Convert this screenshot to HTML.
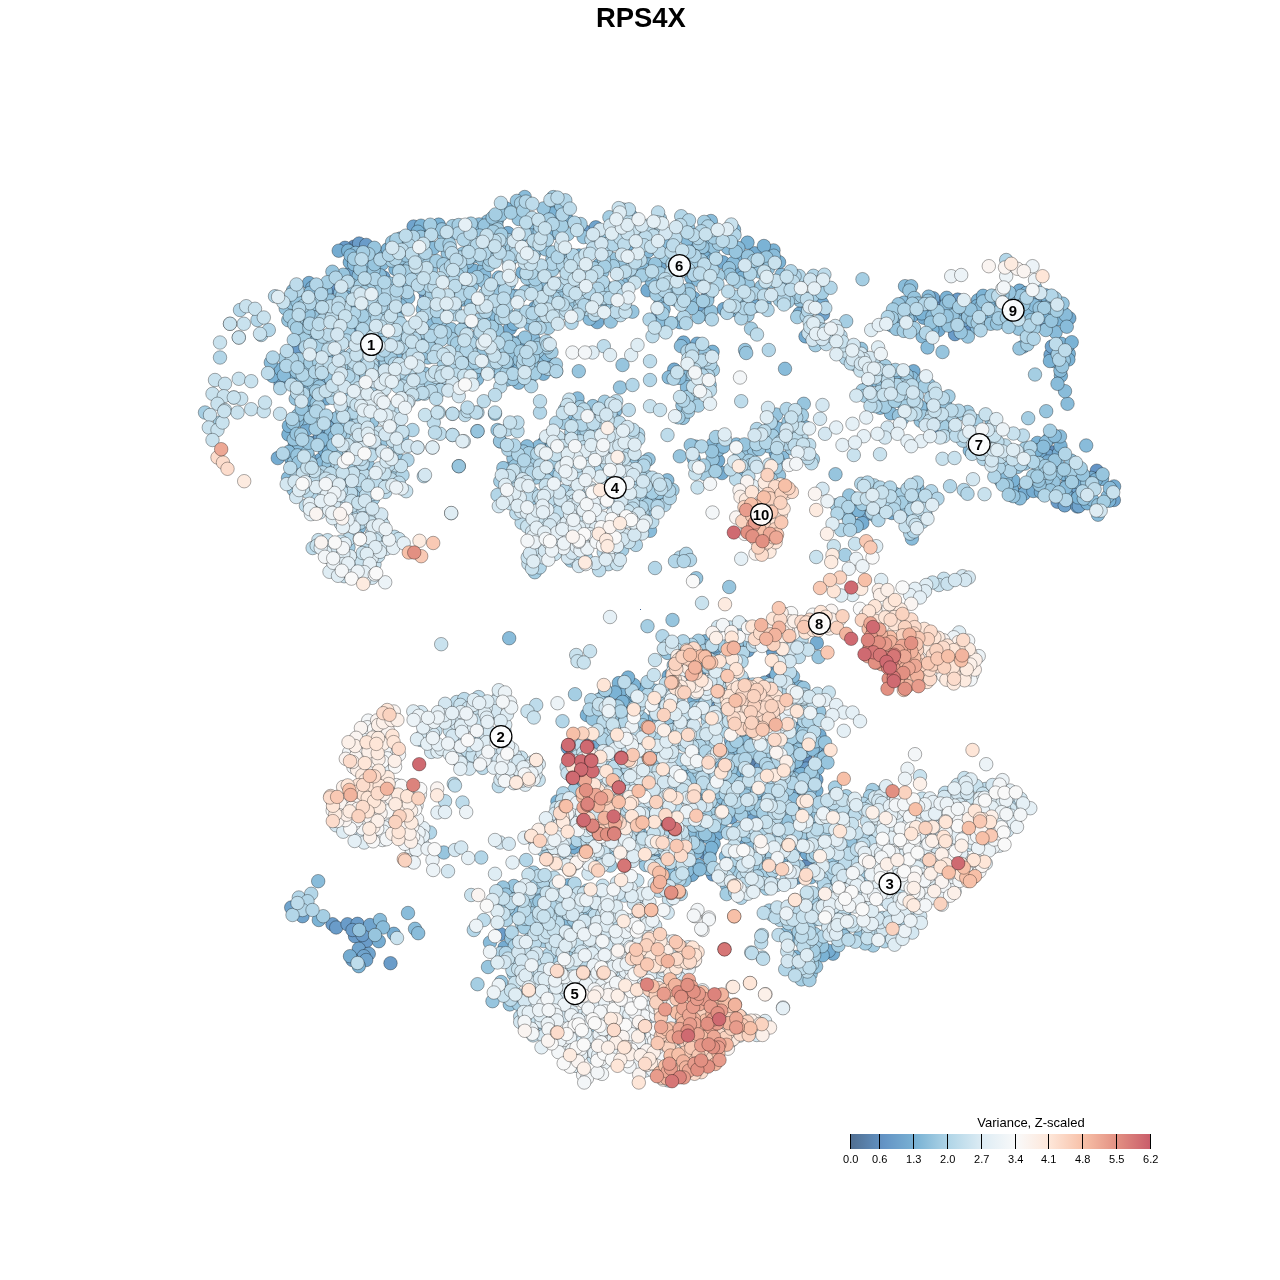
<!DOCTYPE html>
<html><head><meta charset="utf-8"><title>RPS4X</title>
<style>
html,body{margin:0;padding:0;background:#fff}
body{width:1280px;height:1280px;overflow:hidden}
svg{display:block;font-family:"Liberation Sans",sans-serif}
</style></head><body>
<svg width="1280" height="1280" viewBox="0 0 1280 1280">
<defs><linearGradient id="lg" x1="0" x2="1" y1="0" y2="0"><stop offset="0.0000" stop-color="#053061"/><stop offset="0.1111" stop-color="#2166AC"/><stop offset="0.2222" stop-color="#4393C3"/><stop offset="0.3333" stop-color="#92C5DE"/><stop offset="0.4444" stop-color="#D1E5F0"/><stop offset="0.5556" stop-color="#F7F7F7"/><stop offset="0.6667" stop-color="#FDDBC7"/><stop offset="0.7778" stop-color="#F4A582"/><stop offset="0.8889" stop-color="#D6604D"/><stop offset="1.0000" stop-color="#B2182B"/></linearGradient></defs>
<rect width="1280" height="1280" fill="#fff"/>
<text x="640.8" y="26.5" text-anchor="middle" font-size="27.4" font-weight="bold" fill="#000">RPS4X</text>
<g id="pts" stroke="#000" stroke-opacity="0.55" stroke-width="0.6">
<g fill="#5a81ab">
<circle cx="608.7" cy="698.2" r="6.75"/>
<circle cx="753.9" cy="762.7" r="6.75"/>
<circle cx="771.4" cy="680.1" r="6.75"/>
</g>
<g fill="#5f8ab8">
<circle cx="353.8" cy="246.7" r="6.75"/>
<circle cx="281.2" cy="379.8" r="6.75"/>
<circle cx="1040.8" cy="323.8" r="6.75"/>
<circle cx="935.3" cy="302.2" r="6.75"/>
<circle cx="1051.2" cy="452.2" r="6.75"/>
<circle cx="807.1" cy="865.2" r="6.75"/>
<circle cx="628.5" cy="704.1" r="6.75"/>
<circle cx="805.1" cy="756.4" r="6.75"/>
<circle cx="704.5" cy="853.0" r="6.75"/>
</g>
<g fill="#6494c5">
<circle cx="333.6" cy="287.4" r="6.75"/>
<circle cx="425.9" cy="295.4" r="6.75"/>
<circle cx="497.8" cy="348.1" r="6.75"/>
<circle cx="770.2" cy="414.7" r="6.75"/>
<circle cx="969.6" cy="327.3" r="6.75"/>
<circle cx="1027.1" cy="488.5" r="6.75"/>
<circle cx="1096.8" cy="470.7" r="6.75"/>
<circle cx="697.7" cy="778.4" r="6.75"/>
<circle cx="660.6" cy="877.7" r="6.75"/>
<circle cx="764.5" cy="730.9" r="6.75"/>
<circle cx="782.8" cy="789.8" r="6.75"/>
</g>
<g fill="#6a9cc9">
<circle cx="359.1" cy="243.5" r="6.75"/>
<circle cx="312.8" cy="442.7" r="6.75"/>
<circle cx="331.0" cy="419.2" r="6.75"/>
<circle cx="305.0" cy="362.6" r="6.75"/>
<circle cx="313.9" cy="349.2" r="6.75"/>
<circle cx="366.2" cy="244.9" r="6.75"/>
<circle cx="345.0" cy="247.8" r="6.75"/>
<circle cx="295.5" cy="349.5" r="6.75"/>
<circle cx="585.9" cy="232.0" r="6.75"/>
<circle cx="585.0" cy="290.5" r="6.75"/>
<circle cx="708.3" cy="294.7" r="6.75"/>
<circle cx="955.0" cy="334.2" r="6.75"/>
<circle cx="994.6" cy="299.2" r="6.75"/>
<circle cx="957.7" cy="299.6" r="6.75"/>
<circle cx="933.3" cy="429.0" r="6.75"/>
<circle cx="1051.5" cy="463.6" r="6.75"/>
<circle cx="1084.9" cy="487.5" r="6.75"/>
<circle cx="712.9" cy="874.5" r="6.75"/>
<circle cx="794.4" cy="788.1" r="6.75"/>
<circle cx="760.5" cy="767.7" r="6.75"/>
<circle cx="670.3" cy="682.1" r="6.75"/>
<circle cx="567.7" cy="747.7" r="6.75"/>
<circle cx="725.2" cy="651.6" r="6.75"/>
<circle cx="799.7" cy="728.2" r="6.75"/>
<circle cx="713.1" cy="707.9" r="6.75"/>
<circle cx="757.9" cy="785.0" r="6.75"/>
<circle cx="806.0" cy="768.6" r="6.75"/>
<circle cx="808.0" cy="775.2" r="6.75"/>
<circle cx="500.4" cy="934.0" r="6.75"/>
<circle cx="332.5" cy="924.2" r="6.75"/>
<circle cx="336.2" cy="927.5" r="6.75"/>
<circle cx="347.5" cy="924.2" r="6.75"/>
<circle cx="357.5" cy="923.8" r="6.75"/>
<circle cx="355.0" cy="936.2" r="6.75"/>
<circle cx="366.2" cy="941.2" r="6.75"/>
<circle cx="352.5" cy="930.0" r="6.75"/>
<circle cx="362.5" cy="935.0" r="6.75"/>
<circle cx="390.5" cy="963.2" r="6.75"/>
<circle cx="1057.5" cy="501.8" r="6.75"/>
</g>
<g fill="#70a4cd">
<circle cx="413.6" cy="226.5" r="6.75"/>
<circle cx="320.2" cy="436.2" r="6.75"/>
<circle cx="383.5" cy="277.3" r="6.75"/>
<circle cx="306.1" cy="406.9" r="6.75"/>
<circle cx="280.5" cy="383.9" r="6.75"/>
<circle cx="349.8" cy="273.4" r="6.75"/>
<circle cx="373.5" cy="252.7" r="6.75"/>
<circle cx="311.9" cy="475.3" r="6.75"/>
<circle cx="353.0" cy="332.0" r="6.75"/>
<circle cx="664.5" cy="249.9" r="6.75"/>
<circle cx="704.6" cy="310.0" r="6.75"/>
<circle cx="658.2" cy="314.0" r="6.75"/>
<circle cx="697.2" cy="247.1" r="6.75"/>
<circle cx="547.5" cy="280.5" r="6.75"/>
<circle cx="577.6" cy="268.2" r="6.75"/>
<circle cx="595.8" cy="227.3" r="6.75"/>
<circle cx="511.7" cy="366.1" r="6.75"/>
<circle cx="1041.9" cy="297.8" r="6.75"/>
<circle cx="1026.4" cy="332.2" r="6.75"/>
<circle cx="963.2" cy="320.4" r="6.75"/>
<circle cx="953.0" cy="307.9" r="6.75"/>
<circle cx="974.0" cy="314.9" r="6.75"/>
<circle cx="933.2" cy="298.2" r="6.75"/>
<circle cx="930.8" cy="309.0" r="6.75"/>
<circle cx="1038.5" cy="313.4" r="6.75"/>
<circle cx="1054.8" cy="351.1" r="6.75"/>
<circle cx="1050.5" cy="354.8" r="6.75"/>
<circle cx="1051.8" cy="346.6" r="6.75"/>
<circle cx="823.0" cy="314.1" r="6.75"/>
<circle cx="363.0" cy="492.3" r="6.75"/>
<circle cx="1113.9" cy="500.0" r="6.75"/>
<circle cx="880.1" cy="397.7" r="6.75"/>
<circle cx="1017.5" cy="494.9" r="6.75"/>
<circle cx="997.8" cy="474.2" r="6.75"/>
<circle cx="1048.2" cy="455.9" r="6.75"/>
<circle cx="1064.7" cy="505.4" r="6.75"/>
<circle cx="1077.3" cy="506.5" r="6.75"/>
<circle cx="1075.8" cy="493.3" r="6.75"/>
<circle cx="1100.0" cy="477.2" r="6.75"/>
<circle cx="1077.0" cy="486.9" r="6.75"/>
<circle cx="868.0" cy="513.7" r="6.75"/>
<circle cx="747.9" cy="650.4" r="6.75"/>
<circle cx="776.0" cy="703.0" r="6.75"/>
<circle cx="743.3" cy="847.7" r="6.75"/>
<circle cx="752.4" cy="816.5" r="6.75"/>
<circle cx="773.1" cy="651.8" r="6.75"/>
<circle cx="727.3" cy="782.5" r="6.75"/>
<circle cx="777.6" cy="667.8" r="6.75"/>
<circle cx="731.4" cy="817.3" r="6.75"/>
<circle cx="788.2" cy="864.2" r="6.75"/>
<circle cx="744.6" cy="840.3" r="6.75"/>
<circle cx="791.1" cy="795.2" r="6.75"/>
<circle cx="708.3" cy="776.5" r="6.75"/>
<circle cx="818.8" cy="750.4" r="6.75"/>
<circle cx="793.1" cy="770.6" r="6.75"/>
<circle cx="677.5" cy="674.3" r="6.75"/>
<circle cx="697.7" cy="839.0" r="6.75"/>
<circle cx="663.3" cy="746.0" r="6.75"/>
<circle cx="695.7" cy="870.5" r="6.75"/>
<circle cx="595.3" cy="714.1" r="6.75"/>
<circle cx="816.4" cy="779.7" r="6.75"/>
<circle cx="596.0" cy="864.1" r="6.75"/>
<circle cx="291.2" cy="907.5" r="6.75"/>
<circle cx="302.5" cy="916.2" r="6.75"/>
<circle cx="300.0" cy="900.0" r="6.75"/>
<circle cx="370.0" cy="925.0" r="6.75"/>
<circle cx="358.8" cy="948.8" r="6.75"/>
<circle cx="368.8" cy="953.8" r="6.75"/>
<circle cx="363.8" cy="956.2" r="6.75"/>
<circle cx="366.2" cy="960.0" r="6.75"/>
<circle cx="352.5" cy="960.0" r="6.75"/>
<circle cx="1078.8" cy="506.2" r="6.75"/>
</g>
<g fill="#75acd1">
<circle cx="320.2" cy="459.9" r="6.75"/>
<circle cx="293.4" cy="367.0" r="6.75"/>
<circle cx="319.7" cy="380.9" r="6.75"/>
<circle cx="312.6" cy="396.0" r="6.75"/>
<circle cx="406.3" cy="260.0" r="6.75"/>
<circle cx="371.4" cy="389.0" r="6.75"/>
<circle cx="277.8" cy="458.1" r="6.75"/>
<circle cx="309.0" cy="283.0" r="6.75"/>
<circle cx="404.9" cy="285.6" r="6.75"/>
<circle cx="483.7" cy="347.9" r="6.75"/>
<circle cx="372.8" cy="347.9" r="6.75"/>
<circle cx="356.7" cy="281.7" r="6.75"/>
<circle cx="465.7" cy="230.3" r="6.75"/>
<circle cx="335.6" cy="326.5" r="6.75"/>
<circle cx="349.1" cy="296.7" r="6.75"/>
<circle cx="406.4" cy="348.9" r="6.75"/>
<circle cx="478.9" cy="229.5" r="6.75"/>
<circle cx="363.3" cy="273.2" r="6.75"/>
<circle cx="313.0" cy="404.7" r="6.75"/>
<circle cx="324.8" cy="450.4" r="6.75"/>
<circle cx="465.8" cy="324.5" r="6.75"/>
<circle cx="303.0" cy="378.7" r="6.75"/>
<circle cx="421.4" cy="272.1" r="6.75"/>
<circle cx="327.7" cy="427.1" r="6.75"/>
<circle cx="306.8" cy="429.3" r="6.75"/>
<circle cx="428.6" cy="230.8" r="6.75"/>
<circle cx="426.9" cy="237.7" r="6.75"/>
<circle cx="312.2" cy="287.8" r="6.75"/>
<circle cx="303.3" cy="452.3" r="6.75"/>
<circle cx="338.7" cy="250.7" r="6.75"/>
<circle cx="326.1" cy="398.5" r="6.75"/>
<circle cx="722.9" cy="262.3" r="6.75"/>
<circle cx="693.7" cy="298.0" r="6.75"/>
<circle cx="723.8" cy="309.0" r="6.75"/>
<circle cx="754.6" cy="253.3" r="6.75"/>
<circle cx="659.7" cy="267.3" r="6.75"/>
<circle cx="535.0" cy="307.8" r="6.75"/>
<circle cx="509.9" cy="328.5" r="6.75"/>
<circle cx="529.1" cy="259.9" r="6.75"/>
<circle cx="741.2" cy="270.4" r="6.75"/>
<circle cx="597.2" cy="322.1" r="6.75"/>
<circle cx="799.5" cy="313.6" r="6.75"/>
<circle cx="805.5" cy="336.4" r="6.75"/>
<circle cx="755.7" cy="306.1" r="6.75"/>
<circle cx="665.6" cy="323.3" r="6.75"/>
<circle cx="749.9" cy="260.1" r="6.75"/>
<circle cx="647.5" cy="290.3" r="6.75"/>
<circle cx="507.9" cy="233.1" r="6.75"/>
<circle cx="531.2" cy="352.5" r="6.75"/>
<circle cx="519.4" cy="342.2" r="6.75"/>
<circle cx="546.1" cy="363.6" r="6.75"/>
<circle cx="683.5" cy="342.5" r="6.75"/>
<circle cx="697.1" cy="343.7" r="6.75"/>
<circle cx="674.2" cy="369.6" r="6.75"/>
<circle cx="542.4" cy="469.4" r="6.75"/>
<circle cx="722.0" cy="473.1" r="6.75"/>
<circle cx="718.1" cy="460.7" r="6.75"/>
<circle cx="775.8" cy="453.2" r="6.75"/>
<circle cx="985.3" cy="322.1" r="6.75"/>
<circle cx="923.7" cy="317.7" r="6.75"/>
<circle cx="1018.1" cy="301.7" r="6.75"/>
<circle cx="1019.5" cy="290.6" r="6.75"/>
<circle cx="926.4" cy="310.4" r="6.75"/>
<circle cx="911.3" cy="316.6" r="6.75"/>
<circle cx="1021.0" cy="308.5" r="6.75"/>
<circle cx="1069.3" cy="318.2" r="6.75"/>
<circle cx="938.6" cy="330.1" r="6.75"/>
<circle cx="1025.9" cy="321.7" r="6.75"/>
<circle cx="1062.1" cy="360.4" r="6.75"/>
<circle cx="821.9" cy="303.2" r="6.75"/>
<circle cx="913.5" cy="371.2" r="6.75"/>
<circle cx="354.9" cy="498.3" r="6.75"/>
<circle cx="663.9" cy="493.7" r="6.75"/>
<circle cx="1114.1" cy="486.4" r="6.75"/>
<circle cx="832.6" cy="825.6" r="6.75"/>
<circle cx="833.0" cy="953.7" r="6.75"/>
<circle cx="831.9" cy="834.9" r="6.75"/>
<circle cx="828.8" cy="950.9" r="6.75"/>
<circle cx="1076.7" cy="482.0" r="6.75"/>
<circle cx="1024.1" cy="493.8" r="6.75"/>
<circle cx="1039.5" cy="453.6" r="6.75"/>
<circle cx="1047.9" cy="461.5" r="6.75"/>
<circle cx="1043.5" cy="481.1" r="6.75"/>
<circle cx="1091.4" cy="477.9" r="6.75"/>
<circle cx="1058.9" cy="453.3" r="6.75"/>
<circle cx="1033.3" cy="491.0" r="6.75"/>
<circle cx="1040.9" cy="492.0" r="6.75"/>
<circle cx="1067.4" cy="484.0" r="6.75"/>
<circle cx="916.0" cy="507.6" r="6.75"/>
<circle cx="851.7" cy="511.7" r="6.75"/>
<circle cx="891.8" cy="513.0" r="6.75"/>
<circle cx="862.3" cy="523.0" r="6.75"/>
<circle cx="575.1" cy="847.7" r="6.75"/>
<circle cx="655.8" cy="827.4" r="6.75"/>
<circle cx="731.1" cy="740.7" r="6.75"/>
<circle cx="587.3" cy="772.3" r="6.75"/>
<circle cx="813.3" cy="801.2" r="6.75"/>
<circle cx="717.4" cy="652.2" r="6.75"/>
<circle cx="684.7" cy="773.2" r="6.75"/>
<circle cx="680.6" cy="711.6" r="6.75"/>
<circle cx="731.3" cy="651.9" r="6.75"/>
<circle cx="794.9" cy="640.5" r="6.75"/>
<circle cx="800.9" cy="872.4" r="6.75"/>
<circle cx="667.2" cy="821.3" r="6.75"/>
<circle cx="718.3" cy="731.6" r="6.75"/>
<circle cx="703.0" cy="792.9" r="6.75"/>
<circle cx="806.7" cy="853.5" r="6.75"/>
<circle cx="691.9" cy="874.9" r="6.75"/>
<circle cx="716.8" cy="645.5" r="6.75"/>
<circle cx="753.6" cy="788.8" r="6.75"/>
<circle cx="743.3" cy="681.2" r="6.75"/>
<circle cx="709.7" cy="851.9" r="6.75"/>
<circle cx="699.5" cy="671.5" r="6.75"/>
<circle cx="657.4" cy="854.7" r="6.75"/>
<circle cx="580.8" cy="740.6" r="6.75"/>
<circle cx="602.8" cy="697.3" r="6.75"/>
<circle cx="755.2" cy="797.2" r="6.75"/>
<circle cx="619.2" cy="837.1" r="6.75"/>
<circle cx="765.9" cy="644.2" r="6.75"/>
<circle cx="786.1" cy="753.4" r="6.75"/>
<circle cx="717.7" cy="833.5" r="6.75"/>
<circle cx="796.8" cy="877.7" r="6.75"/>
<circle cx="682.2" cy="659.2" r="6.75"/>
<circle cx="819.5" cy="735.3" r="6.75"/>
<circle cx="704.6" cy="829.7" r="6.75"/>
<circle cx="816.4" cy="746.3" r="6.75"/>
<circle cx="668.6" cy="676.1" r="6.75"/>
<circle cx="592.8" cy="747.2" r="6.75"/>
<circle cx="816.8" cy="642.9" r="6.75"/>
<circle cx="508.4" cy="915.8" r="6.75"/>
<circle cx="504.6" cy="947.4" r="6.75"/>
<circle cx="378.8" cy="941.2" r="6.75"/>
<circle cx="393.8" cy="933.8" r="6.75"/>
<circle cx="350.0" cy="956.2" r="6.75"/>
</g>
<g fill="#7bb3d5">
<circle cx="324.3" cy="299.5" r="6.75"/>
<circle cx="410.0" cy="258.0" r="6.75"/>
<circle cx="377.3" cy="256.2" r="6.75"/>
<circle cx="400.7" cy="238.4" r="6.75"/>
<circle cx="387.7" cy="249.3" r="6.75"/>
<circle cx="396.3" cy="310.6" r="6.75"/>
<circle cx="438.7" cy="224.6" r="6.75"/>
<circle cx="368.4" cy="296.9" r="6.75"/>
<circle cx="498.0" cy="315.8" r="6.75"/>
<circle cx="314.3" cy="419.2" r="6.75"/>
<circle cx="463.0" cy="299.6" r="6.75"/>
<circle cx="458.6" cy="282.4" r="6.75"/>
<circle cx="496.9" cy="220.4" r="6.75"/>
<circle cx="291.3" cy="459.1" r="6.75"/>
<circle cx="365.3" cy="306.3" r="6.75"/>
<circle cx="348.2" cy="250.7" r="6.75"/>
<circle cx="380.5" cy="367.1" r="6.75"/>
<circle cx="371.0" cy="326.9" r="6.75"/>
<circle cx="288.4" cy="434.4" r="6.75"/>
<circle cx="314.4" cy="298.9" r="6.75"/>
<circle cx="364.6" cy="282.5" r="6.75"/>
<circle cx="315.3" cy="465.5" r="6.75"/>
<circle cx="305.9" cy="310.3" r="6.75"/>
<circle cx="429.2" cy="330.6" r="6.75"/>
<circle cx="316.2" cy="337.3" r="6.75"/>
<circle cx="272.7" cy="376.0" r="6.75"/>
<circle cx="349.8" cy="262.2" r="6.75"/>
<circle cx="329.1" cy="451.9" r="6.75"/>
<circle cx="344.9" cy="369.4" r="6.75"/>
<circle cx="331.2" cy="353.2" r="6.75"/>
<circle cx="425.7" cy="340.2" r="6.75"/>
<circle cx="377.5" cy="298.6" r="6.75"/>
<circle cx="474.0" cy="270.6" r="6.75"/>
<circle cx="288.9" cy="425.9" r="6.75"/>
<circle cx="280.9" cy="369.5" r="6.75"/>
<circle cx="421.0" cy="225.7" r="6.75"/>
<circle cx="294.5" cy="446.2" r="6.75"/>
<circle cx="395.4" cy="268.9" r="6.75"/>
<circle cx="466.5" cy="287.2" r="6.75"/>
<circle cx="305.9" cy="323.7" r="6.75"/>
<circle cx="377.6" cy="352.5" r="6.75"/>
<circle cx="352.7" cy="307.0" r="6.75"/>
<circle cx="293.6" cy="380.0" r="6.75"/>
<circle cx="375.9" cy="330.2" r="6.75"/>
<circle cx="306.0" cy="399.8" r="6.75"/>
<circle cx="417.8" cy="231.7" r="6.75"/>
<circle cx="391.5" cy="322.6" r="6.75"/>
<circle cx="303.1" cy="445.8" r="6.75"/>
<circle cx="497.3" cy="287.9" r="6.75"/>
<circle cx="764.5" cy="303.3" r="6.75"/>
<circle cx="519.8" cy="238.9" r="6.75"/>
<circle cx="773.5" cy="250.4" r="6.75"/>
<circle cx="743.8" cy="258.1" r="6.75"/>
<circle cx="513.9" cy="323.7" r="6.75"/>
<circle cx="732.7" cy="310.0" r="6.75"/>
<circle cx="599.2" cy="265.0" r="6.75"/>
<circle cx="763.9" cy="246.0" r="6.75"/>
<circle cx="691.3" cy="277.7" r="6.75"/>
<circle cx="630.7" cy="243.4" r="6.75"/>
<circle cx="552.7" cy="203.3" r="6.75"/>
<circle cx="506.3" cy="208.6" r="6.75"/>
<circle cx="779.1" cy="262.2" r="6.75"/>
<circle cx="747.5" cy="242.6" r="6.75"/>
<circle cx="579.0" cy="255.4" r="6.75"/>
<circle cx="567.2" cy="219.8" r="6.75"/>
<circle cx="558.5" cy="218.5" r="6.75"/>
<circle cx="522.4" cy="272.4" r="6.75"/>
<circle cx="713.0" cy="254.9" r="6.75"/>
<circle cx="553.2" cy="233.0" r="6.75"/>
<circle cx="532.8" cy="282.7" r="6.75"/>
<circle cx="703.7" cy="250.9" r="6.75"/>
<circle cx="679.9" cy="322.2" r="6.75"/>
<circle cx="515.6" cy="296.1" r="6.75"/>
<circle cx="742.3" cy="277.7" r="6.75"/>
<circle cx="559.3" cy="201.7" r="6.75"/>
<circle cx="535.3" cy="264.2" r="6.75"/>
<circle cx="552.8" cy="213.5" r="6.75"/>
<circle cx="510.2" cy="341.5" r="6.75"/>
<circle cx="512.9" cy="359.5" r="6.75"/>
<circle cx="519.3" cy="369.1" r="6.75"/>
<circle cx="543.5" cy="373.8" r="6.75"/>
<circle cx="700.5" cy="393.4" r="6.75"/>
<circle cx="712.6" cy="351.8" r="6.75"/>
<circle cx="568.5" cy="447.0" r="6.75"/>
<circle cx="573.1" cy="418.9" r="6.75"/>
<circle cx="522.2" cy="464.8" r="6.75"/>
<circle cx="629.9" cy="456.8" r="6.75"/>
<circle cx="500.6" cy="441.6" r="6.75"/>
<circle cx="543.9" cy="443.1" r="6.75"/>
<circle cx="779.3" cy="438.1" r="6.75"/>
<circle cx="741.5" cy="477.8" r="6.75"/>
<circle cx="772.1" cy="441.5" r="6.75"/>
<circle cx="693.7" cy="458.6" r="6.75"/>
<circle cx="992.4" cy="306.8" r="6.75"/>
<circle cx="887.9" cy="321.5" r="6.75"/>
<circle cx="984.2" cy="314.4" r="6.75"/>
<circle cx="1047.8" cy="318.7" r="6.75"/>
<circle cx="920.9" cy="308.0" r="6.75"/>
<circle cx="978.0" cy="300.3" r="6.75"/>
<circle cx="1047.8" cy="302.8" r="6.75"/>
<circle cx="1062.1" cy="311.8" r="6.75"/>
<circle cx="932.4" cy="329.6" r="6.75"/>
<circle cx="1058.5" cy="319.3" r="6.75"/>
<circle cx="1030.2" cy="301.8" r="6.75"/>
<circle cx="976.8" cy="306.2" r="6.75"/>
<circle cx="989.4" cy="299.8" r="6.75"/>
<circle cx="1026.3" cy="293.0" r="6.75"/>
<circle cx="946.7" cy="297.8" r="6.75"/>
<circle cx="955.5" cy="311.5" r="6.75"/>
<circle cx="1045.4" cy="295.2" r="6.75"/>
<circle cx="1023.2" cy="346.6" r="6.75"/>
<circle cx="899.8" cy="311.1" r="6.75"/>
<circle cx="983.1" cy="295.8" r="6.75"/>
<circle cx="1030.9" cy="309.3" r="6.75"/>
<circle cx="1005.8" cy="321.7" r="6.75"/>
<circle cx="921.8" cy="313.4" r="6.75"/>
<circle cx="1059.9" cy="348.2" r="6.75"/>
<circle cx="1054.2" cy="361.1" r="6.75"/>
<circle cx="1068.8" cy="353.8" r="6.75"/>
<circle cx="1067.6" cy="345.9" r="6.75"/>
<circle cx="1061.3" cy="343.8" r="6.75"/>
<circle cx="1068.4" cy="359.5" r="6.75"/>
<circle cx="1049.9" cy="361.0" r="6.75"/>
<circle cx="1071.7" cy="342.2" r="6.75"/>
<circle cx="1060.9" cy="375.7" r="6.75"/>
<circle cx="903.3" cy="379.0" r="6.75"/>
<circle cx="896.9" cy="379.1" r="6.75"/>
<circle cx="1102.0" cy="478.9" r="6.75"/>
<circle cx="1109.2" cy="500.7" r="6.75"/>
<circle cx="862.8" cy="931.9" r="6.75"/>
<circle cx="827.8" cy="882.2" r="6.75"/>
<circle cx="822.7" cy="955.3" r="6.75"/>
<circle cx="929.8" cy="409.3" r="6.75"/>
<circle cx="950.0" cy="431.7" r="6.75"/>
<circle cx="902.0" cy="402.3" r="6.75"/>
<circle cx="1095.9" cy="479.7" r="6.75"/>
<circle cx="1013.2" cy="484.8" r="6.75"/>
<circle cx="1063.9" cy="473.8" r="6.75"/>
<circle cx="1065.3" cy="492.7" r="6.75"/>
<circle cx="1078.1" cy="497.4" r="6.75"/>
<circle cx="1011.9" cy="489.6" r="6.75"/>
<circle cx="1037.4" cy="442.9" r="6.75"/>
<circle cx="1037.0" cy="450.2" r="6.75"/>
<circle cx="1071.6" cy="476.0" r="6.75"/>
<circle cx="1049.4" cy="438.2" r="6.75"/>
<circle cx="1087.4" cy="503.3" r="6.75"/>
<circle cx="1013.3" cy="480.4" r="6.75"/>
<circle cx="1060.5" cy="445.9" r="6.75"/>
<circle cx="852.2" cy="524.1" r="6.75"/>
<circle cx="850.4" cy="503.4" r="6.75"/>
<circle cx="858.6" cy="510.6" r="6.75"/>
<circle cx="906.3" cy="504.6" r="6.75"/>
<circle cx="725.6" cy="701.1" r="6.75"/>
<circle cx="783.8" cy="666.9" r="6.75"/>
<circle cx="667.7" cy="761.2" r="6.75"/>
<circle cx="565.5" cy="806.6" r="6.75"/>
<circle cx="730.3" cy="751.9" r="6.75"/>
<circle cx="613.5" cy="720.1" r="6.75"/>
<circle cx="686.6" cy="666.8" r="6.75"/>
<circle cx="602.8" cy="711.5" r="6.75"/>
<circle cx="705.1" cy="641.3" r="6.75"/>
<circle cx="807.1" cy="784.7" r="6.75"/>
<circle cx="713.7" cy="843.7" r="6.75"/>
<circle cx="708.9" cy="837.6" r="6.75"/>
<circle cx="765.3" cy="696.1" r="6.75"/>
<circle cx="764.7" cy="682.6" r="6.75"/>
<circle cx="625.0" cy="712.4" r="6.75"/>
<circle cx="740.4" cy="768.5" r="6.75"/>
<circle cx="800.9" cy="774.0" r="6.75"/>
<circle cx="649.2" cy="721.5" r="6.75"/>
<circle cx="711.5" cy="847.9" r="6.75"/>
<circle cx="698.2" cy="865.6" r="6.75"/>
<circle cx="739.7" cy="772.7" r="6.75"/>
<circle cx="791.1" cy="804.7" r="6.75"/>
<circle cx="761.8" cy="828.3" r="6.75"/>
<circle cx="743.3" cy="787.1" r="6.75"/>
<circle cx="636.0" cy="740.6" r="6.75"/>
<circle cx="718.2" cy="662.2" r="6.75"/>
<circle cx="746.7" cy="808.7" r="6.75"/>
<circle cx="783.8" cy="741.6" r="6.75"/>
<circle cx="758.8" cy="752.6" r="6.75"/>
<circle cx="690.0" cy="788.8" r="6.75"/>
<circle cx="799.6" cy="687.0" r="6.75"/>
<circle cx="726.7" cy="690.4" r="6.75"/>
<circle cx="557.4" cy="801.4" r="6.75"/>
<circle cx="776.4" cy="674.3" r="6.75"/>
<circle cx="722.2" cy="669.1" r="6.75"/>
<circle cx="745.0" cy="723.6" r="6.75"/>
<circle cx="803.7" cy="841.2" r="6.75"/>
<circle cx="605.1" cy="772.3" r="6.75"/>
<circle cx="664.9" cy="873.2" r="6.75"/>
<circle cx="765.1" cy="757.3" r="6.75"/>
<circle cx="747.9" cy="699.9" r="6.75"/>
<circle cx="587.7" cy="737.4" r="6.75"/>
<circle cx="655.3" cy="701.6" r="6.75"/>
<circle cx="816.4" cy="790.6" r="6.75"/>
<circle cx="745.2" cy="778.6" r="6.75"/>
<circle cx="754.5" cy="708.5" r="6.75"/>
<circle cx="734.2" cy="772.9" r="6.75"/>
<circle cx="572.8" cy="842.7" r="6.75"/>
<circle cx="573.2" cy="831.7" r="6.75"/>
<circle cx="746.8" cy="694.7" r="6.75"/>
<circle cx="752.1" cy="692.7" r="6.75"/>
<circle cx="694.3" cy="699.8" r="6.75"/>
<circle cx="804.6" cy="794.5" r="6.75"/>
<circle cx="782.7" cy="857.2" r="6.75"/>
<circle cx="644.6" cy="688.7" r="6.75"/>
<circle cx="741.0" cy="693.7" r="6.75"/>
<circle cx="671.2" cy="842.6" r="6.75"/>
<circle cx="780.5" cy="818.4" r="6.75"/>
<circle cx="795.1" cy="849.8" r="6.75"/>
<circle cx="748.0" cy="1034.0" r="6.75"/>
<circle cx="568.3" cy="885.2" r="6.75"/>
<circle cx="796.6" cy="936.5" r="6.75"/>
<circle cx="796.0" cy="956.9" r="6.75"/>
<circle cx="318.8" cy="920.0" r="6.75"/>
<circle cx="358.8" cy="966.2" r="6.75"/>
<circle cx="898.8" cy="496.2" r="6.75"/>
<circle cx="618.8" cy="683.1" r="6.75"/>
<circle cx="626.2" cy="692.5" r="6.75"/>
<circle cx="633.8" cy="685.0" r="6.75"/>
<circle cx="630.0" cy="700.0" r="6.75"/>
<circle cx="586.9" cy="715.0" r="6.75"/>
<circle cx="663.0" cy="692.5" r="6.75"/>
<circle cx="615.0" cy="692.5" r="6.75"/>
<circle cx="635.6" cy="696.2" r="6.75"/>
<circle cx="628.1" cy="677.5" r="6.75"/>
<circle cx="622.5" cy="701.9" r="6.75"/>
</g>
<g fill="#89bcda">
<circle cx="340.2" cy="292.7" r="6.75"/>
<circle cx="454.7" cy="296.6" r="6.75"/>
<circle cx="467.2" cy="261.9" r="6.75"/>
<circle cx="333.0" cy="462.7" r="6.75"/>
<circle cx="292.4" cy="309.3" r="6.75"/>
<circle cx="416.0" cy="350.8" r="6.75"/>
<circle cx="303.6" cy="418.2" r="6.75"/>
<circle cx="307.3" cy="373.4" r="6.75"/>
<circle cx="310.1" cy="292.8" r="6.75"/>
<circle cx="358.8" cy="275.5" r="6.75"/>
<circle cx="432.3" cy="322.1" r="6.75"/>
<circle cx="318.2" cy="310.7" r="6.75"/>
<circle cx="483.9" cy="269.2" r="6.75"/>
<circle cx="487.5" cy="221.4" r="6.75"/>
<circle cx="473.7" cy="256.3" r="6.75"/>
<circle cx="490.5" cy="254.0" r="6.75"/>
<circle cx="355.7" cy="252.9" r="6.75"/>
<circle cx="332.9" cy="312.6" r="6.75"/>
<circle cx="434.6" cy="341.8" r="6.75"/>
<circle cx="479.1" cy="224.4" r="6.75"/>
<circle cx="477.0" cy="379.2" r="6.75"/>
<circle cx="489.5" cy="315.5" r="6.75"/>
<circle cx="330.9" cy="433.3" r="6.75"/>
<circle cx="447.9" cy="239.0" r="6.75"/>
<circle cx="408.2" cy="297.8" r="6.75"/>
<circle cx="309.9" cy="387.8" r="6.75"/>
<circle cx="361.0" cy="427.2" r="6.75"/>
<circle cx="371.6" cy="256.5" r="6.75"/>
<circle cx="367.7" cy="258.6" r="6.75"/>
<circle cx="308.4" cy="456.9" r="6.75"/>
<circle cx="322.7" cy="439.5" r="6.75"/>
<circle cx="288.0" cy="478.0" r="6.75"/>
<circle cx="352.8" cy="420.9" r="6.75"/>
<circle cx="383.6" cy="313.2" r="6.75"/>
<circle cx="470.8" cy="301.8" r="6.75"/>
<circle cx="382.0" cy="263.8" r="6.75"/>
<circle cx="418.7" cy="381.0" r="6.75"/>
<circle cx="422.8" cy="309.1" r="6.75"/>
<circle cx="288.9" cy="451.9" r="6.75"/>
<circle cx="408.8" cy="374.6" r="6.75"/>
<circle cx="358.7" cy="323.0" r="6.75"/>
<circle cx="350.5" cy="255.5" r="6.75"/>
<circle cx="433.4" cy="248.1" r="6.75"/>
<circle cx="270.8" cy="362.5" r="6.75"/>
<circle cx="455.0" cy="307.9" r="6.75"/>
<circle cx="404.0" cy="335.7" r="6.75"/>
<circle cx="393.8" cy="341.7" r="6.75"/>
<circle cx="342.4" cy="332.3" r="6.75"/>
<circle cx="322.2" cy="463.3" r="6.75"/>
<circle cx="293.0" cy="290.7" r="6.75"/>
<circle cx="484.4" cy="275.2" r="6.75"/>
<circle cx="325.8" cy="291.1" r="6.75"/>
<circle cx="493.3" cy="371.0" r="6.75"/>
<circle cx="470.5" cy="247.2" r="6.75"/>
<circle cx="484.0" cy="320.8" r="6.75"/>
<circle cx="334.8" cy="436.5" r="6.75"/>
<circle cx="354.1" cy="264.3" r="6.75"/>
<circle cx="379.8" cy="275.2" r="6.75"/>
<circle cx="400.4" cy="305.3" r="6.75"/>
<circle cx="298.6" cy="383.9" r="6.75"/>
<circle cx="336.1" cy="357.1" r="6.75"/>
<circle cx="392.8" cy="431.7" r="6.75"/>
<circle cx="362.7" cy="265.0" r="6.75"/>
<circle cx="485.1" cy="300.0" r="6.75"/>
<circle cx="434.6" cy="297.4" r="6.75"/>
<circle cx="283.9" cy="375.2" r="6.75"/>
<circle cx="395.5" cy="355.3" r="6.75"/>
<circle cx="300.3" cy="337.5" r="6.75"/>
<circle cx="367.3" cy="268.4" r="6.75"/>
<circle cx="343.9" cy="300.0" r="6.75"/>
<circle cx="486.3" cy="245.3" r="6.75"/>
<circle cx="317.5" cy="375.7" r="6.75"/>
<circle cx="298.3" cy="473.5" r="6.75"/>
<circle cx="324.6" cy="313.1" r="6.75"/>
<circle cx="299.1" cy="443.9" r="6.75"/>
<circle cx="450.5" cy="378.7" r="6.75"/>
<circle cx="498.7" cy="277.4" r="6.75"/>
<circle cx="314.7" cy="342.6" r="6.75"/>
<circle cx="297.2" cy="420.5" r="6.75"/>
<circle cx="311.3" cy="412.7" r="6.75"/>
<circle cx="427.9" cy="290.5" r="6.75"/>
<circle cx="473.7" cy="373.3" r="6.75"/>
<circle cx="647.3" cy="251.6" r="6.75"/>
<circle cx="630.9" cy="215.8" r="6.75"/>
<circle cx="651.7" cy="280.9" r="6.75"/>
<circle cx="742.8" cy="284.4" r="6.75"/>
<circle cx="773.7" cy="255.7" r="6.75"/>
<circle cx="530.3" cy="324.6" r="6.75"/>
<circle cx="691.3" cy="301.7" r="6.75"/>
<circle cx="781.4" cy="275.0" r="6.75"/>
<circle cx="627.9" cy="283.8" r="6.75"/>
<circle cx="710.9" cy="221.0" r="6.75"/>
<circle cx="535.6" cy="230.0" r="6.75"/>
<circle cx="532.5" cy="222.2" r="6.75"/>
<circle cx="510.4" cy="295.5" r="6.75"/>
<circle cx="542.8" cy="283.4" r="6.75"/>
<circle cx="524.7" cy="197.0" r="6.75"/>
<circle cx="675.7" cy="299.7" r="6.75"/>
<circle cx="660.1" cy="304.5" r="6.75"/>
<circle cx="728.0" cy="248.0" r="6.75"/>
<circle cx="668.1" cy="242.6" r="6.75"/>
<circle cx="662.3" cy="320.9" r="6.75"/>
<circle cx="613.7" cy="240.3" r="6.75"/>
<circle cx="647.3" cy="264.4" r="6.75"/>
<circle cx="734.0" cy="229.6" r="6.75"/>
<circle cx="556.7" cy="265.5" r="6.75"/>
<circle cx="733.2" cy="263.1" r="6.75"/>
<circle cx="687.3" cy="239.7" r="6.75"/>
<circle cx="643.2" cy="268.7" r="6.75"/>
<circle cx="800.8" cy="283.0" r="6.75"/>
<circle cx="709.0" cy="245.5" r="6.75"/>
<circle cx="663.6" cy="309.3" r="6.75"/>
<circle cx="741.1" cy="298.5" r="6.75"/>
<circle cx="762.7" cy="264.5" r="6.75"/>
<circle cx="674.6" cy="295.0" r="6.75"/>
<circle cx="507.0" cy="279.6" r="6.75"/>
<circle cx="787.1" cy="285.8" r="6.75"/>
<circle cx="589.6" cy="318.8" r="6.75"/>
<circle cx="698.1" cy="280.1" r="6.75"/>
<circle cx="606.0" cy="307.9" r="6.75"/>
<circle cx="738.4" cy="248.1" r="6.75"/>
<circle cx="665.4" cy="295.3" r="6.75"/>
<circle cx="709.1" cy="266.4" r="6.75"/>
<circle cx="531.8" cy="361.6" r="6.75"/>
<circle cx="533.8" cy="344.0" r="6.75"/>
<circle cx="542.2" cy="348.0" r="6.75"/>
<circle cx="529.7" cy="378.6" r="6.75"/>
<circle cx="533.3" cy="338.6" r="6.75"/>
<circle cx="540.5" cy="355.3" r="6.75"/>
<circle cx="546.8" cy="354.8" r="6.75"/>
<circle cx="518.6" cy="382.7" r="6.75"/>
<circle cx="680.9" cy="346.1" r="6.75"/>
<circle cx="686.6" cy="376.6" r="6.75"/>
<circle cx="687.0" cy="387.2" r="6.75"/>
<circle cx="679.5" cy="377.9" r="6.75"/>
<circle cx="668.7" cy="377.4" r="6.75"/>
<circle cx="693.6" cy="392.0" r="6.75"/>
<circle cx="538.9" cy="446.4" r="6.75"/>
<circle cx="577.5" cy="398.4" r="6.75"/>
<circle cx="527.0" cy="446.3" r="6.75"/>
<circle cx="628.9" cy="450.4" r="6.75"/>
<circle cx="615.2" cy="411.1" r="6.75"/>
<circle cx="627.6" cy="477.1" r="6.75"/>
<circle cx="569.1" cy="413.2" r="6.75"/>
<circle cx="568.1" cy="458.1" r="6.75"/>
<circle cx="639.7" cy="464.2" r="6.75"/>
<circle cx="547.8" cy="474.0" r="6.75"/>
<circle cx="555.7" cy="471.2" r="6.75"/>
<circle cx="774.3" cy="426.6" r="6.75"/>
<circle cx="718.4" cy="449.7" r="6.75"/>
<circle cx="778.5" cy="428.6" r="6.75"/>
<circle cx="695.3" cy="446.5" r="6.75"/>
<circle cx="713.1" cy="443.9" r="6.75"/>
<circle cx="736.3" cy="444.4" r="6.75"/>
<circle cx="723.3" cy="446.7" r="6.75"/>
<circle cx="898.2" cy="320.6" r="6.75"/>
<circle cx="946.3" cy="304.7" r="6.75"/>
<circle cx="904.0" cy="302.6" r="6.75"/>
<circle cx="1065.6" cy="315.0" r="6.75"/>
<circle cx="1055.6" cy="332.3" r="6.75"/>
<circle cx="1013.3" cy="318.8" r="6.75"/>
<circle cx="1021.7" cy="317.1" r="6.75"/>
<circle cx="1016.8" cy="309.3" r="6.75"/>
<circle cx="950.8" cy="320.5" r="6.75"/>
<circle cx="976.9" cy="327.6" r="6.75"/>
<circle cx="932.5" cy="316.3" r="6.75"/>
<circle cx="994.3" cy="315.3" r="6.75"/>
<circle cx="1008.6" cy="298.9" r="6.75"/>
<circle cx="1027.2" cy="311.5" r="6.75"/>
<circle cx="1066.8" cy="326.7" r="6.75"/>
<circle cx="922.6" cy="336.5" r="6.75"/>
<circle cx="928.6" cy="296.6" r="6.75"/>
<circle cx="1034.5" cy="305.4" r="6.75"/>
<circle cx="955.5" cy="319.6" r="6.75"/>
<circle cx="903.0" cy="325.9" r="6.75"/>
<circle cx="891.7" cy="325.5" r="6.75"/>
<circle cx="1048.3" cy="306.9" r="6.75"/>
<circle cx="981.4" cy="306.4" r="6.75"/>
<circle cx="1062.5" cy="353.5" r="6.75"/>
<circle cx="1060.4" cy="370.6" r="6.75"/>
<circle cx="874.5" cy="380.0" r="6.75"/>
<circle cx="912.1" cy="378.1" r="6.75"/>
<circle cx="878.7" cy="374.8" r="6.75"/>
<circle cx="881.3" cy="378.6" r="6.75"/>
<circle cx="359.0" cy="527.7" r="6.75"/>
<circle cx="650.0" cy="530.8" r="6.75"/>
<circle cx="667.3" cy="480.3" r="6.75"/>
<circle cx="647.8" cy="495.7" r="6.75"/>
<circle cx="1107.7" cy="496.4" r="6.75"/>
<circle cx="1109.8" cy="488.0" r="6.75"/>
<circle cx="832.4" cy="918.5" r="6.75"/>
<circle cx="880.0" cy="407.8" r="6.75"/>
<circle cx="940.1" cy="409.6" r="6.75"/>
<circle cx="890.8" cy="413.4" r="6.75"/>
<circle cx="920.6" cy="406.9" r="6.75"/>
<circle cx="866.4" cy="388.7" r="6.75"/>
<circle cx="782.6" cy="457.6" r="6.75"/>
<circle cx="805.2" cy="427.1" r="6.75"/>
<circle cx="1001.1" cy="481.1" r="6.75"/>
<circle cx="1045.9" cy="442.1" r="6.75"/>
<circle cx="1060.0" cy="436.4" r="6.75"/>
<circle cx="1054.7" cy="435.9" r="6.75"/>
<circle cx="1043.4" cy="446.8" r="6.75"/>
<circle cx="1098.0" cy="514.7" r="6.75"/>
<circle cx="969.8" cy="450.6" r="6.75"/>
<circle cx="1065.7" cy="487.7" r="6.75"/>
<circle cx="1005.5" cy="472.1" r="6.75"/>
<circle cx="1057.5" cy="464.0" r="6.75"/>
<circle cx="1050.2" cy="485.0" r="6.75"/>
<circle cx="1092.1" cy="499.5" r="6.75"/>
<circle cx="1019.9" cy="498.4" r="6.75"/>
<circle cx="1005.6" cy="477.8" r="6.75"/>
<circle cx="907.5" cy="499.3" r="6.75"/>
<circle cx="856.7" cy="526.2" r="6.75"/>
<circle cx="853.4" cy="498.2" r="6.75"/>
<circle cx="911.9" cy="538.6" r="6.75"/>
<circle cx="845.1" cy="513.6" r="6.75"/>
<circle cx="866.7" cy="503.5" r="6.75"/>
<circle cx="895.0" cy="493.8" r="6.75"/>
<circle cx="917.5" cy="488.4" r="6.75"/>
<circle cx="906.6" cy="514.3" r="6.75"/>
<circle cx="686.5" cy="850.2" r="6.75"/>
<circle cx="805.3" cy="751.1" r="6.75"/>
<circle cx="743.4" cy="745.4" r="6.75"/>
<circle cx="762.3" cy="855.2" r="6.75"/>
<circle cx="809.7" cy="790.0" r="6.75"/>
<circle cx="690.2" cy="813.4" r="6.75"/>
<circle cx="795.8" cy="731.2" r="6.75"/>
<circle cx="752.1" cy="777.7" r="6.75"/>
<circle cx="799.7" cy="810.5" r="6.75"/>
<circle cx="812.7" cy="749.6" r="6.75"/>
<circle cx="689.5" cy="866.7" r="6.75"/>
<circle cx="560.4" cy="813.2" r="6.75"/>
<circle cx="751.0" cy="842.2" r="6.75"/>
<circle cx="721.1" cy="797.6" r="6.75"/>
<circle cx="750.5" cy="739.3" r="6.75"/>
<circle cx="764.0" cy="787.4" r="6.75"/>
<circle cx="577.7" cy="793.1" r="6.75"/>
<circle cx="692.9" cy="770.6" r="6.75"/>
<circle cx="798.1" cy="801.3" r="6.75"/>
<circle cx="739.5" cy="754.9" r="6.75"/>
<circle cx="672.2" cy="875.2" r="6.75"/>
<circle cx="702.4" cy="801.7" r="6.75"/>
<circle cx="817.6" cy="768.4" r="6.75"/>
<circle cx="661.1" cy="709.7" r="6.75"/>
<circle cx="820.0" cy="759.6" r="6.75"/>
<circle cx="701.0" cy="833.1" r="6.75"/>
<circle cx="809.3" cy="830.8" r="6.75"/>
<circle cx="815.7" cy="811.3" r="6.75"/>
<circle cx="810.8" cy="877.3" r="6.75"/>
<circle cx="704.3" cy="646.1" r="6.75"/>
<circle cx="762.6" cy="748.3" r="6.75"/>
<circle cx="716.7" cy="763.4" r="6.75"/>
<circle cx="774.8" cy="778.4" r="6.75"/>
<circle cx="694.4" cy="789.4" r="6.75"/>
<circle cx="728.4" cy="757.0" r="6.75"/>
<circle cx="740.6" cy="705.2" r="6.75"/>
<circle cx="667.2" cy="748.6" r="6.75"/>
<circle cx="782.2" cy="751.2" r="6.75"/>
<circle cx="796.3" cy="761.6" r="6.75"/>
<circle cx="708.7" cy="868.8" r="6.75"/>
<circle cx="764.3" cy="774.0" r="6.75"/>
<circle cx="696.4" cy="852.0" r="6.75"/>
<circle cx="803.1" cy="877.2" r="6.75"/>
<circle cx="743.3" cy="737.3" r="6.75"/>
<circle cx="687.1" cy="677.8" r="6.75"/>
<circle cx="735.6" cy="645.8" r="6.75"/>
<circle cx="687.3" cy="870.5" r="6.75"/>
<circle cx="631.7" cy="834.6" r="6.75"/>
<circle cx="788.7" cy="656.4" r="6.75"/>
<circle cx="725.9" cy="856.4" r="6.75"/>
<circle cx="687.4" cy="688.1" r="6.75"/>
<circle cx="719.0" cy="709.9" r="6.75"/>
<circle cx="554.0" cy="834.1" r="6.75"/>
<circle cx="713.8" cy="660.4" r="6.75"/>
<circle cx="768.8" cy="783.0" r="6.75"/>
<circle cx="770.0" cy="757.2" r="6.75"/>
<circle cx="689.5" cy="833.9" r="6.75"/>
<circle cx="637.6" cy="754.8" r="6.75"/>
<circle cx="766.7" cy="791.0" r="6.75"/>
<circle cx="804.6" cy="745.7" r="6.75"/>
<circle cx="575.8" cy="772.6" r="6.75"/>
<circle cx="793.4" cy="799.1" r="6.75"/>
<circle cx="727.0" cy="885.3" r="6.75"/>
<circle cx="720.4" cy="825.4" r="6.75"/>
<circle cx="776.7" cy="757.0" r="6.75"/>
<circle cx="783.3" cy="695.2" r="6.75"/>
<circle cx="698.6" cy="750.0" r="6.75"/>
<circle cx="811.2" cy="826.1" r="6.75"/>
<circle cx="663.2" cy="860.8" r="6.75"/>
<circle cx="769.4" cy="844.8" r="6.75"/>
<circle cx="798.0" cy="741.4" r="6.75"/>
<circle cx="699.7" cy="869.4" r="6.75"/>
<circle cx="793.0" cy="676.4" r="6.75"/>
<circle cx="770.5" cy="743.1" r="6.75"/>
<circle cx="619.0" cy="723.1" r="6.75"/>
<circle cx="682.1" cy="717.8" r="6.75"/>
<circle cx="797.0" cy="844.2" r="6.75"/>
<circle cx="640.3" cy="833.7" r="6.75"/>
<circle cx="724.9" cy="682.9" r="6.75"/>
<circle cx="558.1" cy="913.0" r="6.75"/>
<circle cx="545.1" cy="886.1" r="6.75"/>
<circle cx="567.6" cy="923.5" r="6.75"/>
<circle cx="515.5" cy="912.1" r="6.75"/>
<circle cx="543.4" cy="890.4" r="6.75"/>
<circle cx="511.1" cy="890.5" r="6.75"/>
<circle cx="537.0" cy="894.7" r="6.75"/>
<circle cx="808.2" cy="950.8" r="6.75"/>
<circle cx="785.4" cy="934.0" r="6.75"/>
<circle cx="800.4" cy="913.5" r="6.75"/>
<circle cx="785.0" cy="368.8" r="6.75"/>
<circle cx="927.5" cy="347.5" r="6.75"/>
<circle cx="905.0" cy="286.2" r="6.75"/>
<circle cx="911.2" cy="286.2" r="6.75"/>
<circle cx="509.2" cy="638.2" r="6.75"/>
<circle cx="318.2" cy="881.2" r="6.75"/>
<circle cx="380.0" cy="920.0" r="6.75"/>
<circle cx="383.0" cy="927.5" r="6.75"/>
<circle cx="408.0" cy="913.0" r="6.75"/>
<circle cx="415.0" cy="928.8" r="6.75"/>
<circle cx="418.2" cy="933.2" r="6.75"/>
<circle cx="490.0" cy="942.5" r="6.75"/>
<circle cx="1086.2" cy="445.5" r="6.75"/>
<circle cx="1067.5" cy="403.8" r="6.75"/>
<circle cx="1065.0" cy="391.2" r="6.75"/>
<circle cx="1057.5" cy="383.8" r="6.75"/>
<circle cx="916.2" cy="497.5" r="6.75"/>
</g>
<g fill="#97c5de">
<circle cx="298.0" cy="415.3" r="6.75"/>
<circle cx="420.7" cy="259.6" r="6.75"/>
<circle cx="344.0" cy="323.0" r="6.75"/>
<circle cx="295.7" cy="398.7" r="6.75"/>
<circle cx="303.2" cy="369.5" r="6.75"/>
<circle cx="379.6" cy="337.6" r="6.75"/>
<circle cx="482.2" cy="259.0" r="6.75"/>
<circle cx="476.9" cy="341.4" r="6.75"/>
<circle cx="293.1" cy="423.1" r="6.75"/>
<circle cx="467.5" cy="358.3" r="6.75"/>
<circle cx="316.7" cy="403.0" r="6.75"/>
<circle cx="302.6" cy="297.7" r="6.75"/>
<circle cx="471.9" cy="286.1" r="6.75"/>
<circle cx="296.5" cy="371.4" r="6.75"/>
<circle cx="428.0" cy="357.5" r="6.75"/>
<circle cx="402.1" cy="436.5" r="6.75"/>
<circle cx="373.6" cy="269.8" r="6.75"/>
<circle cx="293.7" cy="462.6" r="6.75"/>
<circle cx="374.3" cy="247.8" r="6.75"/>
<circle cx="417.4" cy="394.3" r="6.75"/>
<circle cx="481.4" cy="338.9" r="6.75"/>
<circle cx="398.7" cy="341.6" r="6.75"/>
<circle cx="351.5" cy="285.0" r="6.75"/>
<circle cx="359.7" cy="311.4" r="6.75"/>
<circle cx="442.0" cy="323.4" r="6.75"/>
<circle cx="474.8" cy="337.9" r="6.75"/>
<circle cx="314.9" cy="306.9" r="6.75"/>
<circle cx="374.4" cy="264.2" r="6.75"/>
<circle cx="316.1" cy="328.1" r="6.75"/>
<circle cx="490.2" cy="241.1" r="6.75"/>
<circle cx="320.2" cy="315.0" r="6.75"/>
<circle cx="343.1" cy="421.1" r="6.75"/>
<circle cx="443.9" cy="307.5" r="6.75"/>
<circle cx="462.4" cy="371.4" r="6.75"/>
<circle cx="394.0" cy="287.3" r="6.75"/>
<circle cx="313.7" cy="384.1" r="6.75"/>
<circle cx="479.1" cy="366.9" r="6.75"/>
<circle cx="298.0" cy="438.4" r="6.75"/>
<circle cx="297.4" cy="455.3" r="6.75"/>
<circle cx="425.1" cy="373.8" r="6.75"/>
<circle cx="420.7" cy="236.9" r="6.75"/>
<circle cx="288.3" cy="320.2" r="6.75"/>
<circle cx="370.2" cy="332.4" r="6.75"/>
<circle cx="328.8" cy="464.1" r="6.75"/>
<circle cx="477.4" cy="305.1" r="6.75"/>
<circle cx="443.9" cy="235.5" r="6.75"/>
<circle cx="484.6" cy="225.6" r="6.75"/>
<circle cx="390.0" cy="363.8" r="6.75"/>
<circle cx="285.7" cy="308.5" r="6.75"/>
<circle cx="425.0" cy="352.7" r="6.75"/>
<circle cx="469.8" cy="362.5" r="6.75"/>
<circle cx="410.3" cy="285.4" r="6.75"/>
<circle cx="454.2" cy="389.5" r="6.75"/>
<circle cx="403.2" cy="266.0" r="6.75"/>
<circle cx="330.0" cy="300.6" r="6.75"/>
<circle cx="496.4" cy="225.2" r="6.75"/>
<circle cx="364.6" cy="356.1" r="6.75"/>
<circle cx="307.4" cy="452.4" r="6.75"/>
<circle cx="337.5" cy="417.8" r="6.75"/>
<circle cx="291.8" cy="302.7" r="6.75"/>
<circle cx="325.2" cy="342.5" r="6.75"/>
<circle cx="313.0" cy="317.0" r="6.75"/>
<circle cx="438.3" cy="318.6" r="6.75"/>
<circle cx="441.9" cy="229.4" r="6.75"/>
<circle cx="390.3" cy="283.6" r="6.75"/>
<circle cx="409.8" cy="262.8" r="6.75"/>
<circle cx="372.0" cy="421.9" r="6.75"/>
<circle cx="447.8" cy="253.2" r="6.75"/>
<circle cx="430.9" cy="269.8" r="6.75"/>
<circle cx="298.6" cy="462.4" r="6.75"/>
<circle cx="392.1" cy="242.2" r="6.75"/>
<circle cx="437.7" cy="381.9" r="6.75"/>
<circle cx="397.7" cy="415.3" r="6.75"/>
<circle cx="338.5" cy="450.5" r="6.75"/>
<circle cx="423.1" cy="288.7" r="6.75"/>
<circle cx="303.4" cy="314.6" r="6.75"/>
<circle cx="429.8" cy="298.3" r="6.75"/>
<circle cx="400.4" cy="258.1" r="6.75"/>
<circle cx="333.4" cy="445.1" r="6.75"/>
<circle cx="382.0" cy="441.5" r="6.75"/>
<circle cx="301.7" cy="408.7" r="6.75"/>
<circle cx="308.5" cy="314.3" r="6.75"/>
<circle cx="367.7" cy="464.9" r="6.75"/>
<circle cx="343.3" cy="274.7" r="6.75"/>
<circle cx="406.0" cy="255.4" r="6.75"/>
<circle cx="492.6" cy="217.7" r="6.75"/>
<circle cx="447.6" cy="385.4" r="6.75"/>
<circle cx="398.7" cy="460.1" r="6.75"/>
<circle cx="293.7" cy="439.3" r="6.75"/>
<circle cx="297.5" cy="301.9" r="6.75"/>
<circle cx="349.1" cy="413.2" r="6.75"/>
<circle cx="344.7" cy="397.6" r="6.75"/>
<circle cx="319.5" cy="386.7" r="6.75"/>
<circle cx="451.2" cy="329.2" r="6.75"/>
<circle cx="321.1" cy="287.9" r="6.75"/>
<circle cx="462.8" cy="253.7" r="6.75"/>
<circle cx="497.5" cy="368.7" r="6.75"/>
<circle cx="296.7" cy="433.9" r="6.75"/>
<circle cx="497.0" cy="330.2" r="6.75"/>
<circle cx="308.4" cy="442.8" r="6.75"/>
<circle cx="332.4" cy="271.7" r="6.75"/>
<circle cx="482.9" cy="352.5" r="6.75"/>
<circle cx="331.0" cy="379.0" r="6.75"/>
<circle cx="369.0" cy="286.1" r="6.75"/>
<circle cx="496.9" cy="292.6" r="6.75"/>
<circle cx="479.6" cy="235.5" r="6.75"/>
<circle cx="483.7" cy="281.2" r="6.75"/>
<circle cx="747.9" cy="284.6" r="6.75"/>
<circle cx="612.8" cy="304.5" r="6.75"/>
<circle cx="538.7" cy="305.6" r="6.75"/>
<circle cx="684.3" cy="290.9" r="6.75"/>
<circle cx="688.4" cy="228.4" r="6.75"/>
<circle cx="558.3" cy="261.0" r="6.75"/>
<circle cx="500.9" cy="214.7" r="6.75"/>
<circle cx="735.7" cy="251.8" r="6.75"/>
<circle cx="559.2" cy="233.1" r="6.75"/>
<circle cx="756.6" cy="266.1" r="6.75"/>
<circle cx="543.5" cy="208.4" r="6.75"/>
<circle cx="714.1" cy="247.5" r="6.75"/>
<circle cx="655.7" cy="231.8" r="6.75"/>
<circle cx="544.4" cy="243.1" r="6.75"/>
<circle cx="605.4" cy="239.5" r="6.75"/>
<circle cx="560.6" cy="294.2" r="6.75"/>
<circle cx="707.5" cy="314.5" r="6.75"/>
<circle cx="622.2" cy="262.2" r="6.75"/>
<circle cx="530.7" cy="249.8" r="6.75"/>
<circle cx="748.1" cy="256.3" r="6.75"/>
<circle cx="631.6" cy="274.7" r="6.75"/>
<circle cx="781.1" cy="294.9" r="6.75"/>
<circle cx="561.0" cy="205.4" r="6.75"/>
<circle cx="688.6" cy="289.7" r="6.75"/>
<circle cx="677.0" cy="258.9" r="6.75"/>
<circle cx="516.9" cy="200.9" r="6.75"/>
<circle cx="711.0" cy="311.5" r="6.75"/>
<circle cx="729.0" cy="268.2" r="6.75"/>
<circle cx="698.3" cy="317.2" r="6.75"/>
<circle cx="534.4" cy="253.3" r="6.75"/>
<circle cx="800.1" cy="300.4" r="6.75"/>
<circle cx="561.8" cy="298.4" r="6.75"/>
<circle cx="761.4" cy="286.8" r="6.75"/>
<circle cx="597.8" cy="251.4" r="6.75"/>
<circle cx="566.2" cy="252.6" r="6.75"/>
<circle cx="518.7" cy="219.0" r="6.75"/>
<circle cx="691.9" cy="308.0" r="6.75"/>
<circle cx="591.8" cy="302.2" r="6.75"/>
<circle cx="620.7" cy="220.0" r="6.75"/>
<circle cx="509.0" cy="284.0" r="6.75"/>
<circle cx="632.4" cy="311.7" r="6.75"/>
<circle cx="759.5" cy="271.6" r="6.75"/>
<circle cx="552.3" cy="258.9" r="6.75"/>
<circle cx="574.3" cy="304.2" r="6.75"/>
<circle cx="671.1" cy="291.3" r="6.75"/>
<circle cx="766.4" cy="257.5" r="6.75"/>
<circle cx="537.6" cy="269.2" r="6.75"/>
<circle cx="506.9" cy="313.5" r="6.75"/>
<circle cx="771.2" cy="281.6" r="6.75"/>
<circle cx="767.9" cy="268.7" r="6.75"/>
<circle cx="608.6" cy="288.2" r="6.75"/>
<circle cx="602.2" cy="272.3" r="6.75"/>
<circle cx="612.5" cy="258.9" r="6.75"/>
<circle cx="655.2" cy="264.0" r="6.75"/>
<circle cx="729.9" cy="274.8" r="6.75"/>
<circle cx="736.1" cy="301.6" r="6.75"/>
<circle cx="505.4" cy="252.2" r="6.75"/>
<circle cx="702.5" cy="247.1" r="6.75"/>
<circle cx="536.7" cy="248.0" r="6.75"/>
<circle cx="561.6" cy="249.7" r="6.75"/>
<circle cx="610.8" cy="321.6" r="6.75"/>
<circle cx="545.6" cy="249.3" r="6.75"/>
<circle cx="707.3" cy="300.2" r="6.75"/>
<circle cx="619.2" cy="286.1" r="6.75"/>
<circle cx="583.6" cy="237.1" r="6.75"/>
<circle cx="539.7" cy="231.8" r="6.75"/>
<circle cx="524.9" cy="337.5" r="6.75"/>
<circle cx="512.4" cy="352.7" r="6.75"/>
<circle cx="507.2" cy="379.5" r="6.75"/>
<circle cx="519.6" cy="360.0" r="6.75"/>
<circle cx="514.0" cy="343.8" r="6.75"/>
<circle cx="512.9" cy="379.1" r="6.75"/>
<circle cx="539.4" cy="344.4" r="6.75"/>
<circle cx="531.7" cy="366.1" r="6.75"/>
<circle cx="699.2" cy="368.7" r="6.75"/>
<circle cx="695.7" cy="360.9" r="6.75"/>
<circle cx="683.0" cy="417.9" r="6.75"/>
<circle cx="701.4" cy="397.8" r="6.75"/>
<circle cx="705.4" cy="353.5" r="6.75"/>
<circle cx="682.4" cy="405.4" r="6.75"/>
<circle cx="709.7" cy="385.3" r="6.75"/>
<circle cx="508.3" cy="468.7" r="6.75"/>
<circle cx="632.0" cy="464.0" r="6.75"/>
<circle cx="552.3" cy="446.1" r="6.75"/>
<circle cx="648.6" cy="459.3" r="6.75"/>
<circle cx="577.2" cy="426.1" r="6.75"/>
<circle cx="596.9" cy="438.5" r="6.75"/>
<circle cx="605.7" cy="409.6" r="6.75"/>
<circle cx="592.9" cy="406.1" r="6.75"/>
<circle cx="503.3" cy="468.1" r="6.75"/>
<circle cx="582.8" cy="458.2" r="6.75"/>
<circle cx="513.4" cy="458.1" r="6.75"/>
<circle cx="620.2" cy="463.6" r="6.75"/>
<circle cx="523.2" cy="451.5" r="6.75"/>
<circle cx="581.4" cy="433.2" r="6.75"/>
<circle cx="558.0" cy="460.0" r="6.75"/>
<circle cx="615.0" cy="420.6" r="6.75"/>
<circle cx="578.0" cy="420.4" r="6.75"/>
<circle cx="587.8" cy="463.1" r="6.75"/>
<circle cx="515.2" cy="466.0" r="6.75"/>
<circle cx="748.1" cy="449.4" r="6.75"/>
<circle cx="753.9" cy="450.1" r="6.75"/>
<circle cx="768.7" cy="446.2" r="6.75"/>
<circle cx="679.8" cy="456.3" r="6.75"/>
<circle cx="690.7" cy="445.2" r="6.75"/>
<circle cx="779.0" cy="475.5" r="6.75"/>
<circle cx="712.6" cy="459.4" r="6.75"/>
<circle cx="776.1" cy="414.5" r="6.75"/>
<circle cx="759.0" cy="449.3" r="6.75"/>
<circle cx="744.3" cy="444.4" r="6.75"/>
<circle cx="712.0" cy="451.3" r="6.75"/>
<circle cx="778.4" cy="461.7" r="6.75"/>
<circle cx="909.4" cy="290.5" r="6.75"/>
<circle cx="949.1" cy="301.4" r="6.75"/>
<circle cx="907.5" cy="318.5" r="6.75"/>
<circle cx="968.1" cy="316.7" r="6.75"/>
<circle cx="972.7" cy="321.0" r="6.75"/>
<circle cx="914.3" cy="298.0" r="6.75"/>
<circle cx="1018.6" cy="328.7" r="6.75"/>
<circle cx="896.3" cy="328.9" r="6.75"/>
<circle cx="948.3" cy="325.6" r="6.75"/>
<circle cx="1031.4" cy="320.0" r="6.75"/>
<circle cx="1039.6" cy="308.2" r="6.75"/>
<circle cx="1035.2" cy="287.7" r="6.75"/>
<circle cx="928.0" cy="300.8" r="6.75"/>
<circle cx="967.9" cy="336.6" r="6.75"/>
<circle cx="960.7" cy="332.3" r="6.75"/>
<circle cx="952.6" cy="315.6" r="6.75"/>
<circle cx="1021.1" cy="295.8" r="6.75"/>
<circle cx="946.6" cy="316.2" r="6.75"/>
<circle cx="990.7" cy="323.8" r="6.75"/>
<circle cx="1009.3" cy="292.4" r="6.75"/>
<circle cx="1062.6" cy="303.6" r="6.75"/>
<circle cx="970.4" cy="309.6" r="6.75"/>
<circle cx="1045.8" cy="330.0" r="6.75"/>
<circle cx="1053.2" cy="308.4" r="6.75"/>
<circle cx="997.1" cy="323.5" r="6.75"/>
<circle cx="1019.4" cy="348.5" r="6.75"/>
<circle cx="911.0" cy="308.3" r="6.75"/>
<circle cx="983.2" cy="301.4" r="6.75"/>
<circle cx="918.1" cy="303.5" r="6.75"/>
<circle cx="930.9" cy="322.6" r="6.75"/>
<circle cx="1051.4" cy="320.8" r="6.75"/>
<circle cx="1002.5" cy="294.8" r="6.75"/>
<circle cx="1023.4" cy="304.2" r="6.75"/>
<circle cx="898.5" cy="304.2" r="6.75"/>
<circle cx="1063.8" cy="360.4" r="6.75"/>
<circle cx="1062.2" cy="366.3" r="6.75"/>
<circle cx="824.0" cy="286.7" r="6.75"/>
<circle cx="861.1" cy="348.8" r="6.75"/>
<circle cx="906.7" cy="375.2" r="6.75"/>
<circle cx="923.2" cy="379.8" r="6.75"/>
<circle cx="1102.6" cy="474.3" r="6.75"/>
<circle cx="359.0" cy="489.6" r="6.75"/>
<circle cx="361.6" cy="568.1" r="6.75"/>
<circle cx="293.6" cy="489.8" r="6.75"/>
<circle cx="369.2" cy="500.0" r="6.75"/>
<circle cx="336.4" cy="554.8" r="6.75"/>
<circle cx="342.8" cy="481.9" r="6.75"/>
<circle cx="653.9" cy="498.7" r="6.75"/>
<circle cx="658.8" cy="492.7" r="6.75"/>
<circle cx="653.3" cy="510.9" r="6.75"/>
<circle cx="646.5" cy="510.2" r="6.75"/>
<circle cx="534.9" cy="504.6" r="6.75"/>
<circle cx="831.4" cy="924.5" r="6.75"/>
<circle cx="844.5" cy="915.3" r="6.75"/>
<circle cx="866.2" cy="835.8" r="6.75"/>
<circle cx="834.1" cy="858.1" r="6.75"/>
<circle cx="859.9" cy="936.8" r="6.75"/>
<circle cx="842.9" cy="932.3" r="6.75"/>
<circle cx="822.1" cy="946.2" r="6.75"/>
<circle cx="850.6" cy="841.7" r="6.75"/>
<circle cx="825.7" cy="873.6" r="6.75"/>
<circle cx="868.5" cy="841.1" r="6.75"/>
<circle cx="844.1" cy="936.2" r="6.75"/>
<circle cx="945.0" cy="402.5" r="6.75"/>
<circle cx="920.6" cy="420.8" r="6.75"/>
<circle cx="882.4" cy="387.3" r="6.75"/>
<circle cx="929.1" cy="385.0" r="6.75"/>
<circle cx="944.4" cy="421.6" r="6.75"/>
<circle cx="902.0" cy="419.1" r="6.75"/>
<circle cx="899.0" cy="415.8" r="6.75"/>
<circle cx="887.3" cy="391.8" r="6.75"/>
<circle cx="790.6" cy="434.0" r="6.75"/>
<circle cx="788.5" cy="422.1" r="6.75"/>
<circle cx="1055.9" cy="474.9" r="6.75"/>
<circle cx="1025.0" cy="463.6" r="6.75"/>
<circle cx="1053.7" cy="482.2" r="6.75"/>
<circle cx="1006.9" cy="485.4" r="6.75"/>
<circle cx="1083.8" cy="498.6" r="6.75"/>
<circle cx="1071.2" cy="460.6" r="6.75"/>
<circle cx="989.1" cy="456.8" r="6.75"/>
<circle cx="1008.7" cy="461.4" r="6.75"/>
<circle cx="1046.7" cy="478.3" r="6.75"/>
<circle cx="1087.3" cy="482.6" r="6.75"/>
<circle cx="1017.5" cy="466.9" r="6.75"/>
<circle cx="1050.3" cy="490.4" r="6.75"/>
<circle cx="1098.2" cy="505.2" r="6.75"/>
<circle cx="1076.9" cy="472.5" r="6.75"/>
<circle cx="1039.5" cy="484.8" r="6.75"/>
<circle cx="1054.7" cy="460.4" r="6.75"/>
<circle cx="1038.5" cy="480.8" r="6.75"/>
<circle cx="1013.3" cy="496.2" r="6.75"/>
<circle cx="991.4" cy="420.1" r="6.75"/>
<circle cx="1083.0" cy="474.6" r="6.75"/>
<circle cx="915.2" cy="484.4" r="6.75"/>
<circle cx="902.1" cy="509.1" r="6.75"/>
<circle cx="912.4" cy="501.2" r="6.75"/>
<circle cx="919.0" cy="497.0" r="6.75"/>
<circle cx="925.6" cy="514.6" r="6.75"/>
<circle cx="875.8" cy="516.2" r="6.75"/>
<circle cx="878.5" cy="512.6" r="6.75"/>
<circle cx="914.0" cy="491.0" r="6.75"/>
<circle cx="849.2" cy="495.4" r="6.75"/>
<circle cx="793.8" cy="778.4" r="6.75"/>
<circle cx="737.5" cy="642.2" r="6.75"/>
<circle cx="747.3" cy="791.1" r="6.75"/>
<circle cx="641.4" cy="732.5" r="6.75"/>
<circle cx="812.8" cy="776.3" r="6.75"/>
<circle cx="756.0" cy="809.4" r="6.75"/>
<circle cx="731.7" cy="746.0" r="6.75"/>
<circle cx="637.9" cy="847.1" r="6.75"/>
<circle cx="786.6" cy="649.1" r="6.75"/>
<circle cx="692.3" cy="778.1" r="6.75"/>
<circle cx="620.3" cy="718.7" r="6.75"/>
<circle cx="648.3" cy="857.0" r="6.75"/>
<circle cx="766.4" cy="854.2" r="6.75"/>
<circle cx="733.7" cy="763.7" r="6.75"/>
<circle cx="698.5" cy="847.1" r="6.75"/>
<circle cx="654.9" cy="690.7" r="6.75"/>
<circle cx="786.6" cy="698.2" r="6.75"/>
<circle cx="802.0" cy="814.4" r="6.75"/>
<circle cx="815.6" cy="741.3" r="6.75"/>
<circle cx="736.1" cy="710.6" r="6.75"/>
<circle cx="710.0" cy="858.7" r="6.75"/>
<circle cx="779.0" cy="834.8" r="6.75"/>
<circle cx="592.7" cy="719.0" r="6.75"/>
<circle cx="713.5" cy="807.6" r="6.75"/>
<circle cx="664.7" cy="649.8" r="6.75"/>
<circle cx="681.0" cy="868.4" r="6.75"/>
<circle cx="590.9" cy="779.3" r="6.75"/>
<circle cx="783.2" cy="823.8" r="6.75"/>
<circle cx="737.6" cy="828.7" r="6.75"/>
<circle cx="730.7" cy="769.7" r="6.75"/>
<circle cx="813.0" cy="816.0" r="6.75"/>
<circle cx="730.7" cy="861.3" r="6.75"/>
<circle cx="647.3" cy="815.9" r="6.75"/>
<circle cx="705.2" cy="834.1" r="6.75"/>
<circle cx="755.2" cy="733.0" r="6.75"/>
<circle cx="695.6" cy="669.1" r="6.75"/>
<circle cx="678.1" cy="660.2" r="6.75"/>
<circle cx="763.3" cy="848.9" r="6.75"/>
<circle cx="625.7" cy="800.3" r="6.75"/>
<circle cx="668.2" cy="724.5" r="6.75"/>
<circle cx="724.5" cy="809.7" r="6.75"/>
<circle cx="818.5" cy="657.0" r="6.75"/>
<circle cx="576.2" cy="782.7" r="6.75"/>
<circle cx="650.6" cy="698.4" r="6.75"/>
<circle cx="788.3" cy="686.3" r="6.75"/>
<circle cx="716.4" cy="792.6" r="6.75"/>
<circle cx="601.8" cy="844.0" r="6.75"/>
<circle cx="667.5" cy="652.9" r="6.75"/>
<circle cx="641.8" cy="718.2" r="6.75"/>
<circle cx="608.5" cy="852.8" r="6.75"/>
<circle cx="636.6" cy="818.0" r="6.75"/>
<circle cx="745.7" cy="795.5" r="6.75"/>
<circle cx="667.6" cy="718.1" r="6.75"/>
<circle cx="819.2" cy="711.5" r="6.75"/>
<circle cx="788.1" cy="814.5" r="6.75"/>
<circle cx="584.1" cy="777.9" r="6.75"/>
<circle cx="774.5" cy="763.5" r="6.75"/>
<circle cx="746.4" cy="836.2" r="6.75"/>
<circle cx="642.9" cy="756.6" r="6.75"/>
<circle cx="629.7" cy="756.8" r="6.75"/>
<circle cx="693.6" cy="707.7" r="6.75"/>
<circle cx="797.9" cy="749.7" r="6.75"/>
<circle cx="684.5" cy="880.1" r="6.75"/>
<circle cx="695.3" cy="800.1" r="6.75"/>
<circle cx="733.9" cy="736.7" r="6.75"/>
<circle cx="766.3" cy="708.2" r="6.75"/>
<circle cx="794.0" cy="752.4" r="6.75"/>
<circle cx="749.8" cy="643.1" r="6.75"/>
<circle cx="747.8" cy="686.9" r="6.75"/>
<circle cx="755.2" cy="872.2" r="6.75"/>
<circle cx="742.6" cy="803.5" r="6.75"/>
<circle cx="694.2" cy="661.6" r="6.75"/>
<circle cx="784.2" cy="670.9" r="6.75"/>
<circle cx="728.2" cy="804.4" r="6.75"/>
<circle cx="629.0" cy="825.6" r="6.75"/>
<circle cx="645.9" cy="865.0" r="6.75"/>
<circle cx="774.6" cy="796.0" r="6.75"/>
<circle cx="661.1" cy="776.5" r="6.75"/>
<circle cx="675.7" cy="708.5" r="6.75"/>
<circle cx="649.7" cy="795.3" r="6.75"/>
<circle cx="592.5" cy="834.9" r="6.75"/>
<circle cx="768.2" cy="692.4" r="6.75"/>
<circle cx="629.3" cy="797.4" r="6.75"/>
<circle cx="803.5" cy="687.8" r="6.75"/>
<circle cx="697.8" cy="809.8" r="6.75"/>
<circle cx="606.4" cy="738.3" r="6.75"/>
<circle cx="705.3" cy="772.4" r="6.75"/>
<circle cx="655.3" cy="758.5" r="6.75"/>
<circle cx="658.9" cy="719.3" r="6.75"/>
<circle cx="757.2" cy="790.7" r="6.75"/>
<circle cx="573.2" cy="778.4" r="6.75"/>
<circle cx="785.9" cy="728.8" r="6.75"/>
<circle cx="788.5" cy="821.0" r="6.75"/>
<circle cx="501.1" cy="982.0" r="6.75"/>
<circle cx="513.8" cy="886.0" r="6.75"/>
<circle cx="534.9" cy="906.5" r="6.75"/>
<circle cx="530.4" cy="903.7" r="6.75"/>
<circle cx="511.3" cy="938.5" r="6.75"/>
<circle cx="576.9" cy="897.9" r="6.75"/>
<circle cx="503.0" cy="887.4" r="6.75"/>
<circle cx="552.3" cy="882.3" r="6.75"/>
<circle cx="505.5" cy="894.6" r="6.75"/>
<circle cx="539.4" cy="901.5" r="6.75"/>
<circle cx="573.7" cy="919.9" r="6.75"/>
<circle cx="509.8" cy="1004.4" r="6.75"/>
<circle cx="518.3" cy="963.2" r="6.75"/>
<circle cx="810.7" cy="974.0" r="6.75"/>
<circle cx="807.5" cy="918.8" r="6.75"/>
<circle cx="794.0" cy="970.6" r="6.75"/>
<circle cx="816.1" cy="966.6" r="6.75"/>
<circle cx="814.8" cy="919.6" r="6.75"/>
<circle cx="793.1" cy="913.4" r="6.75"/>
<circle cx="797.2" cy="919.6" r="6.75"/>
<circle cx="477.5" cy="431.2" r="6.75"/>
<circle cx="458.8" cy="466.2" r="6.75"/>
<circle cx="497.5" cy="430.0" r="6.75"/>
<circle cx="622.5" cy="365.0" r="6.75"/>
<circle cx="578.8" cy="371.2" r="6.75"/>
<circle cx="620.0" cy="387.5" r="6.75"/>
<circle cx="745.0" cy="350.0" r="6.75"/>
<circle cx="746.2" cy="353.0" r="6.75"/>
<circle cx="556.2" cy="371.2" r="6.75"/>
<circle cx="942.5" cy="352.0" r="6.75"/>
<circle cx="696.2" cy="578.2" r="6.75"/>
<circle cx="729.2" cy="587.0" r="6.75"/>
<circle cx="672.5" cy="620.0" r="6.75"/>
<circle cx="825.0" cy="742.5" r="6.75"/>
<circle cx="823.8" cy="757.5" r="6.75"/>
<circle cx="827.5" cy="762.5" r="6.75"/>
<circle cx="443.8" cy="852.5" r="6.75"/>
<circle cx="359.2" cy="930.0" r="6.75"/>
<circle cx="375.0" cy="935.0" r="6.75"/>
<circle cx="488.0" cy="967.0" r="6.75"/>
<circle cx="492.5" cy="1001.2" r="6.75"/>
<circle cx="581.8" cy="916.2" r="6.75"/>
<circle cx="803.8" cy="403.8" r="6.75"/>
<circle cx="835.5" cy="474.2" r="6.75"/>
<circle cx="1046.2" cy="411.2" r="6.75"/>
<circle cx="477.5" cy="431.2" r="6.75"/>
<circle cx="458.8" cy="466.2" r="6.75"/>
<circle cx="495.0" cy="413.8" r="6.75"/>
<circle cx="500.0" cy="441.2" r="6.75"/>
<circle cx="537.5" cy="351.2" r="6.75"/>
</g>
<g fill="#a5cee3">
<circle cx="426.9" cy="388.1" r="6.75"/>
<circle cx="425.5" cy="260.5" r="6.75"/>
<circle cx="450.5" cy="278.9" r="6.75"/>
<circle cx="436.4" cy="261.1" r="6.75"/>
<circle cx="461.2" cy="268.9" r="6.75"/>
<circle cx="345.9" cy="406.8" r="6.75"/>
<circle cx="320.4" cy="421.3" r="6.75"/>
<circle cx="350.1" cy="469.7" r="6.75"/>
<circle cx="333.3" cy="393.4" r="6.75"/>
<circle cx="403.1" cy="275.0" r="6.75"/>
<circle cx="443.8" cy="363.3" r="6.75"/>
<circle cx="347.4" cy="325.6" r="6.75"/>
<circle cx="488.1" cy="369.0" r="6.75"/>
<circle cx="419.1" cy="255.2" r="6.75"/>
<circle cx="344.5" cy="438.3" r="6.75"/>
<circle cx="300.7" cy="331.0" r="6.75"/>
<circle cx="360.3" cy="269.2" r="6.75"/>
<circle cx="342.3" cy="410.4" r="6.75"/>
<circle cx="470.9" cy="223.6" r="6.75"/>
<circle cx="307.4" cy="379.6" r="6.75"/>
<circle cx="436.5" cy="391.0" r="6.75"/>
<circle cx="360.8" cy="469.1" r="6.75"/>
<circle cx="431.4" cy="309.1" r="6.75"/>
<circle cx="491.8" cy="326.8" r="6.75"/>
<circle cx="340.0" cy="433.4" r="6.75"/>
<circle cx="397.9" cy="318.9" r="6.75"/>
<circle cx="397.0" cy="432.5" r="6.75"/>
<circle cx="337.2" cy="429.7" r="6.75"/>
<circle cx="409.8" cy="383.4" r="6.75"/>
<circle cx="495.5" cy="214.4" r="6.75"/>
<circle cx="297.0" cy="319.3" r="6.75"/>
<circle cx="301.2" cy="434.6" r="6.75"/>
<circle cx="289.8" cy="316.3" r="6.75"/>
<circle cx="391.6" cy="260.5" r="6.75"/>
<circle cx="441.2" cy="244.8" r="6.75"/>
<circle cx="435.8" cy="330.1" r="6.75"/>
<circle cx="432.0" cy="294.1" r="6.75"/>
<circle cx="497.4" cy="229.4" r="6.75"/>
<circle cx="373.0" cy="320.9" r="6.75"/>
<circle cx="365.7" cy="377.3" r="6.75"/>
<circle cx="378.0" cy="477.6" r="6.75"/>
<circle cx="385.9" cy="361.4" r="6.75"/>
<circle cx="377.6" cy="290.7" r="6.75"/>
<circle cx="294.4" cy="324.5" r="6.75"/>
<circle cx="415.8" cy="274.1" r="6.75"/>
<circle cx="437.2" cy="336.7" r="6.75"/>
<circle cx="354.2" cy="258.8" r="6.75"/>
<circle cx="305.1" cy="334.1" r="6.75"/>
<circle cx="387.8" cy="348.8" r="6.75"/>
<circle cx="358.0" cy="414.8" r="6.75"/>
<circle cx="338.5" cy="352.6" r="6.75"/>
<circle cx="452.7" cy="226.1" r="6.75"/>
<circle cx="396.9" cy="475.5" r="6.75"/>
<circle cx="478.3" cy="319.9" r="6.75"/>
<circle cx="457.6" cy="275.1" r="6.75"/>
<circle cx="451.7" cy="339.0" r="6.75"/>
<circle cx="425.3" cy="282.4" r="6.75"/>
<circle cx="327.7" cy="456.6" r="6.75"/>
<circle cx="315.7" cy="428.6" r="6.75"/>
<circle cx="319.6" cy="298.2" r="6.75"/>
<circle cx="363.8" cy="371.1" r="6.75"/>
<circle cx="404.1" cy="330.4" r="6.75"/>
<circle cx="457.4" cy="381.6" r="6.75"/>
<circle cx="430.1" cy="347.7" r="6.75"/>
<circle cx="318.3" cy="346.0" r="6.75"/>
<circle cx="442.5" cy="383.6" r="6.75"/>
<circle cx="371.0" cy="314.2" r="6.75"/>
<circle cx="342.2" cy="296.3" r="6.75"/>
<circle cx="449.5" cy="244.1" r="6.75"/>
<circle cx="298.6" cy="359.3" r="6.75"/>
<circle cx="385.2" cy="308.7" r="6.75"/>
<circle cx="303.2" cy="306.1" r="6.75"/>
<circle cx="392.1" cy="292.7" r="6.75"/>
<circle cx="394.8" cy="411.1" r="6.75"/>
<circle cx="457.2" cy="343.4" r="6.75"/>
<circle cx="361.7" cy="319.9" r="6.75"/>
<circle cx="430.3" cy="384.0" r="6.75"/>
<circle cx="493.2" cy="231.7" r="6.75"/>
<circle cx="461.4" cy="329.8" r="6.75"/>
<circle cx="461.6" cy="350.7" r="6.75"/>
<circle cx="443.4" cy="264.2" r="6.75"/>
<circle cx="327.4" cy="282.2" r="6.75"/>
<circle cx="424.4" cy="332.1" r="6.75"/>
<circle cx="489.3" cy="264.9" r="6.75"/>
<circle cx="383.0" cy="343.1" r="6.75"/>
<circle cx="348.5" cy="363.9" r="6.75"/>
<circle cx="489.3" cy="363.2" r="6.75"/>
<circle cx="492.5" cy="340.4" r="6.75"/>
<circle cx="310.5" cy="417.7" r="6.75"/>
<circle cx="367.2" cy="322.9" r="6.75"/>
<circle cx="405.5" cy="271.5" r="6.75"/>
<circle cx="489.9" cy="259.6" r="6.75"/>
<circle cx="402.3" cy="378.1" r="6.75"/>
<circle cx="430.2" cy="224.7" r="6.75"/>
<circle cx="445.1" cy="332.6" r="6.75"/>
<circle cx="467.4" cy="365.9" r="6.75"/>
<circle cx="348.4" cy="332.0" r="6.75"/>
<circle cx="477.2" cy="277.1" r="6.75"/>
<circle cx="304.3" cy="339.3" r="6.75"/>
<circle cx="362.4" cy="315.7" r="6.75"/>
<circle cx="335.8" cy="469.7" r="6.75"/>
<circle cx="297.0" cy="328.3" r="6.75"/>
<circle cx="381.7" cy="354.5" r="6.75"/>
<circle cx="376.4" cy="391.5" r="6.75"/>
<circle cx="335.6" cy="343.4" r="6.75"/>
<circle cx="310.4" cy="362.5" r="6.75"/>
<circle cx="284.7" cy="358.2" r="6.75"/>
<circle cx="369.7" cy="399.6" r="6.75"/>
<circle cx="369.5" cy="290.5" r="6.75"/>
<circle cx="390.9" cy="358.5" r="6.75"/>
<circle cx="309.3" cy="327.8" r="6.75"/>
<circle cx="360.3" cy="285.8" r="6.75"/>
<circle cx="458.7" cy="225.0" r="6.75"/>
<circle cx="475.0" cy="362.6" r="6.75"/>
<circle cx="458.7" cy="299.3" r="6.75"/>
<circle cx="368.4" cy="254.1" r="6.75"/>
<circle cx="354.1" cy="368.0" r="6.75"/>
<circle cx="319.2" cy="362.5" r="6.75"/>
<circle cx="389.1" cy="326.3" r="6.75"/>
<circle cx="363.1" cy="252.3" r="6.75"/>
<circle cx="396.4" cy="239.5" r="6.75"/>
<circle cx="364.4" cy="292.1" r="6.75"/>
<circle cx="316.1" cy="391.3" r="6.75"/>
<circle cx="604.0" cy="290.1" r="6.75"/>
<circle cx="580.5" cy="303.7" r="6.75"/>
<circle cx="706.3" cy="277.1" r="6.75"/>
<circle cx="509.1" cy="262.0" r="6.75"/>
<circle cx="614.1" cy="229.9" r="6.75"/>
<circle cx="521.1" cy="203.3" r="6.75"/>
<circle cx="659.6" cy="291.6" r="6.75"/>
<circle cx="536.9" cy="323.1" r="6.75"/>
<circle cx="703.0" cy="301.1" r="6.75"/>
<circle cx="656.5" cy="294.6" r="6.75"/>
<circle cx="609.4" cy="217.2" r="6.75"/>
<circle cx="718.3" cy="275.7" r="6.75"/>
<circle cx="678.9" cy="266.8" r="6.75"/>
<circle cx="747.5" cy="315.2" r="6.75"/>
<circle cx="537.6" cy="293.1" r="6.75"/>
<circle cx="738.6" cy="282.3" r="6.75"/>
<circle cx="552.7" cy="252.5" r="6.75"/>
<circle cx="580.5" cy="224.0" r="6.75"/>
<circle cx="513.4" cy="257.0" r="6.75"/>
<circle cx="718.9" cy="243.7" r="6.75"/>
<circle cx="713.7" cy="237.4" r="6.75"/>
<circle cx="510.9" cy="212.6" r="6.75"/>
<circle cx="535.7" cy="286.7" r="6.75"/>
<circle cx="567.7" cy="234.2" r="6.75"/>
<circle cx="796.1" cy="297.0" r="6.75"/>
<circle cx="671.2" cy="323.1" r="6.75"/>
<circle cx="660.0" cy="273.4" r="6.75"/>
<circle cx="561.3" cy="308.8" r="6.75"/>
<circle cx="552.4" cy="270.1" r="6.75"/>
<circle cx="738.9" cy="308.5" r="6.75"/>
<circle cx="689.1" cy="294.3" r="6.75"/>
<circle cx="780.0" cy="300.3" r="6.75"/>
<circle cx="525.2" cy="292.1" r="6.75"/>
<circle cx="754.0" cy="260.9" r="6.75"/>
<circle cx="613.1" cy="266.2" r="6.75"/>
<circle cx="527.3" cy="278.3" r="6.75"/>
<circle cx="507.8" cy="240.0" r="6.75"/>
<circle cx="704.2" cy="221.9" r="6.75"/>
<circle cx="796.3" cy="284.4" r="6.75"/>
<circle cx="549.0" cy="219.5" r="6.75"/>
<circle cx="512.0" cy="248.7" r="6.75"/>
<circle cx="501.1" cy="317.8" r="6.75"/>
<circle cx="699.4" cy="243.5" r="6.75"/>
<circle cx="666.1" cy="257.0" r="6.75"/>
<circle cx="603.9" cy="259.5" r="6.75"/>
<circle cx="801.5" cy="296.2" r="6.75"/>
<circle cx="647.1" cy="274.3" r="6.75"/>
<circle cx="548.3" cy="327.8" r="6.75"/>
<circle cx="535.3" cy="279.3" r="6.75"/>
<circle cx="812.9" cy="295.7" r="6.75"/>
<circle cx="553.3" cy="197.1" r="6.75"/>
<circle cx="530.5" cy="317.3" r="6.75"/>
<circle cx="501.2" cy="234.6" r="6.75"/>
<circle cx="679.2" cy="293.1" r="6.75"/>
<circle cx="787.9" cy="301.4" r="6.75"/>
<circle cx="622.9" cy="209.5" r="6.75"/>
<circle cx="520.1" cy="313.1" r="6.75"/>
<circle cx="797.2" cy="317.1" r="6.75"/>
<circle cx="751.0" cy="328.6" r="6.75"/>
<circle cx="641.8" cy="275.5" r="6.75"/>
<circle cx="659.9" cy="218.4" r="6.75"/>
<circle cx="701.1" cy="260.5" r="6.75"/>
<circle cx="501.4" cy="302.0" r="6.75"/>
<circle cx="554.4" cy="298.3" r="6.75"/>
<circle cx="815.5" cy="345.2" r="6.75"/>
<circle cx="561.8" cy="225.9" r="6.75"/>
<circle cx="523.2" cy="210.7" r="6.75"/>
<circle cx="617.3" cy="307.3" r="6.75"/>
<circle cx="594.3" cy="268.3" r="6.75"/>
<circle cx="692.7" cy="261.8" r="6.75"/>
<circle cx="662.4" cy="313.6" r="6.75"/>
<circle cx="604.4" cy="266.6" r="6.75"/>
<circle cx="534.9" cy="373.4" r="6.75"/>
<circle cx="502.1" cy="346.0" r="6.75"/>
<circle cx="506.1" cy="338.6" r="6.75"/>
<circle cx="551.5" cy="352.1" r="6.75"/>
<circle cx="509.7" cy="346.9" r="6.75"/>
<circle cx="547.2" cy="347.4" r="6.75"/>
<circle cx="555.9" cy="364.4" r="6.75"/>
<circle cx="506.5" cy="372.8" r="6.75"/>
<circle cx="532.9" cy="357.2" r="6.75"/>
<circle cx="520.6" cy="351.5" r="6.75"/>
<circle cx="506.4" cy="361.9" r="6.75"/>
<circle cx="536.7" cy="348.1" r="6.75"/>
<circle cx="694.7" cy="402.1" r="6.75"/>
<circle cx="688.0" cy="411.6" r="6.75"/>
<circle cx="678.4" cy="417.4" r="6.75"/>
<circle cx="712.9" cy="369.9" r="6.75"/>
<circle cx="698.1" cy="405.6" r="6.75"/>
<circle cx="687.7" cy="397.0" r="6.75"/>
<circle cx="564.2" cy="422.9" r="6.75"/>
<circle cx="622.8" cy="448.1" r="6.75"/>
<circle cx="573.2" cy="470.5" r="6.75"/>
<circle cx="583.7" cy="469.6" r="6.75"/>
<circle cx="599.8" cy="429.1" r="6.75"/>
<circle cx="528.8" cy="453.3" r="6.75"/>
<circle cx="646.3" cy="476.2" r="6.75"/>
<circle cx="571.3" cy="431.9" r="6.75"/>
<circle cx="523.1" cy="473.9" r="6.75"/>
<circle cx="510.7" cy="479.8" r="6.75"/>
<circle cx="645.1" cy="461.8" r="6.75"/>
<circle cx="586.4" cy="430.7" r="6.75"/>
<circle cx="536.1" cy="477.5" r="6.75"/>
<circle cx="595.4" cy="415.4" r="6.75"/>
<circle cx="581.2" cy="462.1" r="6.75"/>
<circle cx="600.6" cy="465.5" r="6.75"/>
<circle cx="604.7" cy="401.7" r="6.75"/>
<circle cx="584.5" cy="417.1" r="6.75"/>
<circle cx="553.8" cy="461.6" r="6.75"/>
<circle cx="535.0" cy="464.7" r="6.75"/>
<circle cx="550.3" cy="435.0" r="6.75"/>
<circle cx="580.3" cy="407.1" r="6.75"/>
<circle cx="565.1" cy="409.2" r="6.75"/>
<circle cx="598.9" cy="442.3" r="6.75"/>
<circle cx="775.9" cy="467.4" r="6.75"/>
<circle cx="770.7" cy="478.9" r="6.75"/>
<circle cx="738.9" cy="457.4" r="6.75"/>
<circle cx="715.9" cy="437.0" r="6.75"/>
<circle cx="749.2" cy="460.8" r="6.75"/>
<circle cx="772.3" cy="435.7" r="6.75"/>
<circle cx="750.9" cy="465.0" r="6.75"/>
<circle cx="704.5" cy="473.9" r="6.75"/>
<circle cx="715.4" cy="471.2" r="6.75"/>
<circle cx="703.8" cy="465.4" r="6.75"/>
<circle cx="777.0" cy="457.8" r="6.75"/>
<circle cx="991.7" cy="295.6" r="6.75"/>
<circle cx="1033.9" cy="328.2" r="6.75"/>
<circle cx="1013.9" cy="313.9" r="6.75"/>
<circle cx="1056.7" cy="310.7" r="6.75"/>
<circle cx="903.0" cy="313.6" r="6.75"/>
<circle cx="999.7" cy="311.0" r="6.75"/>
<circle cx="998.6" cy="318.3" r="6.75"/>
<circle cx="1055.0" cy="298.2" r="6.75"/>
<circle cx="1006.8" cy="317.7" r="6.75"/>
<circle cx="937.6" cy="311.2" r="6.75"/>
<circle cx="1027.4" cy="344.5" r="6.75"/>
<circle cx="1001.8" cy="301.9" r="6.75"/>
<circle cx="912.4" cy="303.7" r="6.75"/>
<circle cx="893.0" cy="309.5" r="6.75"/>
<circle cx="1008.6" cy="327.0" r="6.75"/>
<circle cx="959.2" cy="307.1" r="6.75"/>
<circle cx="914.0" cy="328.2" r="6.75"/>
<circle cx="977.7" cy="322.8" r="6.75"/>
<circle cx="903.8" cy="330.9" r="6.75"/>
<circle cx="891.8" cy="318.0" r="6.75"/>
<circle cx="1044.2" cy="307.9" r="6.75"/>
<circle cx="1057.7" cy="354.5" r="6.75"/>
<circle cx="822.0" cy="292.8" r="6.75"/>
<circle cx="864.4" cy="369.5" r="6.75"/>
<circle cx="855.6" cy="364.7" r="6.75"/>
<circle cx="885.1" cy="366.1" r="6.75"/>
<circle cx="895.3" cy="369.9" r="6.75"/>
<circle cx="886.0" cy="374.2" r="6.75"/>
<circle cx="883.1" cy="370.9" r="6.75"/>
<circle cx="336.2" cy="501.2" r="6.75"/>
<circle cx="353.1" cy="485.3" r="6.75"/>
<circle cx="354.2" cy="564.3" r="6.75"/>
<circle cx="348.5" cy="547.4" r="6.75"/>
<circle cx="373.1" cy="498.7" r="6.75"/>
<circle cx="349.0" cy="496.7" r="6.75"/>
<circle cx="363.5" cy="487.1" r="6.75"/>
<circle cx="361.1" cy="509.3" r="6.75"/>
<circle cx="494.5" cy="755.5" r="6.75"/>
<circle cx="421.0" cy="740.1" r="6.75"/>
<circle cx="641.4" cy="502.7" r="6.75"/>
<circle cx="648.5" cy="490.5" r="6.75"/>
<circle cx="635.1" cy="487.1" r="6.75"/>
<circle cx="622.2" cy="549.8" r="6.75"/>
<circle cx="534.8" cy="572.2" r="6.75"/>
<circle cx="570.9" cy="560.6" r="6.75"/>
<circle cx="636.8" cy="528.5" r="6.75"/>
<circle cx="647.4" cy="504.8" r="6.75"/>
<circle cx="500.3" cy="481.3" r="6.75"/>
<circle cx="652.2" cy="492.6" r="6.75"/>
<circle cx="607.5" cy="482.1" r="6.75"/>
<circle cx="742.9" cy="626.0" r="6.75"/>
<circle cx="1103.8" cy="501.8" r="6.75"/>
<circle cx="1005.9" cy="798.4" r="6.75"/>
<circle cx="883.2" cy="790.7" r="6.75"/>
<circle cx="895.5" cy="893.0" r="6.75"/>
<circle cx="833.3" cy="818.4" r="6.75"/>
<circle cx="827.5" cy="846.6" r="6.75"/>
<circle cx="829.7" cy="821.4" r="6.75"/>
<circle cx="873.2" cy="945.5" r="6.75"/>
<circle cx="875.2" cy="803.4" r="6.75"/>
<circle cx="857.5" cy="861.1" r="6.75"/>
<circle cx="837.8" cy="912.4" r="6.75"/>
<circle cx="869.3" cy="882.4" r="6.75"/>
<circle cx="859.9" cy="807.6" r="6.75"/>
<circle cx="825.7" cy="832.0" r="6.75"/>
<circle cx="846.8" cy="871.1" r="6.75"/>
<circle cx="865.2" cy="943.5" r="6.75"/>
<circle cx="828.7" cy="804.3" r="6.75"/>
<circle cx="838.4" cy="945.5" r="6.75"/>
<circle cx="863.9" cy="871.2" r="6.75"/>
<circle cx="846.3" cy="802.0" r="6.75"/>
<circle cx="923.3" cy="416.5" r="6.75"/>
<circle cx="924.3" cy="386.4" r="6.75"/>
<circle cx="907.0" cy="381.0" r="6.75"/>
<circle cx="949.5" cy="425.5" r="6.75"/>
<circle cx="862.6" cy="390.4" r="6.75"/>
<circle cx="901.1" cy="385.1" r="6.75"/>
<circle cx="889.3" cy="400.9" r="6.75"/>
<circle cx="885.1" cy="406.6" r="6.75"/>
<circle cx="963.4" cy="414.3" r="6.75"/>
<circle cx="950.6" cy="421.3" r="6.75"/>
<circle cx="897.9" cy="391.3" r="6.75"/>
<circle cx="906.2" cy="404.5" r="6.75"/>
<circle cx="967.6" cy="412.0" r="6.75"/>
<circle cx="948.5" cy="396.3" r="6.75"/>
<circle cx="864.8" cy="395.8" r="6.75"/>
<circle cx="943.0" cy="426.1" r="6.75"/>
<circle cx="894.8" cy="401.1" r="6.75"/>
<circle cx="796.6" cy="422.3" r="6.75"/>
<circle cx="780.8" cy="441.2" r="6.75"/>
<circle cx="812.9" cy="459.3" r="6.75"/>
<circle cx="791.7" cy="448.3" r="6.75"/>
<circle cx="801.9" cy="415.3" r="6.75"/>
<circle cx="1071.3" cy="471.1" r="6.75"/>
<circle cx="1071.9" cy="482.0" r="6.75"/>
<circle cx="1058.8" cy="492.4" r="6.75"/>
<circle cx="990.3" cy="442.3" r="6.75"/>
<circle cx="1038.5" cy="463.0" r="6.75"/>
<circle cx="1001.8" cy="464.6" r="6.75"/>
<circle cx="1002.8" cy="484.8" r="6.75"/>
<circle cx="1038.5" cy="471.4" r="6.75"/>
<circle cx="1045.2" cy="466.1" r="6.75"/>
<circle cx="1032.9" cy="476.1" r="6.75"/>
<circle cx="1025.5" cy="448.3" r="6.75"/>
<circle cx="976.4" cy="421.1" r="6.75"/>
<circle cx="1080.7" cy="468.2" r="6.75"/>
<circle cx="1008.7" cy="494.8" r="6.75"/>
<circle cx="1046.1" cy="472.9" r="6.75"/>
<circle cx="1064.0" cy="469.5" r="6.75"/>
<circle cx="1050.1" cy="473.5" r="6.75"/>
<circle cx="1050.0" cy="430.7" r="6.75"/>
<circle cx="1037.4" cy="476.5" r="6.75"/>
<circle cx="901.2" cy="494.7" r="6.75"/>
<circle cx="877.2" cy="491.0" r="6.75"/>
<circle cx="849.0" cy="520.1" r="6.75"/>
<circle cx="875.4" cy="496.9" r="6.75"/>
<circle cx="901.4" cy="502.6" r="6.75"/>
<circle cx="890.4" cy="505.8" r="6.75"/>
<circle cx="919.3" cy="502.7" r="6.75"/>
<circle cx="836.5" cy="505.1" r="6.75"/>
<circle cx="862.6" cy="504.0" r="6.75"/>
<circle cx="885.9" cy="495.7" r="6.75"/>
<circle cx="504.4" cy="730.4" r="6.75"/>
<circle cx="694.7" cy="678.4" r="6.75"/>
<circle cx="677.9" cy="799.0" r="6.75"/>
<circle cx="707.0" cy="790.4" r="6.75"/>
<circle cx="680.0" cy="763.9" r="6.75"/>
<circle cx="605.7" cy="726.8" r="6.75"/>
<circle cx="699.4" cy="772.2" r="6.75"/>
<circle cx="782.5" cy="804.7" r="6.75"/>
<circle cx="800.5" cy="835.7" r="6.75"/>
<circle cx="607.6" cy="847.0" r="6.75"/>
<circle cx="617.6" cy="706.4" r="6.75"/>
<circle cx="685.5" cy="763.7" r="6.75"/>
<circle cx="558.4" cy="847.5" r="6.75"/>
<circle cx="591.7" cy="759.1" r="6.75"/>
<circle cx="574.2" cy="790.3" r="6.75"/>
<circle cx="771.2" cy="702.3" r="6.75"/>
<circle cx="693.9" cy="825.7" r="6.75"/>
<circle cx="789.5" cy="777.5" r="6.75"/>
<circle cx="606.7" cy="743.2" r="6.75"/>
<circle cx="737.9" cy="867.8" r="6.75"/>
<circle cx="763.1" cy="869.4" r="6.75"/>
<circle cx="598.6" cy="699.9" r="6.75"/>
<circle cx="726.6" cy="894.1" r="6.75"/>
<circle cx="786.8" cy="770.7" r="6.75"/>
<circle cx="810.9" cy="771.5" r="6.75"/>
<circle cx="816.7" cy="858.7" r="6.75"/>
<circle cx="713.9" cy="677.7" r="6.75"/>
<circle cx="600.3" cy="780.8" r="6.75"/>
<circle cx="743.6" cy="751.6" r="6.75"/>
<circle cx="615.1" cy="754.8" r="6.75"/>
<circle cx="614.8" cy="829.4" r="6.75"/>
<circle cx="787.3" cy="789.4" r="6.75"/>
<circle cx="769.7" cy="876.1" r="6.75"/>
<circle cx="741.2" cy="814.9" r="6.75"/>
<circle cx="713.9" cy="814.1" r="6.75"/>
<circle cx="573.5" cy="751.5" r="6.75"/>
<circle cx="803.9" cy="732.3" r="6.75"/>
<circle cx="760.4" cy="806.3" r="6.75"/>
<circle cx="634.4" cy="767.4" r="6.75"/>
<circle cx="711.5" cy="773.0" r="6.75"/>
<circle cx="625.3" cy="728.0" r="6.75"/>
<circle cx="655.2" cy="727.5" r="6.75"/>
<circle cx="673.7" cy="665.2" r="6.75"/>
<circle cx="601.4" cy="770.3" r="6.75"/>
<circle cx="597.1" cy="767.4" r="6.75"/>
<circle cx="711.3" cy="752.4" r="6.75"/>
<circle cx="754.5" cy="752.4" r="6.75"/>
<circle cx="730.9" cy="875.3" r="6.75"/>
<circle cx="766.7" cy="888.6" r="6.75"/>
<circle cx="616.3" cy="803.9" r="6.75"/>
<circle cx="646.0" cy="759.4" r="6.75"/>
<circle cx="584.5" cy="781.9" r="6.75"/>
<circle cx="716.1" cy="687.7" r="6.75"/>
<circle cx="724.2" cy="646.5" r="6.75"/>
<circle cx="748.4" cy="804.4" r="6.75"/>
<circle cx="812.9" cy="856.2" r="6.75"/>
<circle cx="669.9" cy="812.3" r="6.75"/>
<circle cx="735.2" cy="892.1" r="6.75"/>
<circle cx="770.6" cy="817.1" r="6.75"/>
<circle cx="694.6" cy="657.6" r="6.75"/>
<circle cx="698.5" cy="640.7" r="6.75"/>
<circle cx="711.6" cy="735.6" r="6.75"/>
<circle cx="606.8" cy="782.6" r="6.75"/>
<circle cx="791.6" cy="738.1" r="6.75"/>
<circle cx="704.5" cy="650.8" r="6.75"/>
<circle cx="738.9" cy="807.2" r="6.75"/>
<circle cx="579.0" cy="765.0" r="6.75"/>
<circle cx="642.6" cy="850.6" r="6.75"/>
<circle cx="683.6" cy="650.1" r="6.75"/>
<circle cx="657.7" cy="694.4" r="6.75"/>
<circle cx="605.2" cy="690.1" r="6.75"/>
<circle cx="735.1" cy="650.6" r="6.75"/>
<circle cx="610.2" cy="865.6" r="6.75"/>
<circle cx="648.2" cy="806.9" r="6.75"/>
<circle cx="732.8" cy="780.0" r="6.75"/>
<circle cx="772.1" cy="856.6" r="6.75"/>
<circle cx="705.4" cy="814.8" r="6.75"/>
<circle cx="753.0" cy="864.8" r="6.75"/>
<circle cx="677.5" cy="679.4" r="6.75"/>
<circle cx="798.5" cy="866.4" r="6.75"/>
<circle cx="637.6" cy="829.1" r="6.75"/>
<circle cx="815.9" cy="853.5" r="6.75"/>
<circle cx="776.7" cy="737.7" r="6.75"/>
<circle cx="799.8" cy="820.0" r="6.75"/>
<circle cx="625.1" cy="718.2" r="6.75"/>
<circle cx="733.9" cy="872.4" r="6.75"/>
<circle cx="691.2" cy="715.4" r="6.75"/>
<circle cx="728.6" cy="811.7" r="6.75"/>
<circle cx="789.1" cy="759.2" r="6.75"/>
<circle cx="636.8" cy="824.9" r="6.75"/>
<circle cx="736.6" cy="741.4" r="6.75"/>
<circle cx="730.5" cy="662.4" r="6.75"/>
<circle cx="714.5" cy="724.6" r="6.75"/>
<circle cx="805.5" cy="816.9" r="6.75"/>
<circle cx="666.8" cy="700.1" r="6.75"/>
<circle cx="767.0" cy="752.0" r="6.75"/>
<circle cx="678.4" cy="653.5" r="6.75"/>
<circle cx="769.1" cy="864.1" r="6.75"/>
<circle cx="741.9" cy="730.0" r="6.75"/>
<circle cx="738.7" cy="701.0" r="6.75"/>
<circle cx="685.0" cy="645.9" r="6.75"/>
<circle cx="761.3" cy="737.1" r="6.75"/>
<circle cx="642.7" cy="725.2" r="6.75"/>
<circle cx="778.8" cy="693.5" r="6.75"/>
<circle cx="728.7" cy="868.3" r="6.75"/>
<circle cx="763.3" cy="875.6" r="6.75"/>
<circle cx="760.9" cy="704.3" r="6.75"/>
<circle cx="624.3" cy="767.8" r="6.75"/>
<circle cx="769.8" cy="715.6" r="6.75"/>
<circle cx="601.7" cy="807.4" r="6.75"/>
<circle cx="655.3" cy="821.1" r="6.75"/>
<circle cx="712.6" cy="779.2" r="6.75"/>
<circle cx="763.3" cy="812.9" r="6.75"/>
<circle cx="754.5" cy="713.6" r="6.75"/>
<circle cx="608.4" cy="767.8" r="6.75"/>
<circle cx="735.9" cy="714.7" r="6.75"/>
<circle cx="531.1" cy="913.2" r="6.75"/>
<circle cx="559.8" cy="962.6" r="6.75"/>
<circle cx="590.4" cy="907.7" r="6.75"/>
<circle cx="544.0" cy="1025.8" r="6.75"/>
<circle cx="559.1" cy="905.8" r="6.75"/>
<circle cx="528.4" cy="952.3" r="6.75"/>
<circle cx="587.1" cy="890.6" r="6.75"/>
<circle cx="533.3" cy="872.6" r="6.75"/>
<circle cx="521.7" cy="923.4" r="6.75"/>
<circle cx="570.1" cy="958.2" r="6.75"/>
<circle cx="550.4" cy="888.8" r="6.75"/>
<circle cx="524.3" cy="927.5" r="6.75"/>
<circle cx="563.9" cy="912.6" r="6.75"/>
<circle cx="554.7" cy="957.1" r="6.75"/>
<circle cx="712.5" cy="1055.6" r="6.75"/>
<circle cx="533.0" cy="879.6" r="6.75"/>
<circle cx="513.8" cy="974.1" r="6.75"/>
<circle cx="543.8" cy="941.1" r="6.75"/>
<circle cx="536.9" cy="887.4" r="6.75"/>
<circle cx="518.5" cy="1004.0" r="6.75"/>
<circle cx="537.2" cy="881.8" r="6.75"/>
<circle cx="504.4" cy="904.9" r="6.75"/>
<circle cx="545.4" cy="907.5" r="6.75"/>
<circle cx="537.2" cy="921.7" r="6.75"/>
<circle cx="525.1" cy="918.9" r="6.75"/>
<circle cx="508.1" cy="907.7" r="6.75"/>
<circle cx="514.8" cy="945.8" r="6.75"/>
<circle cx="592.7" cy="1029.5" r="6.75"/>
<circle cx="791.7" cy="905.7" r="6.75"/>
<circle cx="798.7" cy="931.8" r="6.75"/>
<circle cx="801.4" cy="979.4" r="6.75"/>
<circle cx="809.5" cy="980.1" r="6.75"/>
<circle cx="815.9" cy="903.8" r="6.75"/>
<circle cx="812.1" cy="964.2" r="6.75"/>
<circle cx="814.2" cy="955.1" r="6.75"/>
<circle cx="815.6" cy="942.0" r="6.75"/>
<circle cx="813.9" cy="910.8" r="6.75"/>
<circle cx="798.2" cy="902.9" r="6.75"/>
<circle cx="815.0" cy="934.1" r="6.75"/>
<circle cx="769.3" cy="910.5" r="6.75"/>
<circle cx="813.5" cy="950.7" r="6.75"/>
<circle cx="205.0" cy="412.5" r="6.75"/>
<circle cx="220.0" cy="422.5" r="6.75"/>
<circle cx="233.8" cy="397.5" r="6.75"/>
<circle cx="1035.0" cy="374.5" r="6.75"/>
<circle cx="862.5" cy="279.2" r="6.75"/>
<circle cx="846.2" cy="321.2" r="6.75"/>
<circle cx="672.5" cy="490.0" r="6.75"/>
<circle cx="647.5" cy="626.2" r="6.75"/>
<circle cx="575.0" cy="694.2" r="6.75"/>
<circle cx="835.0" cy="787.5" r="6.75"/>
<circle cx="835.0" cy="795.0" r="6.75"/>
<circle cx="846.2" cy="796.2" r="6.75"/>
<circle cx="872.5" cy="790.0" r="6.75"/>
<circle cx="870.0" cy="796.2" r="6.75"/>
<circle cx="323.2" cy="916.2" r="6.75"/>
<circle cx="477.5" cy="984.2" r="6.75"/>
<circle cx="1028.2" cy="418.2" r="6.75"/>
<circle cx="845.0" cy="555.0" r="6.75"/>
</g>
<g fill="#b3d6e8">
<circle cx="465.4" cy="291.8" r="6.75"/>
<circle cx="427.9" cy="304.4" r="6.75"/>
<circle cx="358.0" cy="423.8" r="6.75"/>
<circle cx="335.7" cy="277.7" r="6.75"/>
<circle cx="454.0" cy="281.0" r="6.75"/>
<circle cx="455.0" cy="314.3" r="6.75"/>
<circle cx="429.4" cy="285.7" r="6.75"/>
<circle cx="485.5" cy="311.8" r="6.75"/>
<circle cx="471.0" cy="352.6" r="6.75"/>
<circle cx="297.4" cy="290.5" r="6.75"/>
<circle cx="302.6" cy="374.7" r="6.75"/>
<circle cx="394.9" cy="363.7" r="6.75"/>
<circle cx="372.2" cy="305.3" r="6.75"/>
<circle cx="374.9" cy="279.0" r="6.75"/>
<circle cx="467.8" cy="236.4" r="6.75"/>
<circle cx="357.8" cy="475.6" r="6.75"/>
<circle cx="385.1" cy="323.4" r="6.75"/>
<circle cx="473.9" cy="242.1" r="6.75"/>
<circle cx="425.5" cy="252.8" r="6.75"/>
<circle cx="310.6" cy="463.6" r="6.75"/>
<circle cx="364.0" cy="390.6" r="6.75"/>
<circle cx="411.6" cy="279.7" r="6.75"/>
<circle cx="395.4" cy="258.9" r="6.75"/>
<circle cx="498.9" cy="308.3" r="6.75"/>
<circle cx="380.4" cy="259.5" r="6.75"/>
<circle cx="352.9" cy="373.8" r="6.75"/>
<circle cx="353.1" cy="378.7" r="6.75"/>
<circle cx="403.9" cy="393.8" r="6.75"/>
<circle cx="292.2" cy="418.9" r="6.75"/>
<circle cx="337.7" cy="464.5" r="6.75"/>
<circle cx="362.6" cy="329.1" r="6.75"/>
<circle cx="318.5" cy="406.9" r="6.75"/>
<circle cx="400.1" cy="372.3" r="6.75"/>
<circle cx="388.2" cy="290.5" r="6.75"/>
<circle cx="282.9" cy="453.6" r="6.75"/>
<circle cx="293.8" cy="340.1" r="6.75"/>
<circle cx="413.1" cy="236.9" r="6.75"/>
<circle cx="291.8" cy="359.1" r="6.75"/>
<circle cx="375.1" cy="446.3" r="6.75"/>
<circle cx="458.4" cy="233.5" r="6.75"/>
<circle cx="316.3" cy="284.5" r="6.75"/>
<circle cx="322.4" cy="472.5" r="6.75"/>
<circle cx="395.0" cy="449.4" r="6.75"/>
<circle cx="426.7" cy="313.3" r="6.75"/>
<circle cx="340.2" cy="468.5" r="6.75"/>
<circle cx="372.6" cy="300.5" r="6.75"/>
<circle cx="358.8" cy="399.7" r="6.75"/>
<circle cx="477.2" cy="324.9" r="6.75"/>
<circle cx="446.0" cy="270.3" r="6.75"/>
<circle cx="460.3" cy="257.5" r="6.75"/>
<circle cx="384.0" cy="350.4" r="6.75"/>
<circle cx="441.1" cy="339.7" r="6.75"/>
<circle cx="354.0" cy="313.4" r="6.75"/>
<circle cx="290.9" cy="294.7" r="6.75"/>
<circle cx="354.1" cy="412.5" r="6.75"/>
<circle cx="332.3" cy="397.9" r="6.75"/>
<circle cx="330.0" cy="344.4" r="6.75"/>
<circle cx="407.2" cy="292.1" r="6.75"/>
<circle cx="480.0" cy="249.7" r="6.75"/>
<circle cx="430.7" cy="335.9" r="6.75"/>
<circle cx="318.6" cy="475.5" r="6.75"/>
<circle cx="302.2" cy="439.7" r="6.75"/>
<circle cx="413.8" cy="332.5" r="6.75"/>
<circle cx="328.7" cy="312.5" r="6.75"/>
<circle cx="372.0" cy="364.9" r="6.75"/>
<circle cx="450.9" cy="266.1" r="6.75"/>
<circle cx="400.2" cy="323.3" r="6.75"/>
<circle cx="351.6" cy="322.0" r="6.75"/>
<circle cx="377.2" cy="318.3" r="6.75"/>
<circle cx="450.2" cy="248.4" r="6.75"/>
<circle cx="351.7" cy="354.6" r="6.75"/>
<circle cx="309.9" cy="323.7" r="6.75"/>
<circle cx="380.2" cy="406.3" r="6.75"/>
<circle cx="303.1" cy="393.9" r="6.75"/>
<circle cx="461.2" cy="295.4" r="6.75"/>
<circle cx="440.7" cy="389.9" r="6.75"/>
<circle cx="394.6" cy="300.1" r="6.75"/>
<circle cx="322.5" cy="320.4" r="6.75"/>
<circle cx="348.3" cy="376.1" r="6.75"/>
<circle cx="280.2" cy="388.2" r="6.75"/>
<circle cx="389.0" cy="254.8" r="6.75"/>
<circle cx="368.9" cy="447.6" r="6.75"/>
<circle cx="470.7" cy="343.0" r="6.75"/>
<circle cx="396.6" cy="290.4" r="6.75"/>
<circle cx="463.6" cy="239.7" r="6.75"/>
<circle cx="397.6" cy="446.2" r="6.75"/>
<circle cx="316.1" cy="411.4" r="6.75"/>
<circle cx="466.5" cy="350.5" r="6.75"/>
<circle cx="416.4" cy="343.4" r="6.75"/>
<circle cx="399.2" cy="271.3" r="6.75"/>
<circle cx="454.0" cy="368.4" r="6.75"/>
<circle cx="305.4" cy="347.3" r="6.75"/>
<circle cx="390.4" cy="372.5" r="6.75"/>
<circle cx="315.2" cy="372.1" r="6.75"/>
<circle cx="446.5" cy="378.0" r="6.75"/>
<circle cx="368.1" cy="479.2" r="6.75"/>
<circle cx="401.8" cy="347.2" r="6.75"/>
<circle cx="272.8" cy="357.5" r="6.75"/>
<circle cx="309.8" cy="303.2" r="6.75"/>
<circle cx="484.4" cy="253.3" r="6.75"/>
<circle cx="380.9" cy="306.3" r="6.75"/>
<circle cx="286.3" cy="365.9" r="6.75"/>
<circle cx="414.8" cy="338.7" r="6.75"/>
<circle cx="409.2" cy="245.4" r="6.75"/>
<circle cx="346.3" cy="340.5" r="6.75"/>
<circle cx="299.1" cy="308.4" r="6.75"/>
<circle cx="477.1" cy="245.0" r="6.75"/>
<circle cx="418.2" cy="387.4" r="6.75"/>
<circle cx="323.0" cy="336.7" r="6.75"/>
<circle cx="436.9" cy="311.1" r="6.75"/>
<circle cx="424.5" cy="393.7" r="6.75"/>
<circle cx="365.0" cy="440.6" r="6.75"/>
<circle cx="321.2" cy="294.1" r="6.75"/>
<circle cx="296.6" cy="477.2" r="6.75"/>
<circle cx="384.5" cy="299.5" r="6.75"/>
<circle cx="326.1" cy="415.6" r="6.75"/>
<circle cx="297.5" cy="367.4" r="6.75"/>
<circle cx="470.3" cy="292.8" r="6.75"/>
<circle cx="485.2" cy="293.9" r="6.75"/>
<circle cx="317.5" cy="445.1" r="6.75"/>
<circle cx="372.0" cy="369.5" r="6.75"/>
<circle cx="395.0" cy="335.3" r="6.75"/>
<circle cx="384.4" cy="282.3" r="6.75"/>
<circle cx="469.0" cy="257.8" r="6.75"/>
<circle cx="330.8" cy="389.6" r="6.75"/>
<circle cx="408.7" cy="358.0" r="6.75"/>
<circle cx="421.6" cy="377.6" r="6.75"/>
<circle cx="450.1" cy="308.0" r="6.75"/>
<circle cx="546.7" cy="295.1" r="6.75"/>
<circle cx="741.2" cy="318.4" r="6.75"/>
<circle cx="558.3" cy="283.7" r="6.75"/>
<circle cx="606.0" cy="250.7" r="6.75"/>
<circle cx="526.4" cy="311.8" r="6.75"/>
<circle cx="813.4" cy="275.8" r="6.75"/>
<circle cx="683.8" cy="317.1" r="6.75"/>
<circle cx="571.6" cy="322.8" r="6.75"/>
<circle cx="524.8" cy="233.5" r="6.75"/>
<circle cx="734.5" cy="234.9" r="6.75"/>
<circle cx="736.1" cy="296.9" r="6.75"/>
<circle cx="540.3" cy="226.6" r="6.75"/>
<circle cx="516.3" cy="247.9" r="6.75"/>
<circle cx="588.0" cy="309.2" r="6.75"/>
<circle cx="767.6" cy="310.0" r="6.75"/>
<circle cx="507.9" cy="304.7" r="6.75"/>
<circle cx="656.0" cy="248.0" r="6.75"/>
<circle cx="516.2" cy="253.6" r="6.75"/>
<circle cx="505.0" cy="290.2" r="6.75"/>
<circle cx="556.5" cy="306.5" r="6.75"/>
<circle cx="698.0" cy="238.1" r="6.75"/>
<circle cx="727.1" cy="312.9" r="6.75"/>
<circle cx="547.1" cy="239.7" r="6.75"/>
<circle cx="712.8" cy="230.2" r="6.75"/>
<circle cx="569.6" cy="296.4" r="6.75"/>
<circle cx="708.0" cy="226.4" r="6.75"/>
<circle cx="607.2" cy="244.0" r="6.75"/>
<circle cx="552.2" cy="263.7" r="6.75"/>
<circle cx="688.2" cy="269.4" r="6.75"/>
<circle cx="658.2" cy="235.0" r="6.75"/>
<circle cx="744.2" cy="308.2" r="6.75"/>
<circle cx="681.2" cy="216.2" r="6.75"/>
<circle cx="532.6" cy="313.3" r="6.75"/>
<circle cx="579.1" cy="310.5" r="6.75"/>
<circle cx="639.0" cy="245.0" r="6.75"/>
<circle cx="531.3" cy="272.6" r="6.75"/>
<circle cx="630.3" cy="269.6" r="6.75"/>
<circle cx="717.4" cy="284.2" r="6.75"/>
<circle cx="649.5" cy="319.6" r="6.75"/>
<circle cx="711.9" cy="319.4" r="6.75"/>
<circle cx="546.9" cy="301.5" r="6.75"/>
<circle cx="694.5" cy="255.9" r="6.75"/>
<circle cx="750.6" cy="308.7" r="6.75"/>
<circle cx="602.8" cy="282.1" r="6.75"/>
<circle cx="525.9" cy="201.6" r="6.75"/>
<circle cx="750.2" cy="273.7" r="6.75"/>
<circle cx="799.0" cy="276.0" r="6.75"/>
<circle cx="806.7" cy="316.4" r="6.75"/>
<circle cx="597.8" cy="288.8" r="6.75"/>
<circle cx="689.0" cy="220.3" r="6.75"/>
<circle cx="730.9" cy="241.9" r="6.75"/>
<circle cx="562.5" cy="214.5" r="6.75"/>
<circle cx="689.2" cy="251.7" r="6.75"/>
<circle cx="552.7" cy="224.0" r="6.75"/>
<circle cx="783.8" cy="299.1" r="6.75"/>
<circle cx="581.9" cy="299.9" r="6.75"/>
<circle cx="712.5" cy="270.3" r="6.75"/>
<circle cx="563.1" cy="264.9" r="6.75"/>
<circle cx="508.5" cy="257.4" r="6.75"/>
<circle cx="582.9" cy="270.9" r="6.75"/>
<circle cx="570.4" cy="261.9" r="6.75"/>
<circle cx="603.9" cy="298.0" r="6.75"/>
<circle cx="573.1" cy="255.2" r="6.75"/>
<circle cx="686.0" cy="323.3" r="6.75"/>
<circle cx="672.6" cy="263.5" r="6.75"/>
<circle cx="540.2" cy="301.0" r="6.75"/>
<circle cx="753.6" cy="293.5" r="6.75"/>
<circle cx="565.3" cy="200.3" r="6.75"/>
<circle cx="794.6" cy="276.3" r="6.75"/>
<circle cx="557.7" cy="257.1" r="6.75"/>
<circle cx="701.4" cy="231.3" r="6.75"/>
<circle cx="678.7" cy="288.1" r="6.75"/>
<circle cx="539.6" cy="327.9" r="6.75"/>
<circle cx="613.3" cy="244.5" r="6.75"/>
<circle cx="664.5" cy="290.8" r="6.75"/>
<circle cx="574.4" cy="222.7" r="6.75"/>
<circle cx="584.3" cy="305.2" r="6.75"/>
<circle cx="609.8" cy="298.0" r="6.75"/>
<circle cx="694.1" cy="274.7" r="6.75"/>
<circle cx="732.8" cy="278.8" r="6.75"/>
<circle cx="790.8" cy="271.2" r="6.75"/>
<circle cx="588.9" cy="292.7" r="6.75"/>
<circle cx="808.0" cy="311.0" r="6.75"/>
<circle cx="528.2" cy="364.2" r="6.75"/>
<circle cx="546.2" cy="341.4" r="6.75"/>
<circle cx="523.0" cy="363.9" r="6.75"/>
<circle cx="523.8" cy="358.8" r="6.75"/>
<circle cx="548.3" cy="368.9" r="6.75"/>
<circle cx="512.9" cy="373.8" r="6.75"/>
<circle cx="691.1" cy="364.5" r="6.75"/>
<circle cx="688.8" cy="407.2" r="6.75"/>
<circle cx="673.6" cy="378.7" r="6.75"/>
<circle cx="710.3" cy="364.4" r="6.75"/>
<circle cx="708.0" cy="375.8" r="6.75"/>
<circle cx="687.5" cy="351.2" r="6.75"/>
<circle cx="683.3" cy="400.6" r="6.75"/>
<circle cx="693.3" cy="374.2" r="6.75"/>
<circle cx="702.2" cy="375.3" r="6.75"/>
<circle cx="691.9" cy="349.5" r="6.75"/>
<circle cx="588.0" cy="423.6" r="6.75"/>
<circle cx="642.4" cy="478.6" r="6.75"/>
<circle cx="529.3" cy="476.0" r="6.75"/>
<circle cx="615.1" cy="426.3" r="6.75"/>
<circle cx="597.1" cy="420.9" r="6.75"/>
<circle cx="623.8" cy="473.5" r="6.75"/>
<circle cx="611.5" cy="424.1" r="6.75"/>
<circle cx="610.5" cy="413.3" r="6.75"/>
<circle cx="521.1" cy="468.8" r="6.75"/>
<circle cx="643.6" cy="465.6" r="6.75"/>
<circle cx="508.3" cy="449.6" r="6.75"/>
<circle cx="585.9" cy="413.1" r="6.75"/>
<circle cx="518.2" cy="454.5" r="6.75"/>
<circle cx="573.9" cy="479.6" r="6.75"/>
<circle cx="619.6" cy="454.4" r="6.75"/>
<circle cx="596.5" cy="471.2" r="6.75"/>
<circle cx="582.0" cy="424.5" r="6.75"/>
<circle cx="559.7" cy="474.7" r="6.75"/>
<circle cx="638.1" cy="434.1" r="6.75"/>
<circle cx="601.9" cy="424.3" r="6.75"/>
<circle cx="613.0" cy="452.9" r="6.75"/>
<circle cx="527.4" cy="468.1" r="6.75"/>
<circle cx="531.8" cy="472.7" r="6.75"/>
<circle cx="583.0" cy="475.9" r="6.75"/>
<circle cx="537.3" cy="453.7" r="6.75"/>
<circle cx="556.1" cy="422.7" r="6.75"/>
<circle cx="627.3" cy="439.4" r="6.75"/>
<circle cx="514.2" cy="445.4" r="6.75"/>
<circle cx="524.1" cy="460.4" r="6.75"/>
<circle cx="762.4" cy="438.5" r="6.75"/>
<circle cx="756.9" cy="429.0" r="6.75"/>
<circle cx="701.5" cy="446.4" r="6.75"/>
<circle cx="756.4" cy="444.1" r="6.75"/>
<circle cx="766.1" cy="442.8" r="6.75"/>
<circle cx="770.8" cy="422.6" r="6.75"/>
<circle cx="1026.8" cy="297.7" r="6.75"/>
<circle cx="924.7" cy="304.1" r="6.75"/>
<circle cx="980.6" cy="330.4" r="6.75"/>
<circle cx="1051.4" cy="295.6" r="6.75"/>
<circle cx="910.0" cy="332.1" r="6.75"/>
<circle cx="1026.8" cy="336.9" r="6.75"/>
<circle cx="939.7" cy="319.8" r="6.75"/>
<circle cx="904.3" cy="309.7" r="6.75"/>
<circle cx="887.8" cy="317.1" r="6.75"/>
<circle cx="957.5" cy="325.0" r="6.75"/>
<circle cx="1033.7" cy="338.8" r="6.75"/>
<circle cx="926.1" cy="332.9" r="6.75"/>
<circle cx="1029.4" cy="325.6" r="6.75"/>
<circle cx="1059.2" cy="359.7" r="6.75"/>
<circle cx="830.6" cy="287.8" r="6.75"/>
<circle cx="845.9" cy="358.4" r="6.75"/>
<circle cx="360.2" cy="522.7" r="6.75"/>
<circle cx="329.2" cy="557.6" r="6.75"/>
<circle cx="358.2" cy="513.8" r="6.75"/>
<circle cx="381.1" cy="488.3" r="6.75"/>
<circle cx="330.7" cy="486.9" r="6.75"/>
<circle cx="356.2" cy="535.8" r="6.75"/>
<circle cx="372.0" cy="494.1" r="6.75"/>
<circle cx="313.6" cy="493.3" r="6.75"/>
<circle cx="351.1" cy="515.1" r="6.75"/>
<circle cx="460.0" cy="756.0" r="6.75"/>
<circle cx="454.8" cy="709.0" r="6.75"/>
<circle cx="478.3" cy="737.3" r="6.75"/>
<circle cx="470.7" cy="725.6" r="6.75"/>
<circle cx="564.4" cy="490.6" r="6.75"/>
<circle cx="642.5" cy="512.1" r="6.75"/>
<circle cx="584.3" cy="496.4" r="6.75"/>
<circle cx="634.2" cy="496.5" r="6.75"/>
<circle cx="552.3" cy="509.1" r="6.75"/>
<circle cx="664.4" cy="505.1" r="6.75"/>
<circle cx="635.9" cy="544.9" r="6.75"/>
<circle cx="669.8" cy="498.1" r="6.75"/>
<circle cx="629.2" cy="501.3" r="6.75"/>
<circle cx="537.2" cy="563.9" r="6.75"/>
<circle cx="669.1" cy="490.7" r="6.75"/>
<circle cx="574.9" cy="492.1" r="6.75"/>
<circle cx="657.6" cy="506.2" r="6.75"/>
<circle cx="539.7" cy="567.4" r="6.75"/>
<circle cx="665.3" cy="484.8" r="6.75"/>
<circle cx="551.6" cy="493.9" r="6.75"/>
<circle cx="641.6" cy="507.4" r="6.75"/>
<circle cx="524.8" cy="503.6" r="6.75"/>
<circle cx="532.0" cy="492.6" r="6.75"/>
<circle cx="547.0" cy="480.4" r="6.75"/>
<circle cx="585.9" cy="557.7" r="6.75"/>
<circle cx="840.0" cy="814.1" r="6.75"/>
<circle cx="830.0" cy="873.6" r="6.75"/>
<circle cx="904.7" cy="922.8" r="6.75"/>
<circle cx="892.8" cy="919.3" r="6.75"/>
<circle cx="849.5" cy="816.3" r="6.75"/>
<circle cx="833.6" cy="867.9" r="6.75"/>
<circle cx="824.9" cy="902.1" r="6.75"/>
<circle cx="882.6" cy="917.9" r="6.75"/>
<circle cx="832.2" cy="893.4" r="6.75"/>
<circle cx="863.2" cy="803.8" r="6.75"/>
<circle cx="1013.6" cy="805.0" r="6.75"/>
<circle cx="847.1" cy="884.0" r="6.75"/>
<circle cx="884.5" cy="941.3" r="6.75"/>
<circle cx="842.2" cy="849.8" r="6.75"/>
<circle cx="821.0" cy="892.6" r="6.75"/>
<circle cx="821.3" cy="878.4" r="6.75"/>
<circle cx="863.2" cy="838.6" r="6.75"/>
<circle cx="823.4" cy="936.5" r="6.75"/>
<circle cx="834.8" cy="814.3" r="6.75"/>
<circle cx="824.1" cy="884.0" r="6.75"/>
<circle cx="838.1" cy="801.9" r="6.75"/>
<circle cx="849.0" cy="820.5" r="6.75"/>
<circle cx="880.1" cy="391.8" r="6.75"/>
<circle cx="955.0" cy="429.5" r="6.75"/>
<circle cx="951.3" cy="414.8" r="6.75"/>
<circle cx="896.9" cy="385.0" r="6.75"/>
<circle cx="875.4" cy="406.2" r="6.75"/>
<circle cx="958.6" cy="410.7" r="6.75"/>
<circle cx="930.7" cy="397.8" r="6.75"/>
<circle cx="916.9" cy="395.8" r="6.75"/>
<circle cx="937.6" cy="417.1" r="6.75"/>
<circle cx="903.5" cy="393.2" r="6.75"/>
<circle cx="786.6" cy="409.0" r="6.75"/>
<circle cx="787.1" cy="443.5" r="6.75"/>
<circle cx="795.1" cy="432.4" r="6.75"/>
<circle cx="796.2" cy="417.5" r="6.75"/>
<circle cx="1092.2" cy="483.3" r="6.75"/>
<circle cx="1026.1" cy="482.6" r="6.75"/>
<circle cx="1030.4" cy="447.5" r="6.75"/>
<circle cx="983.5" cy="459.0" r="6.75"/>
<circle cx="1029.2" cy="456.1" r="6.75"/>
<circle cx="1049.5" cy="468.4" r="6.75"/>
<circle cx="1010.0" cy="470.9" r="6.75"/>
<circle cx="963.0" cy="440.7" r="6.75"/>
<circle cx="980.6" cy="441.6" r="6.75"/>
<circle cx="1065.1" cy="453.9" r="6.75"/>
<circle cx="1082.6" cy="491.4" r="6.75"/>
<circle cx="998.7" cy="467.8" r="6.75"/>
<circle cx="994.3" cy="476.6" r="6.75"/>
<circle cx="1065.9" cy="500.1" r="6.75"/>
<circle cx="1033.2" cy="462.0" r="6.75"/>
<circle cx="1044.6" cy="495.5" r="6.75"/>
<circle cx="986.2" cy="453.9" r="6.75"/>
<circle cx="1020.6" cy="464.3" r="6.75"/>
<circle cx="874.1" cy="485.4" r="6.75"/>
<circle cx="894.1" cy="502.3" r="6.75"/>
<circle cx="885.4" cy="505.5" r="6.75"/>
<circle cx="911.4" cy="509.6" r="6.75"/>
<circle cx="840.9" cy="503.2" r="6.75"/>
<circle cx="910.2" cy="533.6" r="6.75"/>
<circle cx="848.3" cy="507.0" r="6.75"/>
<circle cx="872.0" cy="512.7" r="6.75"/>
<circle cx="837.4" cy="513.6" r="6.75"/>
<circle cx="913.9" cy="531.5" r="6.75"/>
<circle cx="893.8" cy="509.3" r="6.75"/>
<circle cx="878.4" cy="520.2" r="6.75"/>
<circle cx="931.4" cy="499.4" r="6.75"/>
<circle cx="713.3" cy="868.0" r="6.75"/>
<circle cx="543.1" cy="850.0" r="6.75"/>
<circle cx="711.0" cy="744.3" r="6.75"/>
<circle cx="710.3" cy="801.5" r="6.75"/>
<circle cx="685.7" cy="728.7" r="6.75"/>
<circle cx="656.4" cy="786.0" r="6.75"/>
<circle cx="707.4" cy="666.7" r="6.75"/>
<circle cx="741.1" cy="897.8" r="6.75"/>
<circle cx="772.9" cy="870.8" r="6.75"/>
<circle cx="809.9" cy="708.4" r="6.75"/>
<circle cx="636.9" cy="733.1" r="6.75"/>
<circle cx="789.0" cy="853.6" r="6.75"/>
<circle cx="594.6" cy="824.6" r="6.75"/>
<circle cx="794.5" cy="839.5" r="6.75"/>
<circle cx="599.9" cy="802.5" r="6.75"/>
<circle cx="648.0" cy="694.6" r="6.75"/>
<circle cx="720.6" cy="692.2" r="6.75"/>
<circle cx="693.6" cy="738.0" r="6.75"/>
<circle cx="639.2" cy="854.8" r="6.75"/>
<circle cx="803.3" cy="779.2" r="6.75"/>
<circle cx="713.0" cy="691.1" r="6.75"/>
<circle cx="585.1" cy="807.1" r="6.75"/>
<circle cx="731.0" cy="760.6" r="6.75"/>
<circle cx="813.7" cy="718.8" r="6.75"/>
<circle cx="790.6" cy="700.4" r="6.75"/>
<circle cx="736.8" cy="860.1" r="6.75"/>
<circle cx="805.0" cy="799.0" r="6.75"/>
<circle cx="742.9" cy="652.9" r="6.75"/>
<circle cx="694.9" cy="651.5" r="6.75"/>
<circle cx="680.1" cy="856.6" r="6.75"/>
<circle cx="700.6" cy="824.7" r="6.75"/>
<circle cx="725.4" cy="818.6" r="6.75"/>
<circle cx="732.4" cy="725.9" r="6.75"/>
<circle cx="591.2" cy="700.1" r="6.75"/>
<circle cx="691.5" cy="644.8" r="6.75"/>
<circle cx="728.0" cy="833.1" r="6.75"/>
<circle cx="777.8" cy="760.9" r="6.75"/>
<circle cx="596.3" cy="779.6" r="6.75"/>
<circle cx="726.3" cy="709.2" r="6.75"/>
<circle cx="703.5" cy="712.0" r="6.75"/>
<circle cx="760.8" cy="834.9" r="6.75"/>
<circle cx="686.0" cy="845.6" r="6.75"/>
<circle cx="669.2" cy="829.6" r="6.75"/>
<circle cx="785.4" cy="839.1" r="6.75"/>
<circle cx="647.7" cy="786.0" r="6.75"/>
<circle cx="637.4" cy="710.2" r="6.75"/>
<circle cx="725.8" cy="793.6" r="6.75"/>
<circle cx="760.3" cy="757.4" r="6.75"/>
<circle cx="815.5" cy="805.9" r="6.75"/>
<circle cx="735.1" cy="673.5" r="6.75"/>
<circle cx="707.9" cy="698.1" r="6.75"/>
<circle cx="592.7" cy="764.1" r="6.75"/>
<circle cx="631.0" cy="811.0" r="6.75"/>
<circle cx="760.2" cy="731.4" r="6.75"/>
<circle cx="534.5" cy="840.6" r="6.75"/>
<circle cx="674.6" cy="787.8" r="6.75"/>
<circle cx="655.0" cy="862.4" r="6.75"/>
<circle cx="750.4" cy="745.7" r="6.75"/>
<circle cx="610.4" cy="795.8" r="6.75"/>
<circle cx="689.9" cy="663.2" r="6.75"/>
<circle cx="788.6" cy="834.3" r="6.75"/>
<circle cx="816.1" cy="697.0" r="6.75"/>
<circle cx="766.1" cy="764.0" r="6.75"/>
<circle cx="810.0" cy="798.1" r="6.75"/>
<circle cx="750.3" cy="831.6" r="6.75"/>
<circle cx="623.0" cy="796.8" r="6.75"/>
<circle cx="631.5" cy="752.7" r="6.75"/>
<circle cx="731.0" cy="694.1" r="6.75"/>
<circle cx="819.4" cy="802.7" r="6.75"/>
<circle cx="803.5" cy="709.4" r="6.75"/>
<circle cx="788.6" cy="673.0" r="6.75"/>
<circle cx="660.9" cy="817.0" r="6.75"/>
<circle cx="628.1" cy="769.0" r="6.75"/>
<circle cx="608.3" cy="734.2" r="6.75"/>
<circle cx="741.6" cy="661.6" r="6.75"/>
<circle cx="795.9" cy="833.7" r="6.75"/>
<circle cx="738.5" cy="760.4" r="6.75"/>
<circle cx="757.1" cy="876.4" r="6.75"/>
<circle cx="672.3" cy="730.1" r="6.75"/>
<circle cx="723.8" cy="731.1" r="6.75"/>
<circle cx="620.0" cy="751.5" r="6.75"/>
<circle cx="705.3" cy="703.0" r="6.75"/>
<circle cx="768.4" cy="768.2" r="6.75"/>
<circle cx="664.6" cy="732.7" r="6.75"/>
<circle cx="547.4" cy="856.2" r="6.75"/>
<circle cx="807.4" cy="872.6" r="6.75"/>
<circle cx="712.2" cy="666.2" r="6.75"/>
<circle cx="785.7" cy="677.1" r="6.75"/>
<circle cx="787.5" cy="749.5" r="6.75"/>
<circle cx="589.6" cy="709.5" r="6.75"/>
<circle cx="563.2" cy="793.3" r="6.75"/>
<circle cx="654.6" cy="708.7" r="6.75"/>
<circle cx="756.0" cy="720.6" r="6.75"/>
<circle cx="693.9" cy="766.5" r="6.75"/>
<circle cx="679.4" cy="879.7" r="6.75"/>
<circle cx="733.6" cy="702.5" r="6.75"/>
<circle cx="620.4" cy="841.2" r="6.75"/>
<circle cx="788.6" cy="765.8" r="6.75"/>
<circle cx="679.3" cy="759.6" r="6.75"/>
<circle cx="624.7" cy="722.4" r="6.75"/>
<circle cx="662.9" cy="737.8" r="6.75"/>
<circle cx="659.3" cy="803.0" r="6.75"/>
<circle cx="745.4" cy="759.1" r="6.75"/>
<circle cx="702.4" cy="820.1" r="6.75"/>
<circle cx="693.1" cy="842.7" r="6.75"/>
<circle cx="702.7" cy="742.0" r="6.75"/>
<circle cx="699.6" cy="745.8" r="6.75"/>
<circle cx="721.0" cy="706.2" r="6.75"/>
<circle cx="757.3" cy="774.1" r="6.75"/>
<circle cx="806.4" cy="809.3" r="6.75"/>
<circle cx="654.1" cy="733.3" r="6.75"/>
<circle cx="705.8" cy="751.5" r="6.75"/>
<circle cx="632.9" cy="841.1" r="6.75"/>
<circle cx="688.1" cy="854.9" r="6.75"/>
<circle cx="817.6" cy="868.3" r="6.75"/>
<circle cx="602.4" cy="739.1" r="6.75"/>
<circle cx="792.2" cy="782.9" r="6.75"/>
<circle cx="569.2" cy="803.0" r="6.75"/>
<circle cx="770.2" cy="788.5" r="6.75"/>
<circle cx="624.0" cy="817.3" r="6.75"/>
<circle cx="623.5" cy="807.6" r="6.75"/>
<circle cx="769.7" cy="777.1" r="6.75"/>
<circle cx="676.6" cy="876.7" r="6.75"/>
<circle cx="577.2" cy="840.2" r="6.75"/>
<circle cx="689.5" cy="726.5" r="6.75"/>
<circle cx="632.1" cy="712.7" r="6.75"/>
<circle cx="680.8" cy="894.0" r="6.75"/>
<circle cx="677.0" cy="843.3" r="6.75"/>
<circle cx="612.5" cy="740.8" r="6.75"/>
<circle cx="679.6" cy="666.3" r="6.75"/>
<circle cx="659.6" cy="734.9" r="6.75"/>
<circle cx="676.4" cy="833.6" r="6.75"/>
<circle cx="752.8" cy="684.5" r="6.75"/>
<circle cx="804.2" cy="721.0" r="6.75"/>
<circle cx="727.8" cy="766.0" r="6.75"/>
<circle cx="740.8" cy="783.4" r="6.75"/>
<circle cx="800.3" cy="754.2" r="6.75"/>
<circle cx="621.0" cy="711.5" r="6.75"/>
<circle cx="715.1" cy="821.2" r="6.75"/>
<circle cx="665.4" cy="810.8" r="6.75"/>
<circle cx="808.4" cy="721.3" r="6.75"/>
<circle cx="679.3" cy="783.7" r="6.75"/>
<circle cx="683.1" cy="641.3" r="6.75"/>
<circle cx="787.1" cy="691.2" r="6.75"/>
<circle cx="798.1" cy="815.6" r="6.75"/>
<circle cx="565.9" cy="857.6" r="6.75"/>
<circle cx="598.7" cy="709.4" r="6.75"/>
<circle cx="802.7" cy="736.5" r="6.75"/>
<circle cx="707.9" cy="721.3" r="6.75"/>
<circle cx="549.0" cy="975.2" r="6.75"/>
<circle cx="540.7" cy="927.4" r="6.75"/>
<circle cx="500.2" cy="953.4" r="6.75"/>
<circle cx="524.5" cy="904.9" r="6.75"/>
<circle cx="506.3" cy="919.9" r="6.75"/>
<circle cx="556.9" cy="890.6" r="6.75"/>
<circle cx="529.9" cy="1022.2" r="6.75"/>
<circle cx="598.8" cy="910.5" r="6.75"/>
<circle cx="621.5" cy="972.6" r="6.75"/>
<circle cx="505.8" cy="953.1" r="6.75"/>
<circle cx="574.6" cy="883.6" r="6.75"/>
<circle cx="549.2" cy="954.5" r="6.75"/>
<circle cx="514.2" cy="960.3" r="6.75"/>
<circle cx="591.9" cy="901.6" r="6.75"/>
<circle cx="550.8" cy="900.3" r="6.75"/>
<circle cx="602.7" cy="899.3" r="6.75"/>
<circle cx="529.5" cy="939.8" r="6.75"/>
<circle cx="543.4" cy="881.6" r="6.75"/>
<circle cx="511.7" cy="932.4" r="6.75"/>
<circle cx="529.9" cy="919.1" r="6.75"/>
<circle cx="537.8" cy="982.0" r="6.75"/>
<circle cx="554.1" cy="905.6" r="6.75"/>
<circle cx="519.5" cy="995.5" r="6.75"/>
<circle cx="525.2" cy="965.4" r="6.75"/>
<circle cx="514.3" cy="899.5" r="6.75"/>
<circle cx="556.1" cy="917.2" r="6.75"/>
<circle cx="650.3" cy="911.2" r="6.75"/>
<circle cx="780.5" cy="920.1" r="6.75"/>
<circle cx="800.7" cy="941.1" r="6.75"/>
<circle cx="791.6" cy="958.0" r="6.75"/>
<circle cx="808.5" cy="928.2" r="6.75"/>
<circle cx="785.2" cy="969.3" r="6.75"/>
<circle cx="772.0" cy="914.8" r="6.75"/>
<circle cx="808.9" cy="941.5" r="6.75"/>
<circle cx="788.7" cy="923.3" r="6.75"/>
<circle cx="240.0" cy="310.0" r="6.75"/>
<circle cx="257.5" cy="320.0" r="6.75"/>
<circle cx="220.0" cy="357.5" r="6.75"/>
<circle cx="238.8" cy="337.5" r="6.75"/>
<circle cx="261.2" cy="335.0" r="6.75"/>
<circle cx="268.8" cy="330.0" r="6.75"/>
<circle cx="275.0" cy="296.2" r="6.75"/>
<circle cx="632.5" cy="385.0" r="6.75"/>
<circle cx="650.0" cy="380.0" r="6.75"/>
<circle cx="540.0" cy="412.5" r="6.75"/>
<circle cx="768.8" cy="350.0" r="6.75"/>
<circle cx="1006.2" cy="260.0" r="6.75"/>
<circle cx="497.5" cy="495.0" r="6.75"/>
<circle cx="680.0" cy="557.5" r="6.75"/>
<circle cx="686.2" cy="553.8" r="6.75"/>
<circle cx="690.0" cy="560.0" r="6.75"/>
<circle cx="675.0" cy="561.2" r="6.75"/>
<circle cx="683.8" cy="561.2" r="6.75"/>
<circle cx="655.0" cy="568.0" r="6.75"/>
<circle cx="662.5" cy="636.2" r="6.75"/>
<circle cx="647.5" cy="682.0" r="6.75"/>
<circle cx="562.5" cy="721.2" r="6.75"/>
<circle cx="430.0" cy="832.5" r="6.75"/>
<circle cx="481.2" cy="857.5" r="6.75"/>
<circle cx="298.8" cy="897.5" r="6.75"/>
<circle cx="311.2" cy="893.8" r="6.75"/>
<circle cx="307.5" cy="901.2" r="6.75"/>
<circle cx="302.5" cy="910.0" r="6.75"/>
<circle cx="292.5" cy="915.0" r="6.75"/>
<circle cx="312.5" cy="910.0" r="6.75"/>
<circle cx="473.8" cy="930.0" r="6.75"/>
<circle cx="526.2" cy="860.0" r="6.75"/>
<circle cx="861.2" cy="483.8" r="6.75"/>
<circle cx="867.5" cy="482.5" r="6.75"/>
<circle cx="880.0" cy="487.5" r="6.75"/>
<circle cx="890.0" cy="487.5" r="6.75"/>
<circle cx="907.5" cy="488.8" r="6.75"/>
<circle cx="917.0" cy="482.5" r="6.75"/>
<circle cx="931.2" cy="491.2" r="6.75"/>
<circle cx="937.5" cy="498.8" r="6.75"/>
<circle cx="950.0" cy="486.2" r="6.75"/>
<circle cx="963.8" cy="490.0" r="6.75"/>
<circle cx="967.5" cy="493.8" r="6.75"/>
<circle cx="841.2" cy="530.0" r="6.75"/>
<circle cx="850.0" cy="530.0" r="6.75"/>
<circle cx="631.9" cy="690.6" r="6.75"/>
<circle cx="412.5" cy="430.0" r="6.75"/>
<circle cx="452.5" cy="435.0" r="6.75"/>
<circle cx="402.5" cy="475.0" r="6.75"/>
<circle cx="407.5" cy="460.0" r="6.75"/>
<circle cx="531.2" cy="386.2" r="6.75"/>
<circle cx="556.2" cy="371.2" r="6.75"/>
<circle cx="543.8" cy="367.5" r="6.75"/>
<circle cx="528.8" cy="360.0" r="6.75"/>
<circle cx="547.5" cy="345.0" r="6.75"/>
</g>
<g fill="#bedceb">
<circle cx="417.9" cy="285.2" r="6.75"/>
<circle cx="331.8" cy="317.5" r="6.75"/>
<circle cx="431.2" cy="234.8" r="6.75"/>
<circle cx="338.8" cy="367.2" r="6.75"/>
<circle cx="499.3" cy="240.0" r="6.75"/>
<circle cx="407.9" cy="337.8" r="6.75"/>
<circle cx="268.0" cy="373.1" r="6.75"/>
<circle cx="395.7" cy="465.3" r="6.75"/>
<circle cx="361.6" cy="259.3" r="6.75"/>
<circle cx="364.5" cy="475.5" r="6.75"/>
<circle cx="457.1" cy="374.4" r="6.75"/>
<circle cx="290.2" cy="467.9" r="6.75"/>
<circle cx="489.2" cy="301.1" r="6.75"/>
<circle cx="355.6" cy="440.3" r="6.75"/>
<circle cx="338.5" cy="476.7" r="6.75"/>
<circle cx="434.4" cy="286.8" r="6.75"/>
<circle cx="328.5" cy="334.7" r="6.75"/>
<circle cx="494.9" cy="261.7" r="6.75"/>
<circle cx="456.8" cy="358.1" r="6.75"/>
<circle cx="321.8" cy="367.7" r="6.75"/>
<circle cx="317.3" cy="332.8" r="6.75"/>
<circle cx="498.3" cy="342.8" r="6.75"/>
<circle cx="330.4" cy="473.4" r="6.75"/>
<circle cx="436.4" cy="377.1" r="6.75"/>
<circle cx="480.6" cy="331.9" r="6.75"/>
<circle cx="370.9" cy="455.2" r="6.75"/>
<circle cx="350.3" cy="427.6" r="6.75"/>
<circle cx="364.6" cy="278.4" r="6.75"/>
<circle cx="323.9" cy="423.5" r="6.75"/>
<circle cx="330.5" cy="306.3" r="6.75"/>
<circle cx="496.6" cy="362.3" r="6.75"/>
<circle cx="357.1" cy="292.1" r="6.75"/>
<circle cx="291.4" cy="384.7" r="6.75"/>
<circle cx="479.7" cy="254.8" r="6.75"/>
<circle cx="494.5" cy="300.7" r="6.75"/>
<circle cx="387.6" cy="319.9" r="6.75"/>
<circle cx="395.0" cy="427.2" r="6.75"/>
<circle cx="412.1" cy="367.6" r="6.75"/>
<circle cx="440.1" cy="278.3" r="6.75"/>
<circle cx="380.8" cy="326.6" r="6.75"/>
<circle cx="468.5" cy="252.0" r="6.75"/>
<circle cx="344.6" cy="308.1" r="6.75"/>
<circle cx="492.8" cy="352.0" r="6.75"/>
<circle cx="455.1" cy="286.0" r="6.75"/>
<circle cx="375.6" cy="377.1" r="6.75"/>
<circle cx="405.7" cy="235.7" r="6.75"/>
<circle cx="338.7" cy="303.0" r="6.75"/>
<circle cx="362.6" cy="463.8" r="6.75"/>
<circle cx="399.2" cy="409.3" r="6.75"/>
<circle cx="318.8" cy="394.4" r="6.75"/>
<circle cx="354.0" cy="362.3" r="6.75"/>
<circle cx="433.0" cy="278.1" r="6.75"/>
<circle cx="315.9" cy="479.9" r="6.75"/>
<circle cx="484.2" cy="325.2" r="6.75"/>
<circle cx="499.7" cy="252.7" r="6.75"/>
<circle cx="460.1" cy="262.0" r="6.75"/>
<circle cx="430.9" cy="391.1" r="6.75"/>
<circle cx="412.6" cy="353.8" r="6.75"/>
<circle cx="286.8" cy="351.0" r="6.75"/>
<circle cx="451.9" cy="253.1" r="6.75"/>
<circle cx="390.8" cy="479.3" r="6.75"/>
<circle cx="361.0" cy="459.1" r="6.75"/>
<circle cx="494.6" cy="240.9" r="6.75"/>
<circle cx="474.8" cy="357.8" r="6.75"/>
<circle cx="298.7" cy="315.0" r="6.75"/>
<circle cx="296.5" cy="284.4" r="6.75"/>
<circle cx="349.1" cy="453.9" r="6.75"/>
<circle cx="373.9" cy="479.5" r="6.75"/>
<circle cx="440.7" cy="331.5" r="6.75"/>
<circle cx="401.8" cy="249.8" r="6.75"/>
<circle cx="345.0" cy="358.2" r="6.75"/>
<circle cx="440.5" cy="302.1" r="6.75"/>
<circle cx="338.2" cy="308.7" r="6.75"/>
<circle cx="367.8" cy="364.2" r="6.75"/>
<circle cx="462.0" cy="362.9" r="6.75"/>
<circle cx="329.5" cy="363.5" r="6.75"/>
<circle cx="488.1" cy="289.2" r="6.75"/>
<circle cx="322.2" cy="307.4" r="6.75"/>
<circle cx="411.8" cy="254.0" r="6.75"/>
<circle cx="347.7" cy="281.7" r="6.75"/>
<circle cx="388.9" cy="464.7" r="6.75"/>
<circle cx="437.3" cy="350.6" r="6.75"/>
<circle cx="456.4" cy="259.8" r="6.75"/>
<circle cx="328.3" cy="349.6" r="6.75"/>
<circle cx="433.8" cy="357.1" r="6.75"/>
<circle cx="351.3" cy="447.2" r="6.75"/>
<circle cx="402.8" cy="386.4" r="6.75"/>
<circle cx="470.6" cy="233.5" r="6.75"/>
<circle cx="321.9" cy="372.9" r="6.75"/>
<circle cx="424.1" cy="303.1" r="6.75"/>
<circle cx="318.9" cy="324.1" r="6.75"/>
<circle cx="297.2" cy="393.1" r="6.75"/>
<circle cx="397.9" cy="386.6" r="6.75"/>
<circle cx="652.0" cy="271.3" r="6.75"/>
<circle cx="728.2" cy="291.5" r="6.75"/>
<circle cx="580.3" cy="264.6" r="6.75"/>
<circle cx="655.4" cy="287.3" r="6.75"/>
<circle cx="505.4" cy="317.9" r="6.75"/>
<circle cx="748.4" cy="296.0" r="6.75"/>
<circle cx="671.4" cy="271.9" r="6.75"/>
<circle cx="532.0" cy="218.0" r="6.75"/>
<circle cx="535.2" cy="328.2" r="6.75"/>
<circle cx="635.5" cy="236.9" r="6.75"/>
<circle cx="734.3" cy="306.3" r="6.75"/>
<circle cx="659.7" cy="251.9" r="6.75"/>
<circle cx="550.4" cy="199.9" r="6.75"/>
<circle cx="640.4" cy="260.0" r="6.75"/>
<circle cx="648.8" cy="225.4" r="6.75"/>
<circle cx="665.2" cy="279.1" r="6.75"/>
<circle cx="627.2" cy="219.8" r="6.75"/>
<circle cx="675.5" cy="238.3" r="6.75"/>
<circle cx="704.3" cy="264.4" r="6.75"/>
<circle cx="722.7" cy="240.9" r="6.75"/>
<circle cx="653.4" cy="235.7" r="6.75"/>
<circle cx="500.9" cy="278.4" r="6.75"/>
<circle cx="668.0" cy="282.6" r="6.75"/>
<circle cx="781.2" cy="289.4" r="6.75"/>
<circle cx="581.2" cy="288.7" r="6.75"/>
<circle cx="699.9" cy="273.5" r="6.75"/>
<circle cx="561.3" cy="313.6" r="6.75"/>
<circle cx="793.0" cy="281.7" r="6.75"/>
<circle cx="577.8" cy="314.6" r="6.75"/>
<circle cx="503.7" cy="298.6" r="6.75"/>
<circle cx="693.4" cy="235.2" r="6.75"/>
<circle cx="671.5" cy="251.8" r="6.75"/>
<circle cx="566.0" cy="310.2" r="6.75"/>
<circle cx="580.1" cy="259.3" r="6.75"/>
<circle cx="790.6" cy="289.8" r="6.75"/>
<circle cx="500.9" cy="202.9" r="6.75"/>
<circle cx="757.0" cy="334.5" r="6.75"/>
<circle cx="615.2" cy="287.4" r="6.75"/>
<circle cx="817.8" cy="321.6" r="6.75"/>
<circle cx="591.4" cy="239.3" r="6.75"/>
<circle cx="562.7" cy="304.4" r="6.75"/>
<circle cx="680.3" cy="225.1" r="6.75"/>
<circle cx="620.3" cy="238.2" r="6.75"/>
<circle cx="673.2" cy="245.3" r="6.75"/>
<circle cx="526.4" cy="273.1" r="6.75"/>
<circle cx="625.0" cy="271.6" r="6.75"/>
<circle cx="566.7" cy="278.7" r="6.75"/>
<circle cx="579.1" cy="280.9" r="6.75"/>
<circle cx="597.2" cy="272.0" r="6.75"/>
<circle cx="623.5" cy="294.8" r="6.75"/>
<circle cx="569.3" cy="289.9" r="6.75"/>
<circle cx="645.5" cy="237.2" r="6.75"/>
<circle cx="624.3" cy="244.4" r="6.75"/>
<circle cx="687.4" cy="232.4" r="6.75"/>
<circle cx="502.9" cy="311.0" r="6.75"/>
<circle cx="520.4" cy="296.3" r="6.75"/>
<circle cx="715.9" cy="258.7" r="6.75"/>
<circle cx="620.4" cy="315.2" r="6.75"/>
<circle cx="616.0" cy="311.8" r="6.75"/>
<circle cx="712.3" cy="290.4" r="6.75"/>
<circle cx="628.9" cy="209.3" r="6.75"/>
<circle cx="764.0" cy="295.6" r="6.75"/>
<circle cx="806.9" cy="299.1" r="6.75"/>
<circle cx="569.9" cy="208.6" r="6.75"/>
<circle cx="557.5" cy="197.6" r="6.75"/>
<circle cx="643.9" cy="245.2" r="6.75"/>
<circle cx="532.3" cy="203.8" r="6.75"/>
<circle cx="783.9" cy="304.5" r="6.75"/>
<circle cx="635.2" cy="262.4" r="6.75"/>
<circle cx="681.2" cy="304.7" r="6.75"/>
<circle cx="593.0" cy="248.3" r="6.75"/>
<circle cx="684.0" cy="300.8" r="6.75"/>
<circle cx="594.7" cy="314.6" r="6.75"/>
<circle cx="670.1" cy="299.0" r="6.75"/>
<circle cx="757.8" cy="259.6" r="6.75"/>
<circle cx="566.6" cy="273.1" r="6.75"/>
<circle cx="681.5" cy="271.2" r="6.75"/>
<circle cx="658.1" cy="212.4" r="6.75"/>
<circle cx="533.7" cy="240.6" r="6.75"/>
<circle cx="526.1" cy="222.5" r="6.75"/>
<circle cx="541.1" cy="265.5" r="6.75"/>
<circle cx="663.0" cy="284.5" r="6.75"/>
<circle cx="524.3" cy="378.1" r="6.75"/>
<circle cx="530.7" cy="347.4" r="6.75"/>
<circle cx="500.3" cy="386.6" r="6.75"/>
<circle cx="503.1" cy="358.8" r="6.75"/>
<circle cx="526.4" cy="352.1" r="6.75"/>
<circle cx="697.4" cy="390.3" r="6.75"/>
<circle cx="706.5" cy="359.4" r="6.75"/>
<circle cx="710.0" cy="390.4" r="6.75"/>
<circle cx="701.3" cy="360.7" r="6.75"/>
<circle cx="694.4" cy="369.6" r="6.75"/>
<circle cx="702.2" cy="343.8" r="6.75"/>
<circle cx="577.0" cy="472.7" r="6.75"/>
<circle cx="596.2" cy="445.5" r="6.75"/>
<circle cx="583.8" cy="409.5" r="6.75"/>
<circle cx="587.1" cy="455.5" r="6.75"/>
<circle cx="619.2" cy="422.6" r="6.75"/>
<circle cx="580.1" cy="441.3" r="6.75"/>
<circle cx="540.1" cy="465.4" r="6.75"/>
<circle cx="597.7" cy="451.6" r="6.75"/>
<circle cx="606.9" cy="463.8" r="6.75"/>
<circle cx="638.3" cy="438.9" r="6.75"/>
<circle cx="584.0" cy="447.2" r="6.75"/>
<circle cx="626.3" cy="454.8" r="6.75"/>
<circle cx="652.2" cy="477.7" r="6.75"/>
<circle cx="507.0" cy="445.0" r="6.75"/>
<circle cx="578.2" cy="465.7" r="6.75"/>
<circle cx="632.4" cy="434.0" r="6.75"/>
<circle cx="562.6" cy="440.7" r="6.75"/>
<circle cx="632.9" cy="429.8" r="6.75"/>
<circle cx="578.7" cy="413.2" r="6.75"/>
<circle cx="507.5" cy="429.5" r="6.75"/>
<circle cx="593.4" cy="423.6" r="6.75"/>
<circle cx="755.1" cy="462.8" r="6.75"/>
<circle cx="748.4" cy="476.5" r="6.75"/>
<circle cx="778.1" cy="443.7" r="6.75"/>
<circle cx="741.3" cy="465.8" r="6.75"/>
<circle cx="736.1" cy="479.3" r="6.75"/>
<circle cx="730.5" cy="469.4" r="6.75"/>
<circle cx="764.4" cy="431.2" r="6.75"/>
<circle cx="777.0" cy="448.1" r="6.75"/>
<circle cx="1037.6" cy="318.5" r="6.75"/>
<circle cx="930.8" cy="303.7" r="6.75"/>
<circle cx="916.6" cy="309.1" r="6.75"/>
<circle cx="988.2" cy="309.0" r="6.75"/>
<circle cx="979.1" cy="317.1" r="6.75"/>
<circle cx="998.2" cy="295.7" r="6.75"/>
<circle cx="1055.9" cy="344.0" r="6.75"/>
<circle cx="1065.1" cy="350.3" r="6.75"/>
<circle cx="825.3" cy="308.1" r="6.75"/>
<circle cx="824.4" cy="274.7" r="6.75"/>
<circle cx="826.2" cy="344.1" r="6.75"/>
<circle cx="840.5" cy="335.8" r="6.75"/>
<circle cx="850.8" cy="363.4" r="6.75"/>
<circle cx="873.3" cy="363.2" r="6.75"/>
<circle cx="820.7" cy="329.3" r="6.75"/>
<circle cx="825.6" cy="329.9" r="6.75"/>
<circle cx="831.3" cy="336.1" r="6.75"/>
<circle cx="887.5" cy="379.8" r="6.75"/>
<circle cx="887.9" cy="379.8" r="6.75"/>
<circle cx="873.9" cy="373.5" r="6.75"/>
<circle cx="359.6" cy="480.1" r="6.75"/>
<circle cx="376.1" cy="481.9" r="6.75"/>
<circle cx="346.3" cy="510.7" r="6.75"/>
<circle cx="344.4" cy="500.0" r="6.75"/>
<circle cx="366.8" cy="544.7" r="6.75"/>
<circle cx="385.5" cy="541.7" r="6.75"/>
<circle cx="350.9" cy="493.1" r="6.75"/>
<circle cx="398.8" cy="482.7" r="6.75"/>
<circle cx="348.5" cy="539.2" r="6.75"/>
<circle cx="312.6" cy="548.0" r="6.75"/>
<circle cx="305.9" cy="505.8" r="6.75"/>
<circle cx="352.2" cy="505.6" r="6.75"/>
<circle cx="394.4" cy="536.8" r="6.75"/>
<circle cx="341.0" cy="490.7" r="6.75"/>
<circle cx="372.0" cy="534.1" r="6.75"/>
<circle cx="380.9" cy="519.8" r="6.75"/>
<circle cx="385.3" cy="491.9" r="6.75"/>
<circle cx="366.1" cy="495.0" r="6.75"/>
<circle cx="307.4" cy="491.8" r="6.75"/>
<circle cx="472.8" cy="759.7" r="6.75"/>
<circle cx="467.0" cy="750.3" r="6.75"/>
<circle cx="461.3" cy="736.2" r="6.75"/>
<circle cx="499.4" cy="716.3" r="6.75"/>
<circle cx="425.1" cy="731.7" r="6.75"/>
<circle cx="480.5" cy="728.3" r="6.75"/>
<circle cx="456.8" cy="702.0" r="6.75"/>
<circle cx="481.9" cy="720.6" r="6.75"/>
<circle cx="464.2" cy="699.1" r="6.75"/>
<circle cx="467.3" cy="764.6" r="6.75"/>
<circle cx="478.5" cy="697.1" r="6.75"/>
<circle cx="482.2" cy="736.3" r="6.75"/>
<circle cx="482.7" cy="767.9" r="6.75"/>
<circle cx="480.6" cy="708.6" r="6.75"/>
<circle cx="589.6" cy="496.5" r="6.75"/>
<circle cx="536.8" cy="545.8" r="6.75"/>
<circle cx="547.5" cy="516.0" r="6.75"/>
<circle cx="635.5" cy="518.7" r="6.75"/>
<circle cx="661.2" cy="488.9" r="6.75"/>
<circle cx="645.7" cy="485.9" r="6.75"/>
<circle cx="633.0" cy="504.1" r="6.75"/>
<circle cx="528.9" cy="496.7" r="6.75"/>
<circle cx="613.2" cy="551.7" r="6.75"/>
<circle cx="514.7" cy="500.4" r="6.75"/>
<circle cx="515.6" cy="489.1" r="6.75"/>
<circle cx="652.3" cy="521.7" r="6.75"/>
<circle cx="597.2" cy="497.3" r="6.75"/>
<circle cx="642.5" cy="518.6" r="6.75"/>
<circle cx="521.6" cy="522.7" r="6.75"/>
<circle cx="620.8" cy="522.4" r="6.75"/>
<circle cx="634.0" cy="491.2" r="6.75"/>
<circle cx="558.3" cy="548.8" r="6.75"/>
<circle cx="611.6" cy="503.8" r="6.75"/>
<circle cx="538.9" cy="496.4" r="6.75"/>
<circle cx="603.7" cy="552.1" r="6.75"/>
<circle cx="554.6" cy="497.6" r="6.75"/>
<circle cx="608.3" cy="564.2" r="6.75"/>
<circle cx="558.4" cy="516.9" r="6.75"/>
<circle cx="576.8" cy="561.1" r="6.75"/>
<circle cx="559.2" cy="511.7" r="6.75"/>
<circle cx="549.0" cy="500.4" r="6.75"/>
<circle cx="516.3" cy="513.2" r="6.75"/>
<circle cx="599.1" cy="570.2" r="6.75"/>
<circle cx="628.8" cy="536.9" r="6.75"/>
<circle cx="632.7" cy="508.6" r="6.75"/>
<circle cx="985.4" cy="789.0" r="6.75"/>
<circle cx="945.1" cy="792.8" r="6.75"/>
<circle cx="988.6" cy="797.8" r="6.75"/>
<circle cx="364.5" cy="838.4" r="6.75"/>
<circle cx="874.4" cy="929.6" r="6.75"/>
<circle cx="840.7" cy="885.9" r="6.75"/>
<circle cx="895.2" cy="898.1" r="6.75"/>
<circle cx="827.3" cy="826.8" r="6.75"/>
<circle cx="1000.1" cy="806.3" r="6.75"/>
<circle cx="853.6" cy="868.2" r="6.75"/>
<circle cx="871.4" cy="804.9" r="6.75"/>
<circle cx="844.1" cy="909.8" r="6.75"/>
<circle cx="914.1" cy="912.6" r="6.75"/>
<circle cx="937.3" cy="853.0" r="6.75"/>
<circle cx="855.2" cy="941.7" r="6.75"/>
<circle cx="873.1" cy="841.9" r="6.75"/>
<circle cx="843.2" cy="808.2" r="6.75"/>
<circle cx="882.4" cy="898.7" r="6.75"/>
<circle cx="831.3" cy="841.9" r="6.75"/>
<circle cx="868.3" cy="931.1" r="6.75"/>
<circle cx="926.8" cy="835.9" r="6.75"/>
<circle cx="852.3" cy="860.1" r="6.75"/>
<circle cx="845.0" cy="862.4" r="6.75"/>
<circle cx="923.0" cy="817.1" r="6.75"/>
<circle cx="902.4" cy="891.7" r="6.75"/>
<circle cx="842.0" cy="827.5" r="6.75"/>
<circle cx="855.1" cy="814.5" r="6.75"/>
<circle cx="825.2" cy="920.6" r="6.75"/>
<circle cx="828.3" cy="890.3" r="6.75"/>
<circle cx="833.5" cy="803.2" r="6.75"/>
<circle cx="838.1" cy="940.0" r="6.75"/>
<circle cx="872.9" cy="856.8" r="6.75"/>
<circle cx="849.2" cy="853.7" r="6.75"/>
<circle cx="864.5" cy="809.0" r="6.75"/>
<circle cx="874.0" cy="828.2" r="6.75"/>
<circle cx="825.4" cy="909.6" r="6.75"/>
<circle cx="863.4" cy="844.2" r="6.75"/>
<circle cx="857.0" cy="849.6" r="6.75"/>
<circle cx="848.4" cy="939.7" r="6.75"/>
<circle cx="916.4" cy="403.7" r="6.75"/>
<circle cx="898.5" cy="395.5" r="6.75"/>
<circle cx="942.8" cy="398.3" r="6.75"/>
<circle cx="915.4" cy="413.6" r="6.75"/>
<circle cx="943.9" cy="436.3" r="6.75"/>
<circle cx="907.1" cy="386.6" r="6.75"/>
<circle cx="956.1" cy="435.7" r="6.75"/>
<circle cx="870.4" cy="405.9" r="6.75"/>
<circle cx="951.5" cy="410.4" r="6.75"/>
<circle cx="932.1" cy="415.2" r="6.75"/>
<circle cx="872.6" cy="395.9" r="6.75"/>
<circle cx="913.6" cy="400.4" r="6.75"/>
<circle cx="911.8" cy="385.3" r="6.75"/>
<circle cx="929.6" cy="420.8" r="6.75"/>
<circle cx="903.4" cy="388.5" r="6.75"/>
<circle cx="801.6" cy="438.2" r="6.75"/>
<circle cx="792.4" cy="440.2" r="6.75"/>
<circle cx="796.2" cy="438.8" r="6.75"/>
<circle cx="811.4" cy="463.3" r="6.75"/>
<circle cx="809.2" cy="445.0" r="6.75"/>
<circle cx="807.8" cy="458.0" r="6.75"/>
<circle cx="794.7" cy="445.4" r="6.75"/>
<circle cx="1022.9" cy="435.5" r="6.75"/>
<circle cx="970.0" cy="416.6" r="6.75"/>
<circle cx="995.0" cy="430.2" r="6.75"/>
<circle cx="1005.0" cy="445.4" r="6.75"/>
<circle cx="1094.6" cy="489.2" r="6.75"/>
<circle cx="972.1" cy="453.9" r="6.75"/>
<circle cx="1001.2" cy="456.8" r="6.75"/>
<circle cx="997.4" cy="441.9" r="6.75"/>
<circle cx="985.8" cy="439.3" r="6.75"/>
<circle cx="1055.8" cy="496.4" r="6.75"/>
<circle cx="982.2" cy="453.9" r="6.75"/>
<circle cx="910.9" cy="484.9" r="6.75"/>
<circle cx="890.4" cy="496.4" r="6.75"/>
<circle cx="926.2" cy="508.3" r="6.75"/>
<circle cx="918.8" cy="516.8" r="6.75"/>
<circle cx="922.3" cy="521.9" r="6.75"/>
<circle cx="925.3" cy="495.7" r="6.75"/>
<circle cx="911.6" cy="495.3" r="6.75"/>
<circle cx="572.0" cy="814.4" r="6.75"/>
<circle cx="574.4" cy="744.9" r="6.75"/>
<circle cx="698.8" cy="733.0" r="6.75"/>
<circle cx="778.6" cy="849.3" r="6.75"/>
<circle cx="668.6" cy="851.5" r="6.75"/>
<circle cx="800.0" cy="712.4" r="6.75"/>
<circle cx="804.0" cy="694.5" r="6.75"/>
<circle cx="680.4" cy="743.3" r="6.75"/>
<circle cx="655.5" cy="848.1" r="6.75"/>
<circle cx="679.7" cy="695.3" r="6.75"/>
<circle cx="604.5" cy="859.0" r="6.75"/>
<circle cx="788.4" cy="828.7" r="6.75"/>
<circle cx="707.9" cy="715.3" r="6.75"/>
<circle cx="786.7" cy="806.3" r="6.75"/>
<circle cx="813.3" cy="834.6" r="6.75"/>
<circle cx="649.3" cy="732.5" r="6.75"/>
<circle cx="675.2" cy="860.5" r="6.75"/>
<circle cx="684.9" cy="841.0" r="6.75"/>
<circle cx="614.4" cy="766.7" r="6.75"/>
<circle cx="743.1" cy="876.6" r="6.75"/>
<circle cx="685.0" cy="745.6" r="6.75"/>
<circle cx="702.4" cy="777.7" r="6.75"/>
<circle cx="777.2" cy="867.1" r="6.75"/>
<circle cx="709.7" cy="659.4" r="6.75"/>
<circle cx="542.8" cy="843.7" r="6.75"/>
<circle cx="698.5" cy="708.6" r="6.75"/>
<circle cx="773.8" cy="713.8" r="6.75"/>
<circle cx="712.7" cy="757.0" r="6.75"/>
<circle cx="776.2" cy="817.4" r="6.75"/>
<circle cx="682.9" cy="837.0" r="6.75"/>
<circle cx="814.1" cy="731.8" r="6.75"/>
<circle cx="793.3" cy="864.8" r="6.75"/>
<circle cx="601.0" cy="855.3" r="6.75"/>
<circle cx="652.0" cy="746.6" r="6.75"/>
<circle cx="673.9" cy="687.4" r="6.75"/>
<circle cx="699.2" cy="689.8" r="6.75"/>
<circle cx="671.2" cy="690.6" r="6.75"/>
<circle cx="678.6" cy="738.8" r="6.75"/>
<circle cx="722.5" cy="715.3" r="6.75"/>
<circle cx="603.5" cy="721.6" r="6.75"/>
<circle cx="592.1" cy="804.0" r="6.75"/>
<circle cx="776.5" cy="885.1" r="6.75"/>
<circle cx="718.4" cy="723.3" r="6.75"/>
<circle cx="665.7" cy="691.6" r="6.75"/>
<circle cx="720.4" cy="678.4" r="6.75"/>
<circle cx="774.4" cy="812.7" r="6.75"/>
<circle cx="767.5" cy="738.5" r="6.75"/>
<circle cx="725.1" cy="773.4" r="6.75"/>
<circle cx="640.2" cy="704.4" r="6.75"/>
<circle cx="712.1" cy="645.6" r="6.75"/>
<circle cx="677.5" cy="733.8" r="6.75"/>
<circle cx="590.1" cy="811.1" r="6.75"/>
<circle cx="627.1" cy="813.3" r="6.75"/>
<circle cx="600.0" cy="755.1" r="6.75"/>
<circle cx="786.6" cy="879.2" r="6.75"/>
<circle cx="819.5" cy="720.1" r="6.75"/>
<circle cx="728.6" cy="714.1" r="6.75"/>
<circle cx="651.7" cy="771.7" r="6.75"/>
<circle cx="665.9" cy="683.5" r="6.75"/>
<circle cx="587.6" cy="841.5" r="6.75"/>
<circle cx="801.6" cy="640.3" r="6.75"/>
<circle cx="562.1" cy="800.3" r="6.75"/>
<circle cx="618.7" cy="737.8" r="6.75"/>
<circle cx="580.7" cy="769.0" r="6.75"/>
<circle cx="633.0" cy="762.5" r="6.75"/>
<circle cx="752.6" cy="697.0" r="6.75"/>
<circle cx="802.9" cy="648.7" r="6.75"/>
<circle cx="766.7" cy="746.6" r="6.75"/>
<circle cx="742.8" cy="698.1" r="6.75"/>
<circle cx="781.9" cy="796.9" r="6.75"/>
<circle cx="615.8" cy="775.2" r="6.75"/>
<circle cx="664.7" cy="849.6" r="6.75"/>
<circle cx="577.3" cy="756.4" r="6.75"/>
<circle cx="787.1" cy="641.4" r="6.75"/>
<circle cx="591.9" cy="840.1" r="6.75"/>
<circle cx="615.8" cy="790.0" r="6.75"/>
<circle cx="744.1" cy="859.5" r="6.75"/>
<circle cx="739.8" cy="689.7" r="6.75"/>
<circle cx="735.7" cy="801.7" r="6.75"/>
<circle cx="817.0" cy="829.4" r="6.75"/>
<circle cx="549.9" cy="819.1" r="6.75"/>
<circle cx="683.5" cy="780.3" r="6.75"/>
<circle cx="581.1" cy="745.2" r="6.75"/>
<circle cx="592.8" cy="795.0" r="6.75"/>
<circle cx="753.0" cy="645.7" r="6.75"/>
<circle cx="741.4" cy="676.7" r="6.75"/>
<circle cx="676.0" cy="807.8" r="6.75"/>
<circle cx="763.4" cy="688.5" r="6.75"/>
<circle cx="721.0" cy="688.1" r="6.75"/>
<circle cx="676.6" cy="649.6" r="6.75"/>
<circle cx="633.8" cy="707.9" r="6.75"/>
<circle cx="613.9" cy="728.3" r="6.75"/>
<circle cx="566.6" cy="767.0" r="6.75"/>
<circle cx="792.0" cy="809.0" r="6.75"/>
<circle cx="750.9" cy="827.1" r="6.75"/>
<circle cx="667.2" cy="645.8" r="6.75"/>
<circle cx="814.9" cy="784.4" r="6.75"/>
<circle cx="783.9" cy="778.0" r="6.75"/>
<circle cx="612.3" cy="787.1" r="6.75"/>
<circle cx="714.1" cy="826.1" r="6.75"/>
<circle cx="692.1" cy="746.3" r="6.75"/>
<circle cx="670.5" cy="862.5" r="6.75"/>
<circle cx="716.4" cy="773.9" r="6.75"/>
<circle cx="633.3" cy="731.0" r="6.75"/>
<circle cx="744.4" cy="883.7" r="6.75"/>
<circle cx="629.0" cy="806.9" r="6.75"/>
<circle cx="632.0" cy="830.3" r="6.75"/>
<circle cx="628.3" cy="749.5" r="6.75"/>
<circle cx="703.1" cy="782.8" r="6.75"/>
<circle cx="583.4" cy="832.6" r="6.75"/>
<circle cx="698.8" cy="764.7" r="6.75"/>
<circle cx="626.5" cy="779.9" r="6.75"/>
<circle cx="758.6" cy="853.3" r="6.75"/>
<circle cx="600.9" cy="951.5" r="6.75"/>
<circle cx="511.0" cy="903.1" r="6.75"/>
<circle cx="588.3" cy="958.7" r="6.75"/>
<circle cx="573.6" cy="945.8" r="6.75"/>
<circle cx="577.8" cy="917.0" r="6.75"/>
<circle cx="553.9" cy="877.6" r="6.75"/>
<circle cx="581.6" cy="961.7" r="6.75"/>
<circle cx="544.6" cy="964.3" r="6.75"/>
<circle cx="576.4" cy="902.9" r="6.75"/>
<circle cx="677.6" cy="1049.8" r="6.75"/>
<circle cx="560.1" cy="939.9" r="6.75"/>
<circle cx="603.4" cy="921.4" r="6.75"/>
<circle cx="593.6" cy="1004.7" r="6.75"/>
<circle cx="534.9" cy="942.5" r="6.75"/>
<circle cx="616.7" cy="924.8" r="6.75"/>
<circle cx="524.3" cy="910.6" r="6.75"/>
<circle cx="583.7" cy="905.9" r="6.75"/>
<circle cx="633.0" cy="958.6" r="6.75"/>
<circle cx="683.0" cy="995.9" r="6.75"/>
<circle cx="538.7" cy="875.9" r="6.75"/>
<circle cx="531.5" cy="970.6" r="6.75"/>
<circle cx="557.8" cy="923.0" r="6.75"/>
<circle cx="552.6" cy="937.8" r="6.75"/>
<circle cx="560.4" cy="999.1" r="6.75"/>
<circle cx="537.7" cy="962.3" r="6.75"/>
<circle cx="571.8" cy="1054.0" r="6.75"/>
<circle cx="637.7" cy="960.0" r="6.75"/>
<circle cx="550.0" cy="917.1" r="6.75"/>
<circle cx="645.1" cy="942.0" r="6.75"/>
<circle cx="510.6" cy="999.7" r="6.75"/>
<circle cx="528.8" cy="892.9" r="6.75"/>
<circle cx="522.7" cy="900.7" r="6.75"/>
<circle cx="520.2" cy="1016.6" r="6.75"/>
<circle cx="544.6" cy="875.1" r="6.75"/>
<circle cx="588.9" cy="1047.0" r="6.75"/>
<circle cx="547.7" cy="912.6" r="6.75"/>
<circle cx="590.3" cy="975.6" r="6.75"/>
<circle cx="562.2" cy="899.6" r="6.75"/>
<circle cx="539.5" cy="916.8" r="6.75"/>
<circle cx="597.0" cy="953.2" r="6.75"/>
<circle cx="670.9" cy="959.1" r="6.75"/>
<circle cx="594.8" cy="915.5" r="6.75"/>
<circle cx="649.5" cy="1024.4" r="6.75"/>
<circle cx="512.4" cy="970.2" r="6.75"/>
<circle cx="643.5" cy="902.8" r="6.75"/>
<circle cx="659.0" cy="890.7" r="6.75"/>
<circle cx="624.5" cy="895.6" r="6.75"/>
<circle cx="797.5" cy="907.7" r="6.75"/>
<circle cx="763.7" cy="912.9" r="6.75"/>
<circle cx="807.4" cy="971.5" r="6.75"/>
<circle cx="808.0" cy="963.0" r="6.75"/>
<circle cx="803.5" cy="946.7" r="6.75"/>
<circle cx="812.1" cy="892.8" r="6.75"/>
<circle cx="812.1" cy="938.8" r="6.75"/>
<circle cx="802.1" cy="968.1" r="6.75"/>
<circle cx="809.5" cy="967.5" r="6.75"/>
<circle cx="809.3" cy="933.2" r="6.75"/>
<circle cx="795.0" cy="975.4" r="6.75"/>
<circle cx="775.4" cy="917.2" r="6.75"/>
<circle cx="801.8" cy="936.6" r="6.75"/>
<circle cx="778.5" cy="935.0" r="6.75"/>
<circle cx="438.8" cy="412.5" r="6.75"/>
<circle cx="433.8" cy="422.5" r="6.75"/>
<circle cx="452.5" cy="413.8" r="6.75"/>
<circle cx="465.0" cy="415.0" r="6.75"/>
<circle cx="477.5" cy="412.5" r="6.75"/>
<circle cx="440.0" cy="433.8" r="6.75"/>
<circle cx="452.5" cy="435.0" r="6.75"/>
<circle cx="495.0" cy="412.5" r="6.75"/>
<circle cx="603.8" cy="346.2" r="6.75"/>
<circle cx="650.0" cy="361.2" r="6.75"/>
<circle cx="652.5" cy="336.2" r="6.75"/>
<circle cx="741.2" cy="401.2" r="6.75"/>
<circle cx="540.0" cy="401.2" r="6.75"/>
<circle cx="616.2" cy="401.2" r="6.75"/>
<circle cx="628.8" cy="410.0" r="6.75"/>
<circle cx="667.5" cy="435.0" r="6.75"/>
<circle cx="453.8" cy="783.8" r="6.75"/>
<circle cx="455.0" cy="785.5" r="6.75"/>
<circle cx="498.8" cy="786.2" r="6.75"/>
<circle cx="536.2" cy="705.0" r="6.75"/>
<circle cx="462.5" cy="802.5" r="6.75"/>
<circle cx="445.0" cy="801.2" r="6.75"/>
<circle cx="297.5" cy="903.0" r="6.75"/>
<circle cx="357.5" cy="963.0" r="6.75"/>
<circle cx="483.8" cy="920.0" r="6.75"/>
<circle cx="762.0" cy="935.0" r="6.75"/>
<circle cx="761.2" cy="942.5" r="6.75"/>
<circle cx="751.2" cy="952.5" r="6.75"/>
<circle cx="762.5" cy="957.5" r="6.75"/>
<circle cx="788.8" cy="655.0" r="6.75"/>
<circle cx="798.8" cy="657.0" r="6.75"/>
<circle cx="782.5" cy="667.5" r="6.75"/>
<circle cx="790.0" cy="672.5" r="6.75"/>
<circle cx="761.2" cy="936.2" r="6.75"/>
<circle cx="751.9" cy="953.1" r="6.75"/>
<circle cx="763.1" cy="958.8" r="6.75"/>
<circle cx="624.4" cy="682.0" r="6.75"/>
<circle cx="452.5" cy="413.8" r="6.75"/>
<circle cx="467.5" cy="411.2" r="6.75"/>
<circle cx="476.2" cy="412.5" r="6.75"/>
<circle cx="435.0" cy="432.5" r="6.75"/>
<circle cx="423.8" cy="476.2" r="6.75"/>
<circle cx="517.5" cy="431.2" r="6.75"/>
<circle cx="517.5" cy="422.5" r="6.75"/>
<circle cx="422.5" cy="393.0" r="6.75"/>
<circle cx="436.2" cy="398.8" r="6.75"/>
<circle cx="467.5" cy="407.5" r="6.75"/>
<circle cx="483.8" cy="401.2" r="6.75"/>
<circle cx="495.0" cy="395.0" r="6.75"/>
</g>
<g fill="#c9e2ee">
<circle cx="449.2" cy="352.1" r="6.75"/>
<circle cx="466.6" cy="334.4" r="6.75"/>
<circle cx="453.0" cy="270.0" r="6.75"/>
<circle cx="464.3" cy="340.4" r="6.75"/>
<circle cx="353.1" cy="473.3" r="6.75"/>
<circle cx="314.2" cy="471.1" r="6.75"/>
<circle cx="491.0" cy="284.5" r="6.75"/>
<circle cx="468.8" cy="314.6" r="6.75"/>
<circle cx="342.2" cy="343.5" r="6.75"/>
<circle cx="446.7" cy="232.0" r="6.75"/>
<circle cx="426.5" cy="268.1" r="6.75"/>
<circle cx="494.7" cy="246.3" r="6.75"/>
<circle cx="390.9" cy="315.8" r="6.75"/>
<circle cx="432.2" cy="375.4" r="6.75"/>
<circle cx="310.2" cy="344.9" r="6.75"/>
<circle cx="462.1" cy="316.4" r="6.75"/>
<circle cx="325.8" cy="391.1" r="6.75"/>
<circle cx="470.7" cy="309.9" r="6.75"/>
<circle cx="338.2" cy="388.2" r="6.75"/>
<circle cx="332.5" cy="385.7" r="6.75"/>
<circle cx="423.3" cy="243.8" r="6.75"/>
<circle cx="410.2" cy="387.7" r="6.75"/>
<circle cx="486.7" cy="235.3" r="6.75"/>
<circle cx="325.9" cy="478.7" r="6.75"/>
<circle cx="330.4" cy="322.2" r="6.75"/>
<circle cx="296.8" cy="387.8" r="6.75"/>
<circle cx="464.2" cy="375.8" r="6.75"/>
<circle cx="470.5" cy="279.7" r="6.75"/>
<circle cx="375.3" cy="309.1" r="6.75"/>
<circle cx="384.5" cy="473.2" r="6.75"/>
<circle cx="352.7" cy="299.5" r="6.75"/>
<circle cx="443.5" cy="354.5" r="6.75"/>
<circle cx="363.9" cy="418.5" r="6.75"/>
<circle cx="401.0" cy="466.0" r="6.75"/>
<circle cx="372.3" cy="336.9" r="6.75"/>
<circle cx="395.9" cy="306.6" r="6.75"/>
<circle cx="489.9" cy="335.3" r="6.75"/>
<circle cx="399.1" cy="364.1" r="6.75"/>
<circle cx="447.9" cy="295.4" r="6.75"/>
<circle cx="494.5" cy="355.7" r="6.75"/>
<circle cx="351.3" cy="400.4" r="6.75"/>
<circle cx="378.9" cy="432.7" r="6.75"/>
<circle cx="334.4" cy="368.6" r="6.75"/>
<circle cx="415.8" cy="266.8" r="6.75"/>
<circle cx="308.3" cy="297.1" r="6.75"/>
<circle cx="435.2" cy="372.0" r="6.75"/>
<circle cx="302.9" cy="473.4" r="6.75"/>
<circle cx="398.9" cy="253.0" r="6.75"/>
<circle cx="362.6" cy="344.3" r="6.75"/>
<circle cx="373.1" cy="436.5" r="6.75"/>
<circle cx="283.3" cy="302.3" r="6.75"/>
<circle cx="392.8" cy="440.7" r="6.75"/>
<circle cx="307.3" cy="467.5" r="6.75"/>
<circle cx="359.6" cy="368.5" r="6.75"/>
<circle cx="304.0" cy="456.5" r="6.75"/>
<circle cx="388.5" cy="407.7" r="6.75"/>
<circle cx="335.4" cy="458.2" r="6.75"/>
<circle cx="345.2" cy="316.3" r="6.75"/>
<circle cx="347.6" cy="445.0" r="6.75"/>
<circle cx="412.3" cy="395.0" r="6.75"/>
<circle cx="399.1" cy="280.3" r="6.75"/>
<circle cx="415.1" cy="262.5" r="6.75"/>
<circle cx="356.6" cy="404.8" r="6.75"/>
<circle cx="356.4" cy="354.9" r="6.75"/>
<circle cx="358.6" cy="388.2" r="6.75"/>
<circle cx="423.6" cy="278.3" r="6.75"/>
<circle cx="442.6" cy="372.0" r="6.75"/>
<circle cx="438.5" cy="293.9" r="6.75"/>
<circle cx="421.8" cy="317.8" r="6.75"/>
<circle cx="397.6" cy="347.7" r="6.75"/>
<circle cx="412.0" cy="341.7" r="6.75"/>
<circle cx="311.7" cy="467.8" r="6.75"/>
<circle cx="343.3" cy="416.7" r="6.75"/>
<circle cx="482.3" cy="306.8" r="6.75"/>
<circle cx="422.3" cy="346.2" r="6.75"/>
<circle cx="395.8" cy="330.0" r="6.75"/>
<circle cx="409.2" cy="327.6" r="6.75"/>
<circle cx="402.5" cy="431.8" r="6.75"/>
<circle cx="342.6" cy="472.6" r="6.75"/>
<circle cx="441.2" cy="376.4" r="6.75"/>
<circle cx="357.3" cy="429.7" r="6.75"/>
<circle cx="764.2" cy="271.6" r="6.75"/>
<circle cx="539.5" cy="244.3" r="6.75"/>
<circle cx="546.3" cy="316.0" r="6.75"/>
<circle cx="524.7" cy="262.8" r="6.75"/>
<circle cx="808.5" cy="333.2" r="6.75"/>
<circle cx="547.6" cy="309.5" r="6.75"/>
<circle cx="541.9" cy="297.2" r="6.75"/>
<circle cx="520.0" cy="321.4" r="6.75"/>
<circle cx="809.6" cy="321.9" r="6.75"/>
<circle cx="570.8" cy="266.2" r="6.75"/>
<circle cx="531.3" cy="294.0" r="6.75"/>
<circle cx="585.4" cy="254.7" r="6.75"/>
<circle cx="561.0" cy="245.6" r="6.75"/>
<circle cx="625.4" cy="311.8" r="6.75"/>
<circle cx="634.4" cy="229.1" r="6.75"/>
<circle cx="651.2" cy="246.7" r="6.75"/>
<circle cx="761.7" cy="306.4" r="6.75"/>
<circle cx="624.9" cy="303.5" r="6.75"/>
<circle cx="544.5" cy="276.3" r="6.75"/>
<circle cx="577.1" cy="230.1" r="6.75"/>
<circle cx="775.8" cy="280.8" r="6.75"/>
<circle cx="540.7" cy="238.1" r="6.75"/>
<circle cx="538.4" cy="219.8" r="6.75"/>
<circle cx="530.8" cy="263.9" r="6.75"/>
<circle cx="774.8" cy="262.8" r="6.75"/>
<circle cx="816.5" cy="282.7" r="6.75"/>
<circle cx="710.3" cy="276.0" r="6.75"/>
<circle cx="665.7" cy="332.4" r="6.75"/>
<circle cx="552.8" cy="316.5" r="6.75"/>
<circle cx="575.6" cy="293.5" r="6.75"/>
<circle cx="744.1" cy="291.7" r="6.75"/>
<circle cx="627.5" cy="233.3" r="6.75"/>
<circle cx="682.2" cy="250.5" r="6.75"/>
<circle cx="705.7" cy="234.3" r="6.75"/>
<circle cx="549.8" cy="289.2" r="6.75"/>
<circle cx="654.7" cy="327.6" r="6.75"/>
<circle cx="595.7" cy="309.7" r="6.75"/>
<circle cx="765.5" cy="281.6" r="6.75"/>
<circle cx="731.3" cy="224.5" r="6.75"/>
<circle cx="558.3" cy="302.9" r="6.75"/>
<circle cx="786.7" cy="276.7" r="6.75"/>
<circle cx="591.2" cy="276.4" r="6.75"/>
<circle cx="522.9" cy="257.5" r="6.75"/>
<circle cx="657.7" cy="222.4" r="6.75"/>
<circle cx="574.6" cy="279.4" r="6.75"/>
<circle cx="634.7" cy="282.7" r="6.75"/>
<circle cx="544.9" cy="228.4" r="6.75"/>
<circle cx="618.7" cy="208.1" r="6.75"/>
<circle cx="810.3" cy="327.2" r="6.75"/>
<circle cx="541.2" cy="309.8" r="6.75"/>
<circle cx="515.5" cy="317.4" r="6.75"/>
<circle cx="590.2" cy="253.8" r="6.75"/>
<circle cx="729.6" cy="305.8" r="6.75"/>
<circle cx="501.3" cy="378.1" r="6.75"/>
<circle cx="677.2" cy="372.3" r="6.75"/>
<circle cx="688.3" cy="358.8" r="6.75"/>
<circle cx="680.0" cy="397.0" r="6.75"/>
<circle cx="692.1" cy="356.6" r="6.75"/>
<circle cx="693.2" cy="386.6" r="6.75"/>
<circle cx="602.0" cy="416.0" r="6.75"/>
<circle cx="590.1" cy="436.8" r="6.75"/>
<circle cx="607.6" cy="420.1" r="6.75"/>
<circle cx="558.3" cy="437.3" r="6.75"/>
<circle cx="562.4" cy="446.0" r="6.75"/>
<circle cx="563.3" cy="452.7" r="6.75"/>
<circle cx="615.2" cy="474.3" r="6.75"/>
<circle cx="611.3" cy="403.8" r="6.75"/>
<circle cx="598.7" cy="408.7" r="6.75"/>
<circle cx="513.3" cy="470.5" r="6.75"/>
<circle cx="614.6" cy="456.7" r="6.75"/>
<circle cx="657.7" cy="479.9" r="6.75"/>
<circle cx="539.0" cy="473.1" r="6.75"/>
<circle cx="555.8" cy="454.8" r="6.75"/>
<circle cx="509.1" cy="476.0" r="6.75"/>
<circle cx="611.2" cy="442.2" r="6.75"/>
<circle cx="626.9" cy="467.4" r="6.75"/>
<circle cx="569.2" cy="399.6" r="6.75"/>
<circle cx="623.6" cy="458.6" r="6.75"/>
<circle cx="567.3" cy="404.9" r="6.75"/>
<circle cx="618.6" cy="458.3" r="6.75"/>
<circle cx="611.9" cy="433.2" r="6.75"/>
<circle cx="574.4" cy="449.1" r="6.75"/>
<circle cx="562.9" cy="413.0" r="6.75"/>
<circle cx="571.5" cy="426.3" r="6.75"/>
<circle cx="769.1" cy="464.6" r="6.75"/>
<circle cx="695.3" cy="473.7" r="6.75"/>
<circle cx="725.1" cy="439.4" r="6.75"/>
<circle cx="694.7" cy="465.4" r="6.75"/>
<circle cx="1018.4" cy="319.6" r="6.75"/>
<circle cx="846.8" cy="351.5" r="6.75"/>
<circle cx="842.4" cy="345.5" r="6.75"/>
<circle cx="842.1" cy="341.5" r="6.75"/>
<circle cx="860.4" cy="370.6" r="6.75"/>
<circle cx="875.1" cy="377.4" r="6.75"/>
<circle cx="877.6" cy="369.0" r="6.75"/>
<circle cx="340.8" cy="523.4" r="6.75"/>
<circle cx="362.2" cy="505.4" r="6.75"/>
<circle cx="367.7" cy="485.4" r="6.75"/>
<circle cx="377.8" cy="532.1" r="6.75"/>
<circle cx="367.3" cy="576.7" r="6.75"/>
<circle cx="394.1" cy="543.0" r="6.75"/>
<circle cx="318.4" cy="540.1" r="6.75"/>
<circle cx="341.0" cy="541.6" r="6.75"/>
<circle cx="323.2" cy="490.6" r="6.75"/>
<circle cx="316.7" cy="545.7" r="6.75"/>
<circle cx="372.4" cy="518.7" r="6.75"/>
<circle cx="327.6" cy="540.2" r="6.75"/>
<circle cx="398.8" cy="539.0" r="6.75"/>
<circle cx="345.8" cy="558.5" r="6.75"/>
<circle cx="383.2" cy="524.7" r="6.75"/>
<circle cx="359.0" cy="558.5" r="6.75"/>
<circle cx="370.3" cy="522.5" r="6.75"/>
<circle cx="361.5" cy="561.9" r="6.75"/>
<circle cx="351.5" cy="500.9" r="6.75"/>
<circle cx="362.7" cy="553.0" r="6.75"/>
<circle cx="340.6" cy="509.0" r="6.75"/>
<circle cx="375.1" cy="539.8" r="6.75"/>
<circle cx="374.5" cy="564.2" r="6.75"/>
<circle cx="385.2" cy="486.9" r="6.75"/>
<circle cx="344.2" cy="576.2" r="6.75"/>
<circle cx="358.3" cy="502.9" r="6.75"/>
<circle cx="303.3" cy="487.9" r="6.75"/>
<circle cx="378.2" cy="555.9" r="6.75"/>
<circle cx="495.1" cy="751.1" r="6.75"/>
<circle cx="472.6" cy="755.5" r="6.75"/>
<circle cx="498.7" cy="697.1" r="6.75"/>
<circle cx="469.8" cy="745.2" r="6.75"/>
<circle cx="477.6" cy="711.4" r="6.75"/>
<circle cx="497.5" cy="764.8" r="6.75"/>
<circle cx="460.4" cy="704.9" r="6.75"/>
<circle cx="420.2" cy="720.0" r="6.75"/>
<circle cx="449.9" cy="730.8" r="6.75"/>
<circle cx="477.1" cy="720.8" r="6.75"/>
<circle cx="468.3" cy="708.1" r="6.75"/>
<circle cx="452.0" cy="740.5" r="6.75"/>
<circle cx="435.4" cy="730.7" r="6.75"/>
<circle cx="627.9" cy="511.2" r="6.75"/>
<circle cx="640.5" cy="491.4" r="6.75"/>
<circle cx="541.5" cy="500.3" r="6.75"/>
<circle cx="528.4" cy="563.7" r="6.75"/>
<circle cx="615.1" cy="522.9" r="6.75"/>
<circle cx="586.8" cy="513.7" r="6.75"/>
<circle cx="581.5" cy="516.2" r="6.75"/>
<circle cx="510.3" cy="503.3" r="6.75"/>
<circle cx="527.7" cy="557.5" r="6.75"/>
<circle cx="613.7" cy="539.8" r="6.75"/>
<circle cx="546.0" cy="527.4" r="6.75"/>
<circle cx="618.2" cy="492.5" r="6.75"/>
<circle cx="571.6" cy="496.6" r="6.75"/>
<circle cx="574.5" cy="500.8" r="6.75"/>
<circle cx="527.2" cy="526.5" r="6.75"/>
<circle cx="617.1" cy="564.1" r="6.75"/>
<circle cx="628.8" cy="542.0" r="6.75"/>
<circle cx="564.3" cy="501.5" r="6.75"/>
<circle cx="659.8" cy="484.7" r="6.75"/>
<circle cx="542.6" cy="519.5" r="6.75"/>
<circle cx="578.4" cy="509.0" r="6.75"/>
<circle cx="607.9" cy="486.7" r="6.75"/>
<circle cx="532.0" cy="568.5" r="6.75"/>
<circle cx="537.9" cy="554.6" r="6.75"/>
<circle cx="614.0" cy="488.2" r="6.75"/>
<circle cx="537.5" cy="518.0" r="6.75"/>
<circle cx="620.0" cy="534.9" r="6.75"/>
<circle cx="554.8" cy="554.0" r="6.75"/>
<circle cx="545.8" cy="485.3" r="6.75"/>
<circle cx="730.1" cy="627.5" r="6.75"/>
<circle cx="1113.2" cy="492.3" r="6.75"/>
<circle cx="969.4" cy="797.7" r="6.75"/>
<circle cx="957.4" cy="784.8" r="6.75"/>
<circle cx="922.1" cy="798.6" r="6.75"/>
<circle cx="991.2" cy="792.6" r="6.75"/>
<circle cx="976.3" cy="785.8" r="6.75"/>
<circle cx="982.8" cy="793.7" r="6.75"/>
<circle cx="962.3" cy="795.6" r="6.75"/>
<circle cx="833.5" cy="797.9" r="6.75"/>
<circle cx="964.4" cy="778.0" r="6.75"/>
<circle cx="842.6" cy="799.9" r="6.75"/>
<circle cx="898.1" cy="930.9" r="6.75"/>
<circle cx="964.0" cy="817.5" r="6.75"/>
<circle cx="890.1" cy="867.7" r="6.75"/>
<circle cx="856.5" cy="925.4" r="6.75"/>
<circle cx="856.8" cy="832.7" r="6.75"/>
<circle cx="867.4" cy="938.2" r="6.75"/>
<circle cx="974.3" cy="816.1" r="6.75"/>
<circle cx="896.9" cy="903.5" r="6.75"/>
<circle cx="873.0" cy="819.5" r="6.75"/>
<circle cx="961.9" cy="822.8" r="6.75"/>
<circle cx="987.3" cy="813.3" r="6.75"/>
<circle cx="874.3" cy="867.1" r="6.75"/>
<circle cx="835.4" cy="890.7" r="6.75"/>
<circle cx="834.4" cy="845.6" r="6.75"/>
<circle cx="887.7" cy="917.2" r="6.75"/>
<circle cx="967.9" cy="845.0" r="6.75"/>
<circle cx="877.8" cy="831.2" r="6.75"/>
<circle cx="834.9" cy="902.5" r="6.75"/>
<circle cx="852.0" cy="824.0" r="6.75"/>
<circle cx="948.7" cy="817.9" r="6.75"/>
<circle cx="826.4" cy="895.0" r="6.75"/>
<circle cx="924.4" cy="859.4" r="6.75"/>
<circle cx="838.3" cy="870.0" r="6.75"/>
<circle cx="849.4" cy="878.0" r="6.75"/>
<circle cx="867.1" cy="821.7" r="6.75"/>
<circle cx="936.7" cy="818.5" r="6.75"/>
<circle cx="937.8" cy="835.6" r="6.75"/>
<circle cx="838.0" cy="881.5" r="6.75"/>
<circle cx="827.3" cy="800.4" r="6.75"/>
<circle cx="907.1" cy="842.2" r="6.75"/>
<circle cx="852.4" cy="925.6" r="6.75"/>
<circle cx="887.8" cy="385.7" r="6.75"/>
<circle cx="941.9" cy="414.3" r="6.75"/>
<circle cx="934.6" cy="388.6" r="6.75"/>
<circle cx="910.4" cy="414.5" r="6.75"/>
<circle cx="935.8" cy="393.8" r="6.75"/>
<circle cx="883.7" cy="394.9" r="6.75"/>
<circle cx="934.6" cy="411.0" r="6.75"/>
<circle cx="800.9" cy="428.5" r="6.75"/>
<circle cx="791.9" cy="424.9" r="6.75"/>
<circle cx="803.0" cy="444.5" r="6.75"/>
<circle cx="795.2" cy="410.1" r="6.75"/>
<circle cx="791.3" cy="417.5" r="6.75"/>
<circle cx="985.6" cy="414.3" r="6.75"/>
<circle cx="1013.4" cy="433.5" r="6.75"/>
<circle cx="1008.5" cy="455.1" r="6.75"/>
<circle cx="1012.8" cy="459.3" r="6.75"/>
<circle cx="994.5" cy="435.7" r="6.75"/>
<circle cx="994.1" cy="424.6" r="6.75"/>
<circle cx="964.5" cy="436.1" r="6.75"/>
<circle cx="1075.9" cy="462.8" r="6.75"/>
<circle cx="905.5" cy="526.3" r="6.75"/>
<circle cx="857.7" cy="498.5" r="6.75"/>
<circle cx="886.1" cy="512.1" r="6.75"/>
<circle cx="879.8" cy="501.0" r="6.75"/>
<circle cx="912.8" cy="521.2" r="6.75"/>
<circle cx="866.9" cy="498.7" r="6.75"/>
<circle cx="915.6" cy="524.9" r="6.75"/>
<circle cx="882.0" cy="492.4" r="6.75"/>
<circle cx="863.9" cy="486.0" r="6.75"/>
<circle cx="521.2" cy="757.6" r="6.75"/>
<circle cx="538.7" cy="779.9" r="6.75"/>
<circle cx="782.7" cy="647.3" r="6.75"/>
<circle cx="721.6" cy="752.2" r="6.75"/>
<circle cx="735.0" cy="837.7" r="6.75"/>
<circle cx="769.4" cy="826.7" r="6.75"/>
<circle cx="682.6" cy="864.6" r="6.75"/>
<circle cx="808.2" cy="649.7" r="6.75"/>
<circle cx="767.8" cy="721.3" r="6.75"/>
<circle cx="592.9" cy="816.5" r="6.75"/>
<circle cx="682.3" cy="816.8" r="6.75"/>
<circle cx="778.7" cy="812.8" r="6.75"/>
<circle cx="646.8" cy="851.3" r="6.75"/>
<circle cx="641.7" cy="805.5" r="6.75"/>
<circle cx="787.8" cy="713.5" r="6.75"/>
<circle cx="803.6" cy="698.9" r="6.75"/>
<circle cx="629.4" cy="838.0" r="6.75"/>
<circle cx="727.0" cy="668.5" r="6.75"/>
<circle cx="600.0" cy="820.0" r="6.75"/>
<circle cx="731.2" cy="689.5" r="6.75"/>
<circle cx="665.8" cy="801.1" r="6.75"/>
<circle cx="658.5" cy="770.3" r="6.75"/>
<circle cx="777.1" cy="843.3" r="6.75"/>
<circle cx="756.6" cy="837.5" r="6.75"/>
<circle cx="723.2" cy="675.3" r="6.75"/>
<circle cx="620.0" cy="790.1" r="6.75"/>
<circle cx="766.0" cy="822.0" r="6.75"/>
<circle cx="679.6" cy="727.2" r="6.75"/>
<circle cx="682.4" cy="873.4" r="6.75"/>
<circle cx="789.7" cy="724.5" r="6.75"/>
<circle cx="642.4" cy="700.3" r="6.75"/>
<circle cx="609.3" cy="715.5" r="6.75"/>
<circle cx="642.2" cy="763.3" r="6.75"/>
<circle cx="779.2" cy="779.7" r="6.75"/>
<circle cx="707.7" cy="729.0" r="6.75"/>
<circle cx="582.7" cy="762.2" r="6.75"/>
<circle cx="659.7" cy="790.8" r="6.75"/>
<circle cx="587.0" cy="749.4" r="6.75"/>
<circle cx="727.0" cy="876.9" r="6.75"/>
<circle cx="779.4" cy="807.3" r="6.75"/>
<circle cx="763.3" cy="883.2" r="6.75"/>
<circle cx="599.1" cy="704.2" r="6.75"/>
<circle cx="805.7" cy="826.3" r="6.75"/>
<circle cx="572.9" cy="767.8" r="6.75"/>
<circle cx="730.1" cy="790.1" r="6.75"/>
<circle cx="658.0" cy="831.5" r="6.75"/>
<circle cx="636.0" cy="785.0" r="6.75"/>
<circle cx="746.7" cy="871.6" r="6.75"/>
<circle cx="626.4" cy="821.6" r="6.75"/>
<circle cx="625.3" cy="753.1" r="6.75"/>
<circle cx="815.0" cy="763.7" r="6.75"/>
<circle cx="685.4" cy="785.5" r="6.75"/>
<circle cx="756.0" cy="858.9" r="6.75"/>
<circle cx="761.4" cy="699.7" r="6.75"/>
<circle cx="600.2" cy="827.8" r="6.75"/>
<circle cx="794.3" cy="703.5" r="6.75"/>
<circle cx="550.1" cy="835.9" r="6.75"/>
<circle cx="729.1" cy="721.3" r="6.75"/>
<circle cx="817.6" cy="847.1" r="6.75"/>
<circle cx="725.0" cy="787.2" r="6.75"/>
<circle cx="780.7" cy="786.2" r="6.75"/>
<circle cx="597.4" cy="730.3" r="6.75"/>
<circle cx="583.3" cy="752.7" r="6.75"/>
<circle cx="742.9" cy="830.6" r="6.75"/>
<circle cx="768.0" cy="800.0" r="6.75"/>
<circle cx="620.1" cy="828.2" r="6.75"/>
<circle cx="672.3" cy="706.2" r="6.75"/>
<circle cx="657.1" cy="870.1" r="6.75"/>
<circle cx="768.7" cy="840.3" r="6.75"/>
<circle cx="813.3" cy="702.7" r="6.75"/>
<circle cx="749.0" cy="780.6" r="6.75"/>
<circle cx="734.1" cy="845.9" r="6.75"/>
<circle cx="603.3" cy="851.8" r="6.75"/>
<circle cx="751.4" cy="798.8" r="6.75"/>
<circle cx="713.5" cy="787.8" r="6.75"/>
<circle cx="574.6" cy="818.6" r="6.75"/>
<circle cx="793.0" cy="855.8" r="6.75"/>
<circle cx="775.8" cy="690.7" r="6.75"/>
<circle cx="685.3" cy="713.7" r="6.75"/>
<circle cx="682.1" cy="832.1" r="6.75"/>
<circle cx="739.0" cy="854.3" r="6.75"/>
<circle cx="758.3" cy="716.9" r="6.75"/>
<circle cx="733.2" cy="793.2" r="6.75"/>
<circle cx="558.6" cy="863.0" r="6.75"/>
<circle cx="734.1" cy="683.2" r="6.75"/>
<circle cx="687.2" cy="819.3" r="6.75"/>
<circle cx="720.6" cy="701.7" r="6.75"/>
<circle cx="639.5" cy="767.1" r="6.75"/>
<circle cx="745.0" cy="768.1" r="6.75"/>
<circle cx="556.5" cy="808.1" r="6.75"/>
<circle cx="769.5" cy="684.6" r="6.75"/>
<circle cx="653.1" cy="802.5" r="6.75"/>
<circle cx="682.4" cy="731.5" r="6.75"/>
<circle cx="725.8" cy="695.1" r="6.75"/>
<circle cx="624.0" cy="761.7" r="6.75"/>
<circle cx="666.6" cy="769.9" r="6.75"/>
<circle cx="659.0" cy="865.2" r="6.75"/>
<circle cx="587.3" cy="836.1" r="6.75"/>
<circle cx="578.7" cy="816.6" r="6.75"/>
<circle cx="665.8" cy="711.2" r="6.75"/>
<circle cx="730.8" cy="799.7" r="6.75"/>
<circle cx="641.4" cy="844.1" r="6.75"/>
<circle cx="567.5" cy="773.2" r="6.75"/>
<circle cx="717.0" cy="682.3" r="6.75"/>
<circle cx="703.5" cy="659.1" r="6.75"/>
<circle cx="643.1" cy="838.5" r="6.75"/>
<circle cx="683.0" cy="790.1" r="6.75"/>
<circle cx="778.1" cy="790.8" r="6.75"/>
<circle cx="612.7" cy="724.4" r="6.75"/>
<circle cx="653.6" cy="833.4" r="6.75"/>
<circle cx="661.7" cy="844.5" r="6.75"/>
<circle cx="565.5" cy="968.4" r="6.75"/>
<circle cx="561.3" cy="945.5" r="6.75"/>
<circle cx="534.5" cy="934.1" r="6.75"/>
<circle cx="653.4" cy="969.9" r="6.75"/>
<circle cx="556.0" cy="884.9" r="6.75"/>
<circle cx="578.3" cy="893.3" r="6.75"/>
<circle cx="615.6" cy="959.4" r="6.75"/>
<circle cx="549.5" cy="1016.5" r="6.75"/>
<circle cx="677.4" cy="982.2" r="6.75"/>
<circle cx="568.6" cy="913.8" r="6.75"/>
<circle cx="524.2" cy="948.2" r="6.75"/>
<circle cx="549.6" cy="987.9" r="6.75"/>
<circle cx="605.5" cy="1023.9" r="6.75"/>
<circle cx="546.9" cy="959.4" r="6.75"/>
<circle cx="584.0" cy="893.2" r="6.75"/>
<circle cx="681.4" cy="1042.0" r="6.75"/>
<circle cx="592.7" cy="1045.4" r="6.75"/>
<circle cx="515.1" cy="982.8" r="6.75"/>
<circle cx="532.5" cy="1010.8" r="6.75"/>
<circle cx="539.1" cy="912.8" r="6.75"/>
<circle cx="591.2" cy="932.1" r="6.75"/>
<circle cx="615.4" cy="970.7" r="6.75"/>
<circle cx="758.8" cy="1026.9" r="6.75"/>
<circle cx="573.7" cy="968.4" r="6.75"/>
<circle cx="684.4" cy="1046.1" r="6.75"/>
<circle cx="534.1" cy="1006.5" r="6.75"/>
<circle cx="657.0" cy="949.6" r="6.75"/>
<circle cx="579.9" cy="943.3" r="6.75"/>
<circle cx="668.6" cy="1015.1" r="6.75"/>
<circle cx="672.7" cy="1042.5" r="6.75"/>
<circle cx="551.9" cy="944.2" r="6.75"/>
<circle cx="593.5" cy="923.6" r="6.75"/>
<circle cx="645.5" cy="1029.9" r="6.75"/>
<circle cx="562.5" cy="1036.1" r="6.75"/>
<circle cx="560.7" cy="895.4" r="6.75"/>
<circle cx="537.0" cy="1022.3" r="6.75"/>
<circle cx="544.8" cy="936.6" r="6.75"/>
<circle cx="624.9" cy="1015.6" r="6.75"/>
<circle cx="503.5" cy="913.7" r="6.75"/>
<circle cx="673.2" cy="987.5" r="6.75"/>
<circle cx="503.1" cy="898.6" r="6.75"/>
<circle cx="547.2" cy="932.2" r="6.75"/>
<circle cx="503.5" cy="995.7" r="6.75"/>
<circle cx="553.8" cy="929.9" r="6.75"/>
<circle cx="548.8" cy="923.7" r="6.75"/>
<circle cx="646.2" cy="1037.8" r="6.75"/>
<circle cx="528.4" cy="874.7" r="6.75"/>
<circle cx="540.2" cy="971.8" r="6.75"/>
<circle cx="546.8" cy="892.9" r="6.75"/>
<circle cx="642.9" cy="950.6" r="6.75"/>
<circle cx="518.8" cy="918.5" r="6.75"/>
<circle cx="508.0" cy="958.6" r="6.75"/>
<circle cx="561.4" cy="909.3" r="6.75"/>
<circle cx="543.7" cy="916.5" r="6.75"/>
<circle cx="578.6" cy="955.7" r="6.75"/>
<circle cx="533.1" cy="1035.4" r="6.75"/>
<circle cx="511.0" cy="990.5" r="6.75"/>
<circle cx="533.6" cy="1017.7" r="6.75"/>
<circle cx="668.2" cy="1080.4" r="6.75"/>
<circle cx="557.8" cy="949.3" r="6.75"/>
<circle cx="532.6" cy="991.4" r="6.75"/>
<circle cx="589.4" cy="946.6" r="6.75"/>
<circle cx="602.7" cy="885.7" r="6.75"/>
<circle cx="680.4" cy="969.7" r="6.75"/>
<circle cx="661.1" cy="954.6" r="6.75"/>
<circle cx="593.5" cy="1057.6" r="6.75"/>
<circle cx="602.3" cy="914.7" r="6.75"/>
<circle cx="621.8" cy="942.6" r="6.75"/>
<circle cx="536.8" cy="928.9" r="6.75"/>
<circle cx="518.2" cy="969.1" r="6.75"/>
<circle cx="637.3" cy="880.5" r="6.75"/>
<circle cx="669.0" cy="899.7" r="6.75"/>
<circle cx="786.2" cy="938.2" r="6.75"/>
<circle cx="806.7" cy="897.5" r="6.75"/>
<circle cx="786.7" cy="918.6" r="6.75"/>
<circle cx="819.8" cy="919.2" r="6.75"/>
<circle cx="802.3" cy="927.8" r="6.75"/>
<circle cx="819.2" cy="907.5" r="6.75"/>
<circle cx="793.2" cy="919.7" r="6.75"/>
<circle cx="803.0" cy="916.9" r="6.75"/>
<circle cx="806.8" cy="892.5" r="6.75"/>
<circle cx="777.2" cy="907.4" r="6.75"/>
<circle cx="787.2" cy="951.4" r="6.75"/>
<circle cx="246.2" cy="306.2" r="6.75"/>
<circle cx="255.0" cy="308.8" r="6.75"/>
<circle cx="263.8" cy="317.5" r="6.75"/>
<circle cx="230.0" cy="323.8" r="6.75"/>
<circle cx="243.8" cy="323.8" r="6.75"/>
<circle cx="220.0" cy="342.5" r="6.75"/>
<circle cx="215.0" cy="380.0" r="6.75"/>
<circle cx="225.0" cy="383.8" r="6.75"/>
<circle cx="238.8" cy="378.8" r="6.75"/>
<circle cx="251.2" cy="381.2" r="6.75"/>
<circle cx="212.5" cy="393.8" r="6.75"/>
<circle cx="223.8" cy="396.2" r="6.75"/>
<circle cx="241.2" cy="398.8" r="6.75"/>
<circle cx="217.5" cy="403.8" r="6.75"/>
<circle cx="225.0" cy="410.0" r="6.75"/>
<circle cx="237.5" cy="412.5" r="6.75"/>
<circle cx="251.2" cy="409.2" r="6.75"/>
<circle cx="263.8" cy="411.2" r="6.75"/>
<circle cx="265.0" cy="402.5" r="6.75"/>
<circle cx="280.0" cy="413.8" r="6.75"/>
<circle cx="210.0" cy="415.0" r="6.75"/>
<circle cx="208.8" cy="427.5" r="6.75"/>
<circle cx="217.5" cy="430.0" r="6.75"/>
<circle cx="212.5" cy="440.0" r="6.75"/>
<circle cx="650.0" cy="406.2" r="6.75"/>
<circle cx="660.0" cy="410.0" r="6.75"/>
<circle cx="441.2" cy="644.2" r="6.75"/>
<circle cx="697.5" cy="487.5" r="6.75"/>
<circle cx="702.0" cy="603.0" r="6.75"/>
<circle cx="663.8" cy="648.8" r="6.75"/>
<circle cx="655.0" cy="660.0" r="6.75"/>
<circle cx="653.8" cy="675.0" r="6.75"/>
<circle cx="576.2" cy="655.0" r="6.75"/>
<circle cx="590.0" cy="651.2" r="6.75"/>
<circle cx="577.5" cy="661.2" r="6.75"/>
<circle cx="583.8" cy="662.5" r="6.75"/>
<circle cx="527.5" cy="711.2" r="6.75"/>
<circle cx="533.8" cy="717.5" r="6.75"/>
<circle cx="920.0" cy="776.2" r="6.75"/>
<circle cx="397.0" cy="938.0" r="6.75"/>
<circle cx="471.2" cy="895.0" r="6.75"/>
<circle cx="496.2" cy="891.2" r="6.75"/>
<circle cx="853.8" cy="455.0" r="6.75"/>
<circle cx="880.0" cy="454.2" r="6.75"/>
<circle cx="942.5" cy="458.8" r="6.75"/>
<circle cx="954.5" cy="458.0" r="6.75"/>
<circle cx="984.5" cy="494.2" r="6.75"/>
<circle cx="833.8" cy="546.2" r="6.75"/>
<circle cx="855.0" cy="543.8" r="6.75"/>
<circle cx="816.2" cy="557.0" r="6.75"/>
<circle cx="943.8" cy="578.8" r="6.75"/>
<circle cx="938.8" cy="585.0" r="6.75"/>
<circle cx="932.5" cy="582.5" r="6.75"/>
<circle cx="947.5" cy="583.8" r="6.75"/>
<circle cx="817.5" cy="693.8" r="6.75"/>
<circle cx="828.8" cy="692.5" r="6.75"/>
<circle cx="805.0" cy="697.5" r="6.75"/>
<circle cx="425.0" cy="415.0" r="6.75"/>
<circle cx="437.5" cy="412.5" r="6.75"/>
<circle cx="400.0" cy="447.5" r="6.75"/>
<circle cx="417.5" cy="447.5" r="6.75"/>
<circle cx="406.2" cy="491.2" r="6.75"/>
<circle cx="451.2" cy="513.2" r="6.75"/>
<circle cx="500.0" cy="431.2" r="6.75"/>
<circle cx="510.0" cy="422.5" r="6.75"/>
<circle cx="230.0" cy="323.8" r="6.75"/>
<circle cx="238.8" cy="337.5" r="6.75"/>
<circle cx="260.0" cy="333.8" r="6.75"/>
<circle cx="233.8" cy="397.5" r="6.75"/>
<circle cx="222.5" cy="422.5" r="6.75"/>
<circle cx="224.2" cy="411.2" r="6.75"/>
</g>
<g fill="#d4e7f1">
<circle cx="407.9" cy="309.5" r="6.75"/>
<circle cx="353.4" cy="454.2" r="6.75"/>
<circle cx="381.5" cy="393.8" r="6.75"/>
<circle cx="384.8" cy="370.4" r="6.75"/>
<circle cx="301.5" cy="401.4" r="6.75"/>
<circle cx="418.2" cy="358.7" r="6.75"/>
<circle cx="379.0" cy="468.4" r="6.75"/>
<circle cx="385.4" cy="434.4" r="6.75"/>
<circle cx="490.4" cy="347.4" r="6.75"/>
<circle cx="452.5" cy="382.8" r="6.75"/>
<circle cx="362.3" cy="447.8" r="6.75"/>
<circle cx="408.0" cy="445.9" r="6.75"/>
<circle cx="436.7" cy="304.3" r="6.75"/>
<circle cx="375.0" cy="381.4" r="6.75"/>
<circle cx="374.2" cy="441.5" r="6.75"/>
<circle cx="448.3" cy="390.5" r="6.75"/>
<circle cx="359.0" cy="435.0" r="6.75"/>
<circle cx="386.5" cy="461.4" r="6.75"/>
<circle cx="359.8" cy="393.9" r="6.75"/>
<circle cx="391.7" cy="417.4" r="6.75"/>
<circle cx="454.9" cy="303.6" r="6.75"/>
<circle cx="355.5" cy="344.8" r="6.75"/>
<circle cx="340.4" cy="326.0" r="6.75"/>
<circle cx="482.7" cy="241.8" r="6.75"/>
<circle cx="342.4" cy="445.2" r="6.75"/>
<circle cx="447.6" cy="373.0" r="6.75"/>
<circle cx="418.3" cy="366.5" r="6.75"/>
<circle cx="447.9" cy="358.9" r="6.75"/>
<circle cx="374.0" cy="406.5" r="6.75"/>
<circle cx="340.6" cy="404.9" r="6.75"/>
<circle cx="405.0" cy="368.4" r="6.75"/>
<circle cx="422.0" cy="328.0" r="6.75"/>
<circle cx="360.6" cy="294.2" r="6.75"/>
<circle cx="367.7" cy="427.7" r="6.75"/>
<circle cx="408.5" cy="401.5" r="6.75"/>
<circle cx="321.7" cy="357.5" r="6.75"/>
<circle cx="382.4" cy="451.6" r="6.75"/>
<circle cx="486.5" cy="306.4" r="6.75"/>
<circle cx="392.2" cy="247.8" r="6.75"/>
<circle cx="413.4" cy="380.3" r="6.75"/>
<circle cx="393.7" cy="377.3" r="6.75"/>
<circle cx="341.3" cy="286.6" r="6.75"/>
<circle cx="390.8" cy="345.3" r="6.75"/>
<circle cx="415.4" cy="322.6" r="6.75"/>
<circle cx="376.0" cy="326.0" r="6.75"/>
<circle cx="337.3" cy="334.4" r="6.75"/>
<circle cx="384.5" cy="389.0" r="6.75"/>
<circle cx="344.6" cy="386.9" r="6.75"/>
<circle cx="357.4" cy="337.5" r="6.75"/>
<circle cx="338.7" cy="360.4" r="6.75"/>
<circle cx="356.2" cy="458.9" r="6.75"/>
<circle cx="341.1" cy="373.7" r="6.75"/>
<circle cx="579.0" cy="275.7" r="6.75"/>
<circle cx="616.9" cy="274.0" r="6.75"/>
<circle cx="557.8" cy="323.8" r="6.75"/>
<circle cx="601.4" cy="243.4" r="6.75"/>
<circle cx="554.2" cy="283.5" r="6.75"/>
<circle cx="641.8" cy="225.4" r="6.75"/>
<circle cx="597.0" cy="299.2" r="6.75"/>
<circle cx="665.6" cy="233.3" r="6.75"/>
<circle cx="744.8" cy="265.3" r="6.75"/>
<circle cx="513.9" cy="241.1" r="6.75"/>
<circle cx="600.0" cy="229.7" r="6.75"/>
<circle cx="676.8" cy="281.3" r="6.75"/>
<circle cx="511.4" cy="279.8" r="6.75"/>
<circle cx="676.0" cy="227.1" r="6.75"/>
<circle cx="532.8" cy="257.1" r="6.75"/>
<circle cx="562.2" cy="238.6" r="6.75"/>
<circle cx="622.0" cy="254.7" r="6.75"/>
<circle cx="812.6" cy="339.8" r="6.75"/>
<circle cx="810.3" cy="279.7" r="6.75"/>
<circle cx="771.2" cy="295.0" r="6.75"/>
<circle cx="593.0" cy="234.3" r="6.75"/>
<circle cx="703.6" cy="287.0" r="6.75"/>
<circle cx="610.2" cy="225.5" r="6.75"/>
<circle cx="601.6" cy="254.4" r="6.75"/>
<circle cx="524.7" cy="372.2" r="6.75"/>
<circle cx="549.8" cy="344.2" r="6.75"/>
<circle cx="712.0" cy="356.8" r="6.75"/>
<circle cx="635.5" cy="469.0" r="6.75"/>
<circle cx="571.4" cy="438.8" r="6.75"/>
<circle cx="616.4" cy="435.6" r="6.75"/>
<circle cx="614.4" cy="447.6" r="6.75"/>
<circle cx="587.8" cy="467.1" r="6.75"/>
<circle cx="627.3" cy="427.0" r="6.75"/>
<circle cx="628.0" cy="472.3" r="6.75"/>
<circle cx="633.2" cy="475.0" r="6.75"/>
<circle cx="603.8" cy="457.2" r="6.75"/>
<circle cx="596.6" cy="458.3" r="6.75"/>
<circle cx="634.6" cy="453.8" r="6.75"/>
<circle cx="501.8" cy="475.2" r="6.75"/>
<circle cx="522.7" cy="479.2" r="6.75"/>
<circle cx="593.4" cy="452.3" r="6.75"/>
<circle cx="615.4" cy="405.7" r="6.75"/>
<circle cx="619.3" cy="445.7" r="6.75"/>
<circle cx="608.7" cy="436.3" r="6.75"/>
<circle cx="606.3" cy="414.6" r="6.75"/>
<circle cx="756.7" cy="466.9" r="6.75"/>
<circle cx="761.3" cy="434.4" r="6.75"/>
<circle cx="692.5" cy="453.9" r="6.75"/>
<circle cx="734.1" cy="461.4" r="6.75"/>
<circle cx="754.5" cy="435.3" r="6.75"/>
<circle cx="768.0" cy="407.9" r="6.75"/>
<circle cx="1057.3" cy="304.6" r="6.75"/>
<circle cx="1040.2" cy="293.1" r="6.75"/>
<circle cx="861.0" cy="353.7" r="6.75"/>
<circle cx="822.3" cy="339.1" r="6.75"/>
<circle cx="869.6" cy="357.9" r="6.75"/>
<circle cx="863.3" cy="359.0" r="6.75"/>
<circle cx="858.0" cy="356.5" r="6.75"/>
<circle cx="853.7" cy="344.9" r="6.75"/>
<circle cx="852.7" cy="359.3" r="6.75"/>
<circle cx="860.9" cy="363.7" r="6.75"/>
<circle cx="835.2" cy="326.0" r="6.75"/>
<circle cx="888.9" cy="371.3" r="6.75"/>
<circle cx="338.1" cy="561.5" r="6.75"/>
<circle cx="356.5" cy="520.0" r="6.75"/>
<circle cx="362.4" cy="518.4" r="6.75"/>
<circle cx="386.1" cy="548.8" r="6.75"/>
<circle cx="317.8" cy="507.8" r="6.75"/>
<circle cx="381.3" cy="514.4" r="6.75"/>
<circle cx="286.7" cy="484.1" r="6.75"/>
<circle cx="381.2" cy="547.9" r="6.75"/>
<circle cx="352.0" cy="480.9" r="6.75"/>
<circle cx="294.6" cy="481.6" r="6.75"/>
<circle cx="334.3" cy="505.3" r="6.75"/>
<circle cx="330.8" cy="481.0" r="6.75"/>
<circle cx="372.1" cy="577.8" r="6.75"/>
<circle cx="364.9" cy="500.8" r="6.75"/>
<circle cx="350.4" cy="574.5" r="6.75"/>
<circle cx="296.2" cy="497.0" r="6.75"/>
<circle cx="331.4" cy="547.9" r="6.75"/>
<circle cx="372.3" cy="508.6" r="6.75"/>
<circle cx="319.8" cy="512.4" r="6.75"/>
<circle cx="488.8" cy="760.4" r="6.75"/>
<circle cx="495.6" cy="701.6" r="6.75"/>
<circle cx="498.6" cy="759.5" r="6.75"/>
<circle cx="484.4" cy="732.9" r="6.75"/>
<circle cx="421.1" cy="712.2" r="6.75"/>
<circle cx="456.4" cy="723.6" r="6.75"/>
<circle cx="452.6" cy="735.9" r="6.75"/>
<circle cx="480.7" cy="758.6" r="6.75"/>
<circle cx="449.1" cy="719.5" r="6.75"/>
<circle cx="431.2" cy="751.9" r="6.75"/>
<circle cx="422.5" cy="735.5" r="6.75"/>
<circle cx="489.5" cy="731.7" r="6.75"/>
<circle cx="495.1" cy="711.1" r="6.75"/>
<circle cx="445.1" cy="703.8" r="6.75"/>
<circle cx="457.5" cy="759.4" r="6.75"/>
<circle cx="469.3" cy="768.7" r="6.75"/>
<circle cx="482.5" cy="753.4" r="6.75"/>
<circle cx="433.0" cy="734.0" r="6.75"/>
<circle cx="568.0" cy="557.6" r="6.75"/>
<circle cx="554.0" cy="519.6" r="6.75"/>
<circle cx="602.3" cy="503.3" r="6.75"/>
<circle cx="521.2" cy="511.4" r="6.75"/>
<circle cx="543.9" cy="557.5" r="6.75"/>
<circle cx="549.9" cy="525.3" r="6.75"/>
<circle cx="578.6" cy="537.1" r="6.75"/>
<circle cx="595.3" cy="563.1" r="6.75"/>
<circle cx="560.4" cy="499.6" r="6.75"/>
<circle cx="532.1" cy="531.8" r="6.75"/>
<circle cx="563.6" cy="525.2" r="6.75"/>
<circle cx="551.7" cy="545.8" r="6.75"/>
<circle cx="624.6" cy="535.1" r="6.75"/>
<circle cx="572.3" cy="552.7" r="6.75"/>
<circle cx="572.0" cy="505.1" r="6.75"/>
<circle cx="545.0" cy="550.8" r="6.75"/>
<circle cx="559.0" cy="492.4" r="6.75"/>
<circle cx="621.4" cy="500.7" r="6.75"/>
<circle cx="638.8" cy="513.7" r="6.75"/>
<circle cx="643.1" cy="481.4" r="6.75"/>
<circle cx="612.1" cy="532.6" r="6.75"/>
<circle cx="574.6" cy="512.9" r="6.75"/>
<circle cx="568.5" cy="536.8" r="6.75"/>
<circle cx="526.6" cy="481.9" r="6.75"/>
<circle cx="642.1" cy="533.5" r="6.75"/>
<circle cx="559.0" cy="539.7" r="6.75"/>
<circle cx="619.9" cy="559.8" r="6.75"/>
<circle cx="622.7" cy="539.3" r="6.75"/>
<circle cx="529.9" cy="553.4" r="6.75"/>
<circle cx="634.4" cy="534.9" r="6.75"/>
<circle cx="582.2" cy="503.0" r="6.75"/>
<circle cx="578.9" cy="566.0" r="6.75"/>
<circle cx="547.3" cy="492.7" r="6.75"/>
<circle cx="578.7" cy="500.7" r="6.75"/>
<circle cx="605.3" cy="534.4" r="6.75"/>
<circle cx="571.8" cy="510.1" r="6.75"/>
<circle cx="718.0" cy="626.8" r="6.75"/>
<circle cx="1100.7" cy="510.7" r="6.75"/>
<circle cx="875.0" cy="797.5" r="6.75"/>
<circle cx="893.6" cy="799.0" r="6.75"/>
<circle cx="952.4" cy="794.8" r="6.75"/>
<circle cx="958.1" cy="793.7" r="6.75"/>
<circle cx="944.2" cy="797.0" r="6.75"/>
<circle cx="967.1" cy="793.0" r="6.75"/>
<circle cx="1011.3" cy="794.7" r="6.75"/>
<circle cx="1020.6" cy="798.7" r="6.75"/>
<circle cx="992.5" cy="785.0" r="6.75"/>
<circle cx="880.4" cy="796.3" r="6.75"/>
<circle cx="1001.9" cy="788.4" r="6.75"/>
<circle cx="336.2" cy="825.3" r="6.75"/>
<circle cx="356.9" cy="830.2" r="6.75"/>
<circle cx="421.7" cy="841.3" r="6.75"/>
<circle cx="360.3" cy="839.1" r="6.75"/>
<circle cx="939.3" cy="865.6" r="6.75"/>
<circle cx="834.0" cy="906.6" r="6.75"/>
<circle cx="1015.4" cy="818.6" r="6.75"/>
<circle cx="944.8" cy="869.0" r="6.75"/>
<circle cx="920.2" cy="916.1" r="6.75"/>
<circle cx="954.6" cy="891.4" r="6.75"/>
<circle cx="1018.7" cy="809.9" r="6.75"/>
<circle cx="828.2" cy="927.2" r="6.75"/>
<circle cx="867.5" cy="857.3" r="6.75"/>
<circle cx="912.2" cy="932.6" r="6.75"/>
<circle cx="883.1" cy="929.6" r="6.75"/>
<circle cx="940.3" cy="870.5" r="6.75"/>
<circle cx="837.7" cy="853.8" r="6.75"/>
<circle cx="891.1" cy="896.8" r="6.75"/>
<circle cx="843.1" cy="919.8" r="6.75"/>
<circle cx="840.3" cy="843.8" r="6.75"/>
<circle cx="880.4" cy="922.2" r="6.75"/>
<circle cx="868.2" cy="926.0" r="6.75"/>
<circle cx="996.0" cy="809.6" r="6.75"/>
<circle cx="892.1" cy="939.1" r="6.75"/>
<circle cx="868.4" cy="810.7" r="6.75"/>
<circle cx="1010.1" cy="808.8" r="6.75"/>
<circle cx="932.7" cy="869.4" r="6.75"/>
<circle cx="878.3" cy="800.8" r="6.75"/>
<circle cx="900.5" cy="863.3" r="6.75"/>
<circle cx="887.6" cy="812.6" r="6.75"/>
<circle cx="865.9" cy="917.1" r="6.75"/>
<circle cx="850.8" cy="886.8" r="6.75"/>
<circle cx="905.4" cy="847.0" r="6.75"/>
<circle cx="888.7" cy="903.5" r="6.75"/>
<circle cx="1007.3" cy="830.6" r="6.75"/>
<circle cx="877.7" cy="918.7" r="6.75"/>
<circle cx="926.3" cy="828.7" r="6.75"/>
<circle cx="1004.1" cy="808.7" r="6.75"/>
<circle cx="882.0" cy="803.0" r="6.75"/>
<circle cx="843.4" cy="876.0" r="6.75"/>
<circle cx="1006.1" cy="818.8" r="6.75"/>
<circle cx="862.4" cy="890.1" r="6.75"/>
<circle cx="889.6" cy="922.5" r="6.75"/>
<circle cx="934.7" cy="846.5" r="6.75"/>
<circle cx="905.5" cy="817.2" r="6.75"/>
<circle cx="915.1" cy="900.5" r="6.75"/>
<circle cx="959.6" cy="804.7" r="6.75"/>
<circle cx="829.5" cy="934.7" r="6.75"/>
<circle cx="922.3" cy="884.0" r="6.75"/>
<circle cx="864.4" cy="903.0" r="6.75"/>
<circle cx="861.7" cy="886.1" r="6.75"/>
<circle cx="851.2" cy="921.3" r="6.75"/>
<circle cx="937.6" cy="807.3" r="6.75"/>
<circle cx="969.2" cy="820.6" r="6.75"/>
<circle cx="848.3" cy="899.5" r="6.75"/>
<circle cx="853.6" cy="802.0" r="6.75"/>
<circle cx="920.4" cy="860.8" r="6.75"/>
<circle cx="925.7" cy="425.3" r="6.75"/>
<circle cx="933.5" cy="405.5" r="6.75"/>
<circle cx="955.3" cy="424.9" r="6.75"/>
<circle cx="933.6" cy="424.7" r="6.75"/>
<circle cx="869.7" cy="392.8" r="6.75"/>
<circle cx="890.9" cy="393.7" r="6.75"/>
<circle cx="912.9" cy="392.5" r="6.75"/>
<circle cx="856.3" cy="395.6" r="6.75"/>
<circle cx="804.7" cy="453.5" r="6.75"/>
<circle cx="786.5" cy="429.6" r="6.75"/>
<circle cx="809.2" cy="453.7" r="6.75"/>
<circle cx="785.8" cy="435.7" r="6.75"/>
<circle cx="968.9" cy="420.6" r="6.75"/>
<circle cx="1087.2" cy="495.0" r="6.75"/>
<circle cx="987.8" cy="430.0" r="6.75"/>
<circle cx="986.8" cy="449.5" r="6.75"/>
<circle cx="991.4" cy="465.5" r="6.75"/>
<circle cx="1002.5" cy="451.3" r="6.75"/>
<circle cx="1016.9" cy="451.3" r="6.75"/>
<circle cx="975.7" cy="432.4" r="6.75"/>
<circle cx="991.8" cy="460.3" r="6.75"/>
<circle cx="992.9" cy="449.4" r="6.75"/>
<circle cx="900.2" cy="516.8" r="6.75"/>
<circle cx="873.1" cy="508.7" r="6.75"/>
<circle cx="515.0" cy="755.8" r="6.75"/>
<circle cx="512.3" cy="761.6" r="6.75"/>
<circle cx="518.5" cy="761.1" r="6.75"/>
<circle cx="532.0" cy="762.4" r="6.75"/>
<circle cx="500.4" cy="779.8" r="6.75"/>
<circle cx="503.2" cy="749.9" r="6.75"/>
<circle cx="721.2" cy="870.3" r="6.75"/>
<circle cx="668.9" cy="886.3" r="6.75"/>
<circle cx="790.9" cy="881.9" r="6.75"/>
<circle cx="654.9" cy="778.4" r="6.75"/>
<circle cx="581.1" cy="804.4" r="6.75"/>
<circle cx="672.1" cy="648.3" r="6.75"/>
<circle cx="558.5" cy="843.4" r="6.75"/>
<circle cx="755.3" cy="641.6" r="6.75"/>
<circle cx="670.8" cy="767.1" r="6.75"/>
<circle cx="602.3" cy="865.4" r="6.75"/>
<circle cx="706.4" cy="805.2" r="6.75"/>
<circle cx="634.4" cy="814.0" r="6.75"/>
<circle cx="683.5" cy="654.9" r="6.75"/>
<circle cx="689.3" cy="860.0" r="6.75"/>
<circle cx="747.3" cy="865.7" r="6.75"/>
<circle cx="771.0" cy="883.4" r="6.75"/>
<circle cx="774.7" cy="659.9" r="6.75"/>
<circle cx="643.0" cy="813.8" r="6.75"/>
<circle cx="680.1" cy="684.6" r="6.75"/>
<circle cx="601.3" cy="798.5" r="6.75"/>
<circle cx="605.7" cy="707.5" r="6.75"/>
<circle cx="690.2" cy="803.0" r="6.75"/>
<circle cx="798.7" cy="697.3" r="6.75"/>
<circle cx="717.6" cy="696.6" r="6.75"/>
<circle cx="672.7" cy="671.9" r="6.75"/>
<circle cx="791.6" cy="649.0" r="6.75"/>
<circle cx="585.5" cy="823.3" r="6.75"/>
<circle cx="742.8" cy="865.6" r="6.75"/>
<circle cx="606.2" cy="786.6" r="6.75"/>
<circle cx="632.6" cy="860.9" r="6.75"/>
<circle cx="782.7" cy="734.8" r="6.75"/>
<circle cx="700.0" cy="806.3" r="6.75"/>
<circle cx="628.4" cy="791.6" r="6.75"/>
<circle cx="572.0" cy="827.5" r="6.75"/>
<circle cx="615.7" cy="845.4" r="6.75"/>
<circle cx="801.4" cy="787.5" r="6.75"/>
<circle cx="714.4" cy="712.1" r="6.75"/>
<circle cx="747.3" cy="800.0" r="6.75"/>
<circle cx="671.1" cy="756.1" r="6.75"/>
<circle cx="761.3" cy="779.7" r="6.75"/>
<circle cx="778.6" cy="829.8" r="6.75"/>
<circle cx="731.7" cy="641.6" r="6.75"/>
<circle cx="589.8" cy="856.7" r="6.75"/>
<circle cx="694.5" cy="683.5" r="6.75"/>
<circle cx="716.2" cy="739.2" r="6.75"/>
<circle cx="734.6" cy="720.8" r="6.75"/>
<circle cx="595.7" cy="808.1" r="6.75"/>
<circle cx="671.9" cy="742.2" r="6.75"/>
<circle cx="710.4" cy="681.6" r="6.75"/>
<circle cx="675.2" cy="837.4" r="6.75"/>
<circle cx="757.6" cy="881.9" r="6.75"/>
<circle cx="783.4" cy="773.2" r="6.75"/>
<circle cx="672.1" cy="752.0" r="6.75"/>
<circle cx="608.1" cy="806.8" r="6.75"/>
<circle cx="564.6" cy="841.6" r="6.75"/>
<circle cx="666.3" cy="705.3" r="6.75"/>
<circle cx="706.3" cy="734.3" r="6.75"/>
<circle cx="615.2" cy="782.3" r="6.75"/>
<circle cx="555.2" cy="813.6" r="6.75"/>
<circle cx="587.6" cy="766.7" r="6.75"/>
<circle cx="664.1" cy="782.2" r="6.75"/>
<circle cx="786.2" cy="682.4" r="6.75"/>
<circle cx="656.3" cy="713.7" r="6.75"/>
<circle cx="797.2" cy="647.5" r="6.75"/>
<circle cx="552.6" cy="829.2" r="6.75"/>
<circle cx="648.3" cy="778.3" r="6.75"/>
<circle cx="651.3" cy="848.0" r="6.75"/>
<circle cx="665.5" cy="797.0" r="6.75"/>
<circle cx="770.8" cy="805.8" r="6.75"/>
<circle cx="585.6" cy="793.4" r="6.75"/>
<circle cx="672.1" cy="641.7" r="6.75"/>
<circle cx="809.3" cy="696.7" r="6.75"/>
<circle cx="649.4" cy="800.4" r="6.75"/>
<circle cx="595.4" cy="813.4" r="6.75"/>
<circle cx="789.6" cy="661.2" r="6.75"/>
<circle cx="670.3" cy="847.7" r="6.75"/>
<circle cx="653.7" cy="789.7" r="6.75"/>
<circle cx="776.0" cy="749.1" r="6.75"/>
<circle cx="691.9" cy="691.3" r="6.75"/>
<circle cx="812.2" cy="844.4" r="6.75"/>
<circle cx="722.0" cy="879.7" r="6.75"/>
<circle cx="633.5" cy="849.2" r="6.75"/>
<circle cx="686.7" cy="741.8" r="6.75"/>
<circle cx="733.3" cy="833.4" r="6.75"/>
<circle cx="738.0" cy="787.2" r="6.75"/>
<circle cx="693.6" cy="725.5" r="6.75"/>
<circle cx="618.2" cy="820.0" r="6.75"/>
<circle cx="780.1" cy="680.3" r="6.75"/>
<circle cx="637.3" cy="762.8" r="6.75"/>
<circle cx="755.6" cy="700.0" r="6.75"/>
<circle cx="588.5" cy="873.6" r="6.75"/>
<circle cx="591.2" cy="893.8" r="6.75"/>
<circle cx="596.7" cy="948.3" r="6.75"/>
<circle cx="638.0" cy="1032.2" r="6.75"/>
<circle cx="665.3" cy="986.0" r="6.75"/>
<circle cx="533.5" cy="982.8" r="6.75"/>
<circle cx="607.3" cy="936.0" r="6.75"/>
<circle cx="609.5" cy="950.4" r="6.75"/>
<circle cx="528.4" cy="993.2" r="6.75"/>
<circle cx="520.2" cy="1022.0" r="6.75"/>
<circle cx="563.9" cy="1016.5" r="6.75"/>
<circle cx="731.4" cy="1040.5" r="6.75"/>
<circle cx="536.3" cy="953.4" r="6.75"/>
<circle cx="740.8" cy="1016.8" r="6.75"/>
<circle cx="595.3" cy="941.7" r="6.75"/>
<circle cx="581.7" cy="1015.8" r="6.75"/>
<circle cx="612.0" cy="940.2" r="6.75"/>
<circle cx="518.4" cy="952.2" r="6.75"/>
<circle cx="591.5" cy="985.0" r="6.75"/>
<circle cx="570.2" cy="898.2" r="6.75"/>
<circle cx="683.5" cy="988.3" r="6.75"/>
<circle cx="601.6" cy="945.6" r="6.75"/>
<circle cx="735.0" cy="1023.9" r="6.75"/>
<circle cx="606.3" cy="944.9" r="6.75"/>
<circle cx="528.9" cy="981.4" r="6.75"/>
<circle cx="684.1" cy="971.4" r="6.75"/>
<circle cx="565.3" cy="997.8" r="6.75"/>
<circle cx="552.5" cy="1023.7" r="6.75"/>
<circle cx="579.1" cy="1040.0" r="6.75"/>
<circle cx="584.3" cy="920.9" r="6.75"/>
<circle cx="697.4" cy="1012.1" r="6.75"/>
<circle cx="543.6" cy="1036.0" r="6.75"/>
<circle cx="544.3" cy="970.2" r="6.75"/>
<circle cx="658.3" cy="977.0" r="6.75"/>
<circle cx="622.6" cy="947.6" r="6.75"/>
<circle cx="618.6" cy="1007.4" r="6.75"/>
<circle cx="684.9" cy="1000.5" r="6.75"/>
<circle cx="563.5" cy="982.5" r="6.75"/>
<circle cx="562.6" cy="952.7" r="6.75"/>
<circle cx="621.9" cy="994.0" r="6.75"/>
<circle cx="532.2" cy="957.1" r="6.75"/>
<circle cx="585.6" cy="976.4" r="6.75"/>
<circle cx="521.7" cy="960.5" r="6.75"/>
<circle cx="539.9" cy="978.2" r="6.75"/>
<circle cx="639.6" cy="952.8" r="6.75"/>
<circle cx="584.1" cy="1020.1" r="6.75"/>
<circle cx="581.5" cy="951.7" r="6.75"/>
<circle cx="660.7" cy="938.6" r="6.75"/>
<circle cx="571.3" cy="976.6" r="6.75"/>
<circle cx="609.1" cy="1029.0" r="6.75"/>
<circle cx="521.4" cy="971.8" r="6.75"/>
<circle cx="524.6" cy="1000.6" r="6.75"/>
<circle cx="611.5" cy="916.8" r="6.75"/>
<circle cx="504.5" cy="962.1" r="6.75"/>
<circle cx="525.3" cy="1026.5" r="6.75"/>
<circle cx="753.1" cy="1029.9" r="6.75"/>
<circle cx="573.4" cy="1031.7" r="6.75"/>
<circle cx="550.5" cy="982.1" r="6.75"/>
<circle cx="640.2" cy="921.6" r="6.75"/>
<circle cx="739.3" cy="1020.6" r="6.75"/>
<circle cx="655.1" cy="925.5" r="6.75"/>
<circle cx="519.2" cy="941.9" r="6.75"/>
<circle cx="647.4" cy="954.2" r="6.75"/>
<circle cx="646.8" cy="971.8" r="6.75"/>
<circle cx="682.3" cy="979.3" r="6.75"/>
<circle cx="607.6" cy="931.4" r="6.75"/>
<circle cx="649.2" cy="950.5" r="6.75"/>
<circle cx="756.8" cy="1035.0" r="6.75"/>
<circle cx="577.3" cy="907.0" r="6.75"/>
<circle cx="633.9" cy="919.6" r="6.75"/>
<circle cx="555.8" cy="940.9" r="6.75"/>
<circle cx="572.7" cy="914.7" r="6.75"/>
<circle cx="638.0" cy="896.7" r="6.75"/>
<circle cx="633.9" cy="903.4" r="6.75"/>
<circle cx="618.7" cy="893.5" r="6.75"/>
<circle cx="611.2" cy="895.7" r="6.75"/>
<circle cx="667.7" cy="912.7" r="6.75"/>
<circle cx="665.5" cy="890.1" r="6.75"/>
<circle cx="617.0" cy="882.7" r="6.75"/>
<circle cx="787.7" cy="961.2" r="6.75"/>
<circle cx="798.8" cy="961.5" r="6.75"/>
<circle cx="811.6" cy="916.8" r="6.75"/>
<circle cx="787.6" cy="906.6" r="6.75"/>
<circle cx="463.8" cy="441.2" r="6.75"/>
<circle cx="432.5" cy="447.5" r="6.75"/>
<circle cx="417.5" cy="447.5" r="6.75"/>
<circle cx="425.0" cy="475.0" r="6.75"/>
<circle cx="498.8" cy="506.2" r="6.75"/>
<circle cx="455.0" cy="850.0" r="6.75"/>
<circle cx="461.2" cy="847.5" r="6.75"/>
<circle cx="448.0" cy="871.2" r="6.75"/>
<circle cx="500.0" cy="842.5" r="6.75"/>
<circle cx="508.8" cy="843.8" r="6.75"/>
<circle cx="820.0" cy="418.8" r="6.75"/>
<circle cx="825.0" cy="433.8" r="6.75"/>
<circle cx="822.5" cy="405.0" r="6.75"/>
<circle cx="887.5" cy="427.5" r="6.75"/>
<circle cx="885.0" cy="437.5" r="6.75"/>
<circle cx="940.0" cy="437.5" r="6.75"/>
<circle cx="973.0" cy="479.2" r="6.75"/>
<circle cx="822.5" cy="488.8" r="6.75"/>
<circle cx="962.5" cy="576.2" r="6.75"/>
<circle cx="968.8" cy="577.5" r="6.75"/>
<circle cx="965.0" cy="580.0" r="6.75"/>
<circle cx="955.0" cy="580.0" r="6.75"/>
<circle cx="458.8" cy="396.2" r="6.75"/>
<circle cx="407.5" cy="402.5" r="6.75"/>
<circle cx="401.2" cy="418.8" r="6.75"/>
</g>
<g fill="#dfedf4">
<circle cx="334.6" cy="348.5" r="6.75"/>
<circle cx="361.4" cy="303.4" r="6.75"/>
<circle cx="369.6" cy="404.4" r="6.75"/>
<circle cx="487.6" cy="373.8" r="6.75"/>
<circle cx="442.7" cy="282.2" r="6.75"/>
<circle cx="482.5" cy="343.7" r="6.75"/>
<circle cx="367.9" cy="433.8" r="6.75"/>
<circle cx="384.5" cy="419.5" r="6.75"/>
<circle cx="338.4" cy="378.5" r="6.75"/>
<circle cx="470.6" cy="376.2" r="6.75"/>
<circle cx="446.5" cy="303.6" r="6.75"/>
<circle cx="391.6" cy="459.0" r="6.75"/>
<circle cx="378.5" cy="345.9" r="6.75"/>
<circle cx="386.5" cy="415.3" r="6.75"/>
<circle cx="380.6" cy="383.8" r="6.75"/>
<circle cx="309.7" cy="354.5" r="6.75"/>
<circle cx="472.6" cy="384.6" r="6.75"/>
<circle cx="278.1" cy="296.9" r="6.75"/>
<circle cx="361.2" cy="406.0" r="6.75"/>
<circle cx="367.4" cy="393.6" r="6.75"/>
<circle cx="396.5" cy="438.6" r="6.75"/>
<circle cx="401.2" cy="398.2" r="6.75"/>
<circle cx="371.8" cy="375.1" r="6.75"/>
<circle cx="385.9" cy="379.5" r="6.75"/>
<circle cx="356.5" cy="448.9" r="6.75"/>
<circle cx="465.7" cy="278.9" r="6.75"/>
<circle cx="338.2" cy="440.7" r="6.75"/>
<circle cx="395.0" cy="369.2" r="6.75"/>
<circle cx="446.8" cy="317.0" r="6.75"/>
<circle cx="369.7" cy="355.2" r="6.75"/>
<circle cx="585.8" cy="264.2" r="6.75"/>
<circle cx="611.8" cy="233.6" r="6.75"/>
<circle cx="657.4" cy="308.2" r="6.75"/>
<circle cx="518.5" cy="234.1" r="6.75"/>
<circle cx="727.1" cy="229.2" r="6.75"/>
<circle cx="637.8" cy="253.2" r="6.75"/>
<circle cx="621.9" cy="227.6" r="6.75"/>
<circle cx="658.0" cy="241.1" r="6.75"/>
<circle cx="627.5" cy="224.9" r="6.75"/>
<circle cx="662.1" cy="223.4" r="6.75"/>
<circle cx="809.6" cy="306.7" r="6.75"/>
<circle cx="628.5" cy="288.7" r="6.75"/>
<circle cx="717.7" cy="229.8" r="6.75"/>
<circle cx="635.8" cy="241.3" r="6.75"/>
<circle cx="813.4" cy="323.3" r="6.75"/>
<circle cx="619.8" cy="212.5" r="6.75"/>
<circle cx="565.0" cy="247.6" r="6.75"/>
<circle cx="592.1" cy="307.4" r="6.75"/>
<circle cx="766.7" cy="276.9" r="6.75"/>
<circle cx="705.3" cy="395.4" r="6.75"/>
<circle cx="697.9" cy="378.4" r="6.75"/>
<circle cx="615.9" cy="464.6" r="6.75"/>
<circle cx="600.3" cy="476.6" r="6.75"/>
<circle cx="546.1" cy="436.5" r="6.75"/>
<circle cx="624.6" cy="442.4" r="6.75"/>
<circle cx="584.4" cy="451.4" r="6.75"/>
<circle cx="611.8" cy="460.0" r="6.75"/>
<circle cx="553.1" cy="430.7" r="6.75"/>
<circle cx="541.0" cy="450.5" r="6.75"/>
<circle cx="561.4" cy="467.2" r="6.75"/>
<circle cx="576.2" cy="457.0" r="6.75"/>
<circle cx="634.6" cy="444.6" r="6.75"/>
<circle cx="570.7" cy="408.9" r="6.75"/>
<circle cx="546.6" cy="467.3" r="6.75"/>
<circle cx="591.3" cy="445.1" r="6.75"/>
<circle cx="553.2" cy="441.8" r="6.75"/>
<circle cx="567.8" cy="453.7" r="6.75"/>
<circle cx="567.6" cy="478.8" r="6.75"/>
<circle cx="588.9" cy="473.1" r="6.75"/>
<circle cx="766.8" cy="417.3" r="6.75"/>
<circle cx="724.6" cy="434.4" r="6.75"/>
<circle cx="823.0" cy="279.7" r="6.75"/>
<circle cx="878.1" cy="347.4" r="6.75"/>
<circle cx="865.1" cy="363.0" r="6.75"/>
<circle cx="837.5" cy="331.1" r="6.75"/>
<circle cx="869.2" cy="368.8" r="6.75"/>
<circle cx="836.3" cy="341.4" r="6.75"/>
<circle cx="836.4" cy="354.3" r="6.75"/>
<circle cx="903.2" cy="370.3" r="6.75"/>
<circle cx="349.9" cy="556.2" r="6.75"/>
<circle cx="343.4" cy="553.7" r="6.75"/>
<circle cx="371.8" cy="558.0" r="6.75"/>
<circle cx="373.1" cy="526.4" r="6.75"/>
<circle cx="335.0" cy="570.9" r="6.75"/>
<circle cx="369.7" cy="538.1" r="6.75"/>
<circle cx="343.1" cy="563.9" r="6.75"/>
<circle cx="380.0" cy="551.8" r="6.75"/>
<circle cx="348.3" cy="570.0" r="6.75"/>
<circle cx="316.1" cy="487.1" r="6.75"/>
<circle cx="332.8" cy="518.2" r="6.75"/>
<circle cx="375.4" cy="547.1" r="6.75"/>
<circle cx="339.3" cy="495.1" r="6.75"/>
<circle cx="299.0" cy="490.1" r="6.75"/>
<circle cx="366.8" cy="553.9" r="6.75"/>
<circle cx="339.1" cy="484.5" r="6.75"/>
<circle cx="372.5" cy="571.2" r="6.75"/>
<circle cx="329.5" cy="571.8" r="6.75"/>
<circle cx="392.3" cy="485.2" r="6.75"/>
<circle cx="325.3" cy="552.3" r="6.75"/>
<circle cx="338.0" cy="575.8" r="6.75"/>
<circle cx="360.6" cy="743.1" r="6.75"/>
<circle cx="411.3" cy="796.1" r="6.75"/>
<circle cx="485.7" cy="708.2" r="6.75"/>
<circle cx="460.7" cy="762.6" r="6.75"/>
<circle cx="466.2" cy="725.9" r="6.75"/>
<circle cx="437.5" cy="751.6" r="6.75"/>
<circle cx="473.3" cy="705.0" r="6.75"/>
<circle cx="461.1" cy="725.7" r="6.75"/>
<circle cx="484.8" cy="713.1" r="6.75"/>
<circle cx="427.5" cy="724.0" r="6.75"/>
<circle cx="417.0" cy="739.2" r="6.75"/>
<circle cx="498.8" cy="690.2" r="6.75"/>
<circle cx="444.9" cy="722.5" r="6.75"/>
<circle cx="441.4" cy="749.0" r="6.75"/>
<circle cx="487.4" cy="701.4" r="6.75"/>
<circle cx="449.7" cy="754.1" r="6.75"/>
<circle cx="486.8" cy="742.1" r="6.75"/>
<circle cx="486.7" cy="717.7" r="6.75"/>
<circle cx="497.6" cy="737.0" r="6.75"/>
<circle cx="444.2" cy="715.1" r="6.75"/>
<circle cx="461.0" cy="712.1" r="6.75"/>
<circle cx="413.3" cy="711.4" r="6.75"/>
<circle cx="473.9" cy="699.9" r="6.75"/>
<circle cx="583.1" cy="543.4" r="6.75"/>
<circle cx="619.1" cy="526.5" r="6.75"/>
<circle cx="585.0" cy="527.0" r="6.75"/>
<circle cx="543.8" cy="496.0" r="6.75"/>
<circle cx="526.9" cy="512.3" r="6.75"/>
<circle cx="623.5" cy="489.1" r="6.75"/>
<circle cx="519.8" cy="497.5" r="6.75"/>
<circle cx="594.5" cy="515.0" r="6.75"/>
<circle cx="630.0" cy="493.3" r="6.75"/>
<circle cx="532.6" cy="518.8" r="6.75"/>
<circle cx="505.3" cy="484.9" r="6.75"/>
<circle cx="533.4" cy="561.4" r="6.75"/>
<circle cx="590.8" cy="488.2" r="6.75"/>
<circle cx="514.2" cy="493.3" r="6.75"/>
<circle cx="577.7" cy="485.2" r="6.75"/>
<circle cx="571.8" cy="531.9" r="6.75"/>
<circle cx="645.8" cy="521.5" r="6.75"/>
<circle cx="594.9" cy="491.0" r="6.75"/>
<circle cx="566.7" cy="522.6" r="6.75"/>
<circle cx="537.2" cy="510.6" r="6.75"/>
<circle cx="596.1" cy="527.9" r="6.75"/>
<circle cx="570.0" cy="513.9" r="6.75"/>
<circle cx="548.6" cy="535.5" r="6.75"/>
<circle cx="600.8" cy="491.0" r="6.75"/>
<circle cx="579.0" cy="527.4" r="6.75"/>
<circle cx="631.2" cy="518.4" r="6.75"/>
<circle cx="549.1" cy="542.6" r="6.75"/>
<circle cx="657.7" cy="512.5" r="6.75"/>
<circle cx="608.2" cy="555.8" r="6.75"/>
<circle cx="606.7" cy="491.7" r="6.75"/>
<circle cx="520.9" cy="484.4" r="6.75"/>
<circle cx="568.2" cy="507.8" r="6.75"/>
<circle cx="633.7" cy="522.5" r="6.75"/>
<circle cx="506.5" cy="499.1" r="6.75"/>
<circle cx="605.7" cy="559.5" r="6.75"/>
<circle cx="517.5" cy="505.8" r="6.75"/>
<circle cx="502.8" cy="503.1" r="6.75"/>
<circle cx="627.0" cy="521.4" r="6.75"/>
<circle cx="739.0" cy="622.3" r="6.75"/>
<circle cx="996.3" cy="797.8" r="6.75"/>
<circle cx="970.7" cy="779.4" r="6.75"/>
<circle cx="854.8" cy="798.7" r="6.75"/>
<circle cx="836.6" cy="793.9" r="6.75"/>
<circle cx="965.6" cy="782.6" r="6.75"/>
<circle cx="966.7" cy="788.3" r="6.75"/>
<circle cx="343.2" cy="831.7" r="6.75"/>
<circle cx="364.1" cy="842.5" r="6.75"/>
<circle cx="872.5" cy="900.8" r="6.75"/>
<circle cx="833.8" cy="928.6" r="6.75"/>
<circle cx="838.4" cy="919.7" r="6.75"/>
<circle cx="864.8" cy="864.3" r="6.75"/>
<circle cx="914.8" cy="856.4" r="6.75"/>
<circle cx="925.3" cy="821.5" r="6.75"/>
<circle cx="918.4" cy="811.6" r="6.75"/>
<circle cx="898.2" cy="839.9" r="6.75"/>
<circle cx="921.3" cy="838.2" r="6.75"/>
<circle cx="822.7" cy="866.2" r="6.75"/>
<circle cx="857.5" cy="869.3" r="6.75"/>
<circle cx="877.6" cy="818.4" r="6.75"/>
<circle cx="886.6" cy="840.9" r="6.75"/>
<circle cx="981.1" cy="815.1" r="6.75"/>
<circle cx="868.5" cy="828.5" r="6.75"/>
<circle cx="916.4" cy="882.3" r="6.75"/>
<circle cx="897.7" cy="869.5" r="6.75"/>
<circle cx="990.7" cy="829.3" r="6.75"/>
<circle cx="868.9" cy="907.6" r="6.75"/>
<circle cx="903.5" cy="855.5" r="6.75"/>
<circle cx="836.2" cy="933.8" r="6.75"/>
<circle cx="920.9" cy="922.8" r="6.75"/>
<circle cx="933.0" cy="879.7" r="6.75"/>
<circle cx="874.5" cy="815.4" r="6.75"/>
<circle cx="898.9" cy="909.0" r="6.75"/>
<circle cx="897.1" cy="819.2" r="6.75"/>
<circle cx="881.6" cy="848.2" r="6.75"/>
<circle cx="940.7" cy="825.8" r="6.75"/>
<circle cx="875.6" cy="872.9" r="6.75"/>
<circle cx="967.5" cy="813.5" r="6.75"/>
<circle cx="843.1" cy="823.5" r="6.75"/>
<circle cx="958.4" cy="815.3" r="6.75"/>
<circle cx="941.7" cy="815.3" r="6.75"/>
<circle cx="908.6" cy="907.9" r="6.75"/>
<circle cx="858.0" cy="881.5" r="6.75"/>
<circle cx="1010.9" cy="815.6" r="6.75"/>
<circle cx="971.8" cy="842.6" r="6.75"/>
<circle cx="852.6" cy="883.0" r="6.75"/>
<circle cx="828.1" cy="852.8" r="6.75"/>
<circle cx="872.1" cy="911.0" r="6.75"/>
<circle cx="1002.6" cy="821.8" r="6.75"/>
<circle cx="844.6" cy="889.8" r="6.75"/>
<circle cx="883.9" cy="824.4" r="6.75"/>
<circle cx="822.9" cy="906.3" r="6.75"/>
<circle cx="959.9" cy="875.8" r="6.75"/>
<circle cx="837.4" cy="925.1" r="6.75"/>
<circle cx="878.3" cy="810.1" r="6.75"/>
<circle cx="974.3" cy="810.8" r="6.75"/>
<circle cx="917.5" cy="867.2" r="6.75"/>
<circle cx="910.3" cy="855.1" r="6.75"/>
<circle cx="894.5" cy="944.7" r="6.75"/>
<circle cx="984.2" cy="842.0" r="6.75"/>
<circle cx="902.5" cy="938.9" r="6.75"/>
<circle cx="930.6" cy="825.4" r="6.75"/>
<circle cx="952.2" cy="810.1" r="6.75"/>
<circle cx="887.9" cy="827.2" r="6.75"/>
<circle cx="820.9" cy="817.9" r="6.75"/>
<circle cx="856.2" cy="805.2" r="6.75"/>
<circle cx="904.5" cy="914.2" r="6.75"/>
<circle cx="911.8" cy="806.4" r="6.75"/>
<circle cx="849.3" cy="833.4" r="6.75"/>
<circle cx="835.3" cy="829.7" r="6.75"/>
<circle cx="1002.5" cy="802.8" r="6.75"/>
<circle cx="899.8" cy="899.4" r="6.75"/>
<circle cx="919.7" cy="900.6" r="6.75"/>
<circle cx="919.7" cy="847.9" r="6.75"/>
<circle cx="904.6" cy="411.3" r="6.75"/>
<circle cx="996.3" cy="419.1" r="6.75"/>
<circle cx="1013.1" cy="449.9" r="6.75"/>
<circle cx="972.9" cy="444.4" r="6.75"/>
<circle cx="997.3" cy="450.0" r="6.75"/>
<circle cx="1096.3" cy="510.5" r="6.75"/>
<circle cx="932.2" cy="504.9" r="6.75"/>
<circle cx="959.1" cy="632.4" r="6.75"/>
<circle cx="505.2" cy="724.7" r="6.75"/>
<circle cx="525.3" cy="784.7" r="6.75"/>
<circle cx="535.5" cy="774.5" r="6.75"/>
<circle cx="507.0" cy="714.3" r="6.75"/>
<circle cx="520.0" cy="771.3" r="6.75"/>
<circle cx="538.8" cy="764.3" r="6.75"/>
<circle cx="502.6" cy="775.1" r="6.75"/>
<circle cx="500.6" cy="721.0" r="6.75"/>
<circle cx="522.5" cy="780.6" r="6.75"/>
<circle cx="513.7" cy="783.2" r="6.75"/>
<circle cx="508.6" cy="778.8" r="6.75"/>
<circle cx="747.6" cy="852.6" r="6.75"/>
<circle cx="769.9" cy="733.6" r="6.75"/>
<circle cx="673.7" cy="894.6" r="6.75"/>
<circle cx="587.1" cy="830.0" r="6.75"/>
<circle cx="751.7" cy="878.6" r="6.75"/>
<circle cx="691.3" cy="808.9" r="6.75"/>
<circle cx="609.8" cy="791.3" r="6.75"/>
<circle cx="576.6" cy="761.4" r="6.75"/>
<circle cx="807.6" cy="846.8" r="6.75"/>
<circle cx="669.3" cy="805.9" r="6.75"/>
<circle cx="663.0" cy="757.4" r="6.75"/>
<circle cx="702.4" cy="680.4" r="6.75"/>
<circle cx="706.6" cy="693.8" r="6.75"/>
<circle cx="818.1" cy="874.3" r="6.75"/>
<circle cx="609.3" cy="703.5" r="6.75"/>
<circle cx="554.2" cy="848.1" r="6.75"/>
<circle cx="766.6" cy="805.2" r="6.75"/>
<circle cx="784.1" cy="884.9" r="6.75"/>
<circle cx="674.4" cy="780.8" r="6.75"/>
<circle cx="760.0" cy="846.1" r="6.75"/>
<circle cx="666.2" cy="752.6" r="6.75"/>
<circle cx="809.8" cy="739.0" r="6.75"/>
<circle cx="656.8" cy="745.8" r="6.75"/>
<circle cx="789.4" cy="731.7" r="6.75"/>
<circle cx="777.7" cy="743.9" r="6.75"/>
<circle cx="667.6" cy="844.8" r="6.75"/>
<circle cx="568.8" cy="822.1" r="6.75"/>
<circle cx="625.7" cy="833.8" r="6.75"/>
<circle cx="608.7" cy="860.0" r="6.75"/>
<circle cx="769.9" cy="688.7" r="6.75"/>
<circle cx="636.8" cy="798.2" r="6.75"/>
<circle cx="691.4" cy="762.8" r="6.75"/>
<circle cx="762.3" cy="711.2" r="6.75"/>
<circle cx="600.2" cy="760.5" r="6.75"/>
<circle cx="569.2" cy="798.3" r="6.75"/>
<circle cx="603.4" cy="751.1" r="6.75"/>
<circle cx="639.2" cy="778.8" r="6.75"/>
<circle cx="780.0" cy="640.1" r="6.75"/>
<circle cx="748.5" cy="770.7" r="6.75"/>
<circle cx="547.9" cy="824.5" r="6.75"/>
<circle cx="561.2" cy="807.0" r="6.75"/>
<circle cx="569.8" cy="862.7" r="6.75"/>
<circle cx="606.2" cy="832.8" r="6.75"/>
<circle cx="636.9" cy="772.2" r="6.75"/>
<circle cx="779.0" cy="662.1" r="6.75"/>
<circle cx="680.5" cy="722.0" r="6.75"/>
<circle cx="611.8" cy="813.3" r="6.75"/>
<circle cx="747.0" cy="728.5" r="6.75"/>
<circle cx="550.6" cy="842.9" r="6.75"/>
<circle cx="630.2" cy="776.0" r="6.75"/>
<circle cx="687.4" cy="797.8" r="6.75"/>
<circle cx="728.2" cy="850.6" r="6.75"/>
<circle cx="689.7" cy="734.6" r="6.75"/>
<circle cx="633.4" cy="856.2" r="6.75"/>
<circle cx="622.1" cy="845.9" r="6.75"/>
<circle cx="597.7" cy="850.7" r="6.75"/>
<circle cx="775.1" cy="642.0" r="6.75"/>
<circle cx="683.1" cy="707.1" r="6.75"/>
<circle cx="593.2" cy="829.2" r="6.75"/>
<circle cx="813.4" cy="870.4" r="6.75"/>
<circle cx="659.7" cy="690.7" r="6.75"/>
<circle cx="672.4" cy="696.0" r="6.75"/>
<circle cx="794.4" cy="871.9" r="6.75"/>
<circle cx="706.8" cy="688.8" r="6.75"/>
<circle cx="750.6" cy="721.7" r="6.75"/>
<circle cx="748.0" cy="893.7" r="6.75"/>
<circle cx="675.2" cy="714.1" r="6.75"/>
<circle cx="642.2" cy="737.5" r="6.75"/>
<circle cx="779.8" cy="727.1" r="6.75"/>
<circle cx="643.1" cy="770.1" r="6.75"/>
<circle cx="715.6" cy="671.5" r="6.75"/>
<circle cx="783.8" cy="851.2" r="6.75"/>
<circle cx="614.9" cy="749.1" r="6.75"/>
<circle cx="776.8" cy="719.1" r="6.75"/>
<circle cx="715.6" cy="728.7" r="6.75"/>
<circle cx="771.0" cy="888.5" r="6.75"/>
<circle cx="583.5" cy="758.2" r="6.75"/>
<circle cx="706.5" cy="821.6" r="6.75"/>
<circle cx="666.8" cy="856.8" r="6.75"/>
<circle cx="608.6" cy="778.7" r="6.75"/>
<circle cx="562.5" cy="845.2" r="6.75"/>
<circle cx="666.5" cy="741.4" r="6.75"/>
<circle cx="656.2" cy="813.1" r="6.75"/>
<circle cx="701.4" cy="684.8" r="6.75"/>
<circle cx="650.8" cy="866.2" r="6.75"/>
<circle cx="715.5" cy="717.1" r="6.75"/>
<circle cx="644.4" cy="1022.1" r="6.75"/>
<circle cx="525.2" cy="885.2" r="6.75"/>
<circle cx="596.1" cy="903.1" r="6.75"/>
<circle cx="515.3" cy="994.5" r="6.75"/>
<circle cx="583.0" cy="972.1" r="6.75"/>
<circle cx="604.7" cy="908.7" r="6.75"/>
<circle cx="524.9" cy="1016.9" r="6.75"/>
<circle cx="586.4" cy="1026.3" r="6.75"/>
<circle cx="667.7" cy="941.7" r="6.75"/>
<circle cx="645.6" cy="1070.4" r="6.75"/>
<circle cx="577.8" cy="984.5" r="6.75"/>
<circle cx="663.1" cy="970.1" r="6.75"/>
<circle cx="530.7" cy="888.8" r="6.75"/>
<circle cx="581.3" cy="899.6" r="6.75"/>
<circle cx="670.1" cy="1065.2" r="6.75"/>
<circle cx="693.5" cy="1008.7" r="6.75"/>
<circle cx="642.9" cy="938.6" r="6.75"/>
<circle cx="565.9" cy="931.7" r="6.75"/>
<circle cx="674.8" cy="1075.1" r="6.75"/>
<circle cx="721.1" cy="1034.4" r="6.75"/>
<circle cx="586.9" cy="1050.9" r="6.75"/>
<circle cx="682.1" cy="948.6" r="6.75"/>
<circle cx="576.3" cy="959.7" r="6.75"/>
<circle cx="617.3" cy="1015.4" r="6.75"/>
<circle cx="569.7" cy="941.7" r="6.75"/>
<circle cx="544.3" cy="903.1" r="6.75"/>
<circle cx="677.4" cy="1032.4" r="6.75"/>
<circle cx="589.0" cy="1036.9" r="6.75"/>
<circle cx="589.8" cy="939.7" r="6.75"/>
<circle cx="688.3" cy="947.2" r="6.75"/>
<circle cx="634.3" cy="1030.0" r="6.75"/>
<circle cx="648.3" cy="931.6" r="6.75"/>
<circle cx="597.4" cy="922.0" r="6.75"/>
<circle cx="719.6" cy="1039.0" r="6.75"/>
<circle cx="541.7" cy="1021.6" r="6.75"/>
<circle cx="684.8" cy="1013.2" r="6.75"/>
<circle cx="544.6" cy="979.5" r="6.75"/>
<circle cx="679.9" cy="955.7" r="6.75"/>
<circle cx="656.2" cy="938.4" r="6.75"/>
<circle cx="606.6" cy="913.8" r="6.75"/>
<circle cx="588.5" cy="1013.5" r="6.75"/>
<circle cx="665.9" cy="1034.4" r="6.75"/>
<circle cx="658.3" cy="1073.1" r="6.75"/>
<circle cx="588.3" cy="998.1" r="6.75"/>
<circle cx="677.1" cy="944.7" r="6.75"/>
<circle cx="647.7" cy="994.3" r="6.75"/>
<circle cx="621.7" cy="981.4" r="6.75"/>
<circle cx="567.5" cy="961.7" r="6.75"/>
<circle cx="522.6" cy="979.5" r="6.75"/>
<circle cx="640.5" cy="977.0" r="6.75"/>
<circle cx="652.7" cy="1007.6" r="6.75"/>
<circle cx="698.3" cy="1024.7" r="6.75"/>
<circle cx="610.8" cy="958.1" r="6.75"/>
<circle cx="607.6" cy="968.6" r="6.75"/>
<circle cx="568.5" cy="903.9" r="6.75"/>
<circle cx="616.0" cy="906.6" r="6.75"/>
<circle cx="705.2" cy="1004.1" r="6.75"/>
<circle cx="719.9" cy="1002.5" r="6.75"/>
<circle cx="660.1" cy="1020.0" r="6.75"/>
<circle cx="708.0" cy="1046.0" r="6.75"/>
<circle cx="650.1" cy="976.2" r="6.75"/>
<circle cx="592.1" cy="953.5" r="6.75"/>
<circle cx="540.1" cy="1015.2" r="6.75"/>
<circle cx="552.1" cy="894.8" r="6.75"/>
<circle cx="564.4" cy="986.9" r="6.75"/>
<circle cx="622.7" cy="1003.3" r="6.75"/>
<circle cx="606.5" cy="925.5" r="6.75"/>
<circle cx="649.9" cy="912.0" r="6.75"/>
<circle cx="645.1" cy="1001.4" r="6.75"/>
<circle cx="569.7" cy="1005.3" r="6.75"/>
<circle cx="568.8" cy="988.3" r="6.75"/>
<circle cx="555.9" cy="999.2" r="6.75"/>
<circle cx="620.5" cy="930.3" r="6.75"/>
<circle cx="688.9" cy="1017.7" r="6.75"/>
<circle cx="525.6" cy="975.4" r="6.75"/>
<circle cx="520.0" cy="888.4" r="6.75"/>
<circle cx="565.5" cy="945.7" r="6.75"/>
<circle cx="537.8" cy="1004.9" r="6.75"/>
<circle cx="589.5" cy="992.6" r="6.75"/>
<circle cx="736.7" cy="1031.5" r="6.75"/>
<circle cx="657.4" cy="993.1" r="6.75"/>
<circle cx="523.8" cy="1012.0" r="6.75"/>
<circle cx="636.2" cy="983.4" r="6.75"/>
<circle cx="633.6" cy="937.0" r="6.75"/>
<circle cx="571.6" cy="1011.2" r="6.75"/>
<circle cx="576.2" cy="1065.9" r="6.75"/>
<circle cx="541.1" cy="996.6" r="6.75"/>
<circle cx="630.6" cy="887.6" r="6.75"/>
<circle cx="642.5" cy="894.0" r="6.75"/>
<circle cx="631.6" cy="896.1" r="6.75"/>
<circle cx="654.7" cy="883.9" r="6.75"/>
<circle cx="765.0" cy="1021.0" r="6.75"/>
<circle cx="787.8" cy="945.7" r="6.75"/>
<circle cx="806.9" cy="955.2" r="6.75"/>
<circle cx="805.8" cy="905.7" r="6.75"/>
<circle cx="592.5" cy="352.5" r="6.75"/>
<circle cx="610.0" cy="355.0" r="6.75"/>
<circle cx="631.2" cy="355.0" r="6.75"/>
<circle cx="637.5" cy="345.0" r="6.75"/>
<circle cx="906.2" cy="322.5" r="6.75"/>
<circle cx="932.5" cy="337.5" r="6.75"/>
<circle cx="963.8" cy="300.0" r="6.75"/>
<circle cx="871.2" cy="330.0" r="6.75"/>
<circle cx="451.2" cy="513.0" r="6.75"/>
<circle cx="886.2" cy="786.2" r="6.75"/>
<circle cx="495.0" cy="873.8" r="6.75"/>
<circle cx="492.5" cy="900.0" r="6.75"/>
<circle cx="497.5" cy="911.2" r="6.75"/>
<circle cx="497.5" cy="922.5" r="6.75"/>
<circle cx="497.5" cy="962.5" r="6.75"/>
<circle cx="872.5" cy="495.0" r="6.75"/>
<circle cx="917.5" cy="507.5" r="6.75"/>
<circle cx="917.0" cy="528.2" r="6.75"/>
<circle cx="927.5" cy="518.8" r="6.75"/>
<circle cx="832.5" cy="523.8" r="6.75"/>
<circle cx="876.2" cy="546.2" r="6.75"/>
<circle cx="881.2" cy="580.0" r="6.75"/>
<circle cx="852.5" cy="595.0" r="6.75"/>
<circle cx="841.2" cy="595.5" r="6.75"/>
<circle cx="926.2" cy="585.0" r="6.75"/>
<circle cx="925.0" cy="591.2" r="6.75"/>
<circle cx="462.5" cy="441.2" r="6.75"/>
<circle cx="432.5" cy="447.5" r="6.75"/>
</g>
<g fill="#e5f0f6">
<circle cx="481.8" cy="360.9" r="6.75"/>
<circle cx="353.8" cy="391.2" r="6.75"/>
<circle cx="363.5" cy="410.3" r="6.75"/>
<circle cx="485.2" cy="340.6" r="6.75"/>
<circle cx="370.5" cy="411.5" r="6.75"/>
<circle cx="380.4" cy="415.4" r="6.75"/>
<circle cx="371.5" cy="294.1" r="6.75"/>
<circle cx="377.6" cy="396.8" r="6.75"/>
<circle cx="391.8" cy="381.8" r="6.75"/>
<circle cx="380.6" cy="399.6" r="6.75"/>
<circle cx="411.0" cy="362.5" r="6.75"/>
<circle cx="465.2" cy="224.7" r="6.75"/>
<circle cx="375.6" cy="473.0" r="6.75"/>
<circle cx="815.2" cy="307.9" r="6.75"/>
<circle cx="627.6" cy="256.6" r="6.75"/>
<circle cx="521.8" cy="247.0" r="6.75"/>
<circle cx="814.3" cy="288.5" r="6.75"/>
<circle cx="816.0" cy="333.8" r="6.75"/>
<circle cx="653.6" cy="221.6" r="6.75"/>
<circle cx="517.4" cy="302.4" r="6.75"/>
<circle cx="526.8" cy="253.3" r="6.75"/>
<circle cx="628.4" cy="297.5" r="6.75"/>
<circle cx="616.3" cy="219.3" r="6.75"/>
<circle cx="509.0" cy="266.7" r="6.75"/>
<circle cx="585.9" cy="286.2" r="6.75"/>
<circle cx="508.9" cy="275.9" r="6.75"/>
<circle cx="604.1" cy="312.2" r="6.75"/>
<circle cx="602.3" cy="449.6" r="6.75"/>
<circle cx="571.1" cy="474.1" r="6.75"/>
<circle cx="623.1" cy="430.7" r="6.75"/>
<circle cx="619.1" cy="470.9" r="6.75"/>
<circle cx="601.2" cy="435.2" r="6.75"/>
<circle cx="852.2" cy="350.4" r="6.75"/>
<circle cx="874.0" cy="368.6" r="6.75"/>
<circle cx="824.0" cy="333.8" r="6.75"/>
<circle cx="926.0" cy="376.3" r="6.75"/>
<circle cx="868.2" cy="379.1" r="6.75"/>
<circle cx="326.7" cy="495.1" r="6.75"/>
<circle cx="393.2" cy="547.9" r="6.75"/>
<circle cx="320.7" cy="547.8" r="6.75"/>
<circle cx="403.7" cy="543.3" r="6.75"/>
<circle cx="309.7" cy="503.8" r="6.75"/>
<circle cx="348.2" cy="563.3" r="6.75"/>
<circle cx="310.9" cy="514.2" r="6.75"/>
<circle cx="329.1" cy="510.1" r="6.75"/>
<circle cx="378.9" cy="525.4" r="6.75"/>
<circle cx="305.0" cy="482.1" r="6.75"/>
<circle cx="321.0" cy="501.1" r="6.75"/>
<circle cx="344.8" cy="543.7" r="6.75"/>
<circle cx="353.6" cy="527.3" r="6.75"/>
<circle cx="347.7" cy="519.7" r="6.75"/>
<circle cx="309.9" cy="509.2" r="6.75"/>
<circle cx="342.9" cy="527.1" r="6.75"/>
<circle cx="369.8" cy="563.8" r="6.75"/>
<circle cx="364.3" cy="579.6" r="6.75"/>
<circle cx="364.2" cy="572.1" r="6.75"/>
<circle cx="401.8" cy="488.4" r="6.75"/>
<circle cx="377.7" cy="765.9" r="6.75"/>
<circle cx="384.6" cy="771.8" r="6.75"/>
<circle cx="366.2" cy="731.0" r="6.75"/>
<circle cx="493.7" cy="767.7" r="6.75"/>
<circle cx="461.9" cy="731.9" r="6.75"/>
<circle cx="427.3" cy="743.7" r="6.75"/>
<circle cx="460.3" cy="768.9" r="6.75"/>
<circle cx="487.5" cy="721.9" r="6.75"/>
<circle cx="423.2" cy="727.5" r="6.75"/>
<circle cx="452.2" cy="713.0" r="6.75"/>
<circle cx="476.6" cy="744.8" r="6.75"/>
<circle cx="437.9" cy="744.4" r="6.75"/>
<circle cx="470.8" cy="719.5" r="6.75"/>
<circle cx="479.2" cy="703.0" r="6.75"/>
<circle cx="437.9" cy="712.2" r="6.75"/>
<circle cx="547.2" cy="509.6" r="6.75"/>
<circle cx="572.4" cy="523.8" r="6.75"/>
<circle cx="533.4" cy="536.2" r="6.75"/>
<circle cx="562.1" cy="534.1" r="6.75"/>
<circle cx="604.1" cy="497.6" r="6.75"/>
<circle cx="612.9" cy="513.7" r="6.75"/>
<circle cx="611.5" cy="547.0" r="6.75"/>
<circle cx="583.3" cy="510.0" r="6.75"/>
<circle cx="576.6" cy="546.7" r="6.75"/>
<circle cx="557.0" cy="532.5" r="6.75"/>
<circle cx="562.3" cy="529.2" r="6.75"/>
<circle cx="536.6" cy="527.7" r="6.75"/>
<circle cx="542.6" cy="505.7" r="6.75"/>
<circle cx="617.0" cy="546.1" r="6.75"/>
<circle cx="580.4" cy="550.4" r="6.75"/>
<circle cx="602.3" cy="517.7" r="6.75"/>
<circle cx="589.8" cy="534.2" r="6.75"/>
<circle cx="605.2" cy="529.0" r="6.75"/>
<circle cx="618.0" cy="507.7" r="6.75"/>
<circle cx="574.8" cy="528.3" r="6.75"/>
<circle cx="593.6" cy="502.8" r="6.75"/>
<circle cx="528.4" cy="486.1" r="6.75"/>
<circle cx="594.6" cy="536.4" r="6.75"/>
<circle cx="544.3" cy="532.6" r="6.75"/>
<circle cx="543.0" cy="512.3" r="6.75"/>
<circle cx="753.2" cy="486.3" r="6.75"/>
<circle cx="929.9" cy="798.4" r="6.75"/>
<circle cx="980.2" cy="798.2" r="6.75"/>
<circle cx="902.9" cy="796.4" r="6.75"/>
<circle cx="954.4" cy="788.5" r="6.75"/>
<circle cx="895.4" cy="794.9" r="6.75"/>
<circle cx="1009.9" cy="790.5" r="6.75"/>
<circle cx="419.0" cy="828.4" r="6.75"/>
<circle cx="423.3" cy="828.1" r="6.75"/>
<circle cx="422.9" cy="835.9" r="6.75"/>
<circle cx="354.6" cy="841.0" r="6.75"/>
<circle cx="411.5" cy="848.1" r="6.75"/>
<circle cx="410.8" cy="860.8" r="6.75"/>
<circle cx="361.3" cy="811.4" r="6.75"/>
<circle cx="389.0" cy="825.6" r="6.75"/>
<circle cx="872.2" cy="886.3" r="6.75"/>
<circle cx="920.9" cy="874.4" r="6.75"/>
<circle cx="890.8" cy="837.7" r="6.75"/>
<circle cx="962.9" cy="857.5" r="6.75"/>
<circle cx="878.3" cy="864.5" r="6.75"/>
<circle cx="930.4" cy="892.8" r="6.75"/>
<circle cx="891.3" cy="858.5" r="6.75"/>
<circle cx="898.1" cy="917.8" r="6.75"/>
<circle cx="896.6" cy="812.8" r="6.75"/>
<circle cx="985.8" cy="863.4" r="6.75"/>
<circle cx="826.0" cy="816.8" r="6.75"/>
<circle cx="954.6" cy="805.6" r="6.75"/>
<circle cx="894.5" cy="881.5" r="6.75"/>
<circle cx="875.8" cy="850.1" r="6.75"/>
<circle cx="967.9" cy="866.7" r="6.75"/>
<circle cx="871.9" cy="923.9" r="6.75"/>
<circle cx="861.5" cy="848.1" r="6.75"/>
<circle cx="983.4" cy="823.8" r="6.75"/>
<circle cx="834.6" cy="898.4" r="6.75"/>
<circle cx="926.3" cy="855.4" r="6.75"/>
<circle cx="919.1" cy="834.4" r="6.75"/>
<circle cx="958.9" cy="860.8" r="6.75"/>
<circle cx="894.0" cy="908.7" r="6.75"/>
<circle cx="991.9" cy="807.4" r="6.75"/>
<circle cx="902.0" cy="879.3" r="6.75"/>
<circle cx="906.6" cy="827.0" r="6.75"/>
<circle cx="953.3" cy="846.8" r="6.75"/>
<circle cx="941.8" cy="856.4" r="6.75"/>
<circle cx="918.7" cy="878.9" r="6.75"/>
<circle cx="882.9" cy="830.0" r="6.75"/>
<circle cx="887.1" cy="892.0" r="6.75"/>
<circle cx="881.0" cy="853.1" r="6.75"/>
<circle cx="842.8" cy="818.7" r="6.75"/>
<circle cx="856.6" cy="885.3" r="6.75"/>
<circle cx="961.1" cy="853.3" r="6.75"/>
<circle cx="976.0" cy="865.2" r="6.75"/>
<circle cx="949.2" cy="834.5" r="6.75"/>
<circle cx="963.3" cy="830.6" r="6.75"/>
<circle cx="836.4" cy="839.9" r="6.75"/>
<circle cx="898.7" cy="875.0" r="6.75"/>
<circle cx="891.1" cy="886.0" r="6.75"/>
<circle cx="927.2" cy="814.5" r="6.75"/>
<circle cx="889.9" cy="806.0" r="6.75"/>
<circle cx="999.3" cy="845.7" r="6.75"/>
<circle cx="824.8" cy="841.6" r="6.75"/>
<circle cx="891.2" cy="814.9" r="6.75"/>
<circle cx="860.1" cy="905.6" r="6.75"/>
<circle cx="1030.3" cy="808.2" r="6.75"/>
<circle cx="830.1" cy="904.4" r="6.75"/>
<circle cx="889.4" cy="877.8" r="6.75"/>
<circle cx="925.5" cy="847.8" r="6.75"/>
<circle cx="854.9" cy="906.5" r="6.75"/>
<circle cx="933.1" cy="802.0" r="6.75"/>
<circle cx="987.8" cy="823.1" r="6.75"/>
<circle cx="1013.6" cy="822.2" r="6.75"/>
<circle cx="885.1" cy="885.3" r="6.75"/>
<circle cx="935.1" cy="813.7" r="6.75"/>
<circle cx="948.9" cy="807.4" r="6.75"/>
<circle cx="864.7" cy="853.0" r="6.75"/>
<circle cx="968.2" cy="828.5" r="6.75"/>
<circle cx="1023.0" cy="803.4" r="6.75"/>
<circle cx="954.3" cy="837.3" r="6.75"/>
<circle cx="878.7" cy="885.1" r="6.75"/>
<circle cx="1000.8" cy="837.1" r="6.75"/>
<circle cx="941.7" cy="829.8" r="6.75"/>
<circle cx="797.6" cy="452.4" r="6.75"/>
<circle cx="809.1" cy="428.5" r="6.75"/>
<circle cx="978.2" cy="445.8" r="6.75"/>
<circle cx="969.3" cy="431.8" r="6.75"/>
<circle cx="1023.8" cy="458.8" r="6.75"/>
<circle cx="528.0" cy="766.7" r="6.75"/>
<circle cx="509.4" cy="768.6" r="6.75"/>
<circle cx="523.5" cy="767.3" r="6.75"/>
<circle cx="512.2" cy="749.1" r="6.75"/>
<circle cx="508.1" cy="745.8" r="6.75"/>
<circle cx="536.2" cy="768.2" r="6.75"/>
<circle cx="771.6" cy="695.8" r="6.75"/>
<circle cx="725.8" cy="656.5" r="6.75"/>
<circle cx="610.9" cy="825.8" r="6.75"/>
<circle cx="577.2" cy="822.9" r="6.75"/>
<circle cx="620.6" cy="741.8" r="6.75"/>
<circle cx="660.0" cy="727.0" r="6.75"/>
<circle cx="789.6" cy="871.8" r="6.75"/>
<circle cx="651.7" cy="841.2" r="6.75"/>
<circle cx="569.8" cy="810.7" r="6.75"/>
<circle cx="756.3" cy="824.4" r="6.75"/>
<circle cx="677.3" cy="827.7" r="6.75"/>
<circle cx="748.5" cy="861.7" r="6.75"/>
<circle cx="717.3" cy="752.3" r="6.75"/>
<circle cx="630.9" cy="740.7" r="6.75"/>
<circle cx="735.7" cy="660.6" r="6.75"/>
<circle cx="575.9" cy="863.4" r="6.75"/>
<circle cx="718.3" cy="876.5" r="6.75"/>
<circle cx="597.1" cy="797.8" r="6.75"/>
<circle cx="634.8" cy="791.0" r="6.75"/>
<circle cx="566.2" cy="865.2" r="6.75"/>
<circle cx="753.3" cy="891.9" r="6.75"/>
<circle cx="759.1" cy="740.8" r="6.75"/>
<circle cx="785.5" cy="724.5" r="6.75"/>
<circle cx="586.0" cy="817.1" r="6.75"/>
<circle cx="591.9" cy="753.9" r="6.75"/>
<circle cx="637.3" cy="696.6" r="6.75"/>
<circle cx="644.8" cy="748.5" r="6.75"/>
<circle cx="638.9" cy="813.0" r="6.75"/>
<circle cx="785.8" cy="717.7" r="6.75"/>
<circle cx="760.6" cy="744.7" r="6.75"/>
<circle cx="564.2" cy="850.5" r="6.75"/>
<circle cx="675.7" cy="850.7" r="6.75"/>
<circle cx="524.4" cy="837.7" r="6.75"/>
<circle cx="606.7" cy="839.8" r="6.75"/>
<circle cx="629.3" cy="802.3" r="6.75"/>
<circle cx="598.6" cy="773.4" r="6.75"/>
<circle cx="545.9" cy="818.2" r="6.75"/>
<circle cx="721.3" cy="812.4" r="6.75"/>
<circle cx="802.8" cy="845.7" r="6.75"/>
<circle cx="774.2" cy="732.2" r="6.75"/>
<circle cx="730.9" cy="881.4" r="6.75"/>
<circle cx="625.0" cy="839.4" r="6.75"/>
<circle cx="793.9" cy="696.5" r="6.75"/>
<circle cx="773.9" cy="847.5" r="6.75"/>
<circle cx="588.1" cy="852.6" r="6.75"/>
<circle cx="746.7" cy="824.6" r="6.75"/>
<circle cx="702.8" cy="707.9" r="6.75"/>
<circle cx="611.6" cy="841.9" r="6.75"/>
<circle cx="694.8" cy="713.2" r="6.75"/>
<circle cx="806.9" cy="821.2" r="6.75"/>
<circle cx="599.6" cy="1038.5" r="6.75"/>
<circle cx="577.2" cy="931.8" r="6.75"/>
<circle cx="647.2" cy="1042.8" r="6.75"/>
<circle cx="581.0" cy="1054.8" r="6.75"/>
<circle cx="589.3" cy="1002.5" r="6.75"/>
<circle cx="688.5" cy="1045.0" r="6.75"/>
<circle cx="647.2" cy="958.4" r="6.75"/>
<circle cx="697.3" cy="1006.3" r="6.75"/>
<circle cx="626.2" cy="938.4" r="6.75"/>
<circle cx="541.5" cy="1047.3" r="6.75"/>
<circle cx="594.4" cy="1053.0" r="6.75"/>
<circle cx="617.1" cy="937.8" r="6.75"/>
<circle cx="710.4" cy="1011.4" r="6.75"/>
<circle cx="613.8" cy="1038.4" r="6.75"/>
<circle cx="637.1" cy="1067.5" r="6.75"/>
<circle cx="671.1" cy="1033.2" r="6.75"/>
<circle cx="665.1" cy="952.8" r="6.75"/>
<circle cx="674.9" cy="971.9" r="6.75"/>
<circle cx="628.1" cy="1041.1" r="6.75"/>
<circle cx="611.3" cy="970.5" r="6.75"/>
<circle cx="687.9" cy="1024.2" r="6.75"/>
<circle cx="558.9" cy="968.0" r="6.75"/>
<circle cx="613.1" cy="966.9" r="6.75"/>
<circle cx="595.5" cy="978.6" r="6.75"/>
<circle cx="632.0" cy="1059.5" r="6.75"/>
<circle cx="528.8" cy="1012.5" r="6.75"/>
<circle cx="625.8" cy="971.5" r="6.75"/>
<circle cx="676.4" cy="953.1" r="6.75"/>
<circle cx="704.5" cy="1043.7" r="6.75"/>
<circle cx="603.7" cy="1046.2" r="6.75"/>
<circle cx="712.9" cy="1033.3" r="6.75"/>
<circle cx="598.2" cy="1055.1" r="6.75"/>
<circle cx="568.7" cy="1044.3" r="6.75"/>
<circle cx="663.8" cy="1003.1" r="6.75"/>
<circle cx="623.9" cy="1010.5" r="6.75"/>
<circle cx="518.7" cy="899.2" r="6.75"/>
<circle cx="620.1" cy="954.4" r="6.75"/>
<circle cx="690.8" cy="988.5" r="6.75"/>
<circle cx="556.2" cy="987.5" r="6.75"/>
<circle cx="600.3" cy="959.6" r="6.75"/>
<circle cx="535.2" cy="998.4" r="6.75"/>
<circle cx="684.5" cy="1030.7" r="6.75"/>
<circle cx="717.4" cy="1013.1" r="6.75"/>
<circle cx="683.6" cy="1037.8" r="6.75"/>
<circle cx="525.9" cy="942.0" r="6.75"/>
<circle cx="607.2" cy="900.1" r="6.75"/>
<circle cx="567.9" cy="1059.3" r="6.75"/>
<circle cx="690.4" cy="1011.8" r="6.75"/>
<circle cx="631.4" cy="970.2" r="6.75"/>
<circle cx="659.5" cy="966.4" r="6.75"/>
<circle cx="671.6" cy="963.8" r="6.75"/>
<circle cx="607.3" cy="918.1" r="6.75"/>
<circle cx="647.6" cy="924.0" r="6.75"/>
<circle cx="626.7" cy="920.0" r="6.75"/>
<circle cx="598.3" cy="1006.8" r="6.75"/>
<circle cx="629.4" cy="1014.5" r="6.75"/>
<circle cx="690.0" cy="1033.1" r="6.75"/>
<circle cx="607.6" cy="905.2" r="6.75"/>
<circle cx="691.3" cy="1041.0" r="6.75"/>
<circle cx="555.3" cy="1028.5" r="6.75"/>
<circle cx="585.2" cy="1032.5" r="6.75"/>
<circle cx="700.2" cy="1058.5" r="6.75"/>
<circle cx="635.9" cy="1054.1" r="6.75"/>
<circle cx="602.1" cy="890.2" r="6.75"/>
<circle cx="573.1" cy="980.6" r="6.75"/>
<circle cx="565.7" cy="891.7" r="6.75"/>
<circle cx="542.0" cy="991.1" r="6.75"/>
<circle cx="739.5" cy="1035.7" r="6.75"/>
<circle cx="715.0" cy="1051.9" r="6.75"/>
<circle cx="570.5" cy="935.1" r="6.75"/>
<circle cx="677.6" cy="1021.8" r="6.75"/>
<circle cx="677.2" cy="1005.7" r="6.75"/>
<circle cx="630.2" cy="947.1" r="6.75"/>
<circle cx="646.3" cy="1005.8" r="6.75"/>
<circle cx="678.1" cy="990.4" r="6.75"/>
<circle cx="621.8" cy="916.8" r="6.75"/>
<circle cx="578.9" cy="926.8" r="6.75"/>
<circle cx="561.9" cy="1045.3" r="6.75"/>
<circle cx="668.6" cy="950.6" r="6.75"/>
<circle cx="528.8" cy="987.4" r="6.75"/>
<circle cx="649.4" cy="902.5" r="6.75"/>
<circle cx="648.2" cy="893.4" r="6.75"/>
<circle cx="626.6" cy="885.5" r="6.75"/>
<circle cx="673.3" cy="898.1" r="6.75"/>
<circle cx="675.0" cy="416.2" r="6.75"/>
<circle cx="687.5" cy="363.8" r="6.75"/>
<circle cx="710.0" cy="403.8" r="6.75"/>
<circle cx="878.8" cy="325.0" r="6.75"/>
<circle cx="886.2" cy="323.8" r="6.75"/>
<circle cx="741.2" cy="558.8" r="6.75"/>
<circle cx="610.0" cy="617.0" r="6.75"/>
<circle cx="825.0" cy="700.0" r="6.75"/>
<circle cx="836.2" cy="705.0" r="6.75"/>
<circle cx="843.8" cy="712.5" r="6.75"/>
<circle cx="852.5" cy="712.5" r="6.75"/>
<circle cx="832.5" cy="715.0" r="6.75"/>
<circle cx="827.5" cy="723.8" r="6.75"/>
<circle cx="843.8" cy="730.8" r="6.75"/>
<circle cx="860.0" cy="721.2" r="6.75"/>
<circle cx="437.5" cy="812.5" r="6.75"/>
<circle cx="445.0" cy="812.0" r="6.75"/>
<circle cx="468.2" cy="858.0" r="6.75"/>
<circle cx="495.0" cy="840.0" r="6.75"/>
<circle cx="783.0" cy="1007.5" r="6.75"/>
<circle cx="512.5" cy="862.5" r="6.75"/>
<circle cx="836.2" cy="427.5" r="6.75"/>
<circle cx="852.5" cy="423.8" r="6.75"/>
<circle cx="866.2" cy="417.5" r="6.75"/>
<circle cx="863.8" cy="436.2" r="6.75"/>
<circle cx="877.5" cy="433.8" r="6.75"/>
<circle cx="842.5" cy="445.0" r="6.75"/>
<circle cx="855.0" cy="442.5" r="6.75"/>
<circle cx="900.0" cy="423.8" r="6.75"/>
<circle cx="897.5" cy="433.8" r="6.75"/>
<circle cx="907.5" cy="441.2" r="6.75"/>
<circle cx="921.2" cy="441.2" r="6.75"/>
<circle cx="930.0" cy="436.2" r="6.75"/>
<circle cx="911.2" cy="446.2" r="6.75"/>
<circle cx="915.0" cy="588.8" r="6.75"/>
<circle cx="910.0" cy="595.0" r="6.75"/>
<circle cx="920.0" cy="597.5" r="6.75"/>
<circle cx="783.0" cy="1008.2" r="6.75"/>
</g>
<g fill="#ecf3f7">
<circle cx="397.8" cy="401.2" r="6.75"/>
<circle cx="340.1" cy="398.5" r="6.75"/>
<circle cx="387.0" cy="454.6" r="6.75"/>
<circle cx="477.9" cy="298.6" r="6.75"/>
<circle cx="389.8" cy="426.4" r="6.75"/>
<circle cx="459.7" cy="388.0" r="6.75"/>
<circle cx="405.0" cy="407.8" r="6.75"/>
<circle cx="383.6" cy="402.5" r="6.75"/>
<circle cx="388.2" cy="330.7" r="6.75"/>
<circle cx="419.2" cy="247.1" r="6.75"/>
<circle cx="571.2" cy="316.8" r="6.75"/>
<circle cx="800.9" cy="288.1" r="6.75"/>
<circle cx="617.5" cy="300.2" r="6.75"/>
<circle cx="638.5" cy="219.2" r="6.75"/>
<circle cx="546.0" cy="453.5" r="6.75"/>
<circle cx="566.7" cy="463.0" r="6.75"/>
<circle cx="565.4" cy="471.4" r="6.75"/>
<circle cx="1002.4" cy="288.9" r="6.75"/>
<circle cx="880.8" cy="354.0" r="6.75"/>
<circle cx="830.9" cy="328.6" r="6.75"/>
<circle cx="357.7" cy="571.5" r="6.75"/>
<circle cx="334.4" cy="492.9" r="6.75"/>
<circle cx="389.1" cy="539.6" r="6.75"/>
<circle cx="385.7" cy="529.1" r="6.75"/>
<circle cx="330.6" cy="499.4" r="6.75"/>
<circle cx="333.2" cy="562.8" r="6.75"/>
<circle cx="332.3" cy="512.9" r="6.75"/>
<circle cx="385.2" cy="582.3" r="6.75"/>
<circle cx="396.2" cy="487.5" r="6.75"/>
<circle cx="415.6" cy="795.1" r="6.75"/>
<circle cx="413.2" cy="788.1" r="6.75"/>
<circle cx="392.4" cy="754.0" r="6.75"/>
<circle cx="361.5" cy="735.2" r="6.75"/>
<circle cx="466.3" cy="713.5" r="6.75"/>
<circle cx="432.8" cy="738.1" r="6.75"/>
<circle cx="434.0" cy="721.9" r="6.75"/>
<circle cx="418.7" cy="715.8" r="6.75"/>
<circle cx="460.5" cy="746.4" r="6.75"/>
<circle cx="437.8" cy="717.5" r="6.75"/>
<circle cx="448.0" cy="743.6" r="6.75"/>
<circle cx="428.0" cy="717.8" r="6.75"/>
<circle cx="413.6" cy="719.9" r="6.75"/>
<circle cx="484.5" cy="760.1" r="6.75"/>
<circle cx="627.9" cy="482.9" r="6.75"/>
<circle cx="595.0" cy="510.0" r="6.75"/>
<circle cx="585.7" cy="564.1" r="6.75"/>
<circle cx="585.4" cy="480.1" r="6.75"/>
<circle cx="606.9" cy="542.2" r="6.75"/>
<circle cx="563.4" cy="548.2" r="6.75"/>
<circle cx="553.9" cy="483.7" r="6.75"/>
<circle cx="579.2" cy="496.4" r="6.75"/>
<circle cx="573.4" cy="519.9" r="6.75"/>
<circle cx="600.8" cy="538.3" r="6.75"/>
<circle cx="548.3" cy="559.7" r="6.75"/>
<circle cx="563.9" cy="543.4" r="6.75"/>
<circle cx="643.2" cy="525.7" r="6.75"/>
<circle cx="587.3" cy="548.6" r="6.75"/>
<circle cx="578.6" cy="541.9" r="6.75"/>
<circle cx="552.0" cy="550.5" r="6.75"/>
<circle cx="534.6" cy="542.3" r="6.75"/>
<circle cx="527.3" cy="507.3" r="6.75"/>
<circle cx="769.3" cy="483.6" r="6.75"/>
<circle cx="748.4" cy="635.0" r="6.75"/>
<circle cx="1002.5" cy="780.1" r="6.75"/>
<circle cx="984.5" cy="797.7" r="6.75"/>
<circle cx="411.7" cy="852.8" r="6.75"/>
<circle cx="406.5" cy="859.9" r="6.75"/>
<circle cx="383.8" cy="827.2" r="6.75"/>
<circle cx="416.6" cy="805.2" r="6.75"/>
<circle cx="418.6" cy="832.7" r="6.75"/>
<circle cx="417.5" cy="841.2" r="6.75"/>
<circle cx="405.0" cy="822.2" r="6.75"/>
<circle cx="377.0" cy="833.6" r="6.75"/>
<circle cx="382.5" cy="840.0" r="6.75"/>
<circle cx="383.6" cy="831.7" r="6.75"/>
<circle cx="366.1" cy="822.7" r="6.75"/>
<circle cx="924.7" cy="804.3" r="6.75"/>
<circle cx="938.9" cy="888.3" r="6.75"/>
<circle cx="880.7" cy="894.0" r="6.75"/>
<circle cx="878.3" cy="940.0" r="6.75"/>
<circle cx="979.9" cy="803.2" r="6.75"/>
<circle cx="868.3" cy="895.0" r="6.75"/>
<circle cx="918.1" cy="806.5" r="6.75"/>
<circle cx="949.0" cy="859.5" r="6.75"/>
<circle cx="941.9" cy="904.7" r="6.75"/>
<circle cx="905.1" cy="810.1" r="6.75"/>
<circle cx="902.6" cy="903.5" r="6.75"/>
<circle cx="989.5" cy="843.3" r="6.75"/>
<circle cx="902.7" cy="835.7" r="6.75"/>
<circle cx="925.3" cy="889.9" r="6.75"/>
<circle cx="948.1" cy="851.5" r="6.75"/>
<circle cx="939.7" cy="895.2" r="6.75"/>
<circle cx="925.7" cy="894.2" r="6.75"/>
<circle cx="904.7" cy="931.0" r="6.75"/>
<circle cx="950.7" cy="888.3" r="6.75"/>
<circle cx="940.5" cy="803.5" r="6.75"/>
<circle cx="946.2" cy="839.2" r="6.75"/>
<circle cx="952.4" cy="884.1" r="6.75"/>
<circle cx="983.2" cy="810.9" r="6.75"/>
<circle cx="971.5" cy="837.7" r="6.75"/>
<circle cx="893.3" cy="853.2" r="6.75"/>
<circle cx="916.6" cy="824.4" r="6.75"/>
<circle cx="906.5" cy="834.5" r="6.75"/>
<circle cx="952.0" cy="877.0" r="6.75"/>
<circle cx="1006.1" cy="800.5" r="6.75"/>
<circle cx="993.3" cy="847.1" r="6.75"/>
<circle cx="938.2" cy="860.5" r="6.75"/>
<circle cx="910.6" cy="896.2" r="6.75"/>
<circle cx="874.1" cy="894.9" r="6.75"/>
<circle cx="858.1" cy="900.6" r="6.75"/>
<circle cx="985.9" cy="832.9" r="6.75"/>
<circle cx="1001.7" cy="812.1" r="6.75"/>
<circle cx="828.1" cy="913.0" r="6.75"/>
<circle cx="946.8" cy="803.8" r="6.75"/>
<circle cx="988.3" cy="837.8" r="6.75"/>
<circle cx="871.2" cy="874.4" r="6.75"/>
<circle cx="989.0" cy="850.5" r="6.75"/>
<circle cx="956.8" cy="865.9" r="6.75"/>
<circle cx="939.2" cy="875.6" r="6.75"/>
<circle cx="941.0" cy="838.1" r="6.75"/>
<circle cx="910.5" cy="920.7" r="6.75"/>
<circle cx="1017.0" cy="826.9" r="6.75"/>
<circle cx="931.0" cy="897.9" r="6.75"/>
<circle cx="883.1" cy="842.8" r="6.75"/>
<circle cx="896.3" cy="800.5" r="6.75"/>
<circle cx="953.4" cy="860.9" r="6.75"/>
<circle cx="823.2" cy="813.4" r="6.75"/>
<circle cx="904.2" cy="883.9" r="6.75"/>
<circle cx="978.1" cy="848.1" r="6.75"/>
<circle cx="847.0" cy="921.6" r="6.75"/>
<circle cx="840.2" cy="890.5" r="6.75"/>
<circle cx="863.4" cy="920.4" r="6.75"/>
<circle cx="841.5" cy="903.9" r="6.75"/>
<circle cx="1002.8" cy="429.4" r="6.75"/>
<circle cx="953.8" cy="637.3" r="6.75"/>
<circle cx="978.7" cy="656.1" r="6.75"/>
<circle cx="785.9" cy="614.3" r="6.75"/>
<circle cx="533.6" cy="779.3" r="6.75"/>
<circle cx="502.9" cy="759.5" r="6.75"/>
<circle cx="531.5" cy="773.4" r="6.75"/>
<circle cx="501.5" cy="768.2" r="6.75"/>
<circle cx="631.9" cy="726.4" r="6.75"/>
<circle cx="588.8" cy="864.3" r="6.75"/>
<circle cx="600.2" cy="789.6" r="6.75"/>
<circle cx="624.2" cy="734.1" r="6.75"/>
<circle cx="560.8" cy="835.2" r="6.75"/>
<circle cx="638.7" cy="750.6" r="6.75"/>
<circle cx="810.3" cy="712.8" r="6.75"/>
<circle cx="788.7" cy="708.7" r="6.75"/>
<circle cx="577.0" cy="802.8" r="6.75"/>
<circle cx="668.8" cy="794.5" r="6.75"/>
<circle cx="818.9" cy="700.5" r="6.75"/>
<circle cx="601.3" cy="832.0" r="6.75"/>
<circle cx="709.3" cy="760.7" r="6.75"/>
<circle cx="792.8" cy="691.1" r="6.75"/>
<circle cx="541.1" cy="838.4" r="6.75"/>
<circle cx="631.9" cy="745.1" r="6.75"/>
<circle cx="687.0" cy="759.3" r="6.75"/>
<circle cx="629.3" cy="844.3" r="6.75"/>
<circle cx="791.0" cy="841.5" r="6.75"/>
<circle cx="692.4" cy="796.9" r="6.75"/>
<circle cx="695.1" cy="819.6" r="6.75"/>
<circle cx="595.0" cy="846.5" r="6.75"/>
<circle cx="695.8" cy="692.8" r="6.75"/>
<circle cx="739.5" cy="888.5" r="6.75"/>
<circle cx="680.6" cy="671.1" r="6.75"/>
<circle cx="686.5" cy="811.8" r="6.75"/>
<circle cx="800.0" cy="824.6" r="6.75"/>
<circle cx="582.1" cy="812.5" r="6.75"/>
<circle cx="546.0" cy="838.6" r="6.75"/>
<circle cx="675.9" cy="771.9" r="6.75"/>
<circle cx="796.8" cy="692.6" r="6.75"/>
<circle cx="608.4" cy="753.1" r="6.75"/>
<circle cx="737.7" cy="895.7" r="6.75"/>
<circle cx="708.8" cy="767.2" r="6.75"/>
<circle cx="766.1" cy="726.3" r="6.75"/>
<circle cx="726.4" cy="864.2" r="6.75"/>
<circle cx="671.0" cy="700.2" r="6.75"/>
<circle cx="554.4" cy="840.0" r="6.75"/>
<circle cx="608.6" cy="711.1" r="6.75"/>
<circle cx="664.6" cy="1015.9" r="6.75"/>
<circle cx="593.6" cy="965.4" r="6.75"/>
<circle cx="690.0" cy="957.5" r="6.75"/>
<circle cx="564.4" cy="1004.6" r="6.75"/>
<circle cx="576.6" cy="999.7" r="6.75"/>
<circle cx="588.7" cy="1021.6" r="6.75"/>
<circle cx="598.5" cy="1017.7" r="6.75"/>
<circle cx="531.6" cy="965.3" r="6.75"/>
<circle cx="619.1" cy="1052.2" r="6.75"/>
<circle cx="680.1" cy="1069.0" r="6.75"/>
<circle cx="702.5" cy="990.3" r="6.75"/>
<circle cx="741.9" cy="1028.3" r="6.75"/>
<circle cx="543.4" cy="1004.3" r="6.75"/>
<circle cx="622.7" cy="958.6" r="6.75"/>
<circle cx="639.2" cy="965.6" r="6.75"/>
<circle cx="554.4" cy="1010.4" r="6.75"/>
<circle cx="563.9" cy="1040.0" r="6.75"/>
<circle cx="628.7" cy="960.1" r="6.75"/>
<circle cx="638.9" cy="943.2" r="6.75"/>
<circle cx="563.0" cy="1028.5" r="6.75"/>
<circle cx="691.1" cy="1054.5" r="6.75"/>
<circle cx="625.9" cy="931.9" r="6.75"/>
<circle cx="671.6" cy="1027.1" r="6.75"/>
<circle cx="709.9" cy="1022.5" r="6.75"/>
<circle cx="652.7" cy="1070.2" r="6.75"/>
<circle cx="634.7" cy="1064.2" r="6.75"/>
<circle cx="615.6" cy="954.2" r="6.75"/>
<circle cx="651.9" cy="1013.4" r="6.75"/>
<circle cx="604.0" cy="1063.0" r="6.75"/>
<circle cx="599.5" cy="1034.4" r="6.75"/>
<circle cx="641.5" cy="1008.7" r="6.75"/>
<circle cx="531.4" cy="1028.8" r="6.75"/>
<circle cx="556.2" cy="1014.9" r="6.75"/>
<circle cx="709.3" cy="1050.1" r="6.75"/>
<circle cx="728.9" cy="1017.2" r="6.75"/>
<circle cx="707.0" cy="1039.1" r="6.75"/>
<circle cx="690.4" cy="995.4" r="6.75"/>
<circle cx="584.0" cy="1001.9" r="6.75"/>
<circle cx="603.2" cy="997.4" r="6.75"/>
<circle cx="557.0" cy="1020.4" r="6.75"/>
<circle cx="672.5" cy="999.5" r="6.75"/>
<circle cx="641.0" cy="1048.8" r="6.75"/>
<circle cx="612.1" cy="980.6" r="6.75"/>
<circle cx="663.8" cy="990.0" r="6.75"/>
<circle cx="642.3" cy="996.8" r="6.75"/>
<circle cx="655.9" cy="945.5" r="6.75"/>
<circle cx="619.0" cy="965.2" r="6.75"/>
<circle cx="657.9" cy="984.8" r="6.75"/>
<circle cx="585.9" cy="983.7" r="6.75"/>
<circle cx="653.1" cy="993.1" r="6.75"/>
<circle cx="685.6" cy="958.8" r="6.75"/>
<circle cx="676.1" cy="1054.4" r="6.75"/>
<circle cx="597.5" cy="972.8" r="6.75"/>
<circle cx="570.0" cy="1037.7" r="6.75"/>
<circle cx="602.0" cy="984.6" r="6.75"/>
<circle cx="615.6" cy="931.3" r="6.75"/>
<circle cx="711.3" cy="1000.1" r="6.75"/>
<circle cx="547.8" cy="1023.7" r="6.75"/>
<circle cx="586.4" cy="900.1" r="6.75"/>
<circle cx="659.1" cy="1012.4" r="6.75"/>
<circle cx="550.0" cy="968.9" r="6.75"/>
<circle cx="634.7" cy="1022.2" r="6.75"/>
<circle cx="564.7" cy="977.1" r="6.75"/>
<circle cx="561.4" cy="973.9" r="6.75"/>
<circle cx="584.8" cy="955.3" r="6.75"/>
<circle cx="559.6" cy="1040.4" r="6.75"/>
<circle cx="666.5" cy="1070.5" r="6.75"/>
<circle cx="575.4" cy="976.4" r="6.75"/>
<circle cx="603.5" cy="1029.5" r="6.75"/>
<circle cx="571.3" cy="1015.3" r="6.75"/>
<circle cx="605.3" cy="1002.8" r="6.75"/>
<circle cx="688.8" cy="968.7" r="6.75"/>
<circle cx="604.6" cy="955.0" r="6.75"/>
<circle cx="727.3" cy="1036.4" r="6.75"/>
<circle cx="555.0" cy="980.4" r="6.75"/>
<circle cx="584.1" cy="934.3" r="6.75"/>
<circle cx="645.4" cy="1011.6" r="6.75"/>
<circle cx="627.0" cy="1032.1" r="6.75"/>
<circle cx="683.2" cy="1063.0" r="6.75"/>
<circle cx="712.4" cy="1037.3" r="6.75"/>
<circle cx="652.5" cy="920.6" r="6.75"/>
<circle cx="726.5" cy="1007.0" r="6.75"/>
<circle cx="595.4" cy="929.4" r="6.75"/>
<circle cx="626.7" cy="963.9" r="6.75"/>
<circle cx="539.1" cy="1010.1" r="6.75"/>
<circle cx="631.0" cy="925.6" r="6.75"/>
<circle cx="694.0" cy="1061.9" r="6.75"/>
<circle cx="699.5" cy="1029.3" r="6.75"/>
<circle cx="673.4" cy="941.2" r="6.75"/>
<circle cx="702.6" cy="1048.7" r="6.75"/>
<circle cx="578.3" cy="1019.7" r="6.75"/>
<circle cx="656.5" cy="1001.8" r="6.75"/>
<circle cx="572.1" cy="1050.0" r="6.75"/>
<circle cx="703.6" cy="1028.9" r="6.75"/>
<circle cx="668.8" cy="1020.5" r="6.75"/>
<circle cx="786.4" cy="913.5" r="6.75"/>
<circle cx="951.2" cy="276.2" r="6.75"/>
<circle cx="961.2" cy="275.0" r="6.75"/>
<circle cx="1032.5" cy="266.2" r="6.75"/>
<circle cx="1006.2" cy="276.2" r="6.75"/>
<circle cx="1035.0" cy="280.0" r="6.75"/>
<circle cx="557.5" cy="703.2" r="6.75"/>
<circle cx="505.0" cy="692.5" r="6.75"/>
<circle cx="510.0" cy="702.5" r="6.75"/>
<circle cx="511.2" cy="707.5" r="6.75"/>
<circle cx="907.5" cy="768.8" r="6.75"/>
<circle cx="905.0" cy="778.8" r="6.75"/>
<circle cx="986.2" cy="764.2" r="6.75"/>
<circle cx="466.2" cy="812.0" r="6.75"/>
<circle cx="416.2" cy="850.0" r="6.75"/>
<circle cx="427.5" cy="848.8" r="6.75"/>
<circle cx="432.5" cy="860.0" r="6.75"/>
<circle cx="433.2" cy="870.0" r="6.75"/>
<circle cx="413.8" cy="862.5" r="6.75"/>
<circle cx="476.2" cy="925.8" r="6.75"/>
<circle cx="490.0" cy="951.8" r="6.75"/>
<circle cx="498.8" cy="985.0" r="6.75"/>
<circle cx="493.8" cy="992.5" r="6.75"/>
<circle cx="827.5" cy="501.2" r="6.75"/>
<circle cx="856.2" cy="558.8" r="6.75"/>
<circle cx="862.5" cy="566.2" r="6.75"/>
<circle cx="848.8" cy="568.8" r="6.75"/>
</g>
<g fill="#f3f6f8">
<circle cx="365.6" cy="382.3" r="6.75"/>
<circle cx="369.4" cy="439.8" r="6.75"/>
<circle cx="343.9" cy="462.0" r="6.75"/>
<circle cx="471.5" cy="321.1" r="6.75"/>
<circle cx="603.3" cy="445.1" r="6.75"/>
<circle cx="557.3" cy="446.3" r="6.75"/>
<circle cx="374.8" cy="574.5" r="6.75"/>
<circle cx="342.9" cy="548.2" r="6.75"/>
<circle cx="341.8" cy="570.7" r="6.75"/>
<circle cx="359.8" cy="538.8" r="6.75"/>
<circle cx="324.9" cy="556.8" r="6.75"/>
<circle cx="325.7" cy="484.0" r="6.75"/>
<circle cx="333.2" cy="558.3" r="6.75"/>
<circle cx="396.4" cy="785.1" r="6.75"/>
<circle cx="369.3" cy="745.8" r="6.75"/>
<circle cx="385.0" cy="748.3" r="6.75"/>
<circle cx="387.2" cy="758.3" r="6.75"/>
<circle cx="368.2" cy="720.6" r="6.75"/>
<circle cx="419.9" cy="794.4" r="6.75"/>
<circle cx="353.5" cy="767.2" r="6.75"/>
<circle cx="367.3" cy="727.2" r="6.75"/>
<circle cx="399.0" cy="754.7" r="6.75"/>
<circle cx="342.5" cy="794.1" r="6.75"/>
<circle cx="349.1" cy="752.5" r="6.75"/>
<circle cx="488.3" cy="751.8" r="6.75"/>
<circle cx="452.2" cy="758.0" r="6.75"/>
<circle cx="476.8" cy="730.8" r="6.75"/>
<circle cx="480.0" cy="764.5" r="6.75"/>
<circle cx="596.5" cy="541.9" r="6.75"/>
<circle cx="527.5" cy="540.8" r="6.75"/>
<circle cx="586.7" cy="504.3" r="6.75"/>
<circle cx="507.0" cy="489.8" r="6.75"/>
<circle cx="589.1" cy="517.3" r="6.75"/>
<circle cx="609.2" cy="537.2" r="6.75"/>
<circle cx="545.7" cy="539.0" r="6.75"/>
<circle cx="722.9" cy="625.0" r="6.75"/>
<circle cx="999.6" cy="784.6" r="6.75"/>
<circle cx="362.4" cy="828.5" r="6.75"/>
<circle cx="362.9" cy="817.4" r="6.75"/>
<circle cx="353.7" cy="824.2" r="6.75"/>
<circle cx="404.9" cy="843.8" r="6.75"/>
<circle cx="385.9" cy="801.0" r="6.75"/>
<circle cx="356.6" cy="820.4" r="6.75"/>
<circle cx="417.1" cy="819.0" r="6.75"/>
<circle cx="386.5" cy="839.2" r="6.75"/>
<circle cx="904.1" cy="898.6" r="6.75"/>
<circle cx="902.7" cy="875.1" r="6.75"/>
<circle cx="913.5" cy="843.9" r="6.75"/>
<circle cx="965.0" cy="808.0" r="6.75"/>
<circle cx="972.2" cy="828.7" r="6.75"/>
<circle cx="966.2" cy="870.6" r="6.75"/>
<circle cx="944.2" cy="885.9" r="6.75"/>
<circle cx="1020.4" cy="814.7" r="6.75"/>
<circle cx="1006.4" cy="814.2" r="6.75"/>
<circle cx="849.2" cy="906.0" r="6.75"/>
<circle cx="994.2" cy="839.5" r="6.75"/>
<circle cx="958.6" cy="820.3" r="6.75"/>
<circle cx="945.7" cy="832.4" r="6.75"/>
<circle cx="936.2" cy="841.6" r="6.75"/>
<circle cx="909.7" cy="816.7" r="6.75"/>
<circle cx="866.9" cy="887.5" r="6.75"/>
<circle cx="918.4" cy="907.8" r="6.75"/>
<circle cx="888.7" cy="850.7" r="6.75"/>
<circle cx="881.4" cy="857.4" r="6.75"/>
<circle cx="948.9" cy="813.1" r="6.75"/>
<circle cx="902.7" cy="842.3" r="6.75"/>
<circle cx="895.8" cy="805.3" r="6.75"/>
<circle cx="925.2" cy="905.3" r="6.75"/>
<circle cx="886.3" cy="871.9" r="6.75"/>
<circle cx="928.2" cy="876.9" r="6.75"/>
<circle cx="965.0" cy="878.0" r="6.75"/>
<circle cx="928.4" cy="843.8" r="6.75"/>
<circle cx="977.1" cy="836.3" r="6.75"/>
<circle cx="959.4" cy="881.0" r="6.75"/>
<circle cx="889.9" cy="820.9" r="6.75"/>
<circle cx="900.6" cy="828.6" r="6.75"/>
<circle cx="918.4" cy="892.5" r="6.75"/>
<circle cx="980.0" cy="861.9" r="6.75"/>
<circle cx="951.0" cy="867.4" r="6.75"/>
<circle cx="945.2" cy="843.6" r="6.75"/>
<circle cx="957.8" cy="808.9" r="6.75"/>
<circle cx="948.7" cy="873.5" r="6.75"/>
<circle cx="880.8" cy="870.6" r="6.75"/>
<circle cx="955.7" cy="871.6" r="6.75"/>
<circle cx="852.8" cy="873.1" r="6.75"/>
<circle cx="924.3" cy="880.5" r="6.75"/>
<circle cx="979.4" cy="871.6" r="6.75"/>
<circle cx="909.6" cy="849.6" r="6.75"/>
<circle cx="904.2" cy="804.2" r="6.75"/>
<circle cx="982.2" cy="429.6" r="6.75"/>
<circle cx="972.3" cy="674.7" r="6.75"/>
<circle cx="970.6" cy="679.5" r="6.75"/>
<circle cx="968.1" cy="640.7" r="6.75"/>
<circle cx="524.7" cy="774.3" r="6.75"/>
<circle cx="502.7" cy="701.7" r="6.75"/>
<circle cx="504.8" cy="780.9" r="6.75"/>
<circle cx="567.3" cy="814.0" r="6.75"/>
<circle cx="578.0" cy="830.1" r="6.75"/>
<circle cx="723.9" cy="767.0" r="6.75"/>
<circle cx="777.5" cy="858.1" r="6.75"/>
<circle cx="535.4" cy="847.8" r="6.75"/>
<circle cx="735.0" cy="731.5" r="6.75"/>
<circle cx="716.8" cy="781.6" r="6.75"/>
<circle cx="735.1" cy="851.3" r="6.75"/>
<circle cx="626.6" cy="738.9" r="6.75"/>
<circle cx="691.9" cy="751.4" r="6.75"/>
<circle cx="559.9" cy="824.3" r="6.75"/>
<circle cx="762.1" cy="646.0" r="6.75"/>
<circle cx="651.8" cy="704.8" r="6.75"/>
<circle cx="696.9" cy="761.1" r="6.75"/>
<circle cx="601.1" cy="1059.3" r="6.75"/>
<circle cx="732.2" cy="1032.0" r="6.75"/>
<circle cx="616.1" cy="1001.4" r="6.75"/>
<circle cx="640.3" cy="1012.6" r="6.75"/>
<circle cx="701.2" cy="1035.0" r="6.75"/>
<circle cx="583.1" cy="1075.0" r="6.75"/>
<circle cx="558.4" cy="1052.1" r="6.75"/>
<circle cx="714.8" cy="1025.5" r="6.75"/>
<circle cx="632.8" cy="1045.2" r="6.75"/>
<circle cx="654.6" cy="997.6" r="6.75"/>
<circle cx="712.0" cy="1060.9" r="6.75"/>
<circle cx="652.3" cy="1035.4" r="6.75"/>
<circle cx="626.1" cy="1000.7" r="6.75"/>
<circle cx="665.8" cy="965.9" r="6.75"/>
<circle cx="654.2" cy="1040.7" r="6.75"/>
<circle cx="602.5" cy="941.2" r="6.75"/>
<circle cx="620.9" cy="1041.9" r="6.75"/>
<circle cx="688.1" cy="953.9" r="6.75"/>
<circle cx="564.2" cy="959.2" r="6.75"/>
<circle cx="691.1" cy="1027.9" r="6.75"/>
<circle cx="631.7" cy="1034.2" r="6.75"/>
<circle cx="609.6" cy="977.0" r="6.75"/>
<circle cx="588.4" cy="1008.6" r="6.75"/>
<circle cx="700.4" cy="1000.7" r="6.75"/>
<circle cx="750.0" cy="1023.4" r="6.75"/>
<circle cx="569.0" cy="1028.1" r="6.75"/>
<circle cx="632.3" cy="986.3" r="6.75"/>
<circle cx="689.2" cy="1067.6" r="6.75"/>
<circle cx="669.8" cy="1051.4" r="6.75"/>
<circle cx="547.5" cy="998.8" r="6.75"/>
<circle cx="605.1" cy="1011.3" r="6.75"/>
<circle cx="656.2" cy="953.5" r="6.75"/>
<circle cx="629.5" cy="1066.7" r="6.75"/>
<circle cx="693.9" cy="1035.1" r="6.75"/>
<circle cx="657.2" cy="1035.7" r="6.75"/>
<circle cx="648.6" cy="945.5" r="6.75"/>
<circle cx="594.6" cy="989.5" r="6.75"/>
<circle cx="655.3" cy="960.6" r="6.75"/>
<circle cx="548.7" cy="1010.1" r="6.75"/>
<circle cx="600.3" cy="1011.8" r="6.75"/>
<circle cx="705.7" cy="1058.3" r="6.75"/>
<circle cx="605.7" cy="990.5" r="6.75"/>
<circle cx="524.5" cy="1021.9" r="6.75"/>
<circle cx="610.5" cy="988.5" r="6.75"/>
<circle cx="580.6" cy="1048.8" r="6.75"/>
<circle cx="631.3" cy="978.9" r="6.75"/>
<circle cx="644.4" cy="1016.4" r="6.75"/>
<circle cx="579.6" cy="992.7" r="6.75"/>
<circle cx="618.1" cy="1028.2" r="6.75"/>
<circle cx="616.2" cy="982.9" r="6.75"/>
<circle cx="654.9" cy="989.4" r="6.75"/>
<circle cx="553.9" cy="1032.7" r="6.75"/>
<circle cx="703.5" cy="1020.1" r="6.75"/>
<circle cx="548.6" cy="1029.3" r="6.75"/>
<circle cx="638.8" cy="1041.8" r="6.75"/>
<circle cx="668.2" cy="1008.2" r="6.75"/>
<circle cx="668.9" cy="1076.4" r="6.75"/>
<circle cx="655.9" cy="1015.4" r="6.75"/>
<circle cx="672.6" cy="1061.7" r="6.75"/>
<circle cx="602.0" cy="1073.9" r="6.75"/>
<circle cx="680.6" cy="1026.5" r="6.75"/>
<circle cx="587.0" cy="1078.3" r="6.75"/>
<circle cx="634.7" cy="923.7" r="6.75"/>
<circle cx="634.6" cy="1012.0" r="6.75"/>
<circle cx="689.0" cy="1062.7" r="6.75"/>
<circle cx="679.3" cy="1009.5" r="6.75"/>
<circle cx="601.3" cy="1042.4" r="6.75"/>
<circle cx="663.6" cy="1057.1" r="6.75"/>
<circle cx="663.4" cy="910.0" r="6.75"/>
<circle cx="613.5" cy="889.5" r="6.75"/>
<circle cx="630.8" cy="876.1" r="6.75"/>
<circle cx="655.3" cy="1007.4" r="6.75"/>
<circle cx="572.5" cy="352.5" r="6.75"/>
<circle cx="585.0" cy="352.5" r="6.75"/>
<circle cx="740.0" cy="377.5" r="6.75"/>
<circle cx="695.0" cy="372.5" r="6.75"/>
<circle cx="708.8" cy="380.0" r="6.75"/>
<circle cx="700.0" cy="391.2" r="6.75"/>
<circle cx="587.5" cy="416.2" r="6.75"/>
<circle cx="575.0" cy="446.2" r="6.75"/>
<circle cx="595.0" cy="460.0" r="6.75"/>
<circle cx="580.0" cy="462.5" r="6.75"/>
<circle cx="610.0" cy="470.0" r="6.75"/>
<circle cx="698.8" cy="467.5" r="6.75"/>
<circle cx="736.2" cy="447.5" r="6.75"/>
<circle cx="1003.8" cy="287.5" r="6.75"/>
<circle cx="1032.5" cy="290.0" r="6.75"/>
<circle cx="1002.5" cy="302.5" r="6.75"/>
<circle cx="712.5" cy="512.5" r="6.75"/>
<circle cx="710.0" cy="483.8" r="6.75"/>
<circle cx="915.0" cy="754.2" r="6.75"/>
<circle cx="495.0" cy="936.2" r="6.75"/>
<circle cx="695.0" cy="916.2" r="6.75"/>
<circle cx="708.8" cy="917.5" r="6.75"/>
<circle cx="702.5" cy="930.0" r="6.75"/>
<circle cx="697.5" cy="910.0" r="6.75"/>
<circle cx="584.2" cy="1082.5" r="6.75"/>
<circle cx="597.5" cy="1072.5" r="6.75"/>
<circle cx="532.5" cy="1033.8" r="6.75"/>
<circle cx="788.8" cy="465.0" r="6.75"/>
<circle cx="796.2" cy="463.8" r="6.75"/>
<circle cx="780.6" cy="754.5" r="6.75"/>
<circle cx="693.8" cy="915.6" r="6.75"/>
<circle cx="708.8" cy="919.4" r="6.75"/>
<circle cx="701.2" cy="928.8" r="6.75"/>
</g>
<g fill="#f9f9f9">
<circle cx="348.0" cy="458.4" r="6.75"/>
<circle cx="465.0" cy="384.5" r="6.75"/>
<circle cx="364.5" cy="453.5" r="6.75"/>
<circle cx="334.9" cy="542.5" r="6.75"/>
<circle cx="377.4" cy="493.7" r="6.75"/>
<circle cx="351.5" cy="578.6" r="6.75"/>
<circle cx="420.2" cy="789.0" r="6.75"/>
<circle cx="357.1" cy="750.4" r="6.75"/>
<circle cx="400.9" cy="790.4" r="6.75"/>
<circle cx="374.1" cy="729.3" r="6.75"/>
<circle cx="395.1" cy="766.7" r="6.75"/>
<circle cx="401.1" cy="785.9" r="6.75"/>
<circle cx="384.3" cy="789.5" r="6.75"/>
<circle cx="373.5" cy="766.1" r="6.75"/>
<circle cx="382.5" cy="761.4" r="6.75"/>
<circle cx="378.3" cy="732.6" r="6.75"/>
<circle cx="359.6" cy="754.4" r="6.75"/>
<circle cx="380.7" cy="728.1" r="6.75"/>
<circle cx="467.7" cy="740.2" r="6.75"/>
<circle cx="496.5" cy="742.2" r="6.75"/>
<circle cx="603.0" cy="545.4" r="6.75"/>
<circle cx="607.0" cy="500.5" r="6.75"/>
<circle cx="601.2" cy="527.2" r="6.75"/>
<circle cx="626.3" cy="516.4" r="6.75"/>
<circle cx="584.2" cy="534.2" r="6.75"/>
<circle cx="611.8" cy="519.1" r="6.75"/>
<circle cx="744.7" cy="533.9" r="6.75"/>
<circle cx="770.9" cy="544.3" r="6.75"/>
<circle cx="738.8" cy="636.9" r="6.75"/>
<circle cx="748.0" cy="627.8" r="6.75"/>
<circle cx="995.6" cy="792.6" r="6.75"/>
<circle cx="1004.5" cy="792.8" r="6.75"/>
<circle cx="913.4" cy="799.5" r="6.75"/>
<circle cx="1015.8" cy="792.4" r="6.75"/>
<circle cx="332.7" cy="810.6" r="6.75"/>
<circle cx="387.3" cy="811.4" r="6.75"/>
<circle cx="373.1" cy="841.3" r="6.75"/>
<circle cx="350.3" cy="828.7" r="6.75"/>
<circle cx="412.2" cy="826.6" r="6.75"/>
<circle cx="343.4" cy="807.9" r="6.75"/>
<circle cx="377.2" cy="828.7" r="6.75"/>
<circle cx="415.2" cy="809.3" r="6.75"/>
<circle cx="413.1" cy="836.8" r="6.75"/>
<circle cx="985.0" cy="800.5" r="6.75"/>
<circle cx="998.2" cy="833.3" r="6.75"/>
<circle cx="962.0" cy="839.5" r="6.75"/>
<circle cx="911.4" cy="828.5" r="6.75"/>
<circle cx="913.3" cy="892.2" r="6.75"/>
<circle cx="1001.4" cy="827.3" r="6.75"/>
<circle cx="910.7" cy="887.9" r="6.75"/>
<circle cx="952.4" cy="854.9" r="6.75"/>
<circle cx="914.3" cy="837.9" r="6.75"/>
<circle cx="909.1" cy="859.4" r="6.75"/>
<circle cx="957.9" cy="826.0" r="6.75"/>
<circle cx="945.5" cy="821.2" r="6.75"/>
<circle cx="978.3" cy="824.2" r="6.75"/>
<circle cx="955.6" cy="851.2" r="6.75"/>
<circle cx="880.7" cy="878.2" r="6.75"/>
<circle cx="973.2" cy="877.4" r="6.75"/>
<circle cx="915.6" cy="872.5" r="6.75"/>
<circle cx="950.1" cy="895.7" r="6.75"/>
<circle cx="851.6" cy="891.9" r="6.75"/>
<circle cx="904.1" cy="871.3" r="6.75"/>
<circle cx="1003.6" cy="832.5" r="6.75"/>
<circle cx="916.2" cy="829.3" r="6.75"/>
<circle cx="938.0" cy="644.1" r="6.75"/>
<circle cx="898.4" cy="619.8" r="6.75"/>
<circle cx="939.7" cy="670.5" r="6.75"/>
<circle cx="963.0" cy="650.7" r="6.75"/>
<circle cx="961.9" cy="665.6" r="6.75"/>
<circle cx="791.1" cy="613.1" r="6.75"/>
<circle cx="796.0" cy="625.8" r="6.75"/>
<circle cx="822.1" cy="626.3" r="6.75"/>
<circle cx="812.9" cy="614.7" r="6.75"/>
<circle cx="507.2" cy="753.6" r="6.75"/>
<circle cx="644.4" cy="796.8" r="6.75"/>
<circle cx="600.8" cy="836.7" r="6.75"/>
<circle cx="680.5" cy="776.1" r="6.75"/>
<circle cx="579.1" cy="859.5" r="6.75"/>
<circle cx="633.9" cy="717.2" r="6.75"/>
<circle cx="554.3" cy="861.0" r="6.75"/>
<circle cx="607.7" cy="793.5" r="6.75"/>
<circle cx="597.3" cy="1060.6" r="6.75"/>
<circle cx="574.6" cy="1025.5" r="6.75"/>
<circle cx="685.7" cy="1059.2" r="6.75"/>
<circle cx="631.3" cy="1008.5" r="6.75"/>
<circle cx="688.8" cy="963.0" r="6.75"/>
<circle cx="613.2" cy="994.5" r="6.75"/>
<circle cx="698.2" cy="1052.0" r="6.75"/>
<circle cx="576.5" cy="1047.6" r="6.75"/>
<circle cx="642.2" cy="956.4" r="6.75"/>
<circle cx="570.0" cy="1066.7" r="6.75"/>
<circle cx="664.6" cy="957.2" r="6.75"/>
<circle cx="636.8" cy="931.5" r="6.75"/>
<circle cx="599.6" cy="1025.9" r="6.75"/>
<circle cx="566.6" cy="1034.1" r="6.75"/>
<circle cx="631.3" cy="1049.7" r="6.75"/>
<circle cx="634.3" cy="951.0" r="6.75"/>
<circle cx="578.7" cy="1024.4" r="6.75"/>
<circle cx="634.5" cy="974.1" r="6.75"/>
<circle cx="551.7" cy="1043.4" r="6.75"/>
<circle cx="623.7" cy="1047.0" r="6.75"/>
<circle cx="581.8" cy="1030.2" r="6.75"/>
<circle cx="592.7" cy="1019.3" r="6.75"/>
<circle cx="644.1" cy="986.3" r="6.75"/>
<circle cx="648.7" cy="940.2" r="6.75"/>
<circle cx="601.3" cy="967.4" r="6.75"/>
<circle cx="625.2" cy="1024.9" r="6.75"/>
<circle cx="640.5" cy="1002.9" r="6.75"/>
<circle cx="657.8" cy="1047.4" r="6.75"/>
<circle cx="694.3" cy="961.1" r="6.75"/>
<circle cx="627.2" cy="1061.1" r="6.75"/>
<circle cx="712.8" cy="1007.8" r="6.75"/>
<circle cx="631.2" cy="991.2" r="6.75"/>
<circle cx="604.0" cy="1053.6" r="6.75"/>
<circle cx="638.5" cy="927.4" r="6.75"/>
<circle cx="654.7" cy="1028.8" r="6.75"/>
<circle cx="563.7" cy="1063.3" r="6.75"/>
<circle cx="613.8" cy="1009.0" r="6.75"/>
<circle cx="594.7" cy="1023.2" r="6.75"/>
<circle cx="620.8" cy="999.6" r="6.75"/>
<circle cx="684.1" cy="1067.5" r="6.75"/>
<circle cx="583.7" cy="1044.6" r="6.75"/>
<circle cx="670.9" cy="1056.2" r="6.75"/>
<circle cx="701.9" cy="1062.9" r="6.75"/>
<circle cx="611.9" cy="1059.5" r="6.75"/>
<circle cx="673.7" cy="994.8" r="6.75"/>
<circle cx="648.4" cy="980.9" r="6.75"/>
<circle cx="686.2" cy="993.4" r="6.75"/>
<circle cx="667.1" cy="1002.5" r="6.75"/>
<circle cx="302.5" cy="483.8" r="6.75"/>
<circle cx="346.2" cy="508.8" r="6.75"/>
<circle cx="360.0" cy="539.2" r="6.75"/>
<circle cx="376.2" cy="573.2" r="6.75"/>
<circle cx="550.0" cy="541.2" r="6.75"/>
<circle cx="578.8" cy="540.8" r="6.75"/>
<circle cx="615.0" cy="537.5" r="6.75"/>
<circle cx="631.2" cy="520.0" r="6.75"/>
<circle cx="592.5" cy="492.5" r="6.75"/>
<circle cx="693.0" cy="581.2" r="6.75"/>
<circle cx="434.5" cy="849.2" r="6.75"/>
<circle cx="486.8" cy="905.8" r="6.75"/>
<circle cx="762.5" cy="848.0" r="6.75"/>
<circle cx="917.5" cy="852.7" r="6.75"/>
<circle cx="882.5" cy="838.8" r="6.75"/>
<circle cx="900.0" cy="840.0" r="6.75"/>
<circle cx="865.0" cy="860.0" r="6.75"/>
<circle cx="838.8" cy="887.5" r="6.75"/>
<circle cx="845.0" cy="898.8" r="6.75"/>
<circle cx="876.2" cy="899.2" r="6.75"/>
<circle cx="862.5" cy="909.2" r="6.75"/>
<circle cx="825.0" cy="917.5" r="6.75"/>
<circle cx="1004.5" cy="844.5" r="6.75"/>
<circle cx="872.5" cy="557.5" r="6.75"/>
<circle cx="902.5" cy="587.5" r="6.75"/>
<circle cx="860.0" cy="608.8" r="6.75"/>
<circle cx="786.4" cy="868.2" r="6.75"/>
<circle cx="743.3" cy="850.1" r="6.75"/>
</g>
<g fill="#faf4f1">
<circle cx="342.2" cy="518.4" r="6.75"/>
<circle cx="360.9" cy="728.0" r="6.75"/>
<circle cx="356.1" cy="737.8" r="6.75"/>
<circle cx="373.3" cy="760.5" r="6.75"/>
<circle cx="393.8" cy="711.5" r="6.75"/>
<circle cx="390.3" cy="797.4" r="6.75"/>
<circle cx="385.2" cy="716.8" r="6.75"/>
<circle cx="380.1" cy="797.2" r="6.75"/>
<circle cx="355.6" cy="756.6" r="6.75"/>
<circle cx="384.1" cy="733.4" r="6.75"/>
<circle cx="377.1" cy="720.4" r="6.75"/>
<circle cx="388.0" cy="730.7" r="6.75"/>
<circle cx="345.8" cy="758.8" r="6.75"/>
<circle cx="437.2" cy="788.5" r="6.75"/>
<circle cx="371.7" cy="798.5" r="6.75"/>
<circle cx="572.7" cy="536.7" r="6.75"/>
<circle cx="609.7" cy="527.1" r="6.75"/>
<circle cx="747.1" cy="481.7" r="6.75"/>
<circle cx="766.9" cy="548.6" r="6.75"/>
<circle cx="739.5" cy="490.3" r="6.75"/>
<circle cx="755.5" cy="553.6" r="6.75"/>
<circle cx="712.6" cy="632.8" r="6.75"/>
<circle cx="731.4" cy="631.9" r="6.75"/>
<circle cx="337.2" cy="800.6" r="6.75"/>
<circle cx="355.8" cy="803.9" r="6.75"/>
<circle cx="340.6" cy="804.1" r="6.75"/>
<circle cx="380.6" cy="813.2" r="6.75"/>
<circle cx="370.5" cy="818.4" r="6.75"/>
<circle cx="339.3" cy="815.2" r="6.75"/>
<circle cx="351.8" cy="807.7" r="6.75"/>
<circle cx="332.4" cy="800.5" r="6.75"/>
<circle cx="357.7" cy="808.8" r="6.75"/>
<circle cx="403.1" cy="827.7" r="6.75"/>
<circle cx="345.2" cy="820.1" r="6.75"/>
<circle cx="337.3" cy="821.0" r="6.75"/>
<circle cx="981.1" cy="830.9" r="6.75"/>
<circle cx="962.6" cy="865.6" r="6.75"/>
<circle cx="930.4" cy="858.8" r="6.75"/>
<circle cx="914.3" cy="878.8" r="6.75"/>
<circle cx="869.0" cy="862.1" r="6.75"/>
<circle cx="982.0" cy="865.9" r="6.75"/>
<circle cx="973.4" cy="860.4" r="6.75"/>
<circle cx="941.9" cy="881.8" r="6.75"/>
<circle cx="890.5" cy="613.0" r="6.75"/>
<circle cx="934.3" cy="646.4" r="6.75"/>
<circle cx="943.4" cy="640.2" r="6.75"/>
<circle cx="888.2" cy="609.3" r="6.75"/>
<circle cx="924.8" cy="654.1" r="6.75"/>
<circle cx="901.1" cy="624.4" r="6.75"/>
<circle cx="943.3" cy="675.7" r="6.75"/>
<circle cx="865.7" cy="615.2" r="6.75"/>
<circle cx="831.3" cy="610.8" r="6.75"/>
<circle cx="793.6" cy="633.3" r="6.75"/>
<circle cx="788.1" cy="631.2" r="6.75"/>
<circle cx="783.5" cy="622.5" r="6.75"/>
<circle cx="588.7" cy="787.3" r="6.75"/>
<circle cx="736.3" cy="885.2" r="6.75"/>
<circle cx="536.3" cy="837.0" r="6.75"/>
<circle cx="608.6" cy="820.8" r="6.75"/>
<circle cx="706.0" cy="683.9" r="6.75"/>
<circle cx="655.7" cy="965.2" r="6.75"/>
<circle cx="608.3" cy="995.1" r="6.75"/>
<circle cx="639.2" cy="1074.6" r="6.75"/>
<circle cx="548.0" cy="1040.7" r="6.75"/>
<circle cx="641.3" cy="969.6" r="6.75"/>
<circle cx="623.3" cy="1054.6" r="6.75"/>
<circle cx="698.9" cy="1044.3" r="6.75"/>
<circle cx="713.9" cy="1045.7" r="6.75"/>
<circle cx="558.9" cy="881.6" r="6.75"/>
<circle cx="664.1" cy="947.0" r="6.75"/>
<circle cx="597.3" cy="992.5" r="6.75"/>
<circle cx="571.5" cy="994.7" r="6.75"/>
<circle cx="662.7" cy="1043.4" r="6.75"/>
<circle cx="639.0" cy="1021.9" r="6.75"/>
<circle cx="583.5" cy="995.6" r="6.75"/>
<circle cx="622.7" cy="1036.9" r="6.75"/>
<circle cx="597.9" cy="1045.8" r="6.75"/>
<circle cx="665.2" cy="1039.4" r="6.75"/>
<circle cx="646.8" cy="1050.4" r="6.75"/>
<circle cx="524.8" cy="1030.8" r="6.75"/>
<circle cx="672.9" cy="1004.3" r="6.75"/>
<circle cx="618.0" cy="950.6" r="6.75"/>
<circle cx="578.0" cy="1061.3" r="6.75"/>
<circle cx="631.4" cy="948.2" r="6.75"/>
<circle cx="639.4" cy="909.4" r="6.75"/>
<circle cx="695.4" cy="1043.7" r="6.75"/>
<circle cx="727.9" cy="1048.7" r="6.75"/>
<circle cx="755.3" cy="1020.8" r="6.75"/>
<circle cx="988.8" cy="266.2" r="6.75"/>
<circle cx="1005.0" cy="267.5" r="6.75"/>
<circle cx="1017.5" cy="268.8" r="6.75"/>
<circle cx="1023.8" cy="271.2" r="6.75"/>
<circle cx="316.2" cy="513.8" r="6.75"/>
<circle cx="340.0" cy="513.8" r="6.75"/>
<circle cx="321.2" cy="542.5" r="6.75"/>
<circle cx="736.2" cy="517.5" r="6.75"/>
<circle cx="478.2" cy="895.0" r="6.75"/>
<circle cx="815.0" cy="493.8" r="6.75"/>
<circle cx="911.2" cy="603.8" r="6.75"/>
<circle cx="576.5" cy="862.6" r="6.75"/>
<circle cx="776.3" cy="752.6" r="6.75"/>
<circle cx="760.6" cy="841.2" r="6.75"/>
<circle cx="730.7" cy="734.7" r="6.75"/>
</g>
<g fill="#fcf0e9">
<circle cx="394.7" cy="760.9" r="6.75"/>
<circle cx="355.1" cy="746.0" r="6.75"/>
<circle cx="348.5" cy="742.2" r="6.75"/>
<circle cx="368.4" cy="751.7" r="6.75"/>
<circle cx="372.9" cy="737.6" r="6.75"/>
<circle cx="378.5" cy="759.3" r="6.75"/>
<circle cx="378.1" cy="725.0" r="6.75"/>
<circle cx="383.2" cy="722.3" r="6.75"/>
<circle cx="343.1" cy="787.0" r="6.75"/>
<circle cx="357.1" cy="769.7" r="6.75"/>
<circle cx="352.6" cy="762.0" r="6.75"/>
<circle cx="399.2" cy="799.5" r="6.75"/>
<circle cx="391.5" cy="720.1" r="6.75"/>
<circle cx="383.6" cy="794.0" r="6.75"/>
<circle cx="397.4" cy="719.9" r="6.75"/>
<circle cx="383.1" cy="743.7" r="6.75"/>
<circle cx="764.7" cy="509.7" r="6.75"/>
<circle cx="740.5" cy="496.8" r="6.75"/>
<circle cx="766.7" cy="501.6" r="6.75"/>
<circle cx="765.0" cy="486.7" r="6.75"/>
<circle cx="716.1" cy="638.0" r="6.75"/>
<circle cx="772.7" cy="628.7" r="6.75"/>
<circle cx="373.4" cy="826.9" r="6.75"/>
<circle cx="346.6" cy="814.7" r="6.75"/>
<circle cx="377.7" cy="820.8" r="6.75"/>
<circle cx="392.2" cy="833.8" r="6.75"/>
<circle cx="411.0" cy="841.7" r="6.75"/>
<circle cx="409.6" cy="833.7" r="6.75"/>
<circle cx="370.0" cy="837.0" r="6.75"/>
<circle cx="411.1" cy="810.7" r="6.75"/>
<circle cx="403.3" cy="809.1" r="6.75"/>
<circle cx="369.9" cy="807.2" r="6.75"/>
<circle cx="408.7" cy="803.9" r="6.75"/>
<circle cx="961.6" cy="845.7" r="6.75"/>
<circle cx="930.7" cy="873.6" r="6.75"/>
<circle cx="961.6" cy="871.1" r="6.75"/>
<circle cx="932.2" cy="840.8" r="6.75"/>
<circle cx="885.7" cy="818.1" r="6.75"/>
<circle cx="886.9" cy="864.3" r="6.75"/>
<circle cx="974.8" cy="669.6" r="6.75"/>
<circle cx="964.7" cy="676.3" r="6.75"/>
<circle cx="890.1" cy="625.6" r="6.75"/>
<circle cx="958.5" cy="642.1" r="6.75"/>
<circle cx="967.8" cy="661.3" r="6.75"/>
<circle cx="970.4" cy="653.7" r="6.75"/>
<circle cx="975.6" cy="659.8" r="6.75"/>
<circle cx="970.3" cy="664.5" r="6.75"/>
<circle cx="875.4" cy="610.8" r="6.75"/>
<circle cx="788.8" cy="621.0" r="6.75"/>
<circle cx="781.6" cy="612.8" r="6.75"/>
<circle cx="839.9" cy="619.1" r="6.75"/>
<circle cx="786.4" cy="626.8" r="6.75"/>
<circle cx="794.3" cy="621.3" r="6.75"/>
<circle cx="782.9" cy="631.6" r="6.75"/>
<circle cx="829.5" cy="628.5" r="6.75"/>
<circle cx="826.2" cy="626.0" r="6.75"/>
<circle cx="831.3" cy="619.5" r="6.75"/>
<circle cx="781.5" cy="636.4" r="6.75"/>
<circle cx="538.5" cy="829.8" r="6.75"/>
<circle cx="584.5" cy="855.1" r="6.75"/>
<circle cx="562.7" cy="819.3" r="6.75"/>
<circle cx="785.7" cy="703.4" r="6.75"/>
<circle cx="764.1" cy="697.4" r="6.75"/>
<circle cx="697.1" cy="691.4" r="6.75"/>
<circle cx="680.3" cy="682.1" r="6.75"/>
<circle cx="695.6" cy="685.5" r="6.75"/>
<circle cx="677.4" cy="656.1" r="6.75"/>
<circle cx="629.9" cy="1054.2" r="6.75"/>
<circle cx="640.6" cy="1055.4" r="6.75"/>
<circle cx="653.7" cy="1052.4" r="6.75"/>
<circle cx="677.3" cy="1065.7" r="6.75"/>
<circle cx="594.3" cy="996.5" r="6.75"/>
<circle cx="656.9" cy="1065.7" r="6.75"/>
<circle cx="647.0" cy="1064.9" r="6.75"/>
<circle cx="638.1" cy="1036.4" r="6.75"/>
<circle cx="620.3" cy="1059.8" r="6.75"/>
<circle cx="615.8" cy="1042.6" r="6.75"/>
<circle cx="583.9" cy="1068.6" r="6.75"/>
<circle cx="617.7" cy="995.7" r="6.75"/>
<circle cx="615.8" cy="1019.3" r="6.75"/>
<circle cx="608.1" cy="1047.6" r="6.75"/>
<circle cx="670.4" cy="972.3" r="6.75"/>
<circle cx="659.9" cy="1008.2" r="6.75"/>
<circle cx="663.1" cy="1079.5" r="6.75"/>
<circle cx="651.4" cy="950.2" r="6.75"/>
<circle cx="660.2" cy="965.5" r="6.75"/>
<circle cx="644.8" cy="951.1" r="6.75"/>
<circle cx="666.6" cy="950.8" r="6.75"/>
<circle cx="650.3" cy="937.5" r="6.75"/>
<circle cx="655.2" cy="961.0" r="6.75"/>
<circle cx="695.1" cy="960.1" r="6.75"/>
<circle cx="757.1" cy="1026.3" r="6.75"/>
<circle cx="751.1" cy="1020.6" r="6.75"/>
<circle cx="607.5" cy="428.0" r="6.75"/>
<circle cx="617.5" cy="457.0" r="6.75"/>
<circle cx="920.0" cy="783.8" r="6.75"/>
<circle cx="732.5" cy="987.0" r="6.75"/>
<circle cx="765.5" cy="994.2" r="6.75"/>
<circle cx="760.0" cy="1023.8" r="6.75"/>
<circle cx="770.0" cy="1027.5" r="6.75"/>
<circle cx="762.5" cy="1035.0" r="6.75"/>
<circle cx="991.6" cy="816.6" r="6.75"/>
<circle cx="941.8" cy="854.3" r="6.75"/>
<circle cx="833.0" cy="817.5" r="6.75"/>
<circle cx="872.5" cy="812.5" r="6.75"/>
<circle cx="825.0" cy="893.8" r="6.75"/>
<circle cx="820.0" cy="856.2" r="6.75"/>
<circle cx="954.2" cy="893.0" r="6.75"/>
<circle cx="934.2" cy="891.2" r="6.75"/>
<circle cx="897.5" cy="860.0" r="6.75"/>
<circle cx="913.8" cy="888.0" r="6.75"/>
<circle cx="968.8" cy="818.8" r="6.75"/>
<circle cx="827.0" cy="533.8" r="6.75"/>
<circle cx="878.8" cy="590.0" r="6.75"/>
<circle cx="880.0" cy="595.0" r="6.75"/>
<circle cx="887.5" cy="590.0" r="6.75"/>
<circle cx="536.2" cy="760.0" r="6.75"/>
<circle cx="528.8" cy="780.6" r="6.75"/>
<circle cx="516.8" cy="782.5" r="6.75"/>
<circle cx="664.0" cy="730.3" r="6.75"/>
<circle cx="584.8" cy="822.5" r="6.75"/>
<circle cx="597.1" cy="799.1" r="6.75"/>
<circle cx="620.2" cy="852.6" r="6.75"/>
<circle cx="629.3" cy="797.1" r="6.75"/>
<circle cx="630.8" cy="761.5" r="6.75"/>
<circle cx="588.6" cy="751.5" r="6.75"/>
<circle cx="722.1" cy="811.6" r="6.75"/>
<circle cx="758.5" cy="787.9" r="6.75"/>
<circle cx="786.4" cy="761.7" r="6.75"/>
<circle cx="732.4" cy="683.5" r="6.75"/>
<circle cx="765.0" cy="994.4" r="6.75"/>
</g>
<g fill="#fdebe0">
<circle cx="383.4" cy="780.7" r="6.75"/>
<circle cx="387.7" cy="777.2" r="6.75"/>
<circle cx="377.7" cy="753.1" r="6.75"/>
<circle cx="362.3" cy="775.2" r="6.75"/>
<circle cx="365.3" cy="780.4" r="6.75"/>
<circle cx="378.7" cy="770.7" r="6.75"/>
<circle cx="388.6" cy="784.0" r="6.75"/>
<circle cx="437.1" cy="795.3" r="6.75"/>
<circle cx="371.4" cy="789.9" r="6.75"/>
<circle cx="371.3" cy="794.4" r="6.75"/>
<circle cx="398.2" cy="794.6" r="6.75"/>
<circle cx="378.1" cy="738.0" r="6.75"/>
<circle cx="746.0" cy="499.6" r="6.75"/>
<circle cx="777.2" cy="504.1" r="6.75"/>
<circle cx="764.7" cy="482.5" r="6.75"/>
<circle cx="747.9" cy="525.8" r="6.75"/>
<circle cx="766.2" cy="529.5" r="6.75"/>
<circle cx="769.5" cy="535.2" r="6.75"/>
<circle cx="778.7" cy="499.0" r="6.75"/>
<circle cx="747.1" cy="516.8" r="6.75"/>
<circle cx="769.5" cy="551.7" r="6.75"/>
<circle cx="756.0" cy="539.4" r="6.75"/>
<circle cx="369.3" cy="828.7" r="6.75"/>
<circle cx="379.2" cy="807.1" r="6.75"/>
<circle cx="349.6" cy="811.3" r="6.75"/>
<circle cx="335.3" cy="814.3" r="6.75"/>
<circle cx="411.4" cy="822.6" r="6.75"/>
<circle cx="395.4" cy="804.2" r="6.75"/>
<circle cx="398.4" cy="839.0" r="6.75"/>
<circle cx="909.6" cy="901.9" r="6.75"/>
<circle cx="913.6" cy="905.3" r="6.75"/>
<circle cx="964.5" cy="680.3" r="6.75"/>
<circle cx="946.4" cy="679.7" r="6.75"/>
<circle cx="894.1" cy="632.5" r="6.75"/>
<circle cx="900.6" cy="609.4" r="6.75"/>
<circle cx="966.8" cy="669.3" r="6.75"/>
<circle cx="929.4" cy="649.2" r="6.75"/>
<circle cx="922.1" cy="675.3" r="6.75"/>
<circle cx="956.1" cy="655.4" r="6.75"/>
<circle cx="953.7" cy="683.5" r="6.75"/>
<circle cx="968.9" cy="649.3" r="6.75"/>
<circle cx="889.6" cy="604.2" r="6.75"/>
<circle cx="938.4" cy="637.8" r="6.75"/>
<circle cx="924.0" cy="668.2" r="6.75"/>
<circle cx="780.5" cy="484.5" r="6.75"/>
<circle cx="760.3" cy="707.0" r="6.75"/>
<circle cx="762.0" cy="723.7" r="6.75"/>
<circle cx="774.5" cy="700.0" r="6.75"/>
<circle cx="754.7" cy="719.9" r="6.75"/>
<circle cx="764.5" cy="711.7" r="6.75"/>
<circle cx="737.6" cy="704.8" r="6.75"/>
<circle cx="756.4" cy="733.4" r="6.75"/>
<circle cx="742.7" cy="705.4" r="6.75"/>
<circle cx="738.7" cy="710.1" r="6.75"/>
<circle cx="736.6" cy="693.1" r="6.75"/>
<circle cx="689.1" cy="686.7" r="6.75"/>
<circle cx="674.9" cy="679.4" r="6.75"/>
<circle cx="688.6" cy="668.0" r="6.75"/>
<circle cx="708.6" cy="663.4" r="6.75"/>
<circle cx="680.8" cy="686.7" r="6.75"/>
<circle cx="686.8" cy="649.9" r="6.75"/>
<circle cx="610.8" cy="1018.9" r="6.75"/>
<circle cx="651.0" cy="1063.2" r="6.75"/>
<circle cx="625.2" cy="985.4" r="6.75"/>
<circle cx="649.3" cy="1059.0" r="6.75"/>
<circle cx="678.8" cy="1075.0" r="6.75"/>
<circle cx="672.7" cy="960.1" r="6.75"/>
<circle cx="651.6" cy="956.2" r="6.75"/>
<circle cx="660.5" cy="941.3" r="6.75"/>
<circle cx="682.4" cy="948.2" r="6.75"/>
<circle cx="674.5" cy="1050.6" r="6.75"/>
<circle cx="708.6" cy="1010.7" r="6.75"/>
<circle cx="733.0" cy="1039.3" r="6.75"/>
<circle cx="738.8" cy="466.2" r="6.75"/>
<circle cx="771.2" cy="466.2" r="6.75"/>
<circle cx="1011.2" cy="263.8" r="6.75"/>
<circle cx="363.2" cy="583.8" r="6.75"/>
<circle cx="419.5" cy="540.8" r="6.75"/>
<circle cx="244.2" cy="481.2" r="6.75"/>
<circle cx="598.8" cy="533.8" r="6.75"/>
<circle cx="606.2" cy="540.0" r="6.75"/>
<circle cx="607.5" cy="546.2" r="6.75"/>
<circle cx="585.0" cy="562.5" r="6.75"/>
<circle cx="620.0" cy="523.2" r="6.75"/>
<circle cx="600.0" cy="490.0" r="6.75"/>
<circle cx="725.0" cy="604.2" r="6.75"/>
<circle cx="536.2" cy="760.0" r="6.75"/>
<circle cx="528.8" cy="778.8" r="6.75"/>
<circle cx="516.2" cy="782.5" r="6.75"/>
<circle cx="788.2" cy="845.0" r="6.75"/>
<circle cx="795.0" cy="900.0" r="6.75"/>
<circle cx="733.8" cy="885.8" r="6.75"/>
<circle cx="961.2" cy="863.8" r="6.75"/>
<circle cx="916.1" cy="827.2" r="6.75"/>
<circle cx="982.8" cy="819.2" r="6.75"/>
<circle cx="932.8" cy="827.1" r="6.75"/>
<circle cx="946.1" cy="864.3" r="6.75"/>
<circle cx="816.2" cy="510.0" r="6.75"/>
<circle cx="832.5" cy="555.0" r="6.75"/>
<circle cx="831.2" cy="562.0" r="6.75"/>
<circle cx="861.2" cy="588.8" r="6.75"/>
<circle cx="618.0" cy="800.8" r="6.75"/>
<circle cx="677.0" cy="817.6" r="6.75"/>
<circle cx="657.0" cy="842.0" r="6.75"/>
<circle cx="562.3" cy="816.4" r="6.75"/>
<circle cx="621.1" cy="880.0" r="6.75"/>
<circle cx="625.4" cy="828.2" r="6.75"/>
<circle cx="563.1" cy="822.1" r="6.75"/>
<circle cx="802.9" cy="801.5" r="6.75"/>
<circle cx="780.6" cy="739.6" r="6.75"/>
<circle cx="806.8" cy="800.9" r="6.75"/>
<circle cx="774.6" cy="775.2" r="6.75"/>
<circle cx="802.3" cy="816.0" r="6.75"/>
<circle cx="782.6" cy="649.1" r="6.75"/>
<circle cx="732.1" cy="658.7" r="6.75"/>
<circle cx="737.7" cy="671.5" r="6.75"/>
<circle cx="528.8" cy="990.6" r="6.75"/>
<circle cx="556.9" cy="1032.6" r="6.75"/>
<circle cx="625.1" cy="1046.9" r="6.75"/>
<circle cx="570.0" cy="1055.1" r="6.75"/>
<circle cx="590.6" cy="889.4" r="6.75"/>
<circle cx="623.6" cy="921.2" r="6.75"/>
<circle cx="733.1" cy="986.9" r="6.75"/>
<circle cx="750.0" cy="983.1" r="6.75"/>
</g>
<g fill="#fee6d8">
<circle cx="358.3" cy="785.1" r="6.75"/>
<circle cx="370.1" cy="785.6" r="6.75"/>
<circle cx="357.3" cy="791.7" r="6.75"/>
<circle cx="366.6" cy="742.3" r="6.75"/>
<circle cx="407.2" cy="796.3" r="6.75"/>
<circle cx="347.7" cy="785.4" r="6.75"/>
<circle cx="363.7" cy="794.9" r="6.75"/>
<circle cx="330.6" cy="796.0" r="6.75"/>
<circle cx="379.6" cy="785.9" r="6.75"/>
<circle cx="367.7" cy="798.0" r="6.75"/>
<circle cx="364.8" cy="763.1" r="6.75"/>
<circle cx="392.4" cy="735.7" r="6.75"/>
<circle cx="376.3" cy="743.9" r="6.75"/>
<circle cx="393.6" cy="742.1" r="6.75"/>
<circle cx="387.2" cy="710.0" r="6.75"/>
<circle cx="764.3" cy="535.2" r="6.75"/>
<circle cx="776.2" cy="524.3" r="6.75"/>
<circle cx="776.0" cy="492.8" r="6.75"/>
<circle cx="751.9" cy="492.1" r="6.75"/>
<circle cx="775.6" cy="542.3" r="6.75"/>
<circle cx="763.0" cy="545.9" r="6.75"/>
<circle cx="750.9" cy="520.7" r="6.75"/>
<circle cx="765.1" cy="637.5" r="6.75"/>
<circle cx="731.7" cy="637.7" r="6.75"/>
<circle cx="752.3" cy="626.5" r="6.75"/>
<circle cx="773.0" cy="618.7" r="6.75"/>
<circle cx="374.1" cy="801.1" r="6.75"/>
<circle cx="367.8" cy="811.4" r="6.75"/>
<circle cx="398.7" cy="832.0" r="6.75"/>
<circle cx="333.0" cy="805.8" r="6.75"/>
<circle cx="407.2" cy="815.4" r="6.75"/>
<circle cx="927.1" cy="682.0" r="6.75"/>
<circle cx="958.5" cy="649.0" r="6.75"/>
<circle cx="953.5" cy="673.2" r="6.75"/>
<circle cx="875.3" cy="620.8" r="6.75"/>
<circle cx="924.2" cy="628.9" r="6.75"/>
<circle cx="874.8" cy="606.2" r="6.75"/>
<circle cx="894.3" cy="617.0" r="6.75"/>
<circle cx="947.4" cy="645.5" r="6.75"/>
<circle cx="953.6" cy="650.1" r="6.75"/>
<circle cx="908.8" cy="642.3" r="6.75"/>
<circle cx="934.4" cy="637.5" r="6.75"/>
<circle cx="869.0" cy="611.3" r="6.75"/>
<circle cx="937.9" cy="666.3" r="6.75"/>
<circle cx="953.0" cy="667.3" r="6.75"/>
<circle cx="885.3" cy="617.3" r="6.75"/>
<circle cx="894.7" cy="624.1" r="6.75"/>
<circle cx="820.9" cy="612.0" r="6.75"/>
<circle cx="825.6" cy="616.7" r="6.75"/>
<circle cx="805.4" cy="632.6" r="6.75"/>
<circle cx="823.3" cy="622.0" r="6.75"/>
<circle cx="813.2" cy="630.0" r="6.75"/>
<circle cx="818.3" cy="630.3" r="6.75"/>
<circle cx="781.0" cy="514.4" r="6.75"/>
<circle cx="783.6" cy="508.6" r="6.75"/>
<circle cx="785.9" cy="493.3" r="6.75"/>
<circle cx="567.7" cy="831.7" r="6.75"/>
<circle cx="770.8" cy="695.8" r="6.75"/>
<circle cx="741.7" cy="712.9" r="6.75"/>
<circle cx="759.4" cy="714.6" r="6.75"/>
<circle cx="755.2" cy="695.8" r="6.75"/>
<circle cx="744.3" cy="721.1" r="6.75"/>
<circle cx="768.5" cy="691.9" r="6.75"/>
<circle cx="734.1" cy="707.8" r="6.75"/>
<circle cx="776.1" cy="696.3" r="6.75"/>
<circle cx="767.8" cy="726.3" r="6.75"/>
<circle cx="748.6" cy="717.9" r="6.75"/>
<circle cx="739.8" cy="718.4" r="6.75"/>
<circle cx="750.6" cy="703.1" r="6.75"/>
<circle cx="748.4" cy="708.2" r="6.75"/>
<circle cx="726.7" cy="699.5" r="6.75"/>
<circle cx="773.9" cy="719.3" r="6.75"/>
<circle cx="733.3" cy="689.7" r="6.75"/>
<circle cx="743.1" cy="687.2" r="6.75"/>
<circle cx="758.2" cy="684.1" r="6.75"/>
<circle cx="751.8" cy="687.0" r="6.75"/>
<circle cx="729.3" cy="696.1" r="6.75"/>
<circle cx="727.6" cy="704.9" r="6.75"/>
<circle cx="778.7" cy="702.3" r="6.75"/>
<circle cx="737.7" cy="687.4" r="6.75"/>
<circle cx="753.9" cy="715.1" r="6.75"/>
<circle cx="691.4" cy="661.1" r="6.75"/>
<circle cx="675.7" cy="688.3" r="6.75"/>
<circle cx="681.9" cy="656.5" r="6.75"/>
<circle cx="701.6" cy="680.5" r="6.75"/>
<circle cx="678.3" cy="660.1" r="6.75"/>
<circle cx="681.9" cy="692.4" r="6.75"/>
<circle cx="612.3" cy="812.2" r="6.75"/>
<circle cx="594.0" cy="825.4" r="6.75"/>
<circle cx="611.0" cy="801.4" r="6.75"/>
<circle cx="598.3" cy="790.3" r="6.75"/>
<circle cx="637.0" cy="989.7" r="6.75"/>
<circle cx="617.5" cy="1065.8" r="6.75"/>
<circle cx="676.2" cy="968.0" r="6.75"/>
<circle cx="654.4" cy="966.3" r="6.75"/>
<circle cx="640.5" cy="950.2" r="6.75"/>
<circle cx="697.6" cy="952.1" r="6.75"/>
<circle cx="660.9" cy="1012.5" r="6.75"/>
<circle cx="688.0" cy="1063.2" r="6.75"/>
<circle cx="710.7" cy="1053.7" r="6.75"/>
<circle cx="706.5" cy="1048.7" r="6.75"/>
<circle cx="677.9" cy="1061.0" r="6.75"/>
<circle cx="680.9" cy="1037.0" r="6.75"/>
<circle cx="671.1" cy="1042.5" r="6.75"/>
<circle cx="728.0" cy="1032.7" r="6.75"/>
<circle cx="658.8" cy="988.1" r="6.75"/>
<circle cx="1042.5" cy="276.2" r="6.75"/>
<circle cx="830.5" cy="750.0" r="6.75"/>
<circle cx="972.5" cy="750.0" r="6.75"/>
<circle cx="683.8" cy="952.5" r="6.75"/>
<circle cx="692.5" cy="947.5" r="6.75"/>
<circle cx="695.0" cy="955.0" r="6.75"/>
<circle cx="678.8" cy="961.2" r="6.75"/>
<circle cx="686.2" cy="962.5" r="6.75"/>
<circle cx="531.2" cy="836.2" r="6.75"/>
<circle cx="569.5" cy="870.0" r="6.75"/>
<circle cx="528.8" cy="990.0" r="6.75"/>
<circle cx="624.2" cy="1047.5" r="6.75"/>
<circle cx="638.8" cy="1082.5" r="6.75"/>
<circle cx="750.0" cy="983.0" r="6.75"/>
<circle cx="967.9" cy="881.0" r="6.75"/>
<circle cx="960.8" cy="874.5" r="6.75"/>
<circle cx="945.7" cy="822.0" r="6.75"/>
<circle cx="940.6" cy="866.8" r="6.75"/>
<circle cx="943.7" cy="836.8" r="6.75"/>
<circle cx="974.9" cy="810.8" r="6.75"/>
<circle cx="984.5" cy="861.8" r="6.75"/>
<circle cx="973.8" cy="860.0" r="6.75"/>
<circle cx="945.5" cy="841.2" r="6.75"/>
<circle cx="911.2" cy="833.8" r="6.75"/>
<circle cx="840.0" cy="831.2" r="6.75"/>
<circle cx="990.0" cy="822.0" r="6.75"/>
<circle cx="980.0" cy="818.8" r="6.75"/>
<circle cx="833.8" cy="591.2" r="6.75"/>
<circle cx="895.0" cy="600.0" r="6.75"/>
<circle cx="555.7" cy="863.5" r="6.75"/>
<circle cx="644.9" cy="854.2" r="6.75"/>
<circle cx="676.7" cy="798.2" r="6.75"/>
<circle cx="694.5" cy="790.0" r="6.75"/>
<circle cx="572.7" cy="766.4" r="6.75"/>
<circle cx="670.1" cy="795.3" r="6.75"/>
<circle cx="617.0" cy="734.7" r="6.75"/>
<circle cx="600.4" cy="756.8" r="6.75"/>
<circle cx="632.2" cy="802.3" r="6.75"/>
<circle cx="594.0" cy="784.5" r="6.75"/>
<circle cx="648.6" cy="743.1" r="6.75"/>
<circle cx="662.8" cy="769.3" r="6.75"/>
<circle cx="551.4" cy="828.4" r="6.75"/>
<circle cx="808.6" cy="744.6" r="6.75"/>
<circle cx="805.3" cy="878.5" r="6.75"/>
<circle cx="695.6" cy="650.8" r="6.75"/>
<circle cx="736.2" cy="669.1" r="6.75"/>
<circle cx="771.8" cy="660.3" r="6.75"/>
<circle cx="670.0" cy="705.8" r="6.75"/>
<circle cx="719.5" cy="661.3" r="6.75"/>
<circle cx="711.8" cy="718.4" r="6.75"/>
<circle cx="603.8" cy="685.0" r="6.75"/>
<circle cx="592.5" cy="733.8" r="6.75"/>
<circle cx="633.8" cy="709.4" r="6.75"/>
<circle cx="654.4" cy="698.1" r="6.75"/>
<circle cx="675.0" cy="737.5" r="6.75"/>
<circle cx="606.4" cy="771.2" r="6.75"/>
<circle cx="613.9" cy="811.8" r="6.75"/>
<circle cx="630.0" cy="803.9" r="6.75"/>
<circle cx="654.4" cy="821.9" r="6.75"/>
<circle cx="631.9" cy="816.2" r="6.75"/>
<circle cx="531.4" cy="835.8" r="6.75"/>
<circle cx="546.8" cy="859.4" r="6.75"/>
<circle cx="569.2" cy="869.5" r="6.75"/>
<circle cx="595.1" cy="867.6" r="6.75"/>
<circle cx="720.0" cy="750.6" r="6.75"/>
<circle cx="721.1" cy="772.4" r="6.75"/>
<circle cx="708.8" cy="796.4" r="6.75"/>
<circle cx="766.9" cy="775.8" r="6.75"/>
<circle cx="783.8" cy="770.5" r="6.75"/>
<circle cx="788.6" cy="845.1" r="6.75"/>
<circle cx="734.2" cy="886.4" r="6.75"/>
<circle cx="795.0" cy="899.9" r="6.75"/>
<circle cx="780.0" cy="668.1" r="6.75"/>
<circle cx="796.9" cy="711.2" r="6.75"/>
</g>
<g fill="#fcdccc">
<circle cx="383.3" cy="713.2" r="6.75"/>
<circle cx="377.7" cy="793.3" r="6.75"/>
<circle cx="374.2" cy="776.3" r="6.75"/>
<circle cx="761.8" cy="554.7" r="6.75"/>
<circle cx="760.4" cy="541.8" r="6.75"/>
<circle cx="775.2" cy="486.5" r="6.75"/>
<circle cx="767.2" cy="542.4" r="6.75"/>
<circle cx="773.6" cy="537.4" r="6.75"/>
<circle cx="754.8" cy="638.9" r="6.75"/>
<circle cx="760.2" cy="633.1" r="6.75"/>
<circle cx="362.8" cy="807.0" r="6.75"/>
<circle cx="332.8" cy="821.1" r="6.75"/>
<circle cx="963.2" cy="640.0" r="6.75"/>
<circle cx="943.2" cy="647.6" r="6.75"/>
<circle cx="926.9" cy="675.2" r="6.75"/>
<circle cx="901.2" cy="640.0" r="6.75"/>
<circle cx="933.5" cy="659.7" r="6.75"/>
<circle cx="918.3" cy="658.7" r="6.75"/>
<circle cx="895.9" cy="640.9" r="6.75"/>
<circle cx="890.6" cy="619.7" r="6.75"/>
<circle cx="954.1" cy="678.8" r="6.75"/>
<circle cx="911.3" cy="619.4" r="6.75"/>
<circle cx="930.7" cy="631.6" r="6.75"/>
<circle cx="932.8" cy="655.0" r="6.75"/>
<circle cx="930.1" cy="679.1" r="6.75"/>
<circle cx="914.5" cy="627.1" r="6.75"/>
<circle cx="929.6" cy="669.8" r="6.75"/>
<circle cx="801.4" cy="621.8" r="6.75"/>
<circle cx="809.8" cy="619.7" r="6.75"/>
<circle cx="780.3" cy="619.4" r="6.75"/>
<circle cx="806.4" cy="622.4" r="6.75"/>
<circle cx="791.9" cy="491.9" r="6.75"/>
<circle cx="747.1" cy="685.9" r="6.75"/>
<circle cx="747.9" cy="690.7" r="6.75"/>
<circle cx="733.6" cy="718.1" r="6.75"/>
<circle cx="778.3" cy="707.5" r="6.75"/>
<circle cx="741.9" cy="729.1" r="6.75"/>
<circle cx="758.7" cy="699.1" r="6.75"/>
<circle cx="746.7" cy="699.0" r="6.75"/>
<circle cx="764.4" cy="716.2" r="6.75"/>
<circle cx="768.5" cy="709.9" r="6.75"/>
<circle cx="767.4" cy="702.5" r="6.75"/>
<circle cx="728.1" cy="709.2" r="6.75"/>
<circle cx="757.2" cy="710.2" r="6.75"/>
<circle cx="773.1" cy="711.4" r="6.75"/>
<circle cx="742.5" cy="693.7" r="6.75"/>
<circle cx="771.3" cy="688.9" r="6.75"/>
<circle cx="763.9" cy="686.9" r="6.75"/>
<circle cx="764.3" cy="707.6" r="6.75"/>
<circle cx="754.7" cy="701.3" r="6.75"/>
<circle cx="759.9" cy="693.8" r="6.75"/>
<circle cx="672.5" cy="675.0" r="6.75"/>
<circle cx="693.7" cy="648.4" r="6.75"/>
<circle cx="676.3" cy="668.9" r="6.75"/>
<circle cx="694.0" cy="656.1" r="6.75"/>
<circle cx="588.6" cy="818.7" r="6.75"/>
<circle cx="633.0" cy="957.3" r="6.75"/>
<circle cx="642.2" cy="965.5" r="6.75"/>
<circle cx="640.4" cy="970.6" r="6.75"/>
<circle cx="676.6" cy="958.9" r="6.75"/>
<circle cx="690.0" cy="961.8" r="6.75"/>
<circle cx="701.3" cy="1072.2" r="6.75"/>
<circle cx="719.3" cy="1034.6" r="6.75"/>
<circle cx="740.4" cy="1034.5" r="6.75"/>
<circle cx="663.1" cy="1043.3" r="6.75"/>
<circle cx="694.5" cy="1073.8" r="6.75"/>
<circle cx="691.8" cy="1051.9" r="6.75"/>
<circle cx="684.9" cy="1041.2" r="6.75"/>
<circle cx="704.3" cy="1011.2" r="6.75"/>
<circle cx="217.5" cy="457.5" r="6.75"/>
<circle cx="223.0" cy="462.5" r="6.75"/>
<circle cx="227.5" cy="468.8" r="6.75"/>
<circle cx="398.8" cy="748.8" r="6.75"/>
<circle cx="350.0" cy="761.2" r="6.75"/>
<circle cx="363.2" cy="785.0" r="6.75"/>
<circle cx="330.0" cy="797.5" r="6.75"/>
<circle cx="546.2" cy="859.2" r="6.75"/>
<circle cx="638.8" cy="911.2" r="6.75"/>
<circle cx="557.5" cy="971.2" r="6.75"/>
<circle cx="583.2" cy="973.2" r="6.75"/>
<circle cx="603.2" cy="973.2" r="6.75"/>
<circle cx="613.8" cy="1030.0" r="6.75"/>
<circle cx="645.0" cy="1026.2" r="6.75"/>
<circle cx="645.0" cy="1063.8" r="6.75"/>
<circle cx="557.5" cy="1032.5" r="6.75"/>
<circle cx="688.0" cy="734.8" r="6.75"/>
<circle cx="694.0" cy="796.5" r="6.75"/>
<circle cx="619.7" cy="822.8" r="6.75"/>
<circle cx="665.4" cy="815.0" r="6.75"/>
<circle cx="685.4" cy="846.6" r="6.75"/>
<circle cx="681.0" cy="855.8" r="6.75"/>
<circle cx="560.0" cy="813.1" r="6.75"/>
<circle cx="662.6" cy="842.6" r="6.75"/>
<circle cx="774.5" cy="739.8" r="6.75"/>
<circle cx="725.0" cy="765.1" r="6.75"/>
<circle cx="708.4" cy="762.5" r="6.75"/>
<circle cx="768.9" cy="865.6" r="6.75"/>
<circle cx="806.2" cy="874.7" r="6.75"/>
<circle cx="672.7" cy="682.2" r="6.75"/>
<circle cx="787.7" cy="724.0" r="6.75"/>
<circle cx="556.9" cy="970.8" r="6.75"/>
<circle cx="583.1" cy="972.6" r="6.75"/>
<circle cx="603.8" cy="972.6" r="6.75"/>
<circle cx="613.9" cy="1030.0" r="6.75"/>
<circle cx="645.0" cy="1026.2" r="6.75"/>
<circle cx="638.6" cy="910.8" r="6.75"/>
<circle cx="648.8" cy="938.9" r="6.75"/>
<circle cx="631.9" cy="958.8" r="6.75"/>
</g>
<g fill="#fad3c0">
<circle cx="389.5" cy="714.8" r="6.75"/>
<circle cx="418.3" cy="798.5" r="6.75"/>
<circle cx="742.3" cy="521.2" r="6.75"/>
<circle cx="744.4" cy="507.0" r="6.75"/>
<circle cx="760.0" cy="503.9" r="6.75"/>
<circle cx="767.8" cy="494.0" r="6.75"/>
<circle cx="770.2" cy="498.3" r="6.75"/>
<circle cx="758.1" cy="547.5" r="6.75"/>
<circle cx="763.9" cy="524.9" r="6.75"/>
<circle cx="759.6" cy="535.3" r="6.75"/>
<circle cx="775.1" cy="529.3" r="6.75"/>
<circle cx="770.3" cy="634.3" r="6.75"/>
<circle cx="358.5" cy="816.2" r="6.75"/>
<circle cx="399.6" cy="816.2" r="6.75"/>
<circle cx="395.3" cy="822.1" r="6.75"/>
<circle cx="913.6" cy="633.4" r="6.75"/>
<circle cx="927.9" cy="639.1" r="6.75"/>
<circle cx="861.8" cy="620.1" r="6.75"/>
<circle cx="917.0" cy="650.0" r="6.75"/>
<circle cx="932.9" cy="664.5" r="6.75"/>
<circle cx="903.7" cy="667.7" r="6.75"/>
<circle cx="904.9" cy="627.2" r="6.75"/>
<circle cx="902.7" cy="635.3" r="6.75"/>
<circle cx="886.3" cy="638.5" r="6.75"/>
<circle cx="909.0" cy="660.6" r="6.75"/>
<circle cx="944.2" cy="667.6" r="6.75"/>
<circle cx="936.4" cy="650.2" r="6.75"/>
<circle cx="920.7" cy="665.4" r="6.75"/>
<circle cx="902.4" cy="613.9" r="6.75"/>
<circle cx="837.0" cy="627.7" r="6.75"/>
<circle cx="818.9" cy="622.8" r="6.75"/>
<circle cx="781.5" cy="493.8" r="6.75"/>
<circle cx="780.5" cy="502.7" r="6.75"/>
<circle cx="788.5" cy="488.2" r="6.75"/>
<circle cx="768.9" cy="718.3" r="6.75"/>
<circle cx="771.6" cy="706.0" r="6.75"/>
<circle cx="756.9" cy="689.8" r="6.75"/>
<circle cx="754.1" cy="706.3" r="6.75"/>
<circle cx="749.9" cy="727.3" r="6.75"/>
<circle cx="739.4" cy="699.4" r="6.75"/>
<circle cx="762.3" cy="727.8" r="6.75"/>
<circle cx="752.5" cy="731.0" r="6.75"/>
<circle cx="734.7" cy="723.8" r="6.75"/>
<circle cx="750.8" cy="712.3" r="6.75"/>
<circle cx="751.6" cy="722.7" r="6.75"/>
<circle cx="695.8" cy="673.2" r="6.75"/>
<circle cx="675.2" cy="663.9" r="6.75"/>
<circle cx="687.3" cy="658.6" r="6.75"/>
<circle cx="604.7" cy="823.9" r="6.75"/>
<circle cx="616.3" cy="819.7" r="6.75"/>
<circle cx="660.0" cy="934.1" r="6.75"/>
<circle cx="662.0" cy="958.9" r="6.75"/>
<circle cx="637.0" cy="958.2" r="6.75"/>
<circle cx="646.5" cy="945.3" r="6.75"/>
<circle cx="678.8" cy="945.0" r="6.75"/>
<circle cx="649.4" cy="989.9" r="6.75"/>
<circle cx="708.7" cy="999.9" r="6.75"/>
<circle cx="664.7" cy="990.1" r="6.75"/>
<circle cx="739.5" cy="1015.7" r="6.75"/>
<circle cx="655.7" cy="995.1" r="6.75"/>
<circle cx="690.0" cy="1042.0" r="6.75"/>
<circle cx="748.7" cy="1035.2" r="6.75"/>
<circle cx="683.4" cy="1003.8" r="6.75"/>
<circle cx="668.9" cy="1047.3" r="6.75"/>
<circle cx="667.6" cy="1035.5" r="6.75"/>
<circle cx="725.2" cy="1037.9" r="6.75"/>
<circle cx="708.5" cy="1016.6" r="6.75"/>
<circle cx="725.1" cy="1019.2" r="6.75"/>
<circle cx="660.8" cy="1036.0" r="6.75"/>
<circle cx="662.1" cy="1077.8" r="6.75"/>
<circle cx="730.8" cy="1011.4" r="6.75"/>
<circle cx="702.7" cy="1053.4" r="6.75"/>
<circle cx="747.1" cy="1021.7" r="6.75"/>
<circle cx="731.4" cy="1028.8" r="6.75"/>
<circle cx="712.9" cy="1057.7" r="6.75"/>
<circle cx="656.3" cy="1002.4" r="6.75"/>
<circle cx="761.8" cy="1024.2" r="6.75"/>
<circle cx="701.1" cy="1014.9" r="6.75"/>
<circle cx="767.5" cy="475.0" r="6.75"/>
<circle cx="905.0" cy="792.5" r="6.75"/>
<circle cx="403.8" cy="859.2" r="6.75"/>
<circle cx="405.0" cy="860.5" r="6.75"/>
<circle cx="925.5" cy="828.0" r="6.75"/>
<circle cx="929.2" cy="860.0" r="6.75"/>
<circle cx="940.5" cy="903.8" r="6.75"/>
<circle cx="892.5" cy="928.8" r="6.75"/>
<circle cx="840.0" cy="577.5" r="6.75"/>
<circle cx="830.0" cy="580.0" r="6.75"/>
<circle cx="842.5" cy="616.2" r="6.75"/>
<circle cx="608.0" cy="808.1" r="6.75"/>
<circle cx="582.5" cy="733.4" r="6.75"/>
<circle cx="540.0" cy="840.8" r="6.75"/>
<circle cx="667.7" cy="859.2" r="6.75"/>
<circle cx="598.1" cy="870.5" r="6.75"/>
<circle cx="782.1" cy="869.3" r="6.75"/>
<circle cx="687.1" cy="651.1" r="6.75"/>
<circle cx="744.6" cy="685.3" r="6.75"/>
<circle cx="773.4" cy="644.5" r="6.75"/>
<circle cx="663.8" cy="715.0" r="6.75"/>
<circle cx="628.9" cy="760.0" r="6.75"/>
<circle cx="648.8" cy="782.5" r="6.75"/>
<circle cx="565.5" cy="806.1" r="6.75"/>
<circle cx="641.2" cy="822.6" r="6.75"/>
<circle cx="656.2" cy="802.0" r="6.75"/>
<circle cx="654.4" cy="868.8" r="6.75"/>
<circle cx="682.5" cy="656.9" r="6.75"/>
<circle cx="672.0" cy="682.4" r="6.75"/>
<circle cx="684.4" cy="692.5" r="6.75"/>
<circle cx="718.1" cy="691.4" r="6.75"/>
<circle cx="753.8" cy="696.2" r="6.75"/>
<circle cx="733.1" cy="647.5" r="6.75"/>
</g>
<g fill="#f9c9b4">
<circle cx="337.1" cy="796.9" r="6.75"/>
<circle cx="369.8" cy="775.9" r="6.75"/>
<circle cx="771.4" cy="512.0" r="6.75"/>
<circle cx="777.1" cy="534.4" r="6.75"/>
<circle cx="752.2" cy="516.1" r="6.75"/>
<circle cx="778.8" cy="608.1" r="6.75"/>
<circle cx="918.4" cy="638.0" r="6.75"/>
<circle cx="916.4" cy="644.3" r="6.75"/>
<circle cx="909.1" cy="675.2" r="6.75"/>
<circle cx="901.6" cy="681.7" r="6.75"/>
<circle cx="928.0" cy="663.3" r="6.75"/>
<circle cx="937.4" cy="658.6" r="6.75"/>
<circle cx="876.1" cy="636.2" r="6.75"/>
<circle cx="903.8" cy="690.0" r="6.75"/>
<circle cx="789.3" cy="635.9" r="6.75"/>
<circle cx="803.9" cy="627.0" r="6.75"/>
<circle cx="781.3" cy="522.3" r="6.75"/>
<circle cx="600.4" cy="831.3" r="6.75"/>
<circle cx="590.9" cy="801.9" r="6.75"/>
<circle cx="605.5" cy="798.4" r="6.75"/>
<circle cx="675.8" cy="942.0" r="6.75"/>
<circle cx="657.7" cy="949.2" r="6.75"/>
<circle cx="688.5" cy="952.5" r="6.75"/>
<circle cx="636.1" cy="949.7" r="6.75"/>
<circle cx="647.2" cy="964.4" r="6.75"/>
<circle cx="677.4" cy="1069.9" r="6.75"/>
<circle cx="676.6" cy="999.2" r="6.75"/>
<circle cx="670.9" cy="1028.5" r="6.75"/>
<circle cx="661.0" cy="1017.6" r="6.75"/>
<circle cx="685.2" cy="1073.6" r="6.75"/>
<circle cx="703.8" cy="1041.4" r="6.75"/>
<circle cx="691.5" cy="1057.5" r="6.75"/>
<circle cx="742.2" cy="1025.0" r="6.75"/>
<circle cx="713.8" cy="998.6" r="6.75"/>
<circle cx="730.8" cy="1006.0" r="6.75"/>
<circle cx="685.0" cy="1052.6" r="6.75"/>
<circle cx="664.8" cy="994.3" r="6.75"/>
<circle cx="691.3" cy="1047.8" r="6.75"/>
<circle cx="698.5" cy="1055.4" r="6.75"/>
<circle cx="662.5" cy="1031.8" r="6.75"/>
<circle cx="657.6" cy="1043.1" r="6.75"/>
<circle cx="433.2" cy="543.0" r="6.75"/>
<circle cx="421.2" cy="556.2" r="6.75"/>
<circle cx="705.0" cy="656.2" r="6.75"/>
<circle cx="711.2" cy="662.5" r="6.75"/>
<circle cx="671.2" cy="682.5" r="6.75"/>
<circle cx="717.5" cy="691.2" r="6.75"/>
<circle cx="720.0" cy="750.0" r="6.75"/>
<circle cx="980.1" cy="821.4" r="6.75"/>
<circle cx="991.0" cy="835.6" r="6.75"/>
<circle cx="866.2" cy="541.2" r="6.75"/>
<circle cx="870.5" cy="547.5" r="6.75"/>
<circle cx="820.0" cy="588.0" r="6.75"/>
<circle cx="827.5" cy="652.5" r="6.75"/>
<circle cx="676.6" cy="845.9" r="6.75"/>
<circle cx="637.0" cy="825.6" r="6.75"/>
<circle cx="632.8" cy="754.9" r="6.75"/>
<circle cx="696.3" cy="815.7" r="6.75"/>
<circle cx="762.6" cy="729.7" r="6.75"/>
<circle cx="786.4" cy="700.1" r="6.75"/>
<circle cx="727.4" cy="676.0" r="6.75"/>
<circle cx="651.4" cy="910.0" r="6.75"/>
<circle cx="734.2" cy="916.4" r="6.75"/>
</g>
<g fill="#f7c0a8">
<circle cx="349.3" cy="789.9" r="6.75"/>
<circle cx="761.5" cy="512.5" r="6.75"/>
<circle cx="763.9" cy="497.4" r="6.75"/>
<circle cx="755.8" cy="506.4" r="6.75"/>
<circle cx="759.6" cy="529.5" r="6.75"/>
<circle cx="751.1" cy="504.2" r="6.75"/>
<circle cx="762.2" cy="518.6" r="6.75"/>
<circle cx="948.1" cy="656.3" r="6.75"/>
<circle cx="869.1" cy="648.9" r="6.75"/>
<circle cx="868.6" cy="628.9" r="6.75"/>
<circle cx="961.2" cy="660.4" r="6.75"/>
<circle cx="873.1" cy="631.6" r="6.75"/>
<circle cx="900.4" cy="663.0" r="6.75"/>
<circle cx="890.2" cy="637.3" r="6.75"/>
<circle cx="879.1" cy="645.7" r="6.75"/>
<circle cx="914.2" cy="657.6" r="6.75"/>
<circle cx="785.1" cy="485.6" r="6.75"/>
<circle cx="735.5" cy="700.7" r="6.75"/>
<circle cx="700.7" cy="656.5" r="6.75"/>
<circle cx="690.0" cy="654.9" r="6.75"/>
<circle cx="583.1" cy="796.9" r="6.75"/>
<circle cx="701.1" cy="1029.9" r="6.75"/>
<circle cx="718.4" cy="1053.0" r="6.75"/>
<circle cx="670.0" cy="979.4" r="6.75"/>
<circle cx="702.1" cy="992.2" r="6.75"/>
<circle cx="676.7" cy="1012.5" r="6.75"/>
<circle cx="652.6" cy="986.2" r="6.75"/>
<circle cx="717.6" cy="1002.4" r="6.75"/>
<circle cx="670.5" cy="1055.5" r="6.75"/>
<circle cx="707.8" cy="1036.2" r="6.75"/>
<circle cx="750.4" cy="1028.2" r="6.75"/>
<circle cx="666.5" cy="1029.3" r="6.75"/>
<circle cx="724.7" cy="1002.4" r="6.75"/>
<circle cx="689.5" cy="1028.4" r="6.75"/>
<circle cx="705.5" cy="1020.5" r="6.75"/>
<circle cx="679.0" cy="986.5" r="6.75"/>
<circle cx="678.4" cy="1054.4" r="6.75"/>
<circle cx="715.8" cy="1009.6" r="6.75"/>
<circle cx="690.6" cy="1010.0" r="6.75"/>
<circle cx="672.1" cy="989.5" r="6.75"/>
<circle cx="659.6" cy="1073.0" r="6.75"/>
<circle cx="682.2" cy="1016.6" r="6.75"/>
<circle cx="665.2" cy="1066.0" r="6.75"/>
<circle cx="408.8" cy="552.5" r="6.75"/>
<circle cx="843.8" cy="778.8" r="6.75"/>
<circle cx="566.2" cy="806.2" r="6.75"/>
<circle cx="642.5" cy="822.5" r="6.75"/>
<circle cx="586.2" cy="851.2" r="6.75"/>
<circle cx="651.2" cy="910.0" r="6.75"/>
<circle cx="678.8" cy="892.0" r="6.75"/>
<circle cx="660.0" cy="881.2" r="6.75"/>
<circle cx="662.5" cy="875.0" r="6.75"/>
<circle cx="734.2" cy="916.2" r="6.75"/>
<circle cx="948.8" cy="872.5" r="6.75"/>
<circle cx="966.2" cy="877.5" r="6.75"/>
<circle cx="963.8" cy="867.5" r="6.75"/>
<circle cx="975.0" cy="876.2" r="6.75"/>
<circle cx="970.0" cy="881.2" r="6.75"/>
<circle cx="982.5" cy="838.2" r="6.75"/>
<circle cx="968.8" cy="828.0" r="6.75"/>
<circle cx="915.5" cy="809.2" r="6.75"/>
<circle cx="865.0" cy="580.0" r="6.75"/>
<circle cx="612.7" cy="780.2" r="6.75"/>
<circle cx="573.2" cy="733.8" r="6.75"/>
<circle cx="648.8" cy="758.6" r="6.75"/>
<circle cx="659.2" cy="872.8" r="6.75"/>
<circle cx="727.7" cy="649.4" r="6.75"/>
<circle cx="647.6" cy="727.0" r="6.75"/>
<circle cx="649.5" cy="759.2" r="6.75"/>
<circle cx="638.6" cy="791.1" r="6.75"/>
<circle cx="606.8" cy="795.6" r="6.75"/>
<circle cx="618.8" cy="802.0" r="6.75"/>
<circle cx="582.4" cy="792.6" r="6.75"/>
<circle cx="586.1" cy="851.9" r="6.75"/>
<circle cx="695.6" cy="668.1" r="6.75"/>
<circle cx="705.0" cy="656.9" r="6.75"/>
<circle cx="708.8" cy="662.5" r="6.75"/>
<circle cx="678.8" cy="891.2" r="6.75"/>
<circle cx="735.0" cy="1004.5" r="6.75"/>
</g>
<g fill="#f2b49e">
<circle cx="350.6" cy="795.0" r="6.75"/>
<circle cx="779.0" cy="627.7" r="6.75"/>
<circle cx="907.6" cy="685.9" r="6.75"/>
<circle cx="897.8" cy="679.4" r="6.75"/>
<circle cx="881.1" cy="635.1" r="6.75"/>
<circle cx="905.0" cy="662.5" r="6.75"/>
<circle cx="917.2" cy="675.6" r="6.75"/>
<circle cx="909.5" cy="634.6" r="6.75"/>
<circle cx="911.5" cy="651.5" r="6.75"/>
<circle cx="888.7" cy="651.2" r="6.75"/>
<circle cx="874.2" cy="645.8" r="6.75"/>
<circle cx="962.1" cy="655.4" r="6.75"/>
<circle cx="890.5" cy="642.0" r="6.75"/>
<circle cx="691.8" cy="674.5" r="6.75"/>
<circle cx="598.3" cy="805.9" r="6.75"/>
<circle cx="604.5" cy="817.9" r="6.75"/>
<circle cx="589.5" cy="794.5" r="6.75"/>
<circle cx="667.8" cy="961.2" r="6.75"/>
<circle cx="672.7" cy="1036.4" r="6.75"/>
<circle cx="697.1" cy="1027.5" r="6.75"/>
<circle cx="728.4" cy="1023.2" r="6.75"/>
<circle cx="696.0" cy="1063.5" r="6.75"/>
<circle cx="675.2" cy="985.0" r="6.75"/>
<circle cx="666.7" cy="1078.3" r="6.75"/>
<circle cx="683.2" cy="1061.4" r="6.75"/>
<circle cx="726.7" cy="1044.7" r="6.75"/>
<circle cx="712.4" cy="1014.3" r="6.75"/>
<circle cx="737.8" cy="1027.0" r="6.75"/>
<circle cx="683.0" cy="1023.1" r="6.75"/>
<circle cx="685.9" cy="1067.5" r="6.75"/>
<circle cx="693.9" cy="1019.0" r="6.75"/>
<circle cx="715.3" cy="1064.0" r="6.75"/>
<circle cx="387.0" cy="788.8" r="6.75"/>
<circle cx="761.2" cy="625.0" r="6.75"/>
<circle cx="775.0" cy="635.0" r="6.75"/>
<circle cx="766.2" cy="638.8" r="6.75"/>
<circle cx="733.8" cy="648.0" r="6.75"/>
<circle cx="695.0" cy="667.5" r="6.75"/>
<circle cx="648.8" cy="727.5" r="6.75"/>
<circle cx="650.0" cy="758.2" r="6.75"/>
<circle cx="721.2" cy="995.0" r="6.75"/>
<circle cx="735.0" cy="1005.0" r="6.75"/>
<circle cx="846.2" cy="633.8" r="6.75"/>
<circle cx="657.2" cy="886.7" r="6.75"/>
<circle cx="775.7" cy="724.7" r="6.75"/>
<circle cx="660.0" cy="881.9" r="6.75"/>
<circle cx="721.9" cy="994.4" r="6.75"/>
</g>
<g fill="#eda895">
<circle cx="753.3" cy="525.3" r="6.75"/>
<circle cx="915.0" cy="665.8" r="6.75"/>
<circle cx="881.7" cy="664.3" r="6.75"/>
<circle cx="908.6" cy="668.4" r="6.75"/>
<circle cx="878.2" cy="654.3" r="6.75"/>
<circle cx="903.8" cy="651.2" r="6.75"/>
<circle cx="902.1" cy="645.8" r="6.75"/>
<circle cx="867.8" cy="656.3" r="6.75"/>
<circle cx="898.0" cy="651.0" r="6.75"/>
<circle cx="895.9" cy="659.2" r="6.75"/>
<circle cx="897.9" cy="674.0" r="6.75"/>
<circle cx="904.4" cy="656.4" r="6.75"/>
<circle cx="870.5" cy="623.3" r="6.75"/>
<circle cx="879.4" cy="629.5" r="6.75"/>
<circle cx="615.1" cy="823.9" r="6.75"/>
<circle cx="595.8" cy="795.0" r="6.75"/>
<circle cx="583.5" cy="807.4" r="6.75"/>
<circle cx="683.3" cy="1008.5" r="6.75"/>
<circle cx="711.3" cy="1027.9" r="6.75"/>
<circle cx="694.5" cy="1023.6" r="6.75"/>
<circle cx="688.9" cy="979.9" r="6.75"/>
<circle cx="699.2" cy="1004.2" r="6.75"/>
<circle cx="736.3" cy="1018.6" r="6.75"/>
<circle cx="697.7" cy="1034.3" r="6.75"/>
<circle cx="691.4" cy="986.6" r="6.75"/>
<circle cx="689.2" cy="1015.4" r="6.75"/>
<circle cx="688.9" cy="1070.6" r="6.75"/>
<circle cx="692.7" cy="996.7" r="6.75"/>
<circle cx="713.9" cy="1036.9" r="6.75"/>
<circle cx="667.6" cy="1071.5" r="6.75"/>
<circle cx="679.7" cy="1029.0" r="6.75"/>
<circle cx="661.1" cy="1027.0" r="6.75"/>
<circle cx="221.2" cy="449.2" r="6.75"/>
<circle cx="770.0" cy="533.8" r="6.75"/>
<circle cx="776.2" cy="537.5" r="6.75"/>
<circle cx="585.0" cy="780.6" r="6.75"/>
</g>
<g fill="#e89c8c">
<circle cx="893.5" cy="668.1" r="6.75"/>
<circle cx="870.9" cy="636.5" r="6.75"/>
<circle cx="876.1" cy="662.6" r="6.75"/>
<circle cx="918.5" cy="686.2" r="6.75"/>
<circle cx="885.2" cy="643.8" r="6.75"/>
<circle cx="601.1" cy="798.3" r="6.75"/>
<circle cx="690.0" cy="1024.4" r="6.75"/>
<circle cx="719.4" cy="1044.0" r="6.75"/>
<circle cx="656.9" cy="1076.2" r="6.75"/>
<circle cx="684.2" cy="992.7" r="6.75"/>
<circle cx="665.1" cy="1009.4" r="6.75"/>
<circle cx="701.2" cy="1045.4" r="6.75"/>
<circle cx="721.2" cy="1010.6" r="6.75"/>
<circle cx="717.2" cy="1023.4" r="6.75"/>
<circle cx="704.5" cy="998.9" r="6.75"/>
<circle cx="693.2" cy="1006.8" r="6.75"/>
<circle cx="670.9" cy="1068.6" r="6.75"/>
<circle cx="669.3" cy="1063.7" r="6.75"/>
<circle cx="710.7" cy="1006.5" r="6.75"/>
<circle cx="713.0" cy="1019.5" r="6.75"/>
<circle cx="697.1" cy="998.9" r="6.75"/>
<circle cx="746.2" cy="510.0" r="6.75"/>
<circle cx="755.0" cy="522.5" r="6.75"/>
<circle cx="598.8" cy="833.8" r="6.75"/>
<circle cx="663.8" cy="993.8" r="6.75"/>
<circle cx="698.8" cy="993.8" r="6.75"/>
<circle cx="718.2" cy="1047.5" r="6.75"/>
<circle cx="719.5" cy="1060.0" r="6.75"/>
<circle cx="694.5" cy="1063.8" r="6.75"/>
<circle cx="683.8" cy="1077.5" r="6.75"/>
<circle cx="736.2" cy="1027.5" r="6.75"/>
<circle cx="598.9" cy="833.9" r="6.75"/>
<circle cx="671.2" cy="893.1" r="6.75"/>
</g>
<g fill="#e29082">
<circle cx="875.0" cy="658.5" r="6.75"/>
<circle cx="888.6" cy="678.7" r="6.75"/>
<circle cx="903.3" cy="672.9" r="6.75"/>
<circle cx="607.0" cy="834.4" r="6.75"/>
<circle cx="586.0" cy="790.2" r="6.75"/>
<circle cx="708.1" cy="1066.6" r="6.75"/>
<circle cx="693.6" cy="991.6" r="6.75"/>
<circle cx="713.0" cy="1047.3" r="6.75"/>
<circle cx="708.6" cy="1044.4" r="6.75"/>
<circle cx="697.4" cy="1069.6" r="6.75"/>
<circle cx="717.6" cy="1013.2" r="6.75"/>
<circle cx="701.2" cy="1060.4" r="6.75"/>
<circle cx="678.4" cy="992.3" r="6.75"/>
<circle cx="414.2" cy="552.5" r="6.75"/>
<circle cx="747.5" cy="532.5" r="6.75"/>
<circle cx="752.5" cy="536.2" r="6.75"/>
<circle cx="762.5" cy="541.2" r="6.75"/>
<circle cx="892.5" cy="791.2" r="6.75"/>
<circle cx="587.5" cy="805.0" r="6.75"/>
<circle cx="592.5" cy="826.2" r="6.75"/>
<circle cx="614.2" cy="833.2" r="6.75"/>
<circle cx="671.2" cy="892.5" r="6.75"/>
<circle cx="687.5" cy="985.0" r="6.75"/>
<circle cx="681.2" cy="996.8" r="6.75"/>
<circle cx="707.5" cy="1023.8" r="6.75"/>
<circle cx="687.5" cy="1031.2" r="6.75"/>
<circle cx="678.8" cy="1037.5" r="6.75"/>
<circle cx="911.2" cy="643.0" r="6.75"/>
<circle cx="870.0" cy="645.0" r="6.75"/>
<circle cx="878.8" cy="642.5" r="6.75"/>
<circle cx="875.0" cy="662.5" r="6.75"/>
<circle cx="905.0" cy="688.8" r="6.75"/>
<circle cx="887.5" cy="688.8" r="6.75"/>
</g>
<g fill="#dc837c">
<circle cx="888.1" cy="667.8" r="6.75"/>
<circle cx="894.1" cy="654.7" r="6.75"/>
<circle cx="885.7" cy="657.7" r="6.75"/>
<circle cx="867.9" cy="640.1" r="6.75"/>
<circle cx="714.5" cy="994.3" r="6.75"/>
<circle cx="679.7" cy="1077.3" r="6.75"/>
<circle cx="647.0" cy="984.5" r="6.75"/>
<circle cx="413.2" cy="785.0" r="6.75"/>
<circle cx="587.6" cy="803.9" r="6.75"/>
<circle cx="583.1" cy="820.8" r="6.75"/>
<circle cx="592.5" cy="825.6" r="6.75"/>
<circle cx="614.2" cy="833.9" r="6.75"/>
<circle cx="668.2" cy="824.5" r="6.75"/>
<circle cx="675.0" cy="829.4" r="6.75"/>
<circle cx="624.4" cy="865.8" r="6.75"/>
</g>
<g fill="#d67676">
<circle cx="893.7" cy="677.6" r="6.75"/>
<circle cx="873.4" cy="652.3" r="6.75"/>
<circle cx="891.8" cy="660.5" r="6.75"/>
<circle cx="675.0" cy="828.8" r="6.75"/>
<circle cx="624.2" cy="865.5" r="6.75"/>
<circle cx="672.0" cy="1081.2" r="6.75"/>
<circle cx="724.5" cy="949.2" r="6.75"/>
<circle cx="880.0" cy="655.0" r="6.75"/>
<circle cx="893.8" cy="656.2" r="6.75"/>
<circle cx="724.5" cy="949.4" r="6.75"/>
</g>
<g fill="#cf6a71">
<circle cx="886.5" cy="661.8" r="6.75"/>
<circle cx="613.6" cy="816.4" r="6.75"/>
<circle cx="688.0" cy="1035.6" r="6.75"/>
<circle cx="419.2" cy="764.2" r="6.75"/>
<circle cx="733.8" cy="532.5" r="6.75"/>
<circle cx="568.8" cy="745.0" r="6.75"/>
<circle cx="587.5" cy="746.2" r="6.75"/>
<circle cx="568.8" cy="758.8" r="6.75"/>
<circle cx="581.2" cy="761.2" r="6.75"/>
<circle cx="591.2" cy="760.0" r="6.75"/>
<circle cx="581.2" cy="770.0" r="6.75"/>
<circle cx="592.5" cy="771.2" r="6.75"/>
<circle cx="572.5" cy="777.5" r="6.75"/>
<circle cx="621.2" cy="757.5" r="6.75"/>
<circle cx="618.8" cy="787.5" r="6.75"/>
<circle cx="583.8" cy="820.0" r="6.75"/>
<circle cx="668.8" cy="823.8" r="6.75"/>
<circle cx="719.2" cy="1019.2" r="6.75"/>
<circle cx="958.2" cy="863.2" r="6.75"/>
<circle cx="851.2" cy="587.5" r="6.75"/>
<circle cx="873.0" cy="627.0" r="6.75"/>
<circle cx="851.2" cy="638.8" r="6.75"/>
<circle cx="864.5" cy="654.2" r="6.75"/>
<circle cx="890.0" cy="667.5" r="6.75"/>
<circle cx="893.8" cy="681.2" r="6.75"/>
<circle cx="568.1" cy="745.0" r="6.75"/>
<circle cx="586.9" cy="746.9" r="6.75"/>
<circle cx="568.1" cy="760.0" r="6.75"/>
<circle cx="581.2" cy="769.4" r="6.75"/>
<circle cx="591.4" cy="760.8" r="6.75"/>
<circle cx="573.0" cy="778.0" r="6.75"/>
<circle cx="621.4" cy="758.1" r="6.75"/>
<circle cx="618.8" cy="787.4" r="6.75"/>
</g>
</g>
<rect x="640" y="609" width="1" height="1" fill="#3f679c"/>
<g id="labels">
<circle cx="371.5" cy="344.5" r="10.9" fill="#fff" fill-opacity="0.93" stroke="#000" stroke-width="1.25"/>
<text x="371.1" y="349.9" text-anchor="middle" font-size="14.9" font-weight="bold">1</text>
<circle cx="501.0" cy="736.5" r="10.9" fill="#fff" fill-opacity="0.93" stroke="#000" stroke-width="1.25"/>
<text x="500.6" y="742.0" text-anchor="middle" font-size="14.9" font-weight="bold">2</text>
<circle cx="890.0" cy="883.7" r="10.9" fill="#fff" fill-opacity="0.93" stroke="#000" stroke-width="1.25"/>
<text x="889.6" y="889.2" text-anchor="middle" font-size="14.9" font-weight="bold">3</text>
<circle cx="615.3" cy="487.5" r="10.9" fill="#fff" fill-opacity="0.93" stroke="#000" stroke-width="1.25"/>
<text x="614.9" y="492.9" text-anchor="middle" font-size="14.9" font-weight="bold">4</text>
<circle cx="575.0" cy="993.7" r="10.9" fill="#fff" fill-opacity="0.93" stroke="#000" stroke-width="1.25"/>
<text x="574.6" y="999.2" text-anchor="middle" font-size="14.9" font-weight="bold">5</text>
<circle cx="679.5" cy="265.5" r="10.9" fill="#fff" fill-opacity="0.93" stroke="#000" stroke-width="1.25"/>
<text x="679.1" y="270.9" text-anchor="middle" font-size="14.9" font-weight="bold">6</text>
<circle cx="979.2" cy="444.4" r="10.9" fill="#fff" fill-opacity="0.93" stroke="#000" stroke-width="1.25"/>
<text x="978.8" y="449.8" text-anchor="middle" font-size="14.9" font-weight="bold">7</text>
<circle cx="819.5" cy="623.4" r="10.9" fill="#fff" fill-opacity="0.93" stroke="#000" stroke-width="1.25"/>
<text x="819.1" y="628.9" text-anchor="middle" font-size="14.9" font-weight="bold">8</text>
<circle cx="1013.2" cy="310.3" r="10.9" fill="#fff" fill-opacity="0.93" stroke="#000" stroke-width="1.25"/>
<text x="1012.8" y="315.8" text-anchor="middle" font-size="14.9" font-weight="bold">9</text>
<circle cx="761.5" cy="514.4" r="10.9" fill="#fff" fill-opacity="0.93" stroke="#000" stroke-width="1.25"/>
<text x="761.1" y="519.9" text-anchor="middle" font-size="14.9" font-weight="bold">10</text>
</g>
<g id="legend">
<text x="1031" y="1127" text-anchor="middle" font-size="13">Variance, Z-scaled</text>
<rect x="850" y="1134" width="300.5" height="15" fill="url(#lg)" fill-opacity="0.7"/>
<line x1="850.5" y1="1134" x2="850.5" y2="1149" stroke="#000" stroke-width="1"/><text x="850.7" y="1162.7" text-anchor="middle" font-size="11">0.0</text><line x1="879.5" y1="1134" x2="879.5" y2="1149" stroke="#000" stroke-width="1"/><text x="879.7" y="1162.7" text-anchor="middle" font-size="11">0.6</text><line x1="913.5" y1="1134" x2="913.5" y2="1149" stroke="#000" stroke-width="1"/><text x="913.7" y="1162.7" text-anchor="middle" font-size="11">1.3</text><line x1="947.5" y1="1134" x2="947.5" y2="1149" stroke="#000" stroke-width="1"/><text x="947.7" y="1162.7" text-anchor="middle" font-size="11">2.0</text><line x1="981.5" y1="1134" x2="981.5" y2="1149" stroke="#000" stroke-width="1"/><text x="981.7" y="1162.7" text-anchor="middle" font-size="11">2.7</text><line x1="1015.5" y1="1134" x2="1015.5" y2="1149" stroke="#000" stroke-width="1"/><text x="1015.7" y="1162.7" text-anchor="middle" font-size="11">3.4</text><line x1="1048.5" y1="1134" x2="1048.5" y2="1149" stroke="#000" stroke-width="1"/><text x="1048.7" y="1162.7" text-anchor="middle" font-size="11">4.1</text><line x1="1082.5" y1="1134" x2="1082.5" y2="1149" stroke="#000" stroke-width="1"/><text x="1082.7" y="1162.7" text-anchor="middle" font-size="11">4.8</text><line x1="1116.5" y1="1134" x2="1116.5" y2="1149" stroke="#000" stroke-width="1"/><text x="1116.7" y="1162.7" text-anchor="middle" font-size="11">5.5</text><line x1="1150.5" y1="1134" x2="1150.5" y2="1149" stroke="#000" stroke-width="1"/><text x="1150.7" y="1162.7" text-anchor="middle" font-size="11">6.2</text>
</g>
</svg>
</body></html>
